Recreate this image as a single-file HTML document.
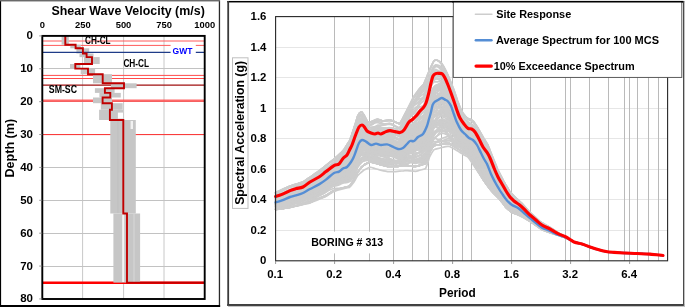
<!DOCTYPE html>
<html><head><meta charset="utf-8"><title>Shear Wave Velocity and Site Response Spectra</title>
<style>html,body{margin:0;padding:0;background:#fff;overflow:hidden}svg{display:block}text{font-kerning:normal}</style>
</head><body>
<svg width="685" height="307" viewBox="0 0 685 307">
<rect width="685" height="307" fill="#fff"/>
<rect x="0" y="0" width="220.1" height="1.45" fill="#6a6a6a"/>
<rect x="0" y="1.2" width="1.1" height="306" fill="#000"/>
<rect x="218.8" y="1.2" width="1.3" height="306" fill="#2a2a2a"/>
<rect x="0" y="305.0" width="220.1" height="2" fill="#000"/>
<line x1="82.6" y1="35.9" x2="82.6" y2="298.95" stroke="#c8c8c8" stroke-width="1"/>
<line x1="123.6" y1="35.9" x2="123.6" y2="298.95" stroke="#c8c8c8" stroke-width="1"/>
<line x1="164.0" y1="35.9" x2="164.0" y2="298.95" stroke="#c8c8c8" stroke-width="1"/>
<line x1="42.3" y1="68.5" x2="204.7" y2="68.5" stroke="#c2c2c2" stroke-width="1"/>
<line x1="42.3" y1="101.5" x2="204.7" y2="101.5" stroke="#c2c2c2" stroke-width="1"/>
<line x1="42.3" y1="134.5" x2="204.7" y2="134.5" stroke="#c2c2c2" stroke-width="1"/>
<line x1="42.3" y1="167.5" x2="204.7" y2="167.5" stroke="#c2c2c2" stroke-width="1"/>
<line x1="42.3" y1="200.5" x2="204.7" y2="200.5" stroke="#c2c2c2" stroke-width="1"/>
<line x1="42.3" y1="233.5" x2="204.7" y2="233.5" stroke="#c2c2c2" stroke-width="1"/>
<line x1="42.3" y1="266.5" x2="204.7" y2="266.5" stroke="#c2c2c2" stroke-width="1"/>
<line x1="42.3" y1="282.7" x2="204.7" y2="282.7" stroke="#ff0000" stroke-width="2.6"/>
<line x1="42.3" y1="41.0" x2="204.7" y2="41.0" stroke="#ff5a5a" stroke-width="1.0"/>
<line x1="42.3" y1="45.4" x2="204.7" y2="45.4" stroke="#ff5a5a" stroke-width="1.0"/>
<line x1="42.3" y1="75.4" x2="204.7" y2="75.4" stroke="#ff4a4a" stroke-width="1.0"/>
<line x1="42.3" y1="78.5" x2="204.7" y2="78.5" stroke="#ff4a4a" stroke-width="1.0"/>
<line x1="42.3" y1="134.6" x2="204.7" y2="134.6" stroke="#ff3030" stroke-width="1.0"/>
<line x1="42.3" y1="100.7" x2="204.7" y2="100.7" stroke="#ff5050" stroke-width="2.6" opacity="0.85"/>
<line x1="42.3" y1="85.2" x2="204.7" y2="85.2" stroke="#a01010" stroke-width="1.25"/>
<rect x="61.6" y="36.0" width="7.2" height="8.7" fill="#c6c6c6"/>
<rect x="70.3" y="44.7" width="10.5" height="3.6" fill="#c6c6c6"/>
<rect x="76.4" y="48.3" width="12.8" height="5.2" fill="#c6c6c6"/>
<rect x="79.5" y="53.5" width="14.0" height="3.6" fill="#c6c6c6"/>
<rect x="84.0" y="57.1" width="15.7" height="6.9" fill="#c6c6c6"/>
<rect x="70.0" y="64.0" width="10.4" height="4.6" fill="#c6c6c6"/>
<rect x="80.7" y="68.6" width="14.4" height="5.6" fill="#c6c6c6"/>
<rect x="93.0" y="74.2" width="19.0" height="9.1" fill="#c6c6c6"/>
<rect x="110.9" y="83.3" width="25.7" height="4.9" fill="#c6c6c6"/>
<rect x="94.9" y="88.2" width="19.7" height="4.7" fill="#c6c6c6"/>
<rect x="99.4" y="92.9" width="21.4" height="4.6" fill="#c6c6c6"/>
<rect x="93.0" y="97.5" width="19.0" height="5.7" fill="#c6c6c6"/>
<rect x="100.8" y="103.2" width="21.9" height="6.5" fill="#c6c6c6"/>
<rect x="99.1" y="109.7" width="21.3" height="10.3" fill="#c6c6c6"/>
<rect x="110.3" y="120.0" width="25.5" height="93.5" fill="#c6c6c6"/>
<rect x="113.4" y="213.5" width="26.7" height="69.1" fill="#c6c6c6"/>
<rect x="118" y="109.7" width="5" height="10.3" fill="#c6c6c6"/>
<rect x="117.9" y="112.6" width="5.1" height="6" fill="#fff"/>
<rect x="130.6" y="121" width="2.4" height="8" fill="#f2f2f2"/>
<rect x="122.2" y="214" width="2.0" height="68" fill="#f4f4f4"/>
<rect x="133.6" y="214" width="0.8" height="68" fill="#dcdcdc"/>
<rect x="117.5" y="120" width="0.8" height="93" fill="#bdbdbd"/>
<line x1="42.3" y1="52.4" x2="204.7" y2="52.4" stroke="#1f3c88" stroke-width="1.4"/>
<rect x="170.6" y="44" width="25.2" height="12.5" fill="#fff"/>
<text x="172.5" y="54" font-family="Liberation Sans, Arial, sans-serif" font-weight="bold" font-size="8.6" fill="#0000ff" textLength="19.9" lengthAdjust="spacingAndGlyphs">GWT</text>
<path d="M65.3,36.0 L65.3,44.7 L75.6,44.7 L75.6,48.3 L82.9,48.3 L82.9,53.5 L86.6,53.5 L86.6,57.1 L92.0,57.1 L92.0,64.0 L75.3,64.0 L75.3,68.6 L88.0,68.6 L88.0,74.2 L102.7,74.2 L102.7,83.3 L124.0,83.3 L124.0,88.2 L104.9,88.2 L104.9,92.9 L110.3,92.9 L110.3,97.5 L102.6,97.5 L102.6,103.2 L111.9,103.2 L111.9,109.7 L109.9,109.7 L109.9,120.0 L123.3,120.0 L123.3,213.5 L127.0,213.5 L127.0,282.6 L204.2,282.6" fill="none" stroke="#c00000" stroke-width="1.9" stroke-linejoin="miter"/>
<rect x="42.3" y="35.9" width="162.4" height="263.1" fill="none" stroke="#000" stroke-width="1.9"/>
<line x1="39.2" y1="35.90" x2="42.3" y2="35.90" stroke="#808080" stroke-width="0.8"/>
<line x1="39.2" y1="68.78" x2="42.3" y2="68.78" stroke="#808080" stroke-width="0.8"/>
<line x1="39.2" y1="101.66" x2="42.3" y2="101.66" stroke="#808080" stroke-width="0.8"/>
<line x1="39.2" y1="134.54" x2="42.3" y2="134.54" stroke="#808080" stroke-width="0.8"/>
<line x1="39.2" y1="167.43" x2="42.3" y2="167.43" stroke="#808080" stroke-width="0.8"/>
<line x1="39.2" y1="200.31" x2="42.3" y2="200.31" stroke="#808080" stroke-width="0.8"/>
<line x1="39.2" y1="233.19" x2="42.3" y2="233.19" stroke="#808080" stroke-width="0.8"/>
<line x1="39.2" y1="266.07" x2="42.3" y2="266.07" stroke="#808080" stroke-width="0.8"/>
<line x1="39.2" y1="298.95" x2="42.3" y2="298.95" stroke="#808080" stroke-width="0.8"/>
<text x="51.4" y="15.4" font-family="Liberation Sans, Arial, sans-serif" font-weight="bold" font-size="12.9" textLength="153.4" lengthAdjust="spacingAndGlyphs">Shear Wave Velocity (m/s)</text>
<text x="42.3" y="27.9" font-family="Liberation Sans, Arial, sans-serif" font-weight="bold" font-size="9.4" text-anchor="middle">0</text>
<text x="82.9" y="27.9" font-family="Liberation Sans, Arial, sans-serif" font-weight="bold" font-size="9.4" text-anchor="middle">250</text>
<text x="123.5" y="27.9" font-family="Liberation Sans, Arial, sans-serif" font-weight="bold" font-size="9.4" text-anchor="middle">500</text>
<text x="164.1" y="27.9" font-family="Liberation Sans, Arial, sans-serif" font-weight="bold" font-size="9.4" text-anchor="middle">750</text>
<text x="204.7" y="27.9" font-family="Liberation Sans, Arial, sans-serif" font-weight="bold" font-size="9.4" text-anchor="middle">1000</text>
<text x="33" y="39.3" font-family="Liberation Sans, Arial, sans-serif" font-weight="bold" font-size="11.5" text-anchor="end">0</text>
<text x="33" y="72.2" font-family="Liberation Sans, Arial, sans-serif" font-weight="bold" font-size="11.5" text-anchor="end">10</text>
<text x="33" y="105.1" font-family="Liberation Sans, Arial, sans-serif" font-weight="bold" font-size="11.5" text-anchor="end">20</text>
<text x="33" y="137.9" font-family="Liberation Sans, Arial, sans-serif" font-weight="bold" font-size="11.5" text-anchor="end">30</text>
<text x="33" y="170.8" font-family="Liberation Sans, Arial, sans-serif" font-weight="bold" font-size="11.5" text-anchor="end">40</text>
<text x="33" y="203.7" font-family="Liberation Sans, Arial, sans-serif" font-weight="bold" font-size="11.5" text-anchor="end">50</text>
<text x="33" y="236.6" font-family="Liberation Sans, Arial, sans-serif" font-weight="bold" font-size="11.5" text-anchor="end">60</text>
<text x="33" y="269.5" font-family="Liberation Sans, Arial, sans-serif" font-weight="bold" font-size="11.5" text-anchor="end">70</text>
<text x="33" y="302.3" font-family="Liberation Sans, Arial, sans-serif" font-weight="bold" font-size="11.5" text-anchor="end">80</text>
<text transform="translate(13.6,177.5) rotate(-90)" font-family="Liberation Sans, Arial, sans-serif" font-weight="bold" font-size="12.5" textLength="58.6" lengthAdjust="spacingAndGlyphs">Depth (m)</text>
<text x="85" y="44.2" font-family="Liberation Sans, Arial, sans-serif" font-weight="bold" font-size="10.3" textLength="25.6" lengthAdjust="spacingAndGlyphs">CH-CL</text>
<text x="123.4" y="66.8" font-family="Liberation Sans, Arial, sans-serif" font-weight="bold" font-size="10.3" textLength="25.7" lengthAdjust="spacingAndGlyphs">CH-CL</text>
<text x="48.8" y="92.8" font-family="Liberation Sans, Arial, sans-serif" font-weight="bold" font-size="10.3" textLength="28.2" lengthAdjust="spacingAndGlyphs">SM-SC</text>
<rect x="227.3" y="1.05" width="457" height="304.6" fill="#fff"/>
<rect x="227.3" y="0.95" width="457" height="1.5" fill="#000"/>
<rect x="227.3" y="304.25" width="457" height="1.6" fill="#000"/>
<rect x="227.3" y="1.05" width="1.8" height="304.6" fill="#3a3a3a"/>
<rect x="683.0" y="1.05" width="1.3" height="304.6" fill="#4a4a4a"/>
<rect x="228" y="305.8" width="457" height="1.2" fill="#c4c4c4"/>
<rect x="684.4" y="1" width="0.6" height="306" fill="#bdbdbd"/>
<line x1="275.6" y1="230.5" x2="667.6" y2="230.5" stroke="#e6e6e6" stroke-width="1"/>
<line x1="275.6" y1="199.5" x2="667.6" y2="199.5" stroke="#e6e6e6" stroke-width="1"/>
<line x1="275.6" y1="169.5" x2="667.6" y2="169.5" stroke="#e6e6e6" stroke-width="1"/>
<line x1="275.6" y1="138.5" x2="667.6" y2="138.5" stroke="#e6e6e6" stroke-width="1"/>
<line x1="275.6" y1="108.5" x2="667.6" y2="108.5" stroke="#e6e6e6" stroke-width="1"/>
<line x1="275.6" y1="77.5" x2="667.6" y2="77.5" stroke="#e6e6e6" stroke-width="1"/>
<line x1="275.6" y1="47.5" x2="667.6" y2="47.5" stroke="#e6e6e6" stroke-width="1"/>
<line x1="334.5" y1="16.6" x2="334.5" y2="260.8" stroke="#bababa" stroke-width="1"/>
<line x1="369.5" y1="16.6" x2="369.5" y2="260.8" stroke="#bababa" stroke-width="1"/>
<line x1="393.5" y1="16.6" x2="393.5" y2="260.8" stroke="#bababa" stroke-width="1"/>
<line x1="412.5" y1="16.6" x2="412.5" y2="260.8" stroke="#bababa" stroke-width="1"/>
<line x1="428.5" y1="16.6" x2="428.5" y2="260.8" stroke="#bababa" stroke-width="1"/>
<line x1="441.5" y1="16.6" x2="441.5" y2="260.8" stroke="#bababa" stroke-width="1"/>
<line x1="452.5" y1="16.6" x2="452.5" y2="260.8" stroke="#bababa" stroke-width="1"/>
<line x1="462.5" y1="16.6" x2="462.5" y2="260.8" stroke="#bababa" stroke-width="1"/>
<line x1="471.5" y1="16.6" x2="471.5" y2="260.8" stroke="#bababa" stroke-width="1"/>
<line x1="530.5" y1="16.6" x2="530.5" y2="260.8" stroke="#bababa" stroke-width="1"/>
<line x1="565.5" y1="16.6" x2="565.5" y2="260.8" stroke="#bababa" stroke-width="1"/>
<line x1="589.5" y1="16.6" x2="589.5" y2="260.8" stroke="#bababa" stroke-width="1"/>
<line x1="608.5" y1="16.6" x2="608.5" y2="260.8" stroke="#bababa" stroke-width="1"/>
<line x1="624.5" y1="16.6" x2="624.5" y2="260.8" stroke="#bababa" stroke-width="1"/>
<line x1="637.5" y1="16.6" x2="637.5" y2="260.8" stroke="#bababa" stroke-width="1"/>
<line x1="648.5" y1="16.6" x2="648.5" y2="260.8" stroke="#bababa" stroke-width="1"/>
<line x1="658.5" y1="16.6" x2="658.5" y2="260.8" stroke="#bababa" stroke-width="1"/>
<line x1="511.5" y1="16.6" x2="511.5" y2="260.8" stroke="#bababa" stroke-width="1"/>
<line x1="570.5" y1="16.6" x2="570.5" y2="260.8" stroke="#bababa" stroke-width="1"/>
<line x1="629.5" y1="16.6" x2="629.5" y2="260.8" stroke="#bababa" stroke-width="1"/>
<g fill="none" stroke="#cdcdcd" stroke-width="1.7" stroke-linejoin="round" stroke-linecap="round">
<path d="M275.6,209.7 277.6,209.4 279.6,209.1 281.6,208.8 283.6,208.5 285.6,208.2 287.6,208.0 289.6,207.7 291.6,207.2 293.6,206.8 295.6,206.3 297.6,205.8 299.6,205.4 301.6,204.9 303.6,204.5 305.6,204.0 307.6,203.6 309.6,203.1 311.6,202.3 313.6,201.5 315.6,200.7 317.6,199.9 319.6,199.0 321.6,198.2 323.6,197.4 325.6,196.6 327.6,195.4 329.6,194.1 331.6,192.9 333.6,191.6 335.6,190.9 337.6,190.3 339.6,189.7 341.6,189.1 343.6,188.6 345.6,188.2 347.6,187.7 349.6,187.3 351.6,185.1 353.6,182.5 355.6,179.2 357.6,175.7 359.6,173.7 361.6,172.0 363.6,170.3 365.6,169.2 367.6,168.2 369.6,167.2 371.6,167.5 373.6,168.1 375.6,168.7 377.6,169.3 379.6,169.9 381.6,170.4 383.6,170.8 385.6,171.2 387.6,171.6 389.6,171.7 391.6,171.6 393.6,171.6 395.6,171.6 397.6,171.4 399.6,171.2 401.6,171.0 403.6,170.8 405.6,170.5 407.6,170.6 409.6,170.8 411.6,171.0 413.6,171.2 415.6,171.4 417.6,170.9 419.6,170.3 421.6,169.8 423.6,169.2 425.6,168.6 427.6,163.3 429.6,156.8 431.6,153.1 433.6,150.1 435.6,149.1 437.6,148.6 439.6,148.1 441.6,147.5 443.6,147.1 445.6,146.7 447.6,146.3 449.6,146.4 451.6,147.4 453.6,148.5 455.6,149.7 457.6,150.9 459.6,152.2 461.6,153.4 463.6,154.7 465.6,155.7 467.6,156.8 469.6,159.3 471.6,162.3 473.6,165.2 475.6,168.2 477.6,171.3 479.6,174.4 481.6,177.4 483.6,180.5 485.6,183.1 487.6,185.6 489.6,188.2 491.6,190.8 493.6,192.9 495.6,195.0 497.6,197.0 499.6,199.1 501.6,201.6 503.6,204.3 505.6,207.0 507.6,208.9 509.6,210.6 511.6,212.4 513.6,213.3 515.6,214.0 517.6,214.7 519.6,215.7 521.6,216.7 523.6,217.7 525.6,218.9 527.6,220.1 529.6,221.3 531.6,222.7 533.6,224.0 535.6,225.4 537.6,226.8 539.6,228.2 541.6,229.6 543.6,230.5 545.6,231.2 547.6,232.0 549.6,232.7 551.6,233.4 553.6,234.0 555.6,234.6 557.6,235.3 559.6,235.9 561.6,236.6 563.6,237.3 565.6,238.1 567.6,238.9 569.6,239.6 571.6,240.7 573.6,241.8 575.6,242.4 577.6,242.9 579.6,243.4 581.6,243.9 583.6,244.6 585.6,245.4 587.6,246.1 589.6,246.9 591.6,247.5 593.6,248.2 595.6,248.8 597.6,249.5 599.6,250.0 601.6,250.5 603.6,251.0 605.6,251.5 607.6,251.8 609.6,252.0 611.6,252.2 613.6,252.4 615.6,252.5 617.6,252.6 619.6,252.7 621.6,252.9 623.6,253.0 625.6,253.1 627.6,253.1 629.6,253.2 631.6,253.3 633.6,253.4 635.6,253.4 637.6,253.5 639.6,253.6 641.6,253.7 643.6,253.8 645.6,253.9 647.6,254.0 649.6,254.1 651.6,254.3 653.6,254.5 655.6,254.7 657.6,254.9 659.6,255.1 661.6,255.3"/>
<path d="M275.6,192.8 277.6,191.9 279.6,190.9 281.6,190.0 283.6,189.0 285.6,188.1 287.6,187.2 289.6,186.3 291.6,185.7 293.6,185.1 295.6,184.5 297.6,183.9 299.6,183.3 301.6,182.7 303.6,181.9 305.6,180.5 307.6,179.2 309.6,177.8 311.6,176.5 313.6,175.1 315.6,173.7 317.6,172.4 319.6,170.9 321.6,169.3 323.6,167.7 325.6,166.1 327.6,164.5 329.6,162.8 331.6,161.2 333.6,159.5 335.6,157.7 337.6,155.9 339.6,154.1 341.6,152.3 343.6,150.1 345.6,146.9 347.6,143.8 349.6,140.6 351.6,135.2 353.6,129.2 355.6,123.0 357.6,116.3 359.6,112.9 361.6,111.8 363.6,114.5 365.6,118.2 367.6,122.2 369.6,122.4 371.6,121.6 373.6,120.7 375.6,119.7 377.6,119.2 379.6,119.9 381.6,120.5 383.6,120.9 385.6,120.6 387.6,120.3 389.6,120.1 391.6,120.6 393.6,121.4 395.6,122.2 397.6,123.0 399.6,123.8 401.6,121.0 403.6,117.2 405.6,113.5 407.6,109.8 409.6,106.0 411.6,102.3 413.6,98.6 415.6,95.7 417.6,93.0 419.6,90.3 421.6,88.1 423.6,85.9 425.6,81.0 427.6,75.7 429.6,70.7 431.6,65.8 433.6,61.6 435.6,59.9 437.6,60.4 439.6,61.5 441.6,63.3 443.6,66.4 445.6,70.2 447.6,74.4 449.6,79.1 451.6,84.0 453.6,89.0 455.6,94.8 457.6,100.8 459.6,106.0 461.6,111.0 463.6,114.0 465.6,116.6 467.6,118.6 469.6,119.6 471.6,120.6 473.6,122.2 475.6,125.3 477.6,128.3 479.6,131.9 481.6,135.5 483.6,139.1 485.6,142.3 487.6,145.5 489.6,150.3 491.6,155.5 493.6,160.6 495.6,165.3 497.6,170.0 499.6,174.1 501.6,178.0 503.6,181.9 505.6,185.3 507.6,188.6 509.6,191.8 511.6,194.0 513.6,196.0 515.6,197.9 517.6,199.7 519.6,201.6 521.6,203.4 523.6,205.5 525.6,207.8 527.6,210.0 529.6,212.2 531.6,214.1 533.6,215.9 535.6,217.7 537.6,219.5 539.6,221.3 541.6,222.6 543.6,223.8 545.6,225.0 547.6,226.1 549.6,227.3 551.6,228.6 553.6,229.8 555.6,231.1 557.6,232.3 559.6,233.6 561.6,234.7 563.6,235.8 565.6,236.9 567.6,238.1 569.6,239.2 571.6,240.4 573.6,241.7 575.6,242.4 577.6,242.9 579.6,243.4 581.6,243.9 583.6,244.6 585.6,245.4 587.6,246.1 589.6,246.9 591.6,247.5 593.6,248.2 595.6,248.8 597.6,249.5 599.6,250.0 601.6,250.5 603.6,251.0 605.6,251.5 607.6,251.8 609.6,252.0 611.6,252.2 613.6,252.4 615.6,252.5 617.6,252.6 619.6,252.7 621.6,252.9 623.6,253.0 625.6,253.1 627.6,253.1 629.6,253.2 631.6,253.3 633.6,253.4 635.6,253.4 637.6,253.5 639.6,253.6 641.6,253.7 643.6,253.8 645.6,253.9 647.6,254.0 649.6,254.1 651.6,254.3 653.6,254.5 655.6,254.7 657.6,254.9 659.6,255.1 661.6,255.3"/>
<path d="M275.6,193.4 277.6,192.5 279.6,191.7 281.6,190.8 283.6,189.9 285.6,189.0 287.6,188.1 289.6,187.2 291.6,186.5 293.6,185.9 295.6,185.3 297.6,184.6 299.6,184.0 301.6,183.3 303.6,182.4 305.6,181.1 307.6,179.7 309.6,178.3 311.6,176.9 313.6,175.5 315.6,174.1 317.6,172.7 319.6,171.2 321.6,169.6 323.6,168.0 325.6,166.4 327.6,164.8 329.6,163.1 331.6,161.5 333.6,159.9 335.6,158.2 337.6,156.5 339.6,154.8 341.6,153.1 343.6,151.0 345.6,148.0 347.6,145.0 349.6,142.0 351.6,136.8 353.6,131.1 355.6,125.0 357.6,118.6 359.6,115.2 361.6,114.2 363.6,116.8 365.6,120.4 367.6,124.3 369.6,124.7 371.6,124.2 373.6,123.5 375.6,122.7 377.6,122.4 379.6,123.2 381.6,123.9 383.6,124.3 385.6,124.1 387.6,123.9 389.6,123.9 391.6,124.5 393.6,125.4 395.6,126.2 397.6,127.0 399.6,127.6 401.6,125.0 403.6,121.4 405.6,117.7 407.6,114.0 409.6,110.2 411.6,106.7 413.6,103.2 415.6,100.5 417.6,97.8 419.6,95.3 421.6,93.3 423.6,91.2 425.6,86.5 427.6,81.3 429.6,76.2 431.6,71.1 433.6,66.7 435.6,64.9 437.6,65.1 439.6,65.8 441.6,67.1 443.6,69.7 445.6,73.0 447.6,76.8 449.6,81.1 451.6,85.7 453.6,90.6 455.6,96.2 457.6,102.0 459.6,106.9 461.6,111.7 463.6,114.5 465.6,116.8 467.6,118.7 469.6,119.5 471.6,120.3 473.6,121.8 475.6,124.8 477.6,127.8 479.6,131.4 481.6,135.1 483.6,138.7 485.6,142.0 487.6,145.4 489.6,150.4 491.6,155.7 493.6,160.9 495.6,165.9 497.6,170.7 499.6,175.0 501.6,179.0 503.6,183.0 505.6,186.5 507.6,189.9 509.6,193.1 511.6,195.3 513.6,197.3 515.6,199.2 517.6,200.9 519.6,202.7 521.6,204.6 523.6,206.6 525.6,208.8 527.6,210.9 529.6,213.1 531.6,214.9 533.6,216.7 535.6,218.5 537.6,220.2 539.6,222.0 541.6,223.3 543.6,224.4 545.6,225.6 547.6,226.7 549.6,227.8 551.6,229.0 553.6,230.2 555.6,231.4 557.6,232.7 559.6,233.8 561.6,234.9 563.6,236.0 565.6,237.0 567.6,238.1 569.6,239.2 571.6,240.5 573.6,241.7 575.6,242.4 577.6,242.9 579.6,243.4 581.6,243.9 583.6,244.6 585.6,245.4 587.6,246.1 589.6,246.9 591.6,247.5 593.6,248.2 595.6,248.8 597.6,249.5 599.6,250.0 601.6,250.5 603.6,251.0 605.6,251.5 607.6,251.8 609.6,252.0 611.6,252.2 613.6,252.4 615.6,252.5 617.6,252.6 619.6,252.7 621.6,252.9 623.6,253.0 625.6,253.1 627.6,253.1 629.6,253.2 631.6,253.3 633.6,253.4 635.6,253.4 637.6,253.5 639.6,253.6 641.6,253.7 643.6,253.8 645.6,253.9 647.6,254.0 649.6,254.1 651.6,254.3 653.6,254.5 655.6,254.7 657.6,254.9 659.6,255.1 661.6,255.3"/>
<path d="M275.6,203.1 277.6,202.7 279.6,202.2 281.6,201.6 283.6,200.8 285.6,200.0 287.6,199.2 289.6,198.3 291.6,197.6 293.6,196.9 295.6,196.2 297.6,195.4 299.6,194.7 301.6,194.2 303.6,193.7 305.6,192.9 307.6,192.1 309.6,191.2 311.6,190.4 313.6,189.8 315.6,189.5 317.6,189.3 319.6,189.0 321.6,188.3 323.6,187.5 325.6,186.5 327.6,185.3 329.6,183.9 331.6,182.4 333.6,181.0 335.6,180.2 337.6,179.7 339.6,178.9 341.6,177.6 343.6,176.4 345.6,175.6 347.6,174.5 349.6,172.8 351.6,170.0 353.6,166.6 355.6,162.1 357.6,157.6 359.6,154.4 361.6,152.8 363.6,152.5 365.6,152.7 367.6,153.0 369.6,153.2 371.6,153.8 373.6,154.1 375.6,154.5 377.6,155.3 379.6,156.0 381.6,156.5 383.6,157.0 385.6,157.8 387.6,158.9 389.6,159.9 391.6,160.5 393.6,160.8 395.6,160.7 397.6,160.3 399.6,159.4 401.6,158.4 403.6,157.2 405.6,155.6 407.6,153.9 409.6,152.2 411.6,151.5 413.6,151.4 415.6,150.6 417.6,149.2 419.6,148.0 421.6,146.9 423.6,145.4 425.6,142.9 427.6,138.3 429.6,132.2 431.6,127.2 433.6,123.5 435.6,122.7 437.6,122.6 439.6,122.2 441.6,121.3 443.6,121.0 445.6,120.2 447.6,119.6 449.6,120.2 451.6,122.2 453.6,125.7 455.6,129.2 457.6,132.5 459.6,134.8 461.6,136.7 463.6,137.6 465.6,138.6 467.6,139.7 469.6,141.1 471.6,142.0 473.6,143.4 475.6,146.2 477.6,149.9 479.6,154.8 481.6,159.8 483.6,164.7 485.6,168.8 487.6,172.6 489.6,176.8 491.6,180.7 493.6,184.0 495.6,187.3 497.6,190.5 499.6,193.7 501.6,197.0 503.6,200.3 505.6,203.5 507.6,205.9 509.6,207.9 511.6,209.6 513.6,210.4 515.6,211.0 517.6,211.7 519.6,212.7 521.6,213.7 523.6,214.9 525.6,216.1 527.6,217.6 529.6,219.0 531.6,220.6 533.6,222.1 535.6,223.6 537.6,225.1 539.6,226.6 541.6,228.0 543.6,228.9 545.6,229.6 547.6,230.4 549.6,231.1 551.6,231.9 553.6,232.9 555.6,233.8 557.6,234.8 559.6,235.5 561.6,236.2 563.6,236.8 565.6,237.5 567.6,238.5 569.6,239.6 571.6,240.7 573.6,241.8 575.6,242.4 577.6,242.9 579.6,243.4 581.6,243.9 583.6,244.6 585.6,245.4 587.6,246.1 589.6,246.9 591.6,247.5 593.6,248.2 595.6,248.8 597.6,249.5 599.6,250.0 601.6,250.5 603.6,251.0 605.6,251.5 607.6,251.8 609.6,252.0 611.6,252.2 613.6,252.4 615.6,252.5 617.6,252.6 619.6,252.7 621.6,252.9 623.6,253.0 625.6,253.1 627.6,253.1 629.6,253.2 631.6,253.3 633.6,253.4 635.6,253.4 637.6,253.5 639.6,253.6 641.6,253.7 643.6,253.8 645.6,253.9 647.6,254.0 649.6,254.1 651.6,254.3 653.6,254.5 655.6,254.7 657.6,254.9 659.6,255.1 661.6,255.3"/>
<path d="M275.6,209.5 277.6,209.2 279.6,208.9 281.6,208.6 283.6,208.3 285.6,208.0 287.6,207.7 289.6,207.5 291.6,207.0 293.6,206.5 295.6,206.0 297.6,205.4 299.6,204.9 301.6,204.4 303.6,203.9 305.6,203.4 307.6,202.9 309.6,202.4 311.6,201.6 313.6,200.8 315.6,199.9 317.6,199.1 319.6,198.2 321.6,197.4 323.6,196.6 325.6,195.7 327.6,194.5 329.6,193.3 331.6,192.0 333.6,190.8 335.6,190.0 337.6,189.4 339.6,188.8 341.6,188.2 343.6,187.7 345.6,187.2 347.6,186.8 349.6,186.3 351.6,183.6 353.6,180.3 355.6,176.3 357.6,172.2 359.6,169.5 361.6,167.1 363.6,165.3 365.6,164.1 367.6,163.0 369.6,162.0 371.6,162.2 373.6,162.8 375.6,163.3 377.6,163.8 379.6,164.4 381.6,164.9 383.6,165.4 385.6,165.9 387.6,166.4 389.6,166.5 391.6,166.5 393.6,166.5 395.6,166.5 397.6,166.3 399.6,166.1 401.6,165.9 403.6,165.7 405.6,165.5 407.6,165.7 409.6,165.9 411.6,166.1 413.6,166.3 415.6,166.5 417.6,166.0 419.6,165.4 421.6,164.8 423.6,164.2 425.6,163.7 427.6,158.6 429.6,152.3 431.6,148.8 433.6,146.0 435.6,145.2 437.6,144.9 439.6,144.6 441.6,144.2 443.6,143.9 445.6,143.7 447.6,143.5 449.6,143.7 451.6,144.9 453.6,146.1 455.6,147.3 457.6,148.6 459.6,149.9 461.6,151.2 463.6,152.5 465.6,153.7 467.6,154.7 469.6,157.4 471.6,160.6 473.6,163.9 475.6,167.1 477.6,170.4 479.6,173.6 481.6,176.9 483.6,180.1 485.6,183.0 487.6,185.7 489.6,188.5 491.6,191.0 493.6,193.1 495.6,195.1 497.6,197.1 499.6,199.1 501.6,201.6 503.6,204.3 505.6,207.0 507.6,208.8 509.6,210.5 511.6,212.2 513.6,213.0 515.6,213.7 517.6,214.4 519.6,215.3 521.6,216.3 523.6,217.3 525.6,218.5 527.6,219.7 529.6,220.9 531.6,222.2 533.6,223.6 535.6,225.0 537.6,226.4 539.6,227.8 541.6,229.2 543.6,230.1 545.6,230.9 547.6,231.6 549.6,232.4 551.6,233.0 553.6,233.6 555.6,234.2 557.6,234.8 559.6,235.5 561.6,236.2 563.6,236.9 565.6,237.6 567.6,238.5 569.6,239.6 571.6,240.7 573.6,241.8 575.6,242.4 577.6,242.9 579.6,243.4 581.6,243.9 583.6,244.6 585.6,245.4 587.6,246.1 589.6,246.9 591.6,247.5 593.6,248.2 595.6,248.8 597.6,249.5 599.6,250.0 601.6,250.5 603.6,251.0 605.6,251.5 607.6,251.8 609.6,252.0 611.6,252.2 613.6,252.4 615.6,252.5 617.6,252.6 619.6,252.7 621.6,252.9 623.6,253.0 625.6,253.1 627.6,253.1 629.6,253.2 631.6,253.3 633.6,253.4 635.6,253.4 637.6,253.5 639.6,253.6 641.6,253.7 643.6,253.8 645.6,253.9 647.6,254.0 649.6,254.1 651.6,254.3 653.6,254.5 655.6,254.7 657.6,254.9 659.6,255.1 661.6,255.3"/>
<path d="M275.6,202.1 277.6,201.5 279.6,200.9 281.6,200.3 283.6,199.6 285.6,198.8 287.6,197.9 289.6,197.1 291.6,196.3 293.6,195.4 295.6,194.5 297.6,193.6 299.6,192.8 301.6,192.1 303.6,191.3 305.6,190.0 307.6,188.5 309.6,186.9 311.6,185.3 313.6,183.9 315.6,182.5 317.6,181.3 319.6,179.9 321.6,178.3 323.6,176.7 325.6,175.0 327.6,173.2 329.6,171.3 331.6,169.3 333.6,167.2 335.6,165.5 337.6,163.8 339.6,162.1 341.6,160.0 343.6,157.7 345.6,154.7 347.6,151.1 349.6,147.3 351.6,142.0 353.6,136.2 355.6,130.1 357.6,123.7 359.6,119.9 361.6,118.5 363.6,120.5 365.6,123.4 367.6,126.7 369.6,127.3 371.6,127.3 373.6,127.3 375.6,127.4 377.6,128.3 379.6,129.9 381.6,131.3 383.6,132.2 385.6,132.9 387.6,133.6 389.6,134.5 391.6,135.7 393.6,136.9 395.6,138.1 397.6,139.2 399.6,139.6 401.6,138.6 403.6,137.2 405.6,135.1 407.6,132.4 409.6,129.0 411.6,126.3 413.6,124.0 415.6,121.4 417.6,118.8 419.6,116.3 421.6,114.0 423.6,111.6 425.6,107.8 427.6,103.9 429.6,99.2 431.6,93.8 433.6,89.0 435.6,86.9 437.6,86.0 439.6,85.5 441.6,85.5 443.6,87.7 445.6,90.1 447.6,92.8 449.6,96.3 451.6,100.7 453.6,106.5 455.6,112.6 457.6,118.1 459.6,122.3 461.6,125.6 463.6,127.5 465.6,129.3 467.6,131.2 469.6,132.6 471.6,133.3 473.6,134.6 475.6,137.1 477.6,140.0 479.6,143.9 481.6,147.8 483.6,151.6 485.6,155.0 487.6,158.4 489.6,162.8 491.6,167.1 493.6,171.2 495.6,175.2 497.6,179.1 499.6,182.7 501.6,185.9 503.6,189.2 505.6,192.2 507.6,195.0 509.6,197.4 511.6,199.3 513.6,200.9 515.6,202.7 517.6,204.4 519.6,206.3 521.6,208.2 523.6,210.1 525.6,212.1 527.6,214.1 529.6,216.2 531.6,218.2 533.6,220.2 535.6,222.1 537.6,223.9 539.6,225.4 541.6,226.9 543.6,227.8 545.6,228.7 547.6,229.6 549.6,230.5 551.6,231.5 553.6,232.6 555.6,233.7 557.6,234.8 559.6,235.5 561.6,236.2 563.6,236.8 565.6,237.5 567.6,238.5 569.6,239.6 571.6,240.7 573.6,241.8 575.6,242.4 577.6,242.9 579.6,243.4 581.6,243.9 583.6,244.6 585.6,245.4 587.6,246.1 589.6,246.9 591.6,247.5 593.6,248.2 595.6,248.8 597.6,249.5 599.6,250.0 601.6,250.5 603.6,251.0 605.6,251.5 607.6,251.8 609.6,252.0 611.6,252.2 613.6,252.4 615.6,252.5 617.6,252.6 619.6,252.7 621.6,252.9 623.6,253.0 625.6,253.1 627.6,253.1 629.6,253.2 631.6,253.3 633.6,253.4 635.6,253.4 637.6,253.5 639.6,253.6 641.6,253.7 643.6,253.8 645.6,253.9 647.6,254.0 649.6,254.1 651.6,254.3 653.6,254.5 655.6,254.7 657.6,254.9 659.6,255.1 661.6,255.3"/>
<path d="M275.6,204.2 277.6,203.7 279.6,203.2 281.6,202.8 283.6,202.2 285.6,201.6 287.6,200.8 289.6,200.1 291.6,199.5 293.6,199.0 295.6,198.6 297.6,198.2 299.6,197.9 301.6,197.4 303.6,196.6 305.6,195.7 307.6,194.7 309.6,193.6 311.6,192.3 313.6,191.1 315.6,189.8 317.6,188.5 319.6,187.0 321.6,185.2 323.6,183.5 325.6,182.1 327.6,180.9 329.6,179.8 331.6,178.6 333.6,177.1 335.6,176.0 337.6,174.9 339.6,173.4 341.6,171.1 343.6,169.0 345.6,167.4 347.6,165.4 349.6,162.3 351.6,159.0 353.6,155.0 355.6,149.9 357.6,144.8 359.6,140.8 361.6,139.0 363.6,139.6 365.6,140.8 367.6,142.4 369.6,144.0 371.6,145.3 373.6,145.6 375.6,146.2 377.6,147.8 379.6,149.4 381.6,150.6 383.6,151.3 385.6,151.9 387.6,152.8 389.6,153.9 391.6,154.9 393.6,155.8 395.6,156.6 397.6,157.4 399.6,157.3 401.6,156.9 403.6,155.8 405.6,154.0 407.6,152.5 409.6,151.5 411.6,152.0 413.6,152.9 415.6,153.1 417.6,152.8 419.6,152.2 421.6,151.4 423.6,150.3 425.6,148.8 427.6,144.5 429.6,138.4 431.6,133.0 433.6,128.2 435.6,125.8 437.6,124.3 439.6,123.2 441.6,122.8 443.6,123.9 445.6,125.2 447.6,126.3 449.6,128.0 451.6,130.5 453.6,133.7 455.6,136.6 457.6,139.2 459.6,141.5 461.6,143.8 463.6,145.8 465.6,147.8 467.6,149.7 469.6,152.6 471.6,155.7 473.6,158.9 475.6,162.4 477.6,165.9 479.6,169.6 481.6,173.2 483.6,176.9 485.6,180.0 487.6,182.9 489.6,185.6 491.6,188.0 493.6,190.0 495.6,192.1 497.6,194.2 499.6,196.3 501.6,198.7 503.6,201.3 505.6,204.0 507.6,206.1 509.6,208.0 511.6,209.8 513.6,210.8 515.6,211.6 517.6,212.2 519.6,213.2 521.6,214.3 523.6,215.4 525.6,216.7 527.6,218.0 529.6,219.3 531.6,220.8 533.6,222.3 535.6,223.8 537.6,225.2 539.6,226.6 541.6,228.1 543.6,229.0 545.6,229.8 547.6,230.6 549.6,231.3 551.6,232.2 553.6,233.0 555.6,233.9 557.6,234.8 559.6,235.5 561.6,236.2 563.6,236.8 565.6,237.5 567.6,238.5 569.6,239.6 571.6,240.7 573.6,241.8 575.6,242.4 577.6,242.9 579.6,243.4 581.6,243.9 583.6,244.6 585.6,245.4 587.6,246.1 589.6,246.9 591.6,247.5 593.6,248.2 595.6,248.8 597.6,249.5 599.6,250.0 601.6,250.5 603.6,251.0 605.6,251.5 607.6,251.8 609.6,252.0 611.6,252.2 613.6,252.4 615.6,252.5 617.6,252.6 619.6,252.7 621.6,252.9 623.6,253.0 625.6,253.1 627.6,253.1 629.6,253.2 631.6,253.3 633.6,253.4 635.6,253.4 637.6,253.5 639.6,253.6 641.6,253.7 643.6,253.8 645.6,253.9 647.6,254.0 649.6,254.1 651.6,254.3 653.6,254.5 655.6,254.7 657.6,254.9 659.6,255.1 661.6,255.3"/>
<path d="M275.6,201.8 277.6,201.2 279.6,200.7 281.6,200.3 283.6,199.7 285.6,199.1 287.6,198.5 289.6,197.8 291.6,197.3 293.6,196.9 295.6,196.7 297.6,196.5 299.6,196.5 301.6,196.5 303.6,196.2 305.6,195.4 307.6,194.6 309.6,193.8 311.6,192.7 313.6,191.5 315.6,190.1 317.6,188.7 319.6,187.2 321.6,185.6 323.6,184.1 325.6,182.7 327.6,181.1 329.6,179.1 331.6,176.9 333.6,174.4 335.6,172.7 337.6,171.6 339.6,170.5 341.6,169.1 343.6,168.1 345.6,167.9 347.6,167.0 349.6,164.6 351.6,161.9 353.6,158.6 355.6,154.2 357.6,149.9 359.6,146.5 361.6,144.7 363.6,144.5 365.6,144.6 367.6,145.1 369.6,145.8 371.6,146.3 373.6,145.6 375.6,144.9 377.6,144.9 379.6,145.2 381.6,145.2 383.6,144.8 385.6,144.5 387.6,144.6 389.6,145.5 391.6,146.3 393.6,146.9 395.6,147.3 397.6,148.0 399.6,147.9 401.6,147.4 403.6,146.0 405.6,143.0 407.6,139.7 409.6,136.5 411.6,135.0 413.6,134.1 415.6,132.4 417.6,130.2 419.6,128.3 421.6,126.3 423.6,123.7 425.6,119.6 427.6,115.2 429.6,109.4 431.6,102.6 433.6,96.7 435.6,93.5 437.6,91.6 439.6,90.3 441.6,89.7 443.6,91.3 445.6,93.2 447.6,95.0 449.6,97.7 451.6,101.0 453.6,105.5 455.6,110.2 457.6,114.7 459.6,118.6 461.6,122.3 463.6,124.7 465.6,127.0 467.6,129.1 469.6,130.5 471.6,131.2 473.6,132.4 475.6,135.0 477.6,138.2 479.6,142.4 481.6,146.7 483.6,150.7 485.6,154.1 487.6,157.5 489.6,162.4 491.6,167.4 493.6,172.1 495.6,176.5 497.6,180.4 499.6,183.8 501.6,186.9 503.6,190.2 505.6,193.5 507.6,196.9 509.6,200.0 511.6,202.8 513.6,204.7 515.6,206.2 517.6,207.3 519.6,208.8 521.6,210.4 523.6,212.0 525.6,213.8 527.6,215.7 529.6,217.5 531.6,219.3 533.6,221.1 535.6,222.8 537.6,224.4 539.6,225.9 541.6,227.5 543.6,228.5 545.6,229.3 547.6,230.2 549.6,231.1 551.6,232.1 553.6,233.0 555.6,233.9 557.6,234.8 559.6,235.5 561.6,236.2 563.6,236.8 565.6,237.5 567.6,238.5 569.6,239.6 571.6,240.7 573.6,241.8 575.6,242.4 577.6,242.9 579.6,243.4 581.6,243.9 583.6,244.6 585.6,245.4 587.6,246.1 589.6,246.9 591.6,247.5 593.6,248.2 595.6,248.8 597.6,249.5 599.6,250.0 601.6,250.5 603.6,251.0 605.6,251.5 607.6,251.8 609.6,252.0 611.6,252.2 613.6,252.4 615.6,252.5 617.6,252.6 619.6,252.7 621.6,252.9 623.6,253.0 625.6,253.1 627.6,253.1 629.6,253.2 631.6,253.3 633.6,253.4 635.6,253.4 637.6,253.5 639.6,253.6 641.6,253.7 643.6,253.8 645.6,253.9 647.6,254.0 649.6,254.1 651.6,254.3 653.6,254.5 655.6,254.7 657.6,254.9 659.6,255.1 661.6,255.3"/>
<path d="M275.6,204.6 277.6,204.1 279.6,203.6 281.6,203.0 283.6,202.2 285.6,201.4 287.6,200.7 289.6,200.1 291.6,199.6 293.6,199.1 295.6,198.3 297.6,197.2 299.6,196.0 301.6,194.9 303.6,194.0 305.6,193.1 307.6,192.6 309.6,192.3 311.6,192.0 313.6,191.5 315.6,190.7 317.6,189.7 319.6,188.5 321.6,187.1 323.6,185.6 325.6,184.2 327.6,182.5 329.6,180.8 331.6,179.3 333.6,178.1 335.6,178.0 337.6,178.1 339.6,178.0 341.6,177.4 343.6,177.1 345.6,177.1 347.6,176.7 349.6,175.5 351.6,173.0 353.6,169.7 355.6,165.3 357.6,160.6 359.6,156.9 361.6,154.3 363.6,153.2 365.6,152.9 367.6,152.9 369.6,152.8 371.6,153.0 373.6,152.5 375.6,152.1 377.6,152.3 379.6,152.6 381.6,152.7 383.6,152.3 385.6,151.8 387.6,151.3 389.6,151.1 391.6,151.1 393.6,151.2 395.6,151.7 397.6,152.5 399.6,152.6 401.6,152.3 403.6,151.5 405.6,149.8 407.6,148.2 409.6,146.6 411.6,146.5 413.6,146.9 415.6,146.2 417.6,145.1 419.6,144.2 421.6,143.1 423.6,141.4 425.6,138.6 427.6,134.2 429.6,128.1 431.6,122.2 433.6,117.6 435.6,115.9 437.6,115.2 439.6,114.3 441.6,113.1 443.6,113.0 445.6,113.2 447.6,113.8 449.6,115.7 451.6,119.0 453.6,123.4 455.6,127.6 457.6,131.4 459.6,134.2 461.6,136.6 463.6,137.9 465.6,139.0 467.6,140.2 469.6,141.6 471.6,142.6 473.6,144.1 475.6,146.9 477.6,150.1 479.6,154.0 481.6,157.8 483.6,161.6 485.6,165.1 487.6,169.2 489.6,174.5 491.6,179.4 493.6,183.5 495.6,187.2 497.6,190.5 499.6,193.5 501.6,196.5 503.6,199.5 505.6,202.2 507.6,204.2 509.6,205.5 511.6,206.8 513.6,207.5 515.6,208.2 517.6,209.1 519.6,210.5 521.6,211.9 523.6,213.2 525.6,214.6 527.6,216.1 529.6,217.6 531.6,219.1 533.6,220.5 535.6,221.9 537.6,223.2 539.6,224.6 541.6,226.0 543.6,227.0 545.6,228.0 547.6,228.9 549.6,229.9 551.6,230.9 553.6,232.0 555.6,233.1 557.6,234.2 559.6,235.1 561.6,235.9 563.6,236.6 565.6,237.4 567.6,238.4 569.6,239.5 571.6,240.7 573.6,241.8 575.6,242.4 577.6,242.9 579.6,243.4 581.6,243.9 583.6,244.6 585.6,245.4 587.6,246.1 589.6,246.9 591.6,247.5 593.6,248.2 595.6,248.8 597.6,249.5 599.6,250.0 601.6,250.5 603.6,251.0 605.6,251.5 607.6,251.8 609.6,252.0 611.6,252.2 613.6,252.4 615.6,252.5 617.6,252.6 619.6,252.7 621.6,252.9 623.6,253.0 625.6,253.1 627.6,253.1 629.6,253.2 631.6,253.3 633.6,253.4 635.6,253.4 637.6,253.5 639.6,253.6 641.6,253.7 643.6,253.8 645.6,253.9 647.6,254.0 649.6,254.1 651.6,254.3 653.6,254.5 655.6,254.7 657.6,254.9 659.6,255.1 661.6,255.3"/>
<path d="M275.6,203.7 277.6,203.5 279.6,203.3 281.6,203.2 283.6,203.0 285.6,202.7 287.6,202.4 289.6,202.1 291.6,201.9 293.6,201.6 295.6,201.0 297.6,200.2 299.6,199.4 301.6,198.8 303.6,198.3 305.6,197.7 307.6,197.0 309.6,196.0 311.6,194.6 313.6,193.2 315.6,191.7 317.6,190.4 319.6,189.0 321.6,187.5 323.6,185.9 325.6,184.3 327.6,182.4 329.6,180.6 331.6,179.1 333.6,177.9 335.6,177.9 337.6,178.5 339.6,179.1 341.6,179.2 343.6,179.3 345.6,179.5 347.6,179.4 349.6,178.8 351.6,176.5 353.6,173.4 355.6,169.1 357.6,164.6 359.6,161.5 361.6,159.7 363.6,159.4 365.6,159.5 367.6,159.5 369.6,159.0 371.6,159.4 373.6,159.8 375.6,160.5 377.6,161.4 379.6,162.5 381.6,163.4 383.6,164.1 385.6,164.5 387.6,164.4 389.6,163.7 391.6,162.7 393.6,161.7 395.6,160.9 397.6,160.3 399.6,159.6 401.6,159.2 403.6,158.9 405.6,158.3 407.6,158.0 409.6,158.0 411.6,158.9 413.6,160.2 415.6,161.6 417.6,162.5 419.6,162.9 421.6,162.9 423.6,162.2 425.6,160.9 427.6,155.3 429.6,149.0 431.6,145.8 433.6,144.0 435.6,144.5 437.6,144.9 439.6,144.6 441.6,144.2 443.6,143.9 445.6,143.7 447.6,143.5 449.6,143.7 451.6,144.9 453.6,146.1 455.6,147.3 457.6,148.6 459.6,149.9 461.6,151.2 463.6,151.9 465.6,152.2 467.6,152.7 469.6,155.0 471.6,157.9 473.6,161.0 475.6,164.0 477.6,166.5 479.6,168.6 481.6,170.4 483.6,172.1 485.6,173.7 487.6,176.0 489.6,179.7 491.6,183.7 493.6,187.3 495.6,190.5 497.6,193.2 499.6,195.6 501.6,198.1 503.6,200.5 505.6,202.9 507.6,204.9 509.6,206.6 511.6,208.2 513.6,209.2 515.6,209.9 517.6,210.7 519.6,211.8 521.6,213.0 523.6,214.3 525.6,215.7 527.6,217.2 529.6,218.6 531.6,220.1 533.6,221.6 535.6,223.1 537.6,224.6 539.6,226.1 541.6,227.6 543.6,228.6 545.6,229.4 547.6,230.2 549.6,231.0 551.6,231.9 553.6,232.9 555.6,233.8 557.6,234.8 559.6,235.5 561.6,236.2 563.6,236.8 565.6,237.5 567.6,238.5 569.6,239.6 571.6,240.7 573.6,241.8 575.6,242.4 577.6,242.9 579.6,243.4 581.6,243.9 583.6,244.6 585.6,245.4 587.6,246.1 589.6,246.9 591.6,247.5 593.6,248.2 595.6,248.8 597.6,249.5 599.6,250.0 601.6,250.5 603.6,251.0 605.6,251.5 607.6,251.8 609.6,252.0 611.6,252.2 613.6,252.4 615.6,252.5 617.6,252.6 619.6,252.7 621.6,252.9 623.6,253.0 625.6,253.1 627.6,253.1 629.6,253.2 631.6,253.3 633.6,253.4 635.6,253.4 637.6,253.5 639.6,253.6 641.6,253.7 643.6,253.8 645.6,253.9 647.6,254.0 649.6,254.1 651.6,254.3 653.6,254.5 655.6,254.7 657.6,254.9 659.6,255.1 661.6,255.3"/>
<path d="M275.6,201.0 277.6,200.0 279.6,199.0 281.6,197.9 283.6,196.7 285.6,195.6 287.6,194.5 289.6,193.6 291.6,192.9 293.6,192.4 295.6,192.0 297.6,191.6 299.6,191.3 301.6,190.8 303.6,190.0 305.6,188.6 307.6,187.2 309.6,186.0 311.6,185.2 313.6,184.5 315.6,183.9 317.6,183.2 319.6,182.3 321.6,180.9 323.6,179.5 325.6,178.1 327.6,176.6 329.6,175.2 331.6,173.7 333.6,172.3 335.6,171.6 337.6,171.0 339.6,170.0 341.6,168.3 343.6,166.9 345.6,166.3 347.6,165.5 349.6,163.9 351.6,162.2 353.6,159.3 355.6,154.5 357.6,149.3 359.6,145.1 361.6,143.2 363.6,143.5 365.6,144.5 367.6,145.9 369.6,147.3 371.6,148.5 373.6,148.8 375.6,149.2 377.6,150.1 379.6,151.1 381.6,151.6 383.6,151.6 385.6,151.7 387.6,152.4 389.6,153.7 391.6,155.0 393.6,156.0 395.6,156.5 397.6,156.8 399.6,156.5 401.6,156.1 403.6,155.5 405.6,154.2 407.6,153.0 409.6,151.6 411.6,151.0 413.6,150.8 415.6,150.0 417.6,149.1 419.6,148.5 421.6,147.7 423.6,146.0 425.6,142.8 427.6,137.1 429.6,129.8 431.6,123.8 433.6,120.5 435.6,121.3 437.6,123.7 439.6,126.0 441.6,127.3 443.6,128.6 445.6,129.4 447.6,130.0 449.6,130.9 451.6,132.3 453.6,134.0 455.6,135.7 457.6,137.6 459.6,139.3 461.6,141.0 463.6,142.2 465.6,143.7 467.6,145.4 469.6,147.9 471.6,150.2 473.6,152.8 475.6,155.9 477.6,159.2 479.6,163.1 481.6,166.9 483.6,170.7 485.6,173.7 487.6,176.6 489.6,179.9 491.6,183.0 493.6,185.7 495.6,188.6 497.6,191.6 499.6,194.5 501.6,197.6 503.6,200.5 505.6,203.3 507.6,205.3 509.6,206.9 511.6,208.6 513.6,209.6 515.6,210.5 517.6,211.3 519.6,212.4 521.6,213.7 523.6,215.0 525.6,216.4 527.6,217.8 529.6,219.1 531.6,220.6 533.6,222.2 535.6,223.8 537.6,225.3 539.6,226.8 541.6,228.3 543.6,229.3 545.6,230.1 547.6,230.9 549.6,231.8 551.6,232.6 553.6,233.3 555.6,234.1 557.6,234.8 559.6,235.5 561.6,236.2 563.6,236.9 565.6,237.6 567.6,238.5 569.6,239.6 571.6,240.7 573.6,241.8 575.6,242.4 577.6,242.9 579.6,243.4 581.6,243.9 583.6,244.6 585.6,245.4 587.6,246.1 589.6,246.9 591.6,247.5 593.6,248.2 595.6,248.8 597.6,249.5 599.6,250.0 601.6,250.5 603.6,251.0 605.6,251.5 607.6,251.8 609.6,252.0 611.6,252.2 613.6,252.4 615.6,252.5 617.6,252.6 619.6,252.7 621.6,252.9 623.6,253.0 625.6,253.1 627.6,253.1 629.6,253.2 631.6,253.3 633.6,253.4 635.6,253.4 637.6,253.5 639.6,253.6 641.6,253.7 643.6,253.8 645.6,253.9 647.6,254.0 649.6,254.1 651.6,254.3 653.6,254.5 655.6,254.7 657.6,254.9 659.6,255.1 661.6,255.3"/>
<path d="M275.6,203.6 277.6,203.1 279.6,202.6 281.6,202.1 283.6,201.4 285.6,200.7 287.6,199.9 289.6,199.2 291.6,198.6 293.6,198.1 295.6,197.6 297.6,197.2 299.6,196.9 301.6,196.7 303.6,196.4 305.6,195.8 307.6,195.0 309.6,194.2 311.6,193.4 313.6,192.6 315.6,192.0 317.6,191.3 319.6,190.4 321.6,189.1 323.6,187.6 325.6,186.1 327.6,184.2 329.6,182.3 331.6,180.3 333.6,178.1 335.6,176.7 337.6,175.5 339.6,174.4 341.6,173.2 343.6,172.7 345.6,173.0 347.6,173.0 349.6,172.2 351.6,170.2 353.6,167.1 355.6,162.5 357.6,157.6 359.6,153.8 361.6,151.6 363.6,150.8 365.6,150.7 367.6,151.0 369.6,151.7 371.6,152.6 373.6,153.1 375.6,153.6 377.6,154.5 379.6,155.3 381.6,155.5 383.6,155.0 385.6,154.1 387.6,153.4 389.6,153.3 391.6,153.6 393.6,154.3 395.6,155.3 397.6,156.3 399.6,156.7 401.6,156.8 403.6,156.5 405.6,155.5 407.6,154.6 409.6,153.7 411.6,153.7 413.6,154.1 415.6,154.0 417.6,153.4 419.6,152.5 421.6,150.9 423.6,148.3 425.6,144.2 427.6,138.0 429.6,131.2 431.6,126.3 433.6,123.8 435.6,124.0 437.6,124.4 439.6,123.9 441.6,123.0 443.6,123.1 445.6,123.3 447.6,123.8 449.6,125.1 451.6,127.5 453.6,130.6 455.6,133.5 457.6,136.2 459.6,138.2 461.6,139.8 463.6,140.7 465.6,141.4 467.6,142.3 469.6,143.6 471.6,144.5 473.6,145.8 475.6,147.9 477.6,150.4 479.6,154.1 481.6,157.9 483.6,161.6 485.6,164.6 487.6,167.7 489.6,172.2 491.6,176.7 493.6,180.7 495.6,184.5 497.6,187.8 499.6,191.0 501.6,193.8 503.6,196.6 505.6,199.3 507.6,201.7 509.6,203.6 511.6,205.6 513.6,207.0 515.6,208.1 517.6,209.1 519.6,210.6 521.6,212.1 523.6,213.7 525.6,215.2 527.6,216.8 529.6,218.4 531.6,220.1 533.6,221.8 535.6,223.4 537.6,225.0 539.6,226.5 541.6,227.9 543.6,228.8 545.6,229.5 547.6,230.3 549.6,231.2 551.6,232.2 553.6,233.1 555.6,234.0 557.6,234.8 559.6,235.5 561.6,236.2 563.6,236.8 565.6,237.5 567.6,238.5 569.6,239.6 571.6,240.7 573.6,241.8 575.6,242.4 577.6,242.9 579.6,243.4 581.6,243.9 583.6,244.6 585.6,245.4 587.6,246.1 589.6,246.9 591.6,247.5 593.6,248.2 595.6,248.8 597.6,249.5 599.6,250.0 601.6,250.5 603.6,251.0 605.6,251.5 607.6,251.8 609.6,252.0 611.6,252.2 613.6,252.4 615.6,252.5 617.6,252.6 619.6,252.7 621.6,252.9 623.6,253.0 625.6,253.1 627.6,253.1 629.6,253.2 631.6,253.3 633.6,253.4 635.6,253.4 637.6,253.5 639.6,253.6 641.6,253.7 643.6,253.8 645.6,253.9 647.6,254.0 649.6,254.1 651.6,254.3 653.6,254.5 655.6,254.7 657.6,254.9 659.6,255.1 661.6,255.3"/>
<path d="M275.6,202.6 277.6,201.9 279.6,201.4 281.6,201.0 283.6,200.6 285.6,200.1 287.6,199.5 289.6,198.8 291.6,198.3 293.6,197.8 295.6,197.4 297.6,196.9 299.6,196.3 301.6,195.6 303.6,194.8 305.6,193.9 307.6,193.0 309.6,192.3 311.6,191.8 313.6,191.3 315.6,190.5 317.6,189.4 319.6,187.9 321.6,186.2 323.6,184.3 325.6,182.5 327.6,180.4 329.6,178.4 331.6,176.4 333.6,174.6 335.6,173.8 337.6,173.1 339.6,172.3 341.6,170.6 343.6,169.0 345.6,167.7 347.6,165.9 349.6,162.8 351.6,159.0 353.6,154.2 355.6,148.0 357.6,141.8 359.6,137.4 361.6,135.6 363.6,136.4 365.6,137.9 367.6,139.7 369.6,141.0 371.6,141.8 373.6,141.3 375.6,140.7 377.6,140.9 379.6,141.3 381.6,141.6 383.6,141.5 385.6,141.6 387.6,142.1 389.6,143.2 391.6,144.1 393.6,144.8 395.6,145.3 397.6,146.0 399.6,145.9 401.6,145.5 403.6,145.1 405.6,144.0 407.6,143.0 409.6,141.9 411.6,141.9 413.6,141.9 415.6,140.3 417.6,138.4 419.6,137.3 421.6,136.5 423.6,134.6 425.6,130.4 427.6,124.5 429.6,116.0 431.6,106.9 433.6,99.8 435.6,96.5 437.6,94.9 439.6,93.6 441.6,92.6 443.6,93.8 445.6,95.4 447.6,97.6 449.6,100.9 451.6,105.3 453.6,111.1 455.6,116.9 457.6,122.4 459.6,126.9 461.6,130.8 463.6,133.4 465.6,136.0 467.6,138.5 469.6,140.8 471.6,142.5 473.6,144.8 475.6,148.0 477.6,151.8 479.6,156.5 481.6,160.8 483.6,164.6 485.6,167.4 487.6,170.2 489.6,174.1 491.6,178.1 493.6,181.8 495.6,185.5 497.6,188.9 499.6,192.0 501.6,194.8 503.6,197.4 505.6,199.9 507.6,202.1 509.6,203.7 511.6,205.5 513.6,206.7 515.6,207.8 517.6,208.9 519.6,210.5 521.6,212.2 523.6,213.9 525.6,215.6 527.6,217.4 529.6,219.0 531.6,220.6 533.6,222.1 535.6,223.6 537.6,225.0 539.6,226.5 541.6,228.1 543.6,229.1 545.6,229.9 547.6,230.8 549.6,231.6 551.6,232.4 553.6,233.2 555.6,234.0 557.6,234.8 559.6,235.5 561.6,236.2 563.6,236.8 565.6,237.6 567.6,238.5 569.6,239.6 571.6,240.7 573.6,241.8 575.6,242.4 577.6,242.9 579.6,243.4 581.6,243.9 583.6,244.6 585.6,245.4 587.6,246.1 589.6,246.9 591.6,247.5 593.6,248.2 595.6,248.8 597.6,249.5 599.6,250.0 601.6,250.5 603.6,251.0 605.6,251.5 607.6,251.8 609.6,252.0 611.6,252.2 613.6,252.4 615.6,252.5 617.6,252.6 619.6,252.7 621.6,252.9 623.6,253.0 625.6,253.1 627.6,253.1 629.6,253.2 631.6,253.3 633.6,253.4 635.6,253.4 637.6,253.5 639.6,253.6 641.6,253.7 643.6,253.8 645.6,253.9 647.6,254.0 649.6,254.1 651.6,254.3 653.6,254.5 655.6,254.7 657.6,254.9 659.6,255.1 661.6,255.3"/>
<path d="M275.6,196.7 277.6,196.1 279.6,195.5 281.6,194.8 283.6,194.0 285.6,193.3 287.6,192.5 289.6,191.8 291.6,191.4 293.6,191.0 295.6,190.6 297.6,190.1 299.6,189.6 301.6,188.9 303.6,188.1 305.6,186.8 307.6,185.6 309.6,184.5 311.6,183.5 313.6,182.5 315.6,181.5 317.6,180.4 319.6,179.1 321.6,177.6 323.6,176.0 325.6,174.3 327.6,172.4 329.6,170.6 331.6,168.8 333.6,167.0 335.6,165.9 337.6,165.0 339.6,164.1 341.6,162.9 343.6,161.7 345.6,160.7 347.6,159.5 349.6,157.6 351.6,154.9 353.6,151.4 355.6,146.5 357.6,141.3 359.6,137.6 361.6,136.4 363.6,137.7 365.6,139.3 367.6,141.1 369.6,142.5 371.6,143.3 373.6,143.0 375.6,143.1 377.6,144.5 379.6,146.1 381.6,147.3 383.6,147.8 385.6,148.5 387.6,149.5 389.6,150.9 391.6,152.0 393.6,152.8 395.6,153.5 397.6,154.0 399.6,153.9 401.6,153.6 403.6,153.3 405.6,152.7 407.6,152.4 409.6,152.1 411.6,152.2 413.6,152.1 415.6,150.7 417.6,148.4 419.6,146.4 421.6,145.1 423.6,144.0 425.6,142.6 427.6,139.0 429.6,133.5 431.6,128.6 433.6,124.8 435.6,123.6 437.6,122.9 439.6,121.9 441.6,120.7 443.6,120.8 445.6,121.5 447.6,122.8 449.6,125.3 451.6,128.7 453.6,132.3 455.6,135.0 457.6,137.1 459.6,138.8 461.6,140.9 463.6,142.9 465.6,145.3 467.6,147.8 469.6,151.2 471.6,154.5 473.6,157.8 475.6,161.0 477.6,164.0 479.6,167.2 481.6,170.4 483.6,173.8 485.6,177.1 487.6,180.4 489.6,183.7 491.6,186.7 493.6,189.1 495.6,191.5 497.6,194.0 499.6,196.5 501.6,199.2 503.6,201.8 505.6,204.3 507.6,206.1 509.6,207.6 511.6,209.0 513.6,209.6 515.6,210.0 517.6,210.6 519.6,211.6 521.6,213.0 523.6,214.3 525.6,215.6 527.6,216.9 529.6,218.3 531.6,219.7 533.6,221.2 535.6,222.8 537.6,224.3 539.6,225.8 541.6,227.3 543.6,228.3 545.6,229.1 547.6,230.0 549.6,230.9 551.6,231.9 553.6,232.9 555.6,233.8 557.6,234.8 559.6,235.5 561.6,236.2 563.6,236.8 565.6,237.5 567.6,238.5 569.6,239.6 571.6,240.7 573.6,241.8 575.6,242.4 577.6,242.9 579.6,243.4 581.6,243.9 583.6,244.6 585.6,245.4 587.6,246.1 589.6,246.9 591.6,247.5 593.6,248.2 595.6,248.8 597.6,249.5 599.6,250.0 601.6,250.5 603.6,251.0 605.6,251.5 607.6,251.8 609.6,252.0 611.6,252.2 613.6,252.4 615.6,252.5 617.6,252.6 619.6,252.7 621.6,252.9 623.6,253.0 625.6,253.1 627.6,253.1 629.6,253.2 631.6,253.3 633.6,253.4 635.6,253.4 637.6,253.5 639.6,253.6 641.6,253.7 643.6,253.8 645.6,253.9 647.6,254.0 649.6,254.1 651.6,254.3 653.6,254.5 655.6,254.7 657.6,254.9 659.6,255.1 661.6,255.3"/>
<path d="M275.6,199.0 277.6,198.0 279.6,197.1 281.6,196.3 283.6,195.4 285.6,194.4 287.6,193.5 289.6,192.6 291.6,192.0 293.6,191.2 295.6,190.3 297.6,189.2 299.6,188.1 301.6,187.1 303.6,186.1 305.6,184.6 307.6,183.1 309.6,181.6 311.6,180.0 313.6,178.4 315.6,176.8 317.6,175.4 319.6,174.0 321.6,172.5 323.6,171.1 325.6,169.7 327.6,168.3 329.6,166.7 331.6,164.9 333.6,163.0 335.6,161.1 337.6,159.4 339.6,157.6 341.6,155.8 343.6,153.8 345.6,151.2 347.6,148.4 349.6,145.2 351.6,140.3 353.6,135.2 355.6,129.8 357.6,124.0 359.6,120.5 361.6,119.2 363.6,121.3 365.6,124.7 367.6,128.5 369.6,129.6 371.6,129.7 373.6,129.1 375.6,128.4 377.6,128.5 379.6,129.4 381.6,129.9 383.6,129.7 385.6,129.0 387.6,128.3 389.6,127.9 391.6,128.1 393.6,128.7 395.6,129.3 397.6,129.9 399.6,130.2 401.6,127.4 403.6,123.3 405.6,118.7 407.6,114.1 409.6,109.7 411.6,106.1 413.6,102.9 415.6,101.1 417.6,99.7 419.6,98.7 421.6,98.2 423.6,97.4 425.6,94.0 427.6,89.8 429.6,85.1 431.6,80.0 433.6,76.0 435.6,75.1 437.6,75.8 439.6,76.5 441.6,77.1 443.6,79.1 445.6,81.9 447.6,85.5 449.6,90.2 451.6,95.7 453.6,102.3 455.6,109.0 457.6,115.3 459.6,120.4 461.6,124.8 463.6,127.5 465.6,129.9 467.6,132.1 469.6,133.7 471.6,134.9 473.6,136.7 475.6,139.7 477.6,143.0 479.6,147.0 481.6,151.0 483.6,154.8 485.6,158.2 487.6,161.9 489.6,167.1 491.6,172.4 493.6,177.0 495.6,181.4 497.6,185.1 499.6,188.5 501.6,191.3 503.6,194.2 505.6,197.0 507.6,199.6 509.6,201.5 511.6,203.2 513.6,204.3 515.6,205.3 517.6,206.3 519.6,207.8 521.6,209.2 523.6,210.8 525.6,212.4 527.6,214.1 529.6,215.8 531.6,217.5 533.6,219.2 535.6,220.8 537.6,222.4 539.6,224.0 541.6,225.4 543.6,226.4 545.6,227.4 547.6,228.3 549.6,229.3 551.6,230.4 553.6,231.4 555.6,232.5 557.6,233.6 559.6,234.6 561.6,235.5 563.6,236.4 565.6,237.2 567.6,238.3 569.6,239.4 571.6,240.6 573.6,241.8 575.6,242.4 577.6,242.9 579.6,243.4 581.6,243.9 583.6,244.6 585.6,245.4 587.6,246.1 589.6,246.9 591.6,247.5 593.6,248.2 595.6,248.8 597.6,249.5 599.6,250.0 601.6,250.5 603.6,251.0 605.6,251.5 607.6,251.8 609.6,252.0 611.6,252.2 613.6,252.4 615.6,252.5 617.6,252.6 619.6,252.7 621.6,252.9 623.6,253.0 625.6,253.1 627.6,253.1 629.6,253.2 631.6,253.3 633.6,253.4 635.6,253.4 637.6,253.5 639.6,253.6 641.6,253.7 643.6,253.8 645.6,253.9 647.6,254.0 649.6,254.1 651.6,254.3 653.6,254.5 655.6,254.7 657.6,254.9 659.6,255.1 661.6,255.3"/>
<path d="M275.6,209.5 277.6,209.2 279.6,208.9 281.6,208.6 283.6,208.3 285.6,208.0 287.6,207.7 289.6,207.5 291.6,207.0 293.6,206.5 295.6,206.0 297.6,205.4 299.6,204.9 301.6,204.4 303.6,203.9 305.6,203.4 307.6,202.9 309.6,202.4 311.6,201.6 313.6,200.8 315.6,199.9 317.6,199.1 319.6,198.2 321.6,197.4 323.6,196.6 325.6,195.7 327.6,194.5 329.6,193.3 331.6,192.0 333.6,190.8 335.6,190.0 337.6,189.4 339.6,188.8 341.6,188.2 343.6,187.7 345.6,187.2 347.6,186.8 349.6,186.3 351.6,183.6 353.6,180.3 355.6,176.3 357.6,172.2 359.6,169.5 361.6,167.1 363.6,165.3 365.6,164.1 367.6,163.0 369.6,162.0 371.6,162.2 373.6,162.8 375.6,163.3 377.6,163.8 379.6,164.4 381.6,164.9 383.6,165.4 385.6,165.9 387.6,166.4 389.6,166.5 391.6,166.5 393.6,166.5 395.6,166.5 397.6,166.3 399.6,166.1 401.6,165.9 403.6,165.4 405.6,164.2 407.6,163.2 409.6,162.4 411.6,161.9 413.6,161.6 415.6,161.3 417.6,160.5 419.6,159.7 421.6,158.9 423.6,157.9 425.6,156.8 427.6,152.2 429.6,146.5 431.6,142.7 433.6,139.1 435.6,137.1 437.6,135.6 439.6,134.2 441.6,133.1 443.6,133.3 445.6,134.1 447.6,135.2 449.6,136.7 451.6,138.8 453.6,140.8 455.6,142.6 457.6,144.1 459.6,145.5 461.6,146.7 463.6,147.7 465.6,148.8 467.6,150.1 469.6,152.7 471.6,155.9 473.6,159.5 475.6,163.5 477.6,167.3 479.6,170.8 481.6,173.8 483.6,176.8 485.6,179.5 487.6,182.4 489.6,185.4 491.6,188.1 493.6,190.3 495.6,192.4 497.6,194.6 499.6,196.9 501.6,199.6 503.6,202.4 505.6,205.3 507.6,207.5 509.6,209.3 511.6,211.2 513.6,212.2 515.6,213.0 517.6,213.8 519.6,214.8 521.6,215.9 523.6,217.0 525.6,218.1 527.6,219.3 529.6,220.5 531.6,221.9 533.6,223.3 535.6,224.8 537.6,226.3 539.6,227.8 541.6,229.2 543.6,230.1 545.6,230.9 547.6,231.6 549.6,232.4 551.6,233.0 553.6,233.6 555.6,234.2 557.6,234.8 559.6,235.5 561.6,236.2 563.6,236.9 565.6,237.6 567.6,238.5 569.6,239.6 571.6,240.7 573.6,241.8 575.6,242.4 577.6,242.9 579.6,243.4 581.6,243.9 583.6,244.6 585.6,245.4 587.6,246.1 589.6,246.9 591.6,247.5 593.6,248.2 595.6,248.8 597.6,249.5 599.6,250.0 601.6,250.5 603.6,251.0 605.6,251.5 607.6,251.8 609.6,252.0 611.6,252.2 613.6,252.4 615.6,252.5 617.6,252.6 619.6,252.7 621.6,252.9 623.6,253.0 625.6,253.1 627.6,253.1 629.6,253.2 631.6,253.3 633.6,253.4 635.6,253.4 637.6,253.5 639.6,253.6 641.6,253.7 643.6,253.8 645.6,253.9 647.6,254.0 649.6,254.1 651.6,254.3 653.6,254.5 655.6,254.7 657.6,254.9 659.6,255.1 661.6,255.3"/>
<path d="M275.6,197.4 277.6,196.9 279.6,196.5 281.6,196.0 283.6,195.5 285.6,194.8 287.6,194.2 289.6,193.4 291.6,192.8 293.6,192.2 295.6,191.8 297.6,191.4 299.6,191.1 301.6,190.9 303.6,190.5 305.6,189.7 307.6,189.0 309.6,188.1 311.6,187.4 313.6,186.6 315.6,185.8 317.6,185.0 319.6,184.1 321.6,183.0 323.6,181.7 325.6,180.3 327.6,178.9 329.6,177.6 331.6,176.5 333.6,175.3 335.6,174.5 337.6,173.6 339.6,172.2 341.6,170.1 343.6,168.3 345.6,167.1 347.6,165.2 349.6,162.0 351.6,158.2 353.6,153.6 355.6,147.7 357.6,141.8 359.6,137.4 361.6,135.4 363.6,135.9 365.6,137.1 367.6,138.9 369.6,140.0 371.6,140.3 373.6,139.3 375.6,138.1 377.6,137.9 379.6,138.3 381.6,138.8 383.6,139.0 385.6,139.3 387.6,140.1 389.6,141.3 391.6,142.4 393.6,142.9 395.6,142.9 397.6,142.7 399.6,141.6 401.6,139.3 403.6,136.5 405.6,133.0 407.6,129.8 409.6,126.7 411.6,124.7 413.6,122.9 415.6,120.5 417.6,118.3 419.6,116.8 421.6,116.2 423.6,115.3 425.6,112.0 427.6,107.3 429.6,100.9 431.6,93.9 433.6,88.2 435.6,85.8 437.6,85.3 439.6,85.1 441.6,85.4 443.6,87.5 445.6,89.9 447.6,92.6 449.6,96.5 451.6,101.4 453.6,107.9 455.6,114.4 457.6,120.2 459.6,124.6 461.6,128.2 463.6,130.2 465.6,132.2 467.6,134.1 469.6,135.8 471.6,136.9 473.6,138.6 475.6,141.3 477.6,144.3 479.6,148.0 481.6,151.5 483.6,154.7 485.6,157.4 487.6,160.3 489.6,164.5 491.6,168.9 493.6,173.0 495.6,177.1 497.6,181.0 499.6,184.4 501.6,187.5 503.6,190.6 505.6,193.4 507.6,196.2 509.6,198.8 511.6,201.3 513.6,203.4 515.6,205.2 517.6,206.7 519.6,208.5 521.6,210.1 523.6,211.8 525.6,213.4 527.6,215.2 529.6,216.9 531.6,218.6 533.6,220.3 535.6,222.1 537.6,223.7 539.6,225.3 541.6,226.8 543.6,227.7 545.6,228.4 547.6,229.2 549.6,230.1 551.6,231.1 553.6,232.2 555.6,233.3 557.6,234.3 559.6,235.1 561.6,235.9 563.6,236.6 565.6,237.4 567.6,238.4 569.6,239.5 571.6,240.6 573.6,241.8 575.6,242.4 577.6,242.9 579.6,243.4 581.6,243.9 583.6,244.6 585.6,245.4 587.6,246.1 589.6,246.9 591.6,247.5 593.6,248.2 595.6,248.8 597.6,249.5 599.6,250.0 601.6,250.5 603.6,251.0 605.6,251.5 607.6,251.8 609.6,252.0 611.6,252.2 613.6,252.4 615.6,252.5 617.6,252.6 619.6,252.7 621.6,252.9 623.6,253.0 625.6,253.1 627.6,253.1 629.6,253.2 631.6,253.3 633.6,253.4 635.6,253.4 637.6,253.5 639.6,253.6 641.6,253.7 643.6,253.8 645.6,253.9 647.6,254.0 649.6,254.1 651.6,254.3 653.6,254.5 655.6,254.7 657.6,254.9 659.6,255.1 661.6,255.3"/>
<path d="M275.6,207.5 277.6,206.7 279.6,205.9 281.6,205.4 283.6,205.0 285.6,204.8 287.6,204.5 289.6,204.2 291.6,203.6 293.6,202.9 295.6,202.1 297.6,201.2 299.6,200.4 301.6,199.5 303.6,198.7 305.6,197.9 307.6,197.4 309.6,197.0 311.6,196.5 313.6,195.7 315.6,194.7 317.6,193.6 319.6,192.4 321.6,191.2 323.6,189.8 325.6,188.2 327.6,186.2 329.6,184.1 331.6,182.1 333.6,180.2 335.6,179.0 337.6,177.9 339.6,176.5 341.6,174.6 343.6,173.0 345.6,171.9 347.6,170.4 349.6,167.9 351.6,165.0 353.6,161.5 355.6,156.7 357.6,151.8 359.6,147.8 361.6,145.8 363.6,145.9 365.6,146.8 367.6,147.9 369.6,148.9 371.6,149.8 373.6,150.0 375.6,150.3 377.6,151.1 379.6,151.9 381.6,152.3 383.6,152.4 385.6,152.6 387.6,153.0 389.6,153.5 391.6,153.6 393.6,153.6 395.6,153.6 397.6,153.7 399.6,153.4 401.6,153.0 403.6,152.2 405.6,150.4 407.6,148.3 409.6,146.2 411.6,145.7 413.6,145.9 415.6,145.1 417.6,143.9 419.6,142.7 421.6,141.3 423.6,138.9 425.6,134.9 427.6,129.7 429.6,123.4 431.6,117.9 433.6,114.5 435.6,114.3 437.6,114.7 439.6,114.9 441.6,115.1 443.6,116.8 445.6,118.3 447.6,119.3 449.6,120.7 451.6,122.9 453.6,126.6 455.6,130.7 457.6,135.0 459.6,138.6 461.6,141.7 463.6,144.2 465.6,146.5 467.6,148.8 469.6,152.2 471.6,155.7 473.6,158.9 475.6,161.8 477.6,164.4 479.6,167.3 481.6,170.5 483.6,174.0 485.6,177.5 487.6,181.1 489.6,184.8 491.6,188.2 493.6,191.0 495.6,193.6 497.6,196.1 499.6,198.4 501.6,201.1 503.6,203.9 505.6,206.7 507.6,208.8 509.6,210.5 511.6,212.2 513.6,213.0 515.6,213.7 517.6,214.4 519.6,215.3 521.6,216.3 523.6,217.3 525.6,218.5 527.6,219.7 529.6,220.9 531.6,222.2 533.6,223.6 535.6,225.0 537.6,226.4 539.6,227.8 541.6,229.2 543.6,230.1 545.6,230.9 547.6,231.6 549.6,232.4 551.6,233.0 553.6,233.6 555.6,234.2 557.6,234.8 559.6,235.5 561.6,236.2 563.6,236.9 565.6,237.6 567.6,238.5 569.6,239.6 571.6,240.7 573.6,241.8 575.6,242.4 577.6,242.9 579.6,243.4 581.6,243.9 583.6,244.6 585.6,245.4 587.6,246.1 589.6,246.9 591.6,247.5 593.6,248.2 595.6,248.8 597.6,249.5 599.6,250.0 601.6,250.5 603.6,251.0 605.6,251.5 607.6,251.8 609.6,252.0 611.6,252.2 613.6,252.4 615.6,252.5 617.6,252.6 619.6,252.7 621.6,252.9 623.6,253.0 625.6,253.1 627.6,253.1 629.6,253.2 631.6,253.3 633.6,253.4 635.6,253.4 637.6,253.5 639.6,253.6 641.6,253.7 643.6,253.8 645.6,253.9 647.6,254.0 649.6,254.1 651.6,254.3 653.6,254.5 655.6,254.7 657.6,254.9 659.6,255.1 661.6,255.3"/>
<path d="M275.6,203.6 277.6,202.8 279.6,202.1 281.6,201.6 283.6,201.0 285.6,200.3 287.6,199.7 289.6,199.0 291.6,198.4 293.6,197.6 295.6,196.9 297.6,196.2 299.6,195.5 301.6,194.9 303.6,194.2 305.6,193.3 307.6,192.4 309.6,191.5 311.6,190.6 313.6,189.7 315.6,188.9 317.6,188.1 319.6,187.0 321.6,185.5 323.6,184.0 325.6,182.4 327.6,180.8 329.6,179.4 331.6,178.2 333.6,176.9 335.6,176.2 337.6,175.6 339.6,174.6 341.6,173.1 343.6,171.9 345.6,171.5 347.6,171.0 349.6,169.6 351.6,167.5 353.6,164.3 355.6,159.8 357.6,155.5 359.6,152.9 361.6,152.5 363.6,153.7 365.6,155.1 367.6,156.0 369.6,156.4 371.6,157.0 373.6,157.3 375.6,157.5 377.6,157.8 379.6,158.2 381.6,158.6 383.6,158.9 385.6,159.3 387.6,160.2 389.6,161.1 391.6,161.9 393.6,162.5 395.6,162.8 397.6,162.7 399.6,162.0 401.6,161.3 403.6,160.7 405.6,160.0 407.6,159.9 409.6,160.3 411.6,161.2 413.6,162.1 415.6,162.2 417.6,160.9 419.6,158.9 421.6,156.8 423.6,154.8 425.6,152.9 427.6,148.0 429.6,141.9 431.6,137.3 433.6,133.2 435.6,131.2 437.6,130.0 439.6,129.3 441.6,129.2 443.6,130.5 445.6,132.5 447.6,135.0 449.6,138.0 451.6,141.3 453.6,143.7 455.6,145.1 457.6,146.1 459.6,147.2 461.6,148.5 463.6,150.0 465.6,151.3 467.6,152.4 469.6,154.7 471.6,157.0 473.6,159.3 475.6,161.5 477.6,163.7 479.6,166.4 481.6,169.7 483.6,173.3 485.6,176.6 487.6,179.9 489.6,183.4 491.6,186.5 493.6,189.1 495.6,191.7 497.6,194.3 499.6,196.7 501.6,199.3 503.6,201.9 505.6,204.4 507.6,206.3 509.6,208.0 511.6,209.8 513.6,210.9 515.6,211.7 517.6,212.5 519.6,213.4 521.6,214.4 523.6,215.5 525.6,216.6 527.6,217.9 529.6,219.2 531.6,220.6 533.6,222.1 535.6,223.5 537.6,224.9 539.6,226.3 541.6,227.7 543.6,228.6 545.6,229.4 547.6,230.2 549.6,231.0 551.6,231.9 553.6,232.8 555.6,233.8 557.6,234.7 559.6,235.4 561.6,236.0 563.6,236.7 565.6,237.4 567.6,238.4 569.6,239.5 571.6,240.7 573.6,241.8 575.6,242.4 577.6,242.9 579.6,243.4 581.6,243.9 583.6,244.6 585.6,245.4 587.6,246.1 589.6,246.9 591.6,247.5 593.6,248.2 595.6,248.8 597.6,249.5 599.6,250.0 601.6,250.5 603.6,251.0 605.6,251.5 607.6,251.8 609.6,252.0 611.6,252.2 613.6,252.4 615.6,252.5 617.6,252.6 619.6,252.7 621.6,252.9 623.6,253.0 625.6,253.1 627.6,253.1 629.6,253.2 631.6,253.3 633.6,253.4 635.6,253.4 637.6,253.5 639.6,253.6 641.6,253.7 643.6,253.8 645.6,253.9 647.6,254.0 649.6,254.1 651.6,254.3 653.6,254.5 655.6,254.7 657.6,254.9 659.6,255.1 661.6,255.3"/>
<path d="M275.6,201.5 277.6,201.0 279.6,200.5 281.6,200.0 283.6,199.2 285.6,198.3 287.6,197.3 289.6,196.2 291.6,195.5 293.6,194.9 295.6,194.5 297.6,194.0 299.6,193.4 301.6,192.8 303.6,191.8 305.6,190.4 307.6,188.9 309.6,187.5 311.6,186.3 313.6,185.3 315.6,184.5 317.6,183.7 319.6,182.7 321.6,181.3 323.6,179.8 325.6,178.3 327.6,176.9 329.6,175.4 331.6,173.8 333.6,172.1 335.6,171.2 337.6,170.6 339.6,169.7 341.6,168.4 343.6,167.4 345.6,167.0 347.6,165.9 349.6,163.5 351.6,160.8 353.6,157.4 355.6,152.6 357.6,147.6 359.6,143.5 361.6,141.7 363.6,142.2 365.6,143.3 367.6,144.7 369.6,146.0 371.6,146.6 373.6,146.0 375.6,145.3 377.6,145.3 379.6,145.5 381.6,145.3 383.6,144.6 385.6,144.0 387.6,143.8 389.6,144.1 391.6,144.4 393.6,144.7 395.6,145.4 397.6,146.4 399.6,146.6 401.6,146.2 403.6,145.1 405.6,143.2 407.6,141.8 409.6,141.0 411.6,142.0 413.6,143.3 415.6,143.0 417.6,142.0 419.6,141.0 421.6,139.8 423.6,138.0 425.6,134.8 427.6,129.9 429.6,122.4 431.6,114.0 433.6,106.9 435.6,103.5 437.6,102.0 439.6,100.9 441.6,99.5 443.6,99.5 445.6,99.7 447.6,100.6 449.6,103.2 451.6,107.3 453.6,113.4 455.6,119.3 457.6,124.3 459.6,128.0 461.6,131.1 463.6,133.0 465.6,134.9 467.6,136.8 469.6,138.4 471.6,139.2 473.6,140.5 475.6,142.7 477.6,145.3 479.6,149.1 481.6,152.8 483.6,156.5 485.6,159.7 487.6,163.0 489.6,167.6 491.6,171.9 493.6,175.9 495.6,180.0 497.6,183.9 499.6,187.3 501.6,190.1 503.6,192.8 505.6,195.4 507.6,197.8 509.6,199.7 511.6,201.3 513.6,202.4 515.6,203.5 517.6,204.6 519.6,206.1 521.6,207.7 523.6,209.6 525.6,211.5 527.6,213.4 529.6,215.3 531.6,217.0 533.6,218.7 535.6,220.5 537.6,222.2 539.6,223.9 541.6,225.4 543.6,226.5 545.6,227.5 547.6,228.6 549.6,229.7 551.6,230.9 553.6,232.0 555.6,233.2 557.6,234.2 559.6,235.1 561.6,235.8 563.6,236.6 565.6,237.3 567.6,238.4 569.6,239.5 571.6,240.6 573.6,241.8 575.6,242.4 577.6,242.9 579.6,243.4 581.6,243.9 583.6,244.6 585.6,245.4 587.6,246.1 589.6,246.9 591.6,247.5 593.6,248.2 595.6,248.8 597.6,249.5 599.6,250.0 601.6,250.5 603.6,251.0 605.6,251.5 607.6,251.8 609.6,252.0 611.6,252.2 613.6,252.4 615.6,252.5 617.6,252.6 619.6,252.7 621.6,252.9 623.6,253.0 625.6,253.1 627.6,253.1 629.6,253.2 631.6,253.3 633.6,253.4 635.6,253.4 637.6,253.5 639.6,253.6 641.6,253.7 643.6,253.8 645.6,253.9 647.6,254.0 649.6,254.1 651.6,254.3 653.6,254.5 655.6,254.7 657.6,254.9 659.6,255.1 661.6,255.3"/>
<path d="M275.6,198.0 277.6,197.4 279.6,196.9 281.6,196.4 283.6,195.9 285.6,195.5 287.6,195.2 289.6,194.8 291.6,194.5 293.6,194.1 295.6,193.5 297.6,192.7 299.6,191.8 301.6,190.9 303.6,189.8 305.6,188.4 307.6,187.1 309.6,186.0 311.6,185.0 313.6,184.0 315.6,183.0 317.6,181.9 319.6,180.9 321.6,179.6 323.6,178.3 325.6,176.8 327.6,174.9 329.6,172.9 331.6,170.9 333.6,169.1 335.6,168.0 337.6,167.5 339.6,167.0 341.6,166.3 343.6,165.7 345.6,165.2 347.6,163.8 349.6,160.8 351.6,156.9 353.6,152.2 355.6,146.9 357.6,141.9 359.6,138.5 361.6,137.3 363.6,138.2 365.6,139.4 367.6,141.1 369.6,142.5 371.6,143.3 373.6,142.8 375.6,142.1 377.6,142.1 379.6,142.6 381.6,142.9 383.6,143.0 385.6,143.1 387.6,143.8 389.6,145.4 391.6,147.0 393.6,148.2 395.6,148.9 397.6,149.2 399.6,148.5 401.6,147.7 403.6,146.5 405.6,144.3 407.6,142.3 409.6,140.4 411.6,140.1 413.6,139.7 415.6,137.0 417.6,133.0 419.6,129.2 421.6,125.8 423.6,122.5 425.6,118.0 427.6,113.5 429.6,108.2 431.6,102.8 433.6,98.9 435.6,97.9 437.6,97.8 439.6,97.3 441.6,96.8 443.6,98.4 445.6,100.0 447.6,102.1 449.6,105.4 451.6,109.6 453.6,115.4 455.6,120.4 457.6,124.5 459.6,127.3 461.6,129.7 463.6,131.2 465.6,133.0 467.6,134.9 469.6,136.4 471.6,137.2 473.6,138.3 475.6,140.5 477.6,143.0 479.6,146.6 481.6,150.3 483.6,154.1 485.6,157.5 487.6,161.4 489.6,166.6 491.6,171.8 493.6,176.5 495.6,181.2 497.6,185.6 499.6,189.8 501.6,193.3 503.6,196.6 505.6,199.6 507.6,202.0 509.6,203.7 511.6,205.4 513.6,206.3 515.6,207.2 517.6,208.1 519.6,209.6 521.6,211.3 523.6,213.0 525.6,214.7 527.6,216.4 529.6,218.1 531.6,219.8 533.6,221.5 535.6,223.2 537.6,224.8 539.6,226.3 541.6,227.8 543.6,228.8 545.6,229.6 547.6,230.4 549.6,231.2 551.6,232.1 553.6,233.0 555.6,233.9 557.6,234.8 559.6,235.5 561.6,236.2 563.6,236.8 565.6,237.5 567.6,238.5 569.6,239.6 571.6,240.7 573.6,241.8 575.6,242.4 577.6,242.9 579.6,243.4 581.6,243.9 583.6,244.6 585.6,245.4 587.6,246.1 589.6,246.9 591.6,247.5 593.6,248.2 595.6,248.8 597.6,249.5 599.6,250.0 601.6,250.5 603.6,251.0 605.6,251.5 607.6,251.8 609.6,252.0 611.6,252.2 613.6,252.4 615.6,252.5 617.6,252.6 619.6,252.7 621.6,252.9 623.6,253.0 625.6,253.1 627.6,253.1 629.6,253.2 631.6,253.3 633.6,253.4 635.6,253.4 637.6,253.5 639.6,253.6 641.6,253.7 643.6,253.8 645.6,253.9 647.6,254.0 649.6,254.1 651.6,254.3 653.6,254.5 655.6,254.7 657.6,254.9 659.6,255.1 661.6,255.3"/>
<path d="M275.6,206.9 277.6,206.4 279.6,205.7 281.6,205.1 283.6,204.4 285.6,203.6 287.6,202.8 289.6,201.9 291.6,201.0 293.6,200.3 295.6,199.7 297.6,199.2 299.6,198.7 301.6,198.3 303.6,197.8 305.6,197.1 307.6,196.4 309.6,195.8 311.6,195.1 313.6,194.4 315.6,193.6 317.6,192.8 319.6,191.8 321.6,190.6 323.6,189.5 325.6,188.2 327.6,186.5 329.6,184.7 331.6,182.9 333.6,181.2 335.6,180.3 337.6,179.7 339.6,179.0 341.6,177.8 343.6,177.0 345.6,176.5 347.6,175.4 349.6,173.3 351.6,169.8 353.6,165.4 355.6,159.9 357.6,154.3 359.6,149.9 361.6,147.4 363.6,146.9 365.6,147.2 367.6,147.9 369.6,148.8 371.6,149.7 373.6,149.7 375.6,149.7 377.6,150.1 379.6,150.3 381.6,150.0 383.6,149.3 385.6,148.6 387.6,148.4 389.6,149.0 391.6,149.9 393.6,151.2 395.6,152.7 397.6,154.2 399.6,155.0 401.6,155.5 403.6,155.3 405.6,154.2 407.6,153.1 409.6,151.8 411.6,151.3 413.6,151.1 415.6,150.3 417.6,149.4 419.6,149.0 421.6,148.6 423.6,147.6 425.6,145.6 427.6,140.8 429.6,134.1 431.6,128.0 433.6,122.7 435.6,119.9 437.6,118.0 439.6,116.3 441.6,115.1 443.6,115.6 445.6,116.4 447.6,117.0 449.6,118.4 451.6,120.8 453.6,124.6 455.6,128.5 457.6,132.3 459.6,135.6 461.6,138.4 463.6,140.3 465.6,141.8 467.6,143.2 469.6,145.0 471.6,146.5 473.6,148.4 475.6,151.1 477.6,154.2 479.6,158.1 481.6,161.9 483.6,165.5 485.6,168.4 487.6,171.6 489.6,175.9 491.6,180.2 493.6,183.9 495.6,187.4 497.6,190.7 499.6,193.9 501.6,197.0 503.6,200.0 505.6,202.9 507.6,205.1 509.6,206.8 511.6,208.5 513.6,209.3 515.6,210.0 517.6,210.7 519.6,211.9 521.6,213.3 523.6,214.6 525.6,216.1 527.6,217.5 529.6,219.0 531.6,220.5 533.6,222.1 535.6,223.7 537.6,225.2 539.6,226.7 541.6,228.2 543.6,229.1 545.6,229.9 547.6,230.7 549.6,231.5 551.6,232.3 553.6,233.2 555.6,234.0 557.6,234.8 559.6,235.5 561.6,236.2 563.6,236.8 565.6,237.6 567.6,238.5 569.6,239.6 571.6,240.7 573.6,241.8 575.6,242.4 577.6,242.9 579.6,243.4 581.6,243.9 583.6,244.6 585.6,245.4 587.6,246.1 589.6,246.9 591.6,247.5 593.6,248.2 595.6,248.8 597.6,249.5 599.6,250.0 601.6,250.5 603.6,251.0 605.6,251.5 607.6,251.8 609.6,252.0 611.6,252.2 613.6,252.4 615.6,252.5 617.6,252.6 619.6,252.7 621.6,252.9 623.6,253.0 625.6,253.1 627.6,253.1 629.6,253.2 631.6,253.3 633.6,253.4 635.6,253.4 637.6,253.5 639.6,253.6 641.6,253.7 643.6,253.8 645.6,253.9 647.6,254.0 649.6,254.1 651.6,254.3 653.6,254.5 655.6,254.7 657.6,254.9 659.6,255.1 661.6,255.3"/>
<path d="M275.6,202.8 277.6,202.0 279.6,201.1 281.6,200.1 283.6,198.9 285.6,197.5 287.6,195.8 289.6,194.0 291.6,192.5 293.6,191.4 295.6,190.5 297.6,189.9 299.6,189.3 301.6,188.7 303.6,187.8 305.6,186.5 307.6,185.1 309.6,183.7 311.6,182.4 313.6,181.3 315.6,180.2 317.6,179.1 319.6,177.9 321.6,176.4 323.6,174.7 325.6,173.0 327.6,171.3 329.6,169.6 331.6,168.0 333.6,166.5 335.6,165.4 337.6,164.5 339.6,163.5 341.6,162.1 343.6,160.7 345.6,159.2 347.6,157.5 349.6,155.2 351.6,152.1 353.6,148.4 355.6,143.1 357.6,136.8 359.6,131.4 361.6,128.3 363.6,128.6 365.6,130.3 367.6,132.9 369.6,134.0 371.6,134.4 373.6,134.1 375.6,133.9 377.6,134.6 379.6,135.8 381.6,136.9 383.6,137.6 385.6,137.9 387.6,138.4 389.6,139.3 391.6,140.2 393.6,141.1 395.6,142.1 397.6,143.4 399.6,144.0 401.6,143.8 403.6,143.2 405.6,141.9 407.6,140.8 409.6,139.6 411.6,140.0 413.6,140.8 415.6,139.8 417.6,138.5 419.6,137.8 421.6,137.4 423.6,135.9 425.6,132.4 427.6,127.6 429.6,121.0 431.6,114.9 433.6,111.3 435.6,111.5 437.6,112.7 439.6,113.4 441.6,113.2 443.6,114.0 445.6,114.5 447.6,114.9 449.6,116.0 451.6,118.1 453.6,121.7 455.6,125.4 457.6,129.0 459.6,132.0 461.6,134.6 463.6,136.3 465.6,138.1 467.6,140.0 469.6,142.2 471.6,143.9 473.6,145.9 475.6,148.2 477.6,150.6 479.6,153.9 481.6,157.8 483.6,162.0 485.6,165.8 487.6,169.8 489.6,174.3 491.6,178.3 493.6,181.6 495.6,184.9 497.6,188.2 499.6,191.4 501.6,194.3 503.6,197.1 505.6,199.7 507.6,202.0 509.6,203.6 511.6,205.4 513.6,206.4 515.6,207.2 517.6,208.1 519.6,209.5 521.6,211.1 523.6,212.8 525.6,214.5 527.6,216.1 529.6,217.6 531.6,219.1 533.6,220.6 535.6,222.1 537.6,223.5 539.6,225.0 541.6,226.4 543.6,227.4 545.6,228.3 547.6,229.2 549.6,230.2 551.6,231.2 553.6,232.2 555.6,233.2 557.6,234.2 559.6,235.1 561.6,235.9 563.6,236.6 565.6,237.4 567.6,238.4 569.6,239.5 571.6,240.6 573.6,241.8 575.6,242.4 577.6,242.9 579.6,243.4 581.6,243.9 583.6,244.6 585.6,245.4 587.6,246.1 589.6,246.9 591.6,247.5 593.6,248.2 595.6,248.8 597.6,249.5 599.6,250.0 601.6,250.5 603.6,251.0 605.6,251.5 607.6,251.8 609.6,252.0 611.6,252.2 613.6,252.4 615.6,252.5 617.6,252.6 619.6,252.7 621.6,252.9 623.6,253.0 625.6,253.1 627.6,253.1 629.6,253.2 631.6,253.3 633.6,253.4 635.6,253.4 637.6,253.5 639.6,253.6 641.6,253.7 643.6,253.8 645.6,253.9 647.6,254.0 649.6,254.1 651.6,254.3 653.6,254.5 655.6,254.7 657.6,254.9 659.6,255.1 661.6,255.3"/>
<path d="M275.6,195.9 277.6,195.3 279.6,194.5 281.6,193.6 283.6,192.5 285.6,191.4 287.6,190.5 289.6,189.9 291.6,189.6 293.6,189.4 295.6,189.1 297.6,188.6 299.6,187.9 301.6,187.2 303.6,186.3 305.6,185.0 307.6,183.7 309.6,182.6 311.6,181.7 313.6,180.7 315.6,179.8 317.6,178.7 319.6,177.6 321.6,176.3 323.6,174.9 325.6,173.4 327.6,171.9 329.6,170.3 331.6,168.9 333.6,167.5 335.6,166.6 337.6,166.0 339.6,165.4 341.6,164.3 343.6,163.4 345.6,162.6 347.6,161.1 349.6,158.3 351.6,154.6 353.6,150.2 355.6,145.0 357.6,139.9 359.6,136.3 361.6,134.7 363.6,135.6 365.6,137.3 367.6,139.4 369.6,141.1 371.6,142.5 373.6,142.7 375.6,142.9 377.6,143.6 379.6,144.2 381.6,144.2 383.6,143.6 385.6,143.1 387.6,143.3 389.6,144.5 391.6,146.0 393.6,147.3 395.6,148.2 397.6,148.7 399.6,148.1 401.6,147.0 403.6,145.4 405.6,142.8 407.6,140.5 409.6,138.3 411.6,137.7 413.6,137.7 415.6,136.3 417.6,134.6 419.6,133.3 421.6,132.0 423.6,129.9 425.6,125.9 427.6,121.6 429.6,115.7 431.6,109.4 433.6,104.5 435.6,102.5 437.6,101.0 439.6,99.1 441.6,97.6 443.6,98.4 445.6,99.5 447.6,101.0 449.6,103.8 451.6,108.1 453.6,114.3 455.6,120.0 457.6,124.8 459.6,128.2 461.6,130.9 463.6,132.5 465.6,134.1 467.6,135.7 469.6,137.0 471.6,137.8 473.6,139.3 475.6,142.1 477.6,145.5 479.6,150.0 481.6,154.4 483.6,158.9 485.6,162.7 487.6,166.8 489.6,171.9 491.6,176.5 493.6,180.5 495.6,184.5 497.6,188.2 499.6,191.8 501.6,195.2 503.6,198.5 505.6,201.6 507.6,204.1 509.6,206.1 511.6,208.0 513.6,209.1 515.6,209.8 517.6,210.5 519.6,211.6 521.6,212.8 523.6,214.1 525.6,215.6 527.6,217.1 529.6,218.7 531.6,220.3 533.6,221.8 535.6,223.4 537.6,224.9 539.6,226.4 541.6,227.9 543.6,228.8 545.6,229.7 547.6,230.5 549.6,231.3 551.6,232.1 553.6,233.0 555.6,233.9 557.6,234.8 559.6,235.5 561.6,236.2 563.6,236.8 565.6,237.5 567.6,238.5 569.6,239.6 571.6,240.7 573.6,241.8 575.6,242.4 577.6,242.9 579.6,243.4 581.6,243.9 583.6,244.6 585.6,245.4 587.6,246.1 589.6,246.9 591.6,247.5 593.6,248.2 595.6,248.8 597.6,249.5 599.6,250.0 601.6,250.5 603.6,251.0 605.6,251.5 607.6,251.8 609.6,252.0 611.6,252.2 613.6,252.4 615.6,252.5 617.6,252.6 619.6,252.7 621.6,252.9 623.6,253.0 625.6,253.1 627.6,253.1 629.6,253.2 631.6,253.3 633.6,253.4 635.6,253.4 637.6,253.5 639.6,253.6 641.6,253.7 643.6,253.8 645.6,253.9 647.6,254.0 649.6,254.1 651.6,254.3 653.6,254.5 655.6,254.7 657.6,254.9 659.6,255.1 661.6,255.3"/>
<path d="M275.6,206.7 277.6,206.6 279.6,206.3 281.6,205.8 283.6,205.1 285.6,204.3 287.6,203.5 289.6,202.6 291.6,201.9 293.6,201.2 295.6,200.5 297.6,199.6 299.6,198.6 301.6,197.8 303.6,197.1 305.6,196.4 307.6,195.7 309.6,194.8 311.6,193.8 313.6,192.7 315.6,191.9 317.6,191.2 319.6,190.4 321.6,189.2 323.6,187.6 325.6,185.9 327.6,184.0 329.6,182.2 331.6,180.6 333.6,178.9 335.6,177.9 337.6,177.0 339.6,175.7 341.6,174.1 343.6,173.0 345.6,172.7 347.6,172.0 349.6,170.2 351.6,167.3 353.6,163.7 355.6,159.0 357.6,154.7 359.6,151.7 361.6,150.1 363.6,149.6 365.6,149.4 367.6,149.8 369.6,150.5 371.6,151.6 373.6,152.0 375.6,152.2 377.6,152.8 379.6,153.4 381.6,154.0 383.6,154.5 385.6,154.9 387.6,155.3 389.6,155.7 391.6,156.0 393.6,156.3 395.6,156.5 397.6,156.8 399.6,156.7 401.6,156.4 403.6,155.7 405.6,154.0 407.6,152.3 409.6,150.7 411.6,150.0 413.6,149.4 415.6,147.7 417.6,145.5 419.6,143.9 421.6,142.5 423.6,140.3 425.6,136.3 427.6,130.4 429.6,122.8 431.6,115.4 433.6,110.0 435.6,108.0 437.6,106.8 439.6,104.8 441.6,102.2 443.6,101.2 445.6,100.4 447.6,100.8 449.6,103.1 451.6,106.8 453.6,112.4 455.6,118.0 457.6,123.1 459.6,127.2 461.6,130.5 463.6,132.5 465.6,134.3 467.6,135.9 469.6,137.1 471.6,137.6 473.6,138.8 475.6,141.1 477.6,143.9 479.6,147.6 481.6,151.3 483.6,154.9 485.6,157.9 487.6,161.2 489.6,165.9 491.6,170.8 493.6,175.4 495.6,179.8 497.6,183.9 499.6,187.7 501.6,191.3 503.6,194.9 505.6,198.4 507.6,201.3 509.6,203.4 511.6,205.3 513.6,206.5 515.6,207.5 517.6,208.5 519.6,209.9 521.6,211.5 523.6,213.1 525.6,214.7 527.6,216.4 529.6,218.1 531.6,219.8 533.6,221.5 535.6,223.2 537.6,224.8 539.6,226.3 541.6,227.8 543.6,228.8 545.6,229.7 547.6,230.6 549.6,231.5 551.6,232.4 553.6,233.2 555.6,234.0 557.6,234.8 559.6,235.5 561.6,236.2 563.6,236.8 565.6,237.6 567.6,238.5 569.6,239.6 571.6,240.7 573.6,241.8 575.6,242.4 577.6,242.9 579.6,243.4 581.6,243.9 583.6,244.6 585.6,245.4 587.6,246.1 589.6,246.9 591.6,247.5 593.6,248.2 595.6,248.8 597.6,249.5 599.6,250.0 601.6,250.5 603.6,251.0 605.6,251.5 607.6,251.8 609.6,252.0 611.6,252.2 613.6,252.4 615.6,252.5 617.6,252.6 619.6,252.7 621.6,252.9 623.6,253.0 625.6,253.1 627.6,253.1 629.6,253.2 631.6,253.3 633.6,253.4 635.6,253.4 637.6,253.5 639.6,253.6 641.6,253.7 643.6,253.8 645.6,253.9 647.6,254.0 649.6,254.1 651.6,254.3 653.6,254.5 655.6,254.7 657.6,254.9 659.6,255.1 661.6,255.3"/>
<path d="M275.6,199.5 277.6,198.7 279.6,198.1 281.6,197.7 283.6,197.1 285.6,196.5 287.6,195.7 289.6,194.8 291.6,194.2 293.6,193.8 295.6,193.3 297.6,192.7 299.6,191.9 301.6,191.1 303.6,190.1 305.6,188.9 307.6,187.9 309.6,187.0 311.6,186.2 313.6,185.4 315.6,184.6 317.6,183.7 319.6,182.8 321.6,181.6 323.6,180.3 325.6,179.1 327.6,177.7 329.6,176.2 331.6,174.7 333.6,173.3 335.6,173.0 337.6,172.9 339.6,172.4 341.6,171.1 343.6,170.0 345.6,169.3 347.6,168.0 349.6,165.5 351.6,162.4 353.6,158.2 355.6,152.4 357.6,146.6 359.6,142.3 361.6,141.0 363.6,142.3 365.6,143.8 367.6,145.3 369.6,146.5 371.6,147.3 373.6,147.0 375.6,146.9 377.6,147.5 379.6,147.9 381.6,147.7 383.6,146.6 385.6,145.4 387.6,144.8 389.6,145.4 391.6,146.3 393.6,147.4 395.6,148.5 397.6,149.4 399.6,149.2 401.6,148.7 403.6,147.7 405.6,145.7 407.6,144.0 409.6,142.5 411.6,142.6 413.6,142.8 415.6,141.1 417.6,138.5 419.6,136.3 421.6,134.2 423.6,131.6 425.6,127.6 427.6,123.1 429.6,116.5 431.6,108.8 433.6,102.1 435.6,98.5 437.6,96.3 439.6,94.5 441.6,93.0 443.6,93.3 445.6,94.0 447.6,95.4 449.6,98.5 451.6,103.0 453.6,109.0 455.6,115.0 457.6,120.4 459.6,124.4 461.6,127.7 463.6,129.5 465.6,131.3 467.6,133.2 469.6,135.0 471.6,136.3 473.6,138.0 475.6,140.7 477.6,143.6 479.6,147.5 481.6,151.6 483.6,155.9 485.6,159.9 487.6,164.4 489.6,170.1 491.6,175.6 493.6,180.1 495.6,184.1 497.6,187.7 499.6,191.0 501.6,193.9 503.6,196.8 505.6,199.5 507.6,201.7 509.6,203.2 511.6,204.7 513.6,205.5 515.6,206.3 517.6,207.1 519.6,208.5 521.6,209.9 523.6,211.4 525.6,213.0 527.6,214.6 529.6,216.4 531.6,218.0 533.6,219.6 535.6,221.1 537.6,222.6 539.6,224.1 541.6,225.5 543.6,226.6 545.6,227.7 547.6,228.8 549.6,229.8 551.6,231.0 553.6,232.1 555.6,233.2 557.6,234.3 559.6,235.1 561.6,235.8 563.6,236.5 565.6,237.3 567.6,238.3 569.6,239.4 571.6,240.6 573.6,241.8 575.6,242.4 577.6,242.9 579.6,243.4 581.6,243.9 583.6,244.6 585.6,245.4 587.6,246.1 589.6,246.9 591.6,247.5 593.6,248.2 595.6,248.8 597.6,249.5 599.6,250.0 601.6,250.5 603.6,251.0 605.6,251.5 607.6,251.8 609.6,252.0 611.6,252.2 613.6,252.4 615.6,252.5 617.6,252.6 619.6,252.7 621.6,252.9 623.6,253.0 625.6,253.1 627.6,253.1 629.6,253.2 631.6,253.3 633.6,253.4 635.6,253.4 637.6,253.5 639.6,253.6 641.6,253.7 643.6,253.8 645.6,253.9 647.6,254.0 649.6,254.1 651.6,254.3 653.6,254.5 655.6,254.7 657.6,254.9 659.6,255.1 661.6,255.3"/>
<path d="M275.6,209.5 277.6,209.2 279.6,208.9 281.6,208.6 283.6,208.3 285.6,208.0 287.6,207.7 289.6,207.3 291.6,206.8 293.6,206.4 295.6,206.0 297.6,205.4 299.6,204.9 301.6,204.4 303.6,203.9 305.6,203.4 307.6,202.9 309.6,202.4 311.6,201.6 313.6,200.8 315.6,199.9 317.6,199.1 319.6,198.2 321.6,197.4 323.6,196.6 325.6,195.7 327.6,194.5 329.6,193.3 331.6,192.0 333.6,190.8 335.6,190.0 337.6,189.4 339.6,188.8 341.6,188.2 343.6,187.7 345.6,187.2 347.6,186.8 349.6,186.3 351.6,183.6 353.6,180.3 355.6,176.3 357.6,172.2 359.6,169.5 361.6,167.1 363.6,165.3 365.6,164.1 367.6,163.0 369.6,162.0 371.6,162.2 373.6,162.8 375.6,163.3 377.6,163.8 379.6,164.4 381.6,164.9 383.6,165.4 385.6,165.9 387.6,166.4 389.6,166.5 391.6,166.5 393.6,166.5 395.6,166.5 397.6,166.3 399.6,166.1 401.6,165.9 403.6,165.7 405.6,165.5 407.6,165.7 409.6,165.9 411.6,166.1 413.6,166.3 415.6,166.5 417.6,166.0 419.6,165.4 421.6,164.8 423.6,164.2 425.6,163.7 427.6,158.6 429.6,152.3 431.6,148.8 433.6,146.0 435.6,145.2 437.6,144.9 439.6,144.6 441.6,144.2 443.6,143.9 445.6,143.7 447.6,143.5 449.6,143.7 451.6,144.9 453.6,146.1 455.6,147.3 457.6,148.6 459.6,149.9 461.6,151.2 463.6,152.5 465.6,153.7 467.6,154.7 469.6,157.4 471.6,160.6 473.6,163.9 475.6,167.1 477.6,170.4 479.6,173.6 481.6,176.9 483.6,180.1 485.6,183.0 487.6,185.7 489.6,188.5 491.6,191.0 493.6,193.1 495.6,195.1 497.6,197.1 499.6,199.1 501.6,201.6 503.6,204.3 505.6,207.0 507.6,208.8 509.6,210.5 511.6,212.2 513.6,213.0 515.6,213.7 517.6,214.3 519.6,214.9 521.6,215.6 523.6,216.6 525.6,217.8 527.6,219.1 529.6,220.5 531.6,221.9 533.6,223.3 535.6,224.7 537.6,226.1 539.6,227.5 541.6,228.9 543.6,229.8 545.6,230.6 547.6,231.4 549.6,232.2 551.6,232.8 553.6,233.5 555.6,234.1 557.6,234.8 559.6,235.5 561.6,236.2 563.6,236.9 565.6,237.6 567.6,238.5 569.6,239.6 571.6,240.7 573.6,241.8 575.6,242.4 577.6,242.9 579.6,243.4 581.6,243.9 583.6,244.6 585.6,245.4 587.6,246.1 589.6,246.9 591.6,247.5 593.6,248.2 595.6,248.8 597.6,249.5 599.6,250.0 601.6,250.5 603.6,251.0 605.6,251.5 607.6,251.8 609.6,252.0 611.6,252.2 613.6,252.4 615.6,252.5 617.6,252.6 619.6,252.7 621.6,252.9 623.6,253.0 625.6,253.1 627.6,253.1 629.6,253.2 631.6,253.3 633.6,253.4 635.6,253.4 637.6,253.5 639.6,253.6 641.6,253.7 643.6,253.8 645.6,253.9 647.6,254.0 649.6,254.1 651.6,254.3 653.6,254.5 655.6,254.7 657.6,254.9 659.6,255.1 661.6,255.3"/>
<path d="M275.6,205.1 277.6,204.8 279.6,204.4 281.6,204.0 283.6,203.5 285.6,202.9 287.6,202.5 289.6,202.1 291.6,201.9 293.6,201.7 295.6,201.5 297.6,201.2 299.6,200.9 301.6,200.6 303.6,200.2 305.6,199.7 307.6,199.1 309.6,198.4 311.6,197.6 313.6,196.7 315.6,195.8 317.6,194.7 319.6,193.1 321.6,191.1 323.6,188.8 325.6,186.6 327.6,184.3 329.6,182.2 331.6,180.5 333.6,179.0 335.6,178.4 337.6,177.8 339.6,177.0 341.6,175.7 343.6,174.8 345.6,174.4 347.6,173.6 349.6,171.9 351.6,168.9 353.6,165.4 355.6,161.1 357.6,157.4 359.6,155.3 361.6,154.2 363.6,153.7 365.6,153.2 367.6,153.1 369.6,153.2 371.6,153.8 373.6,153.8 375.6,153.4 377.6,153.4 379.6,153.4 381.6,153.5 383.6,153.2 385.6,153.0 387.6,152.8 389.6,152.7 391.6,152.7 393.6,152.9 395.6,153.2 397.6,153.6 399.6,153.3 401.6,152.7 403.6,151.7 405.6,149.9 407.6,147.9 409.6,145.7 411.6,144.4 413.6,143.6 415.6,141.4 417.6,139.2 419.6,138.0 421.6,137.5 423.6,136.6 425.6,134.0 427.6,130.1 429.6,124.2 431.6,118.9 433.6,115.2 435.6,114.1 437.6,113.0 439.6,111.1 441.6,108.9 443.6,109.0 445.6,109.9 447.6,111.5 449.6,114.5 451.6,118.9 453.6,124.7 455.6,130.0 457.6,134.4 459.6,137.5 461.6,139.7 463.6,141.0 465.6,142.1 467.6,143.3 469.6,145.1 471.6,147.1 473.6,149.7 475.6,153.4 477.6,157.3 479.6,161.6 481.6,165.2 483.6,168.2 485.6,170.5 487.6,173.2 489.6,177.3 491.6,181.4 493.6,184.9 495.6,188.1 497.6,190.7 499.6,193.2 501.6,195.5 503.6,197.9 505.6,200.2 507.6,202.4 509.6,204.2 511.6,206.1 513.6,207.3 515.6,208.4 517.6,209.4 519.6,211.0 521.6,212.6 523.6,214.3 525.6,215.9 527.6,217.4 529.6,218.9 531.6,220.4 533.6,222.0 535.6,223.5 537.6,225.0 539.6,226.4 541.6,227.8 543.6,228.8 545.6,229.6 547.6,230.5 549.6,231.4 551.6,232.3 553.6,233.1 555.6,234.0 557.6,234.8 559.6,235.5 561.6,236.2 563.6,236.8 565.6,237.5 567.6,238.5 569.6,239.6 571.6,240.7 573.6,241.8 575.6,242.4 577.6,242.9 579.6,243.4 581.6,243.9 583.6,244.6 585.6,245.4 587.6,246.1 589.6,246.9 591.6,247.5 593.6,248.2 595.6,248.8 597.6,249.5 599.6,250.0 601.6,250.5 603.6,251.0 605.6,251.5 607.6,251.8 609.6,252.0 611.6,252.2 613.6,252.4 615.6,252.5 617.6,252.6 619.6,252.7 621.6,252.9 623.6,253.0 625.6,253.1 627.6,253.1 629.6,253.2 631.6,253.3 633.6,253.4 635.6,253.4 637.6,253.5 639.6,253.6 641.6,253.7 643.6,253.8 645.6,253.9 647.6,254.0 649.6,254.1 651.6,254.3 653.6,254.5 655.6,254.7 657.6,254.9 659.6,255.1 661.6,255.3"/>
<path d="M275.6,207.9 277.6,207.2 279.6,206.5 281.6,205.8 283.6,205.2 285.6,204.7 287.6,204.2 289.6,203.8 291.6,203.3 293.6,202.8 295.6,202.3 297.6,201.7 299.6,201.1 301.6,200.4 303.6,199.8 305.6,199.2 307.6,198.8 309.6,198.5 311.6,198.0 313.6,197.2 315.6,196.3 317.6,195.3 319.6,194.2 321.6,192.8 323.6,191.3 325.6,189.7 327.6,187.7 329.6,185.6 331.6,183.6 333.6,181.8 335.6,180.8 337.6,180.3 339.6,180.0 341.6,179.7 343.6,179.8 345.6,180.3 347.6,180.6 349.6,180.6 351.6,179.2 353.6,177.4 355.6,175.0 357.6,172.2 359.6,169.5 361.6,167.1 363.6,165.3 365.6,164.1 367.6,163.0 369.6,162.0 371.6,162.2 373.6,162.8 375.6,163.3 377.6,163.8 379.6,164.4 381.6,164.9 383.6,165.4 385.6,165.9 387.6,166.4 389.6,166.5 391.6,166.5 393.6,166.5 395.6,166.5 397.6,166.3 399.6,166.1 401.6,165.9 403.6,165.7 405.6,165.5 407.6,165.7 409.6,165.9 411.6,166.1 413.6,166.3 415.6,166.5 417.6,166.0 419.6,165.4 421.6,164.8 423.6,164.2 425.6,163.7 427.6,158.6 429.6,151.8 431.6,147.7 433.6,144.3 435.6,143.0 437.6,142.3 439.6,141.6 441.6,141.2 443.6,141.2 445.6,141.1 447.6,140.8 449.6,140.6 451.6,141.4 453.6,142.5 455.6,143.8 457.6,145.4 459.6,146.9 461.6,148.2 463.6,149.3 465.6,150.2 467.6,151.1 469.6,153.4 471.6,155.9 473.6,158.5 475.6,161.2 477.6,163.7 479.6,166.4 481.6,169.0 483.6,171.8 485.6,174.4 487.6,177.3 489.6,180.7 491.6,184.1 493.6,187.2 495.6,190.1 497.6,192.8 499.6,195.2 501.6,197.6 503.6,200.2 505.6,202.8 507.6,205.0 509.6,206.7 511.6,208.3 513.6,209.3 515.6,210.1 517.6,211.1 519.6,212.5 521.6,213.9 523.6,215.3 525.6,216.6 527.6,218.0 529.6,219.4 531.6,220.8 533.6,222.3 535.6,223.8 537.6,225.3 539.6,226.8 541.6,228.3 543.6,229.2 545.6,230.0 547.6,230.7 549.6,231.5 551.6,232.2 553.6,233.0 555.6,233.9 557.6,234.8 559.6,235.5 561.6,236.2 563.6,236.8 565.6,237.5 567.6,238.5 569.6,239.6 571.6,240.7 573.6,241.8 575.6,242.4 577.6,242.9 579.6,243.4 581.6,243.9 583.6,244.6 585.6,245.4 587.6,246.1 589.6,246.9 591.6,247.5 593.6,248.2 595.6,248.8 597.6,249.5 599.6,250.0 601.6,250.5 603.6,251.0 605.6,251.5 607.6,251.8 609.6,252.0 611.6,252.2 613.6,252.4 615.6,252.5 617.6,252.6 619.6,252.7 621.6,252.9 623.6,253.0 625.6,253.1 627.6,253.1 629.6,253.2 631.6,253.3 633.6,253.4 635.6,253.4 637.6,253.5 639.6,253.6 641.6,253.7 643.6,253.8 645.6,253.9 647.6,254.0 649.6,254.1 651.6,254.3 653.6,254.5 655.6,254.7 657.6,254.9 659.6,255.1 661.6,255.3"/>
<path d="M275.6,196.5 277.6,195.5 279.6,194.5 281.6,193.6 283.6,192.7 285.6,191.7 287.6,190.8 289.6,189.9 291.6,189.1 293.6,188.3 295.6,187.4 297.6,186.5 299.6,185.6 301.6,184.9 303.6,184.1 305.6,182.9 307.6,181.7 309.6,180.5 311.6,179.4 313.6,178.3 315.6,177.2 317.6,176.0 319.6,174.5 321.6,172.9 323.6,171.3 325.6,169.8 327.6,168.3 329.6,166.9 331.6,165.4 333.6,164.1 335.6,163.2 337.6,162.5 339.6,161.7 341.6,160.4 343.6,159.1 345.6,157.5 347.6,155.5 349.6,152.7 351.6,148.5 353.6,143.6 355.6,138.0 357.6,132.2 359.6,128.3 361.6,126.8 363.6,128.1 365.6,130.3 367.6,132.7 369.6,133.2 371.6,132.8 373.6,131.5 375.6,130.3 377.6,130.2 379.6,131.2 381.6,132.1 383.6,132.4 385.6,131.9 387.6,131.3 389.6,131.0 391.6,131.7 393.6,132.9 395.6,134.4 397.6,135.9 399.6,136.7 401.6,135.4 403.6,133.4 405.6,130.7 407.6,127.8 409.6,124.5 411.6,121.4 413.6,118.1 415.6,114.8 417.6,112.2 419.6,110.5 421.6,109.5 423.6,107.8 425.6,103.0 427.6,97.2 429.6,90.8 431.6,84.7 433.6,80.1 435.6,78.7 437.6,79.2 439.6,79.9 441.6,81.0 443.6,83.5 445.6,86.0 447.6,88.4 449.6,91.7 451.6,95.8 453.6,101.1 455.6,106.7 457.6,111.8 459.6,115.9 461.6,119.5 463.6,121.6 465.6,123.7 467.6,125.6 469.6,127.0 471.6,128.2 473.6,130.1 475.6,133.3 477.6,136.6 479.6,140.6 481.6,144.6 483.6,148.7 485.6,152.4 487.6,156.4 489.6,161.6 491.6,166.7 493.6,171.3 495.6,175.9 497.6,180.5 499.6,184.7 501.6,188.5 503.6,192.0 505.6,195.2 507.6,197.9 509.6,200.1 511.6,201.9 513.6,203.2 515.6,204.4 517.6,205.5 519.6,207.1 521.6,208.7 523.6,210.6 525.6,212.5 527.6,214.5 529.6,216.5 531.6,218.3 533.6,220.2 535.6,222.0 537.6,223.8 539.6,225.5 541.6,227.3 543.6,228.4 545.6,229.3 547.6,230.2 549.6,231.1 551.6,232.0 553.6,232.9 555.6,233.8 557.6,234.8 559.6,235.5 561.6,236.1 563.6,236.8 565.6,237.4 567.6,238.5 569.6,239.5 571.6,240.7 573.6,241.8 575.6,242.4 577.6,242.9 579.6,243.4 581.6,243.9 583.6,244.6 585.6,245.4 587.6,246.1 589.6,246.9 591.6,247.5 593.6,248.2 595.6,248.8 597.6,249.5 599.6,250.0 601.6,250.5 603.6,251.0 605.6,251.5 607.6,251.8 609.6,252.0 611.6,252.2 613.6,252.4 615.6,252.5 617.6,252.6 619.6,252.7 621.6,252.9 623.6,253.0 625.6,253.1 627.6,253.1 629.6,253.2 631.6,253.3 633.6,253.4 635.6,253.4 637.6,253.5 639.6,253.6 641.6,253.7 643.6,253.8 645.6,253.9 647.6,254.0 649.6,254.1 651.6,254.3 653.6,254.5 655.6,254.7 657.6,254.9 659.6,255.1 661.6,255.3"/>
<path d="M275.6,204.8 277.6,204.3 279.6,203.8 281.6,203.1 283.6,202.3 285.6,201.6 287.6,201.0 289.6,200.3 291.6,199.7 293.6,199.2 295.6,198.7 297.6,198.1 299.6,197.4 301.6,196.7 303.6,195.9 305.6,195.0 307.6,194.1 309.6,193.3 311.6,192.5 313.6,191.7 315.6,191.1 317.6,190.5 319.6,189.8 321.6,188.7 323.6,187.3 325.6,185.8 327.6,184.2 329.6,183.0 331.6,182.0 333.6,181.1 335.6,180.9 337.6,181.0 339.6,180.9 341.6,180.5 343.6,180.3 345.6,180.3 347.6,180.0 349.6,178.9 351.6,175.7 353.6,171.5 355.6,166.2 357.6,160.8 359.6,157.0 361.6,154.6 363.6,153.6 365.6,153.2 367.6,153.1 369.6,153.0 371.6,153.0 373.6,152.3 375.6,151.5 377.6,151.4 379.6,152.0 381.6,152.8 383.6,153.4 385.6,153.9 387.6,154.5 389.6,155.1 391.6,155.8 393.6,156.5 395.6,157.1 397.6,157.5 399.6,157.4 401.6,157.2 403.6,156.9 405.6,156.3 407.6,156.0 409.6,155.7 411.6,156.0 413.6,156.5 415.6,156.5 417.6,155.8 419.6,155.0 421.6,153.8 423.6,151.9 425.6,148.6 427.6,142.0 429.6,133.9 431.6,127.3 433.6,123.0 435.6,122.9 437.6,124.1 439.6,124.6 441.6,123.6 443.6,122.3 445.6,120.7 447.6,119.5 449.6,119.8 451.6,121.6 453.6,124.8 455.6,127.8 457.6,130.6 459.6,132.8 461.6,134.9 463.6,136.5 465.6,138.5 467.6,140.6 469.6,143.0 471.6,145.0 473.6,147.5 475.6,150.6 477.6,153.8 479.6,157.5 481.6,161.1 483.6,164.6 485.6,167.8 487.6,171.5 489.6,176.1 491.6,180.6 493.6,184.4 495.6,188.0 497.6,191.2 499.6,194.1 501.6,197.0 503.6,199.9 505.6,202.8 507.6,205.2 509.6,207.0 511.6,208.8 513.6,209.7 515.6,210.2 517.6,210.7 519.6,211.7 521.6,213.0 523.6,214.3 525.6,215.9 527.6,217.4 529.6,219.0 531.6,220.6 533.6,222.2 535.6,223.7 537.6,225.2 539.6,226.7 541.6,228.1 543.6,229.0 545.6,229.8 547.6,230.6 549.6,231.5 551.6,232.3 553.6,233.1 555.6,234.0 557.6,234.8 559.6,235.5 561.6,236.2 563.6,236.8 565.6,237.5 567.6,238.5 569.6,239.6 571.6,240.7 573.6,241.8 575.6,242.4 577.6,242.9 579.6,243.4 581.6,243.9 583.6,244.6 585.6,245.4 587.6,246.1 589.6,246.9 591.6,247.5 593.6,248.2 595.6,248.8 597.6,249.5 599.6,250.0 601.6,250.5 603.6,251.0 605.6,251.5 607.6,251.8 609.6,252.0 611.6,252.2 613.6,252.4 615.6,252.5 617.6,252.6 619.6,252.7 621.6,252.9 623.6,253.0 625.6,253.1 627.6,253.1 629.6,253.2 631.6,253.3 633.6,253.4 635.6,253.4 637.6,253.5 639.6,253.6 641.6,253.7 643.6,253.8 645.6,253.9 647.6,254.0 649.6,254.1 651.6,254.3 653.6,254.5 655.6,254.7 657.6,254.9 659.6,255.1 661.6,255.3"/>
<path d="M275.6,202.2 277.6,201.4 279.6,200.6 281.6,199.7 283.6,198.6 285.6,197.4 287.6,196.2 289.6,195.1 291.6,194.4 293.6,193.8 295.6,193.3 297.6,192.6 299.6,191.9 301.6,191.1 303.6,190.2 305.6,188.9 307.6,187.7 309.6,186.4 311.6,185.0 313.6,183.4 315.6,181.6 317.6,179.8 319.6,178.1 321.6,176.4 323.6,174.9 325.6,173.5 327.6,172.1 329.6,170.8 331.6,169.5 333.6,168.0 335.6,167.0 337.6,166.0 339.6,164.8 341.6,163.1 343.6,161.2 345.6,159.3 347.6,157.0 349.6,154.1 351.6,150.0 353.6,145.2 355.6,139.5 357.6,133.4 359.6,129.0 361.6,126.6 363.6,127.1 365.6,128.5 367.6,130.7 369.6,131.1 371.6,130.6 373.6,129.3 375.6,127.9 377.6,127.2 379.6,127.9 381.6,129.0 383.6,130.0 385.6,130.3 387.6,130.4 389.6,130.3 391.6,130.4 393.6,130.7 395.6,131.2 397.6,132.0 399.6,132.6 401.6,130.7 403.6,128.0 405.6,124.5 407.6,120.5 409.6,116.1 411.6,112.3 413.6,109.2 415.6,107.4 417.6,106.7 419.6,106.7 421.6,107.4 423.6,107.8 425.6,105.8 427.6,102.8 429.6,98.3 431.6,92.7 433.6,87.8 435.6,85.5 437.6,84.6 439.6,84.0 441.6,84.1 443.6,86.3 445.6,89.0 447.6,92.0 449.6,96.0 451.6,100.9 453.6,107.3 455.6,113.5 457.6,119.1 459.6,123.2 461.6,126.5 463.6,128.4 465.6,130.3 467.6,132.1 469.6,133.6 471.6,134.5 473.6,135.9 475.6,138.5 477.6,141.5 479.6,145.5 481.6,149.6 483.6,153.9 485.6,157.8 487.6,161.9 489.6,167.3 491.6,172.3 493.6,176.6 495.6,180.7 497.6,184.5 499.6,188.2 501.6,191.7 503.6,195.1 505.6,198.2 507.6,200.7 509.6,202.4 511.6,203.8 513.6,204.7 515.6,205.7 517.6,206.9 519.6,208.7 521.6,210.7 523.6,212.7 525.6,214.5 527.6,216.2 529.6,217.8 531.6,219.4 533.6,221.0 535.6,222.6 537.6,224.0 539.6,225.5 541.6,227.0 543.6,227.9 545.6,228.7 547.6,229.5 549.6,230.3 551.6,231.3 553.6,232.2 555.6,233.2 557.6,234.1 559.6,234.9 561.6,235.7 563.6,236.5 565.6,237.3 567.6,238.3 569.6,239.4 571.6,240.6 573.6,241.8 575.6,242.4 577.6,242.9 579.6,243.4 581.6,243.9 583.6,244.6 585.6,245.4 587.6,246.1 589.6,246.9 591.6,247.5 593.6,248.2 595.6,248.8 597.6,249.5 599.6,250.0 601.6,250.5 603.6,251.0 605.6,251.5 607.6,251.8 609.6,252.0 611.6,252.2 613.6,252.4 615.6,252.5 617.6,252.6 619.6,252.7 621.6,252.9 623.6,253.0 625.6,253.1 627.6,253.1 629.6,253.2 631.6,253.3 633.6,253.4 635.6,253.4 637.6,253.5 639.6,253.6 641.6,253.7 643.6,253.8 645.6,253.9 647.6,254.0 649.6,254.1 651.6,254.3 653.6,254.5 655.6,254.7 657.6,254.9 659.6,255.1 661.6,255.3"/>
<path d="M275.6,201.7 277.6,201.1 279.6,200.4 281.6,199.7 283.6,198.8 285.6,198.1 287.6,197.3 289.6,196.4 291.6,195.7 293.6,194.9 295.6,194.1 297.6,193.4 299.6,192.9 301.6,192.4 303.6,191.9 305.6,190.9 307.6,189.8 309.6,188.6 311.6,187.6 313.6,186.7 315.6,185.9 317.6,185.2 319.6,184.4 321.6,183.2 323.6,181.7 325.6,180.0 327.6,178.1 329.6,176.2 331.6,174.4 333.6,172.7 335.6,171.8 337.6,171.3 339.6,170.4 341.6,168.8 343.6,167.4 345.6,166.5 347.6,165.4 349.6,163.5 351.6,161.9 353.6,159.4 355.6,155.0 357.6,150.1 359.6,146.0 361.6,144.0 363.6,144.0 365.6,144.4 367.6,145.1 369.6,145.9 371.6,146.3 373.6,145.8 375.6,145.6 377.6,146.4 379.6,147.3 381.6,147.8 383.6,147.4 385.6,146.6 387.6,145.8 389.6,145.7 391.6,145.8 393.6,146.3 395.6,147.0 397.6,148.1 399.6,148.5 401.6,148.8 403.6,148.8 405.6,147.7 407.6,146.4 409.6,144.8 411.6,144.1 413.6,143.5 415.6,141.2 417.6,138.7 419.6,137.1 421.6,135.9 423.6,134.1 425.6,130.3 427.6,125.4 429.6,118.5 431.6,111.3 433.6,106.1 435.6,104.5 437.6,104.4 439.6,104.8 441.6,105.6 443.6,108.4 445.6,111.3 447.6,114.2 449.6,117.9 451.6,122.2 453.6,127.2 455.6,131.6 457.6,135.6 459.6,138.9 461.6,142.0 463.6,144.3 465.6,146.3 467.6,147.9 469.6,150.1 471.6,152.6 473.6,155.6 475.6,159.1 477.6,162.7 479.6,166.2 481.6,169.7 483.6,173.2 485.6,176.2 487.6,179.2 489.6,182.5 491.6,185.6 493.6,188.3 495.6,190.9 497.6,193.3 499.6,195.6 501.6,198.1 503.6,200.7 505.6,203.3 507.6,205.5 509.6,207.3 511.6,209.2 513.6,210.2 515.6,211.0 517.6,211.8 519.6,213.0 521.6,214.2 523.6,215.5 525.6,216.8 527.6,218.3 529.6,219.7 531.6,221.3 533.6,222.9 535.6,224.5 537.6,226.0 539.6,227.5 541.6,228.9 543.6,229.8 545.6,230.5 547.6,231.2 549.6,231.9 551.6,232.5 553.6,233.3 555.6,234.0 557.6,234.8 559.6,235.5 561.6,236.2 563.6,236.8 565.6,237.5 567.6,238.5 569.6,239.6 571.6,240.7 573.6,241.8 575.6,242.4 577.6,242.9 579.6,243.4 581.6,243.9 583.6,244.6 585.6,245.4 587.6,246.1 589.6,246.9 591.6,247.5 593.6,248.2 595.6,248.8 597.6,249.5 599.6,250.0 601.6,250.5 603.6,251.0 605.6,251.5 607.6,251.8 609.6,252.0 611.6,252.2 613.6,252.4 615.6,252.5 617.6,252.6 619.6,252.7 621.6,252.9 623.6,253.0 625.6,253.1 627.6,253.1 629.6,253.2 631.6,253.3 633.6,253.4 635.6,253.4 637.6,253.5 639.6,253.6 641.6,253.7 643.6,253.8 645.6,253.9 647.6,254.0 649.6,254.1 651.6,254.3 653.6,254.5 655.6,254.7 657.6,254.9 659.6,255.1 661.6,255.3"/>
<path d="M275.6,201.6 277.6,200.8 279.6,200.0 281.6,199.4 283.6,198.7 285.6,198.0 287.6,197.5 289.6,197.1 291.6,197.0 293.6,196.7 295.6,196.3 297.6,195.7 299.6,195.0 301.6,194.2 303.6,193.5 305.6,192.5 307.6,191.4 309.6,190.1 311.6,188.6 313.6,187.1 315.6,185.8 317.6,184.7 319.6,183.4 321.6,181.9 323.6,180.4 325.6,179.0 327.6,177.7 329.6,176.3 331.6,174.9 333.6,173.5 335.6,173.1 337.6,172.9 339.6,172.4 341.6,170.9 343.6,169.3 345.6,168.0 347.6,166.1 349.6,163.0 351.6,159.8 353.6,156.2 355.6,151.5 357.6,147.0 359.6,143.5 361.6,141.9 363.6,142.0 365.6,142.4 367.6,143.2 369.6,144.5 371.6,145.6 373.6,145.5 375.6,145.6 377.6,146.4 379.6,147.1 381.6,147.4 383.6,147.1 385.6,147.0 387.6,147.7 389.6,149.3 391.6,151.2 393.6,152.8 395.6,154.0 397.6,154.7 399.6,154.4 401.6,153.9 403.6,153.4 405.6,152.3 407.6,151.5 409.6,150.7 411.6,150.7 413.6,150.9 415.6,150.0 417.6,148.4 419.6,146.8 421.6,144.9 423.6,142.1 425.6,137.8 427.6,132.2 429.6,125.8 431.6,120.5 433.6,116.9 435.6,115.8 437.6,114.8 439.6,113.2 441.6,111.4 443.6,111.3 445.6,111.6 447.6,112.2 449.6,114.6 451.6,118.5 453.6,123.8 455.6,128.2 457.6,131.7 459.6,133.9 461.6,135.8 463.6,136.9 465.6,138.1 467.6,139.2 469.6,140.2 471.6,140.3 473.6,140.8 475.6,142.8 477.6,145.6 479.6,149.6 481.6,153.4 483.6,157.0 485.6,159.9 487.6,163.3 489.6,168.3 491.6,173.4 493.6,178.1 495.6,182.5 497.6,186.5 499.6,190.0 501.6,193.1 503.6,195.9 505.6,198.3 507.6,200.4 509.6,201.9 511.6,203.5 513.6,204.5 515.6,205.4 517.6,206.3 519.6,207.8 521.6,209.5 523.6,211.4 525.6,213.3 527.6,215.2 529.6,217.0 531.6,218.6 533.6,220.2 535.6,221.9 537.6,223.6 539.6,225.3 541.6,227.0 543.6,228.2 545.6,229.2 547.6,230.0 549.6,230.9 551.6,231.9 553.6,232.8 555.6,233.8 557.6,234.8 559.6,235.5 561.6,236.2 563.6,236.8 565.6,237.5 567.6,238.5 569.6,239.6 571.6,240.7 573.6,241.8 575.6,242.4 577.6,242.9 579.6,243.4 581.6,243.9 583.6,244.6 585.6,245.4 587.6,246.1 589.6,246.9 591.6,247.5 593.6,248.2 595.6,248.8 597.6,249.5 599.6,250.0 601.6,250.5 603.6,251.0 605.6,251.5 607.6,251.8 609.6,252.0 611.6,252.2 613.6,252.4 615.6,252.5 617.6,252.6 619.6,252.7 621.6,252.9 623.6,253.0 625.6,253.1 627.6,253.1 629.6,253.2 631.6,253.3 633.6,253.4 635.6,253.4 637.6,253.5 639.6,253.6 641.6,253.7 643.6,253.8 645.6,253.9 647.6,254.0 649.6,254.1 651.6,254.3 653.6,254.5 655.6,254.7 657.6,254.9 659.6,255.1 661.6,255.3"/>
<path d="M275.6,192.5 277.6,191.6 279.6,190.7 281.6,189.8 283.6,188.9 285.6,188.0 287.6,187.1 289.6,186.2 291.6,185.5 293.6,184.9 295.6,184.3 297.6,183.7 299.6,183.0 301.6,182.4 303.6,181.6 305.6,180.2 307.6,178.8 309.6,177.5 311.6,176.1 313.6,174.7 315.6,173.3 317.6,172.0 319.6,170.5 321.6,168.9 323.6,167.3 325.6,165.7 327.6,164.1 329.6,162.5 331.6,160.9 333.6,159.3 335.6,157.6 337.6,155.8 339.6,154.0 341.6,152.2 343.6,150.1 345.6,146.9 347.6,143.8 349.6,140.6 351.6,135.2 353.6,129.2 355.6,123.0 357.6,116.3 359.6,112.9 361.6,111.8 363.6,114.5 365.6,118.2 367.6,122.2 369.6,122.4 371.6,121.6 373.6,120.7 375.6,119.7 377.6,119.2 379.6,119.9 381.6,120.5 383.6,120.9 385.6,120.6 387.6,120.3 389.6,120.1 391.6,120.6 393.6,121.4 395.6,122.2 397.6,123.0 399.6,123.8 401.6,120.8 403.6,116.8 405.6,112.8 407.6,108.8 409.6,104.8 411.6,100.8 413.6,96.8 415.6,93.9 417.6,91.2 419.6,88.5 421.6,86.4 423.6,84.4 425.6,79.7 427.6,74.6 429.6,69.9 431.6,65.3 433.6,61.3 435.6,59.8 437.6,60.4 439.6,61.5 441.6,63.3 443.6,66.4 445.6,70.2 447.6,74.4 449.6,79.1 451.6,84.0 453.6,89.0 455.6,94.8 457.6,100.8 459.6,106.0 461.6,111.0 463.6,113.9 465.6,116.3 467.6,118.3 469.6,119.1 471.6,119.9 473.6,121.4 475.6,124.4 477.6,127.4 479.6,130.9 481.6,134.5 483.6,138.0 485.6,141.2 487.6,144.4 489.6,149.2 491.6,154.4 493.6,159.4 495.6,164.2 497.6,169.0 499.6,173.2 501.6,177.2 503.6,181.2 505.6,184.7 507.6,188.0 509.6,191.3 511.6,193.6 513.6,195.6 515.6,197.6 517.6,199.5 519.6,201.3 521.6,203.1 523.6,205.3 525.6,207.6 527.6,209.8 529.6,212.1 531.6,213.9 533.6,215.7 535.6,217.5 537.6,219.3 539.6,221.1 541.6,222.5 543.6,223.7 545.6,224.9 547.6,226.1 549.6,227.3 551.6,228.5 553.6,229.8 555.6,231.0 557.6,232.3 559.6,233.5 561.6,234.7 563.6,235.8 565.6,236.9 567.6,238.1 569.6,239.2 571.6,240.4 573.6,241.7 575.6,242.4 577.6,242.9 579.6,243.4 581.6,243.9 583.6,244.6 585.6,245.4 587.6,246.1 589.6,246.9 591.6,247.5 593.6,248.2 595.6,248.8 597.6,249.5 599.6,250.0 601.6,250.5 603.6,251.0 605.6,251.5 607.6,251.8 609.6,252.0 611.6,252.2 613.6,252.4 615.6,252.5 617.6,252.6 619.6,252.7 621.6,252.9 623.6,253.0 625.6,253.1 627.6,253.1 629.6,253.2 631.6,253.3 633.6,253.4 635.6,253.4 637.6,253.5 639.6,253.6 641.6,253.7 643.6,253.8 645.6,253.9 647.6,254.0 649.6,254.1 651.6,254.3 653.6,254.5 655.6,254.7 657.6,254.9 659.6,255.1 661.6,255.3"/>
<path d="M275.6,204.4 277.6,203.7 279.6,203.0 281.6,202.5 283.6,202.1 285.6,201.6 287.6,201.2 289.6,200.8 291.6,200.7 293.6,200.6 295.6,200.4 297.6,200.0 299.6,199.5 301.6,198.9 303.6,198.1 305.6,197.2 307.6,196.3 309.6,195.3 311.6,194.3 313.6,193.3 315.6,192.4 317.6,191.5 319.6,190.5 321.6,189.2 323.6,187.9 325.6,186.8 327.6,185.8 329.6,184.9 331.6,184.0 333.6,182.7 335.6,181.7 337.6,180.7 339.6,179.6 341.6,178.2 343.6,177.1 345.6,176.7 347.6,176.3 349.6,175.5 351.6,173.2 353.6,170.0 355.6,165.2 357.6,160.3 359.6,156.6 361.6,154.6 363.6,154.0 365.6,153.9 367.6,153.9 369.6,153.8 371.6,153.9 373.6,153.4 375.6,152.6 377.6,152.2 379.6,151.8 381.6,151.4 383.6,151.0 385.6,150.9 387.6,151.2 389.6,151.9 391.6,152.4 393.6,153.1 395.6,153.9 397.6,154.6 399.6,154.4 401.6,153.8 403.6,152.7 405.6,150.9 407.6,149.6 409.6,148.5 411.6,148.6 413.6,148.8 415.6,147.5 417.6,145.8 419.6,144.5 421.6,143.5 423.6,141.9 425.6,138.8 427.6,133.7 429.6,126.6 431.6,120.1 433.6,115.4 435.6,114.3 437.6,114.2 439.6,113.7 441.6,112.7 443.6,112.9 445.6,113.2 447.6,113.7 449.6,115.6 451.6,118.8 453.6,123.9 455.6,129.0 457.6,133.8 459.6,137.7 461.6,140.8 463.6,142.9 465.6,144.5 467.6,146.0 469.6,148.3 471.6,150.6 473.6,153.2 475.6,156.2 477.6,159.4 479.6,163.4 481.6,167.9 483.6,172.5 485.6,176.3 487.6,179.8 489.6,183.3 491.6,186.6 493.6,189.5 495.6,192.3 497.6,194.8 499.6,197.1 501.6,199.6 503.6,202.2 505.6,204.6 507.6,206.5 509.6,208.1 511.6,209.7 513.6,210.4 515.6,210.9 517.6,211.5 519.6,212.6 521.6,213.9 523.6,215.3 525.6,216.8 527.6,218.2 529.6,219.6 531.6,221.0 533.6,222.5 535.6,223.9 537.6,225.3 539.6,226.7 541.6,228.1 543.6,229.0 545.6,229.7 547.6,230.5 549.6,231.3 551.6,232.1 553.6,233.0 555.6,233.9 557.6,234.8 559.6,235.5 561.6,236.2 563.6,236.8 565.6,237.5 567.6,238.5 569.6,239.6 571.6,240.7 573.6,241.8 575.6,242.4 577.6,242.9 579.6,243.4 581.6,243.9 583.6,244.6 585.6,245.4 587.6,246.1 589.6,246.9 591.6,247.5 593.6,248.2 595.6,248.8 597.6,249.5 599.6,250.0 601.6,250.5 603.6,251.0 605.6,251.5 607.6,251.8 609.6,252.0 611.6,252.2 613.6,252.4 615.6,252.5 617.6,252.6 619.6,252.7 621.6,252.9 623.6,253.0 625.6,253.1 627.6,253.1 629.6,253.2 631.6,253.3 633.6,253.4 635.6,253.4 637.6,253.5 639.6,253.6 641.6,253.7 643.6,253.8 645.6,253.9 647.6,254.0 649.6,254.1 651.6,254.3 653.6,254.5 655.6,254.7 657.6,254.9 659.6,255.1 661.6,255.3"/>
<path d="M275.6,206.1 277.6,205.5 279.6,205.0 281.6,204.4 283.6,203.9 285.6,203.5 287.6,202.9 289.6,202.2 291.6,201.3 293.6,200.4 295.6,199.6 297.6,198.9 299.6,198.3 301.6,198.0 303.6,197.6 305.6,197.1 307.6,196.5 309.6,195.9 311.6,195.0 313.6,194.0 315.6,192.7 317.6,191.2 319.6,189.7 321.6,188.0 323.6,186.3 325.6,184.6 327.6,182.7 329.6,180.7 331.6,178.6 333.6,176.5 335.6,175.0 337.6,173.7 339.6,172.1 341.6,169.6 343.6,167.6 345.6,166.3 347.6,164.7 349.6,162.3 351.6,159.2 353.6,154.9 355.6,148.9 357.6,142.8 359.6,138.1 361.6,136.0 363.6,136.6 365.6,138.0 367.6,139.8 369.6,141.2 371.6,142.1 373.6,141.7 375.6,141.1 377.6,140.8 379.6,140.5 381.6,140.2 383.6,139.8 385.6,139.6 387.6,140.0 389.6,141.0 391.6,142.2 393.6,143.3 395.6,144.2 397.6,144.8 399.6,144.6 401.6,143.4 403.6,141.6 405.6,138.9 407.6,136.3 409.6,133.7 411.6,132.6 413.6,132.3 415.6,131.4 417.6,130.1 419.6,129.0 421.6,127.7 423.6,125.5 425.6,121.0 427.6,115.5 429.6,108.0 431.6,99.9 433.6,93.3 435.6,90.2 437.6,88.8 439.6,87.9 441.6,87.7 443.6,89.9 445.6,92.6 447.6,95.7 449.6,99.8 451.6,104.5 453.6,110.6 455.6,116.5 457.6,121.8 459.6,126.1 461.6,129.8 463.6,132.2 465.6,134.6 467.6,136.8 469.6,138.3 471.6,138.8 473.6,139.7 475.6,141.7 477.6,144.3 479.6,147.9 481.6,151.8 483.6,155.7 485.6,159.3 487.6,163.4 489.6,168.9 491.6,174.1 493.6,178.6 495.6,182.8 497.6,186.6 499.6,190.0 501.6,193.1 503.6,196.0 505.6,199.0 507.6,201.7 509.6,203.9 511.6,205.8 513.6,206.8 515.6,207.5 517.6,208.2 519.6,209.5 521.6,211.1 523.6,212.8 525.6,214.4 527.6,216.1 529.6,217.7 531.6,219.3 533.6,220.8 535.6,222.4 537.6,223.9 539.6,225.4 541.6,227.0 543.6,228.1 545.6,229.1 547.6,230.1 549.6,231.1 551.6,232.0 553.6,233.0 555.6,233.9 557.6,234.8 559.6,235.5 561.6,236.2 563.6,236.8 565.6,237.5 567.6,238.5 569.6,239.6 571.6,240.7 573.6,241.8 575.6,242.4 577.6,242.9 579.6,243.4 581.6,243.9 583.6,244.6 585.6,245.4 587.6,246.1 589.6,246.9 591.6,247.5 593.6,248.2 595.6,248.8 597.6,249.5 599.6,250.0 601.6,250.5 603.6,251.0 605.6,251.5 607.6,251.8 609.6,252.0 611.6,252.2 613.6,252.4 615.6,252.5 617.6,252.6 619.6,252.7 621.6,252.9 623.6,253.0 625.6,253.1 627.6,253.1 629.6,253.2 631.6,253.3 633.6,253.4 635.6,253.4 637.6,253.5 639.6,253.6 641.6,253.7 643.6,253.8 645.6,253.9 647.6,254.0 649.6,254.1 651.6,254.3 653.6,254.5 655.6,254.7 657.6,254.9 659.6,255.1 661.6,255.3"/>
<path d="M275.6,204.8 277.6,204.2 279.6,203.4 281.6,202.7 283.6,201.7 285.6,200.7 287.6,199.6 289.6,198.6 291.6,198.0 293.6,197.5 295.6,197.1 297.6,196.6 299.6,196.1 301.6,195.8 303.6,195.5 305.6,195.0 307.6,194.5 309.6,193.9 311.6,193.0 313.6,191.8 315.6,190.5 317.6,189.2 319.6,188.0 321.6,186.6 323.6,184.9 325.6,182.7 327.6,180.0 329.6,177.1 331.6,174.8 333.6,172.9 335.6,172.1 337.6,171.6 339.6,170.9 341.6,169.6 343.6,168.6 345.6,168.4 347.6,167.9 349.6,166.2 351.6,163.6 353.6,159.7 355.6,153.8 357.6,147.8 359.6,143.1 361.6,141.4 363.6,142.2 365.6,143.6 367.6,145.0 369.6,146.0 371.6,146.4 373.6,145.4 375.6,144.2 377.6,143.8 379.6,143.6 381.6,143.3 383.6,142.4 385.6,141.7 387.6,141.3 389.6,141.8 391.6,142.4 393.6,143.2 395.6,144.0 397.6,144.8 399.6,144.7 401.6,143.8 403.6,142.3 405.6,140.1 407.6,138.3 409.6,137.0 411.6,137.1 413.6,137.0 415.6,134.4 417.6,130.7 419.6,127.4 421.6,124.8 423.6,122.4 425.6,118.2 427.6,112.9 429.6,105.7 431.6,97.9 433.6,91.9 435.6,89.3 437.6,88.3 439.6,87.6 441.6,87.4 443.6,89.2 445.6,91.6 447.6,94.4 449.6,98.3 451.6,103.1 453.6,109.4 455.6,115.6 457.6,121.2 459.6,125.7 461.6,129.6 463.6,132.1 465.6,134.4 467.6,136.6 469.6,138.6 471.6,139.7 473.6,141.2 475.6,143.6 477.6,146.2 479.6,150.1 481.6,154.0 483.6,157.9 485.6,161.2 487.6,164.8 489.6,169.5 491.6,174.1 493.6,178.3 495.6,182.5 497.6,186.3 499.6,190.0 501.6,193.1 503.6,196.0 505.6,198.9 507.6,201.4 509.6,203.3 511.6,205.2 513.6,206.2 515.6,207.1 517.6,207.9 519.6,209.4 521.6,211.0 523.6,212.6 525.6,214.3 527.6,215.8 529.6,217.3 531.6,218.8 533.6,220.4 535.6,222.0 537.6,223.7 539.6,225.3 541.6,226.8 543.6,227.8 545.6,228.5 547.6,229.3 549.6,230.2 551.6,231.2 553.6,232.2 555.6,233.3 557.6,234.3 559.6,235.1 561.6,235.8 563.6,236.6 565.6,237.4 567.6,238.4 569.6,239.5 571.6,240.6 573.6,241.8 575.6,242.4 577.6,242.9 579.6,243.4 581.6,243.9 583.6,244.6 585.6,245.4 587.6,246.1 589.6,246.9 591.6,247.5 593.6,248.2 595.6,248.8 597.6,249.5 599.6,250.0 601.6,250.5 603.6,251.0 605.6,251.5 607.6,251.8 609.6,252.0 611.6,252.2 613.6,252.4 615.6,252.5 617.6,252.6 619.6,252.7 621.6,252.9 623.6,253.0 625.6,253.1 627.6,253.1 629.6,253.2 631.6,253.3 633.6,253.4 635.6,253.4 637.6,253.5 639.6,253.6 641.6,253.7 643.6,253.8 645.6,253.9 647.6,254.0 649.6,254.1 651.6,254.3 653.6,254.5 655.6,254.7 657.6,254.9 659.6,255.1 661.6,255.3"/>
<path d="M275.6,200.7 277.6,199.8 279.6,198.9 281.6,198.1 283.6,197.3 285.6,196.5 287.6,195.7 289.6,194.8 291.6,194.2 293.6,193.5 295.6,192.9 297.6,192.1 299.6,191.4 301.6,190.7 303.6,190.0 305.6,189.0 307.6,188.0 309.6,186.7 311.6,185.3 313.6,183.8 315.6,182.3 317.6,180.8 319.6,179.4 321.6,177.9 323.6,176.7 325.6,175.5 327.6,174.3 329.6,172.9 331.6,171.5 333.6,169.9 335.6,168.5 337.6,166.9 339.6,165.0 341.6,162.7 343.6,160.8 345.6,159.4 347.6,157.9 349.6,155.6 351.6,151.9 353.6,147.1 355.6,141.2 357.6,135.2 359.6,131.2 361.6,129.6 363.6,130.7 365.6,132.5 367.6,134.7 369.6,135.6 371.6,135.8 373.6,135.2 375.6,134.6 377.6,134.6 379.6,135.4 381.6,136.3 383.6,136.8 385.6,137.3 387.6,138.1 389.6,139.4 391.6,140.8 393.6,142.1 395.6,143.2 397.6,144.1 399.6,144.0 401.6,142.8 403.6,141.0 405.6,137.9 407.6,134.4 409.6,130.6 411.6,127.7 413.6,125.5 415.6,123.9 417.6,123.5 419.6,124.2 421.6,125.0 423.6,124.5 425.6,121.5 427.6,117.3 429.6,111.1 431.6,104.2 433.6,98.8 435.6,96.8 437.6,96.2 439.6,95.9 441.6,95.9 443.6,98.0 445.6,100.1 447.6,102.9 449.6,106.2 451.6,109.9 453.6,114.8 455.6,119.3 457.6,123.5 459.6,126.8 461.6,129.8 463.6,131.4 465.6,133.0 467.6,134.4 469.6,135.5 471.6,136.1 473.6,137.5 475.6,140.0 477.6,142.9 479.6,147.0 481.6,151.2 483.6,155.8 485.6,160.0 487.6,164.7 489.6,170.2 491.6,175.0 493.6,178.7 495.6,182.2 497.6,185.3 499.6,188.5 501.6,191.4 503.6,194.1 505.6,196.4 507.6,198.3 509.6,199.8 511.6,201.2 513.6,202.3 515.6,203.5 517.6,204.8 519.6,206.3 521.6,207.9 523.6,209.6 525.6,211.4 527.6,213.2 529.6,215.1 531.6,216.8 533.6,218.6 535.6,220.3 537.6,221.9 539.6,223.4 541.6,224.8 543.6,225.8 545.6,226.8 547.6,227.8 549.6,228.8 551.6,229.9 553.6,231.0 555.6,232.1 557.6,233.2 559.6,234.2 561.6,235.2 563.6,236.1 565.6,237.1 567.6,238.2 569.6,239.3 571.6,240.5 573.6,241.8 575.6,242.4 577.6,242.9 579.6,243.4 581.6,243.9 583.6,244.6 585.6,245.4 587.6,246.1 589.6,246.9 591.6,247.5 593.6,248.2 595.6,248.8 597.6,249.5 599.6,250.0 601.6,250.5 603.6,251.0 605.6,251.5 607.6,251.8 609.6,252.0 611.6,252.2 613.6,252.4 615.6,252.5 617.6,252.6 619.6,252.7 621.6,252.9 623.6,253.0 625.6,253.1 627.6,253.1 629.6,253.2 631.6,253.3 633.6,253.4 635.6,253.4 637.6,253.5 639.6,253.6 641.6,253.7 643.6,253.8 645.6,253.9 647.6,254.0 649.6,254.1 651.6,254.3 653.6,254.5 655.6,254.7 657.6,254.9 659.6,255.1 661.6,255.3"/>
<path d="M275.6,205.4 277.6,204.5 279.6,203.6 281.6,202.6 283.6,201.7 285.6,200.8 287.6,200.1 289.6,199.5 291.6,199.1 293.6,198.7 295.6,198.5 297.6,198.2 299.6,197.8 301.6,197.4 303.6,196.7 305.6,195.8 307.6,194.8 309.6,193.8 311.6,192.9 313.6,191.9 315.6,191.0 317.6,190.1 319.6,189.2 321.6,188.3 323.6,187.4 325.6,186.6 327.6,185.6 329.6,184.6 331.6,183.5 333.6,182.0 335.6,181.0 337.6,180.2 339.6,179.4 341.6,178.5 343.6,177.8 345.6,177.3 347.6,176.4 349.6,174.7 351.6,172.0 353.6,168.8 355.6,164.4 357.6,159.6 359.6,156.1 361.6,154.1 363.6,153.6 365.6,153.6 367.6,153.7 369.6,153.7 371.6,154.4 373.6,154.9 375.6,155.6 377.6,156.8 379.6,158.1 381.6,159.2 383.6,160.1 385.6,160.8 387.6,161.2 389.6,161.4 391.6,161.5 393.6,162.0 395.6,162.7 397.6,163.5 399.6,164.1 401.6,164.6 403.6,164.9 405.6,165.2 407.6,165.7 409.6,165.9 411.6,166.1 413.6,166.3 415.6,166.5 417.6,166.0 419.6,165.4 421.6,164.8 423.6,164.2 425.6,163.7 427.6,158.5 429.6,152.1 431.6,148.1 433.6,144.4 435.6,142.3 437.6,140.9 439.6,139.7 441.6,138.5 443.6,137.7 445.6,137.1 447.6,136.6 449.6,136.6 451.6,137.7 453.6,139.5 455.6,141.6 457.6,143.5 459.6,145.0 461.6,146.2 463.6,147.0 465.6,147.7 467.6,148.5 469.6,150.3 471.6,152.4 473.6,154.8 475.6,157.9 477.6,161.1 479.6,164.5 481.6,167.5 483.6,170.3 485.6,172.6 487.6,175.2 489.6,178.4 491.6,181.5 493.6,183.9 495.6,186.3 497.6,188.9 499.6,191.6 501.6,194.3 503.6,197.1 505.6,199.8 507.6,202.2 509.6,204.0 511.6,205.9 513.6,207.1 515.6,208.1 517.6,208.9 519.6,210.3 521.6,211.7 523.6,213.2 525.6,214.7 527.6,216.2 529.6,217.7 531.6,219.3 533.6,220.8 535.6,222.4 537.6,224.0 539.6,225.6 541.6,227.2 543.6,228.3 545.6,229.2 547.6,230.1 549.6,231.0 551.6,232.0 553.6,232.9 555.6,233.9 557.6,234.8 559.6,235.5 561.6,236.2 563.6,236.8 565.6,237.5 567.6,238.5 569.6,239.6 571.6,240.7 573.6,241.8 575.6,242.4 577.6,242.9 579.6,243.4 581.6,243.9 583.6,244.6 585.6,245.4 587.6,246.1 589.6,246.9 591.6,247.5 593.6,248.2 595.6,248.8 597.6,249.5 599.6,250.0 601.6,250.5 603.6,251.0 605.6,251.5 607.6,251.8 609.6,252.0 611.6,252.2 613.6,252.4 615.6,252.5 617.6,252.6 619.6,252.7 621.6,252.9 623.6,253.0 625.6,253.1 627.6,253.1 629.6,253.2 631.6,253.3 633.6,253.4 635.6,253.4 637.6,253.5 639.6,253.6 641.6,253.7 643.6,253.8 645.6,253.9 647.6,254.0 649.6,254.1 651.6,254.3 653.6,254.5 655.6,254.7 657.6,254.9 659.6,255.1 661.6,255.3"/>
<path d="M275.6,197.0 277.6,196.3 279.6,195.6 281.6,194.9 283.6,194.2 285.6,193.5 287.6,192.7 289.6,192.0 291.6,191.3 293.6,190.6 295.6,189.8 297.6,189.0 299.6,188.4 301.6,188.0 303.6,187.5 305.6,186.4 307.6,185.3 309.6,184.1 311.6,183.0 313.6,182.0 315.6,181.1 317.6,180.2 319.6,179.0 321.6,177.5 323.6,176.1 325.6,174.7 327.6,173.1 329.6,171.4 331.6,169.8 333.6,168.1 335.6,167.0 337.6,165.8 339.6,164.3 341.6,162.5 343.6,160.9 345.6,159.6 347.6,158.2 349.6,155.9 351.6,152.7 353.6,148.6 355.6,143.5 357.6,138.3 359.6,134.6 361.6,133.0 363.6,133.8 365.6,135.3 367.6,137.5 369.6,139.0 371.6,140.1 373.6,140.3 375.6,140.3 377.6,141.0 379.6,141.9 381.6,142.4 383.6,142.1 385.6,141.3 387.6,140.5 389.6,140.0 391.6,139.8 393.6,140.0 395.6,140.7 397.6,141.7 399.6,142.2 401.6,141.6 403.6,140.4 405.6,137.9 407.6,135.1 409.6,132.2 411.6,130.7 413.6,129.7 415.6,127.9 417.6,125.9 419.6,124.8 421.6,124.6 423.6,124.5 425.6,122.6 427.6,119.7 429.6,114.3 431.6,107.9 433.6,102.9 435.6,101.3 437.6,101.3 439.6,101.2 441.6,101.1 443.6,102.6 445.6,103.7 447.6,104.5 449.6,105.9 451.6,108.2 453.6,112.8 455.6,117.3 457.6,121.6 459.6,125.1 461.6,128.3 463.6,130.5 465.6,132.8 467.6,135.0 469.6,136.6 471.6,137.2 473.6,138.2 475.6,140.3 477.6,142.6 479.6,145.9 481.6,149.1 483.6,152.3 485.6,155.1 487.6,158.2 489.6,162.7 491.6,167.3 493.6,171.6 495.6,175.7 497.6,179.6 499.6,183.0 501.6,186.1 503.6,189.0 505.6,191.5 507.6,193.9 509.6,196.0 511.6,197.7 513.6,199.0 515.6,200.3 517.6,201.6 519.6,203.1 521.6,204.6 523.6,206.5 525.6,208.5 527.6,210.6 529.6,212.7 531.6,214.7 533.6,216.6 535.6,218.4 537.6,220.3 539.6,222.1 541.6,223.5 543.6,224.7 545.6,225.8 547.6,226.9 549.6,228.0 551.6,229.1 553.6,230.4 555.6,231.6 557.6,232.9 559.6,234.1 561.6,235.1 563.6,236.2 565.6,237.1 567.6,238.2 569.6,239.4 571.6,240.6 573.6,241.8 575.6,242.4 577.6,242.9 579.6,243.4 581.6,243.9 583.6,244.6 585.6,245.4 587.6,246.1 589.6,246.9 591.6,247.5 593.6,248.2 595.6,248.8 597.6,249.5 599.6,250.0 601.6,250.5 603.6,251.0 605.6,251.5 607.6,251.8 609.6,252.0 611.6,252.2 613.6,252.4 615.6,252.5 617.6,252.6 619.6,252.7 621.6,252.9 623.6,253.0 625.6,253.1 627.6,253.1 629.6,253.2 631.6,253.3 633.6,253.4 635.6,253.4 637.6,253.5 639.6,253.6 641.6,253.7 643.6,253.8 645.6,253.9 647.6,254.0 649.6,254.1 651.6,254.3 653.6,254.5 655.6,254.7 657.6,254.9 659.6,255.1 661.6,255.3"/>
<path d="M275.6,200.8 277.6,200.3 279.6,199.8 281.6,199.3 283.6,198.5 285.6,197.5 287.6,196.3 289.6,195.0 291.6,194.1 293.6,193.4 295.6,192.8 297.6,192.2 299.6,191.5 301.6,190.7 303.6,189.8 305.6,188.6 307.6,187.4 309.6,186.3 311.6,185.4 313.6,184.5 315.6,183.8 317.6,183.0 319.6,181.9 321.6,180.5 323.6,178.9 325.6,177.3 327.6,175.6 329.6,173.9 331.6,172.3 333.6,170.6 335.6,169.6 337.6,168.6 339.6,167.3 341.6,165.6 343.6,164.3 345.6,163.5 347.6,162.4 349.6,160.5 351.6,158.1 353.6,154.9 355.6,150.2 357.6,144.9 359.6,140.4 361.6,138.0 363.6,138.3 365.6,139.6 367.6,141.5 369.6,143.3 371.6,144.4 373.6,143.9 375.6,143.3 377.6,143.4 379.6,143.6 381.6,143.6 383.6,143.0 385.6,142.5 387.6,142.4 389.6,143.0 391.6,143.4 393.6,143.5 395.6,143.3 397.6,143.1 399.6,142.4 401.6,140.9 403.6,139.3 405.6,137.3 407.6,135.3 409.6,133.1 411.6,131.9 413.6,130.9 415.6,128.7 417.6,126.1 419.6,124.0 421.6,122.2 423.6,119.8 425.6,115.3 427.6,110.1 429.6,103.5 431.6,96.4 433.6,90.2 435.6,86.8 437.6,84.9 439.6,83.3 441.6,82.4 443.6,83.5 445.6,85.3 447.6,87.9 449.6,91.6 451.6,96.2 453.6,101.8 455.6,107.4 457.6,112.7 459.6,116.9 461.6,120.8 463.6,123.2 465.6,125.3 467.6,127.3 469.6,128.5 471.6,129.3 473.6,130.6 475.6,133.3 477.6,136.3 479.6,140.3 481.6,144.5 483.6,148.6 485.6,152.2 487.6,155.7 489.6,160.7 491.6,165.9 493.6,171.0 495.6,176.0 497.6,180.6 499.6,184.5 501.6,187.9 503.6,191.2 505.6,194.2 507.6,196.9 509.6,199.1 511.6,200.9 513.6,202.2 515.6,203.5 517.6,204.9 519.6,206.8 521.6,208.8 523.6,210.8 525.6,212.6 527.6,214.4 529.6,216.1 531.6,217.7 533.6,219.3 535.6,221.0 537.6,222.7 539.6,224.3 541.6,225.9 543.6,227.0 545.6,228.0 547.6,228.9 549.6,229.8 551.6,230.8 553.6,231.9 555.6,233.0 557.6,234.0 559.6,234.9 561.6,235.7 563.6,236.5 565.6,237.3 567.6,238.4 569.6,239.5 571.6,240.6 573.6,241.8 575.6,242.4 577.6,242.9 579.6,243.4 581.6,243.9 583.6,244.6 585.6,245.4 587.6,246.1 589.6,246.9 591.6,247.5 593.6,248.2 595.6,248.8 597.6,249.5 599.6,250.0 601.6,250.5 603.6,251.0 605.6,251.5 607.6,251.8 609.6,252.0 611.6,252.2 613.6,252.4 615.6,252.5 617.6,252.6 619.6,252.7 621.6,252.9 623.6,253.0 625.6,253.1 627.6,253.1 629.6,253.2 631.6,253.3 633.6,253.4 635.6,253.4 637.6,253.5 639.6,253.6 641.6,253.7 643.6,253.8 645.6,253.9 647.6,254.0 649.6,254.1 651.6,254.3 653.6,254.5 655.6,254.7 657.6,254.9 659.6,255.1 661.6,255.3"/>
<path d="M275.6,201.0 277.6,200.7 279.6,200.3 281.6,200.0 283.6,199.4 285.6,198.7 287.6,198.1 289.6,197.4 291.6,196.9 293.6,196.2 295.6,195.5 297.6,194.6 299.6,193.6 301.6,192.6 303.6,191.5 305.6,190.1 307.6,188.6 309.6,187.1 311.6,185.9 313.6,184.8 315.6,183.6 317.6,182.5 319.6,181.2 321.6,179.6 323.6,177.9 325.6,176.3 327.6,174.6 329.6,173.1 331.6,171.6 333.6,170.1 335.6,169.2 337.6,168.3 339.6,167.0 341.6,165.1 343.6,163.2 345.6,161.3 347.6,159.1 349.6,156.3 351.6,153.0 353.6,149.3 355.6,144.3 357.6,138.6 359.6,133.7 361.6,131.0 363.6,131.2 365.6,132.6 367.6,134.9 369.6,136.1 371.6,136.5 373.6,136.0 375.6,135.3 377.6,135.2 379.6,135.9 381.6,136.7 383.6,137.5 385.6,138.2 387.6,139.0 389.6,140.0 391.6,140.8 393.6,141.2 395.6,141.6 397.6,141.9 399.6,141.6 401.6,140.1 403.6,138.2 405.6,135.6 407.6,132.9 409.6,129.7 411.6,127.0 413.6,124.0 415.6,120.4 417.6,116.7 419.6,113.3 421.6,110.1 423.6,107.0 425.6,101.9 427.6,96.5 429.6,90.2 431.6,83.4 433.6,77.6 435.6,74.9 437.6,74.5 439.6,74.9 441.6,76.0 443.6,78.8 445.6,82.0 447.6,85.2 449.6,88.9 451.6,92.9 453.6,97.7 455.6,103.2 457.6,109.3 459.6,114.7 461.6,119.8 463.6,123.0 465.6,125.8 467.6,128.2 469.6,129.6 471.6,130.4 473.6,131.6 475.6,133.9 477.6,136.4 479.6,139.7 481.6,143.1 483.6,146.5 485.6,149.6 487.6,152.9 489.6,157.6 491.6,162.8 493.6,167.8 495.6,172.6 497.6,177.1 499.6,180.8 501.6,184.1 503.6,187.4 505.6,190.5 507.6,193.5 509.6,196.2 511.6,198.2 513.6,199.7 515.6,201.1 517.6,202.4 519.6,203.9 521.6,205.7 523.6,207.8 525.6,210.1 527.6,212.4 529.6,214.5 531.6,216.4 533.6,218.1 535.6,219.8 537.6,221.5 539.6,223.3 541.6,224.8 543.6,225.9 545.6,226.9 547.6,227.9 549.6,228.8 551.6,229.9 553.6,231.0 555.6,232.2 557.6,233.4 559.6,234.5 561.6,235.5 563.6,236.4 565.6,237.3 567.6,238.3 569.6,239.4 571.6,240.6 573.6,241.8 575.6,242.4 577.6,242.9 579.6,243.4 581.6,243.9 583.6,244.6 585.6,245.4 587.6,246.1 589.6,246.9 591.6,247.5 593.6,248.2 595.6,248.8 597.6,249.5 599.6,250.0 601.6,250.5 603.6,251.0 605.6,251.5 607.6,251.8 609.6,252.0 611.6,252.2 613.6,252.4 615.6,252.5 617.6,252.6 619.6,252.7 621.6,252.9 623.6,253.0 625.6,253.1 627.6,253.1 629.6,253.2 631.6,253.3 633.6,253.4 635.6,253.4 637.6,253.5 639.6,253.6 641.6,253.7 643.6,253.8 645.6,253.9 647.6,254.0 649.6,254.1 651.6,254.3 653.6,254.5 655.6,254.7 657.6,254.9 659.6,255.1 661.6,255.3"/>
<path d="M275.6,201.5 277.6,200.5 279.6,199.5 281.6,198.6 283.6,197.6 285.6,196.9 287.6,196.2 289.6,195.6 291.6,195.2 293.6,194.9 295.6,194.6 297.6,194.1 299.6,193.5 301.6,192.9 303.6,192.2 305.6,191.3 307.6,190.5 309.6,189.7 311.6,188.9 313.6,188.0 315.6,187.2 317.6,186.3 319.6,185.2 321.6,183.9 323.6,182.7 325.6,181.8 327.6,180.8 329.6,179.8 331.6,178.8 333.6,177.7 335.6,177.2 337.6,176.8 339.6,175.9 341.6,174.4 343.6,173.1 345.6,172.3 347.6,171.2 349.6,169.1 351.6,166.0 353.6,161.9 355.6,156.3 357.6,150.6 359.6,146.1 361.6,143.9 363.6,143.8 365.6,144.2 367.6,144.9 369.6,145.5 371.6,145.6 373.6,144.5 375.6,143.5 377.6,143.7 379.6,144.1 381.6,144.2 383.6,143.8 385.6,143.5 387.6,143.8 389.6,144.6 391.6,145.3 393.6,146.0 395.6,146.9 397.6,148.1 399.6,148.9 401.6,149.4 403.6,149.5 405.6,148.3 407.6,146.9 409.6,145.5 411.6,145.5 413.6,146.1 415.6,145.5 417.6,144.3 419.6,143.1 421.6,141.8 423.6,139.7 425.6,136.2 427.6,130.9 429.6,123.6 431.6,115.9 433.6,109.3 435.6,105.8 437.6,103.8 439.6,102.6 441.6,102.4 443.6,104.4 445.6,106.1 447.6,106.6 449.6,107.2 451.6,108.6 453.6,112.8 455.6,117.7 457.6,122.4 459.6,126.2 461.6,129.3 463.6,131.1 465.6,132.6 467.6,134.1 469.6,135.0 471.6,135.3 473.6,136.1 475.6,138.5 477.6,141.4 479.6,145.1 481.6,148.7 483.6,151.8 485.6,154.3 487.6,156.8 489.6,160.7 491.6,164.6 493.6,168.2 495.6,171.8 497.6,175.4 499.6,178.8 501.6,182.2 503.6,185.9 505.6,189.2 507.6,192.5 509.6,195.5 511.6,197.7 513.6,199.5 515.6,201.2 517.6,202.8 519.6,204.7 521.6,206.6 523.6,208.7 525.6,210.7 527.6,212.6 529.6,214.6 531.6,216.3 533.6,218.0 535.6,219.6 537.6,221.3 539.6,222.9 541.6,224.2 543.6,225.3 545.6,226.4 547.6,227.5 549.6,228.6 551.6,229.8 553.6,231.0 555.6,232.2 557.6,233.4 559.6,234.4 561.6,235.4 563.6,236.3 565.6,237.2 567.6,238.3 569.6,239.4 571.6,240.6 573.6,241.8 575.6,242.4 577.6,242.9 579.6,243.4 581.6,243.9 583.6,244.6 585.6,245.4 587.6,246.1 589.6,246.9 591.6,247.5 593.6,248.2 595.6,248.8 597.6,249.5 599.6,250.0 601.6,250.5 603.6,251.0 605.6,251.5 607.6,251.8 609.6,252.0 611.6,252.2 613.6,252.4 615.6,252.5 617.6,252.6 619.6,252.7 621.6,252.9 623.6,253.0 625.6,253.1 627.6,253.1 629.6,253.2 631.6,253.3 633.6,253.4 635.6,253.4 637.6,253.5 639.6,253.6 641.6,253.7 643.6,253.8 645.6,253.9 647.6,254.0 649.6,254.1 651.6,254.3 653.6,254.5 655.6,254.7 657.6,254.9 659.6,255.1 661.6,255.3"/>
<path d="M275.6,196.5 277.6,195.6 279.6,194.8 281.6,194.1 283.6,193.2 285.6,192.4 287.6,191.6 289.6,190.9 291.6,190.4 293.6,190.0 295.6,189.5 297.6,189.0 299.6,188.6 301.6,188.2 303.6,187.5 305.6,186.2 307.6,184.8 309.6,183.4 311.6,182.2 313.6,181.2 315.6,180.1 317.6,179.1 319.6,178.0 321.6,176.5 323.6,174.9 325.6,173.1 327.6,171.0 329.6,168.7 331.6,166.4 333.6,164.2 335.6,162.5 337.6,161.1 339.6,159.9 341.6,158.5 343.6,156.8 345.6,154.5 347.6,151.8 349.6,148.7 351.6,143.9 353.6,138.6 355.6,132.7 357.6,126.6 359.6,123.0 361.6,121.9 363.6,123.9 365.6,126.6 367.6,129.5 369.6,129.9 371.6,129.5 373.6,128.5 375.6,127.5 377.6,127.1 379.6,127.7 381.6,128.4 383.6,128.6 385.6,128.3 387.6,127.9 389.6,127.7 391.6,128.3 393.6,129.4 395.6,130.6 397.6,131.9 399.6,132.5 401.6,130.1 403.6,126.8 405.6,123.2 407.6,120.0 409.6,117.1 411.6,114.8 413.6,112.1 415.6,109.1 417.6,105.7 419.6,102.5 421.6,99.7 423.6,96.7 425.6,91.2 427.6,85.3 429.6,79.6 431.6,74.3 433.6,70.4 435.6,69.4 437.6,70.2 439.6,71.2 441.6,72.5 443.6,74.9 445.6,77.7 447.6,80.9 449.6,85.1 451.6,89.9 453.6,95.2 455.6,101.0 457.6,106.5 459.6,111.1 461.6,115.3 463.6,117.7 465.6,119.8 467.6,121.7 469.6,122.8 471.6,123.9 473.6,125.7 475.6,129.1 477.6,132.7 479.6,136.9 481.6,140.9 483.6,144.4 485.6,147.4 487.6,150.5 489.6,155.2 491.6,160.3 493.6,165.1 495.6,169.8 497.6,174.3 499.6,178.1 501.6,181.8 503.6,185.6 505.6,189.0 507.6,192.4 509.6,195.5 511.6,198.0 513.6,200.0 515.6,201.9 517.6,203.7 519.6,205.6 521.6,207.5 523.6,209.5 525.6,211.5 527.6,213.4 529.6,215.3 531.6,217.0 533.6,218.8 535.6,220.6 537.6,222.3 539.6,224.1 541.6,225.6 543.6,226.8 545.6,227.9 547.6,229.1 549.6,230.2 551.6,231.3 553.6,232.4 555.6,233.5 557.6,234.5 559.6,235.2 561.6,236.0 563.6,236.7 565.6,237.4 567.6,238.4 569.6,239.5 571.6,240.6 573.6,241.8 575.6,242.4 577.6,242.9 579.6,243.4 581.6,243.9 583.6,244.6 585.6,245.4 587.6,246.1 589.6,246.9 591.6,247.5 593.6,248.2 595.6,248.8 597.6,249.5 599.6,250.0 601.6,250.5 603.6,251.0 605.6,251.5 607.6,251.8 609.6,252.0 611.6,252.2 613.6,252.4 615.6,252.5 617.6,252.6 619.6,252.7 621.6,252.9 623.6,253.0 625.6,253.1 627.6,253.1 629.6,253.2 631.6,253.3 633.6,253.4 635.6,253.4 637.6,253.5 639.6,253.6 641.6,253.7 643.6,253.8 645.6,253.9 647.6,254.0 649.6,254.1 651.6,254.3 653.6,254.5 655.6,254.7 657.6,254.9 659.6,255.1 661.6,255.3"/>
<path d="M275.6,205.0 277.6,204.6 279.6,204.3 281.6,204.0 283.6,203.7 285.6,203.4 287.6,203.1 289.6,202.9 291.6,202.6 293.6,202.3 295.6,201.9 297.6,201.2 299.6,200.3 301.6,199.4 303.6,198.6 305.6,197.9 307.6,197.4 309.6,196.9 311.6,196.1 313.6,195.1 315.6,193.9 317.6,192.8 319.6,191.6 321.6,190.5 323.6,189.3 325.6,188.1 327.6,186.5 329.6,184.7 331.6,183.0 333.6,181.2 335.6,180.0 337.6,178.8 339.6,177.1 341.6,174.8 343.6,172.7 345.6,171.2 347.6,169.5 349.6,166.8 351.6,163.7 353.6,160.0 355.6,155.1 357.6,150.2 359.6,146.7 361.6,145.2 363.6,145.6 365.6,146.2 367.6,147.2 369.6,148.1 371.6,149.1 373.6,149.5 375.6,150.1 377.6,151.2 379.6,152.3 381.6,153.1 383.6,153.6 385.6,154.3 387.6,155.2 389.6,155.9 391.6,156.2 393.6,156.3 395.6,156.4 397.6,156.6 399.6,156.6 401.6,156.9 403.6,157.2 405.6,157.3 407.6,157.5 409.6,157.8 411.6,158.6 413.6,159.6 415.6,160.4 417.6,161.0 419.6,162.1 421.6,163.2 423.6,164.1 425.6,163.7 427.6,158.6 429.6,152.3 431.6,148.8 433.6,146.0 435.6,145.2 437.6,144.9 439.6,144.6 441.6,144.2 443.6,143.9 445.6,143.7 447.6,143.5 449.6,143.7 451.6,144.9 453.6,146.1 455.6,147.3 457.6,148.6 459.6,149.9 461.6,151.2 463.6,152.5 465.6,153.7 467.6,154.7 469.6,157.4 471.6,160.6 473.6,163.9 475.6,167.1 477.6,170.4 479.6,173.6 481.6,176.9 483.6,180.1 485.6,183.0 487.6,185.7 489.6,188.5 491.6,191.0 493.6,193.1 495.6,195.1 497.6,196.7 499.6,198.5 501.6,200.8 503.6,203.4 505.6,206.1 507.6,208.1 509.6,209.8 511.6,211.4 513.6,212.3 515.6,212.9 517.6,213.6 519.6,214.5 521.6,215.4 523.6,216.3 525.6,217.3 527.6,218.5 529.6,219.7 531.6,221.1 533.6,222.5 535.6,223.9 537.6,225.4 539.6,226.8 541.6,228.3 543.6,229.2 545.6,230.0 547.6,230.8 549.6,231.6 551.6,232.3 553.6,233.2 555.6,234.0 557.6,234.8 559.6,235.5 561.6,236.2 563.6,236.8 565.6,237.5 567.6,238.5 569.6,239.6 571.6,240.7 573.6,241.8 575.6,242.4 577.6,242.9 579.6,243.4 581.6,243.9 583.6,244.6 585.6,245.4 587.6,246.1 589.6,246.9 591.6,247.5 593.6,248.2 595.6,248.8 597.6,249.5 599.6,250.0 601.6,250.5 603.6,251.0 605.6,251.5 607.6,251.8 609.6,252.0 611.6,252.2 613.6,252.4 615.6,252.5 617.6,252.6 619.6,252.7 621.6,252.9 623.6,253.0 625.6,253.1 627.6,253.1 629.6,253.2 631.6,253.3 633.6,253.4 635.6,253.4 637.6,253.5 639.6,253.6 641.6,253.7 643.6,253.8 645.6,253.9 647.6,254.0 649.6,254.1 651.6,254.3 653.6,254.5 655.6,254.7 657.6,254.9 659.6,255.1 661.6,255.3"/>
<path d="M275.6,207.1 277.6,206.7 279.6,206.3 281.6,206.0 283.6,205.6 285.6,205.2 287.6,204.8 289.6,204.2 291.6,203.6 293.6,203.1 295.6,202.8 297.6,202.4 299.6,202.1 301.6,201.7 303.6,201.1 305.6,200.3 307.6,199.3 309.6,198.0 311.6,196.5 313.6,195.0 315.6,193.7 317.6,192.7 319.6,191.9 321.6,191.3 323.6,190.7 325.6,190.2 327.6,189.1 329.6,187.7 331.6,185.8 333.6,183.9 335.6,182.7 337.6,181.9 339.6,181.3 341.6,180.6 343.6,180.2 345.6,180.1 347.6,179.5 349.6,178.1 351.6,174.7 353.6,170.4 355.6,165.1 357.6,160.0 359.6,156.5 361.6,154.5 363.6,153.7 365.6,153.2 367.6,152.9 369.6,152.7 371.6,153.0 373.6,152.9 375.6,152.6 377.6,152.7 379.6,152.6 381.6,152.1 383.6,151.1 385.6,150.2 387.6,149.7 389.6,150.1 391.6,150.6 393.6,151.1 395.6,151.4 397.6,151.6 399.6,151.2 401.6,150.7 403.6,149.7 405.6,147.5 407.6,145.2 409.6,143.0 411.6,142.7 413.6,142.9 415.6,141.6 417.6,139.9 419.6,138.8 421.6,138.0 423.6,136.9 425.6,135.0 427.6,131.9 429.6,126.7 431.6,121.5 433.6,117.1 435.6,115.3 437.6,114.1 439.6,112.6 441.6,110.9 443.6,110.7 445.6,110.5 447.6,110.6 449.6,112.1 451.6,115.4 453.6,120.4 455.6,125.3 457.6,129.4 459.6,132.4 461.6,134.6 463.6,135.8 465.6,137.2 467.6,138.8 469.6,140.6 471.6,142.0 473.6,143.8 475.6,146.4 477.6,149.3 479.6,153.2 481.6,157.3 483.6,161.7 485.6,165.8 487.6,170.3 489.6,175.6 491.6,180.5 493.6,184.3 495.6,187.6 497.6,190.6 499.6,193.6 501.6,196.7 503.6,199.9 505.6,202.8 507.6,205.0 509.6,206.6 511.6,208.1 513.6,208.8 515.6,209.5 517.6,210.2 519.6,211.4 521.6,212.7 523.6,213.9 525.6,215.3 527.6,216.6 529.6,218.0 531.6,219.5 533.6,221.0 535.6,222.6 537.6,224.1 539.6,225.7 541.6,227.3 543.6,228.3 545.6,229.2 547.6,230.0 549.6,230.9 551.6,231.8 553.6,232.7 555.6,233.7 557.6,234.6 559.6,235.4 561.6,236.1 563.6,236.7 565.6,237.4 567.6,238.4 569.6,239.5 571.6,240.6 573.6,241.8 575.6,242.4 577.6,242.9 579.6,243.4 581.6,243.9 583.6,244.6 585.6,245.4 587.6,246.1 589.6,246.9 591.6,247.5 593.6,248.2 595.6,248.8 597.6,249.5 599.6,250.0 601.6,250.5 603.6,251.0 605.6,251.5 607.6,251.8 609.6,252.0 611.6,252.2 613.6,252.4 615.6,252.5 617.6,252.6 619.6,252.7 621.6,252.9 623.6,253.0 625.6,253.1 627.6,253.1 629.6,253.2 631.6,253.3 633.6,253.4 635.6,253.4 637.6,253.5 639.6,253.6 641.6,253.7 643.6,253.8 645.6,253.9 647.6,254.0 649.6,254.1 651.6,254.3 653.6,254.5 655.6,254.7 657.6,254.9 659.6,255.1 661.6,255.3"/>
<path d="M275.6,203.8 277.6,203.1 279.6,202.3 281.6,201.5 283.6,200.4 285.6,199.1 287.6,197.8 289.6,196.6 291.6,195.8 293.6,195.1 295.6,194.6 297.6,193.9 299.6,193.2 301.6,192.5 303.6,191.6 305.6,190.2 307.6,188.8 309.6,187.5 311.6,186.3 313.6,185.0 315.6,183.7 317.6,182.3 319.6,180.7 321.6,178.8 323.6,177.0 325.6,175.2 327.6,173.3 329.6,171.4 331.6,169.5 333.6,167.6 335.6,166.2 337.6,165.1 339.6,163.8 341.6,162.2 343.6,160.4 345.6,158.5 347.6,155.9 349.6,152.4 351.6,147.4 353.6,141.6 355.6,135.2 357.6,128.5 359.6,124.3 361.6,122.7 363.6,124.3 365.6,126.8 367.6,129.9 369.6,130.7 371.6,130.9 373.6,130.6 375.6,129.9 377.6,129.7 379.6,130.1 381.6,130.6 383.6,131.2 385.6,131.7 387.6,132.4 389.6,133.3 391.6,134.3 393.6,134.9 395.6,135.1 397.6,135.0 399.6,134.5 401.6,132.3 403.6,129.9 405.6,127.7 407.6,125.7 409.6,123.2 411.6,120.9 413.6,118.3 415.6,115.5 417.6,113.2 419.6,111.4 421.6,110.0 423.6,107.9 425.6,103.0 427.6,97.1 429.6,90.4 431.6,83.9 433.6,79.0 435.6,77.1 437.6,76.8 439.6,76.4 441.6,76.2 443.6,77.8 445.6,80.1 447.6,83.2 449.6,87.3 451.6,92.3 453.6,98.2 455.6,104.5 457.6,110.3 459.6,114.8 461.6,118.9 463.6,121.2 465.6,123.3 467.6,125.4 469.6,126.9 471.6,128.4 473.6,130.3 475.6,133.4 477.6,136.5 479.6,140.6 481.6,145.0 483.6,149.8 485.6,154.3 487.6,159.1 489.6,164.9 491.6,170.1 493.6,174.2 495.6,178.0 497.6,181.7 499.6,185.6 501.6,189.4 503.6,193.3 505.6,196.6 507.6,199.4 509.6,201.5 511.6,203.4 513.6,204.7 515.6,205.9 517.6,207.0 519.6,208.6 521.6,210.2 523.6,211.9 525.6,213.6 527.6,215.4 529.6,217.2 531.6,219.0 533.6,220.8 535.6,222.6 537.6,224.2 539.6,225.7 541.6,227.3 543.6,228.2 545.6,228.9 547.6,229.7 549.6,230.5 551.6,231.5 553.6,232.5 555.6,233.6 557.6,234.7 559.6,235.5 561.6,236.2 563.6,236.8 565.6,237.5 567.6,238.5 569.6,239.6 571.6,240.7 573.6,241.8 575.6,242.4 577.6,242.9 579.6,243.4 581.6,243.9 583.6,244.6 585.6,245.4 587.6,246.1 589.6,246.9 591.6,247.5 593.6,248.2 595.6,248.8 597.6,249.5 599.6,250.0 601.6,250.5 603.6,251.0 605.6,251.5 607.6,251.8 609.6,252.0 611.6,252.2 613.6,252.4 615.6,252.5 617.6,252.6 619.6,252.7 621.6,252.9 623.6,253.0 625.6,253.1 627.6,253.1 629.6,253.2 631.6,253.3 633.6,253.4 635.6,253.4 637.6,253.5 639.6,253.6 641.6,253.7 643.6,253.8 645.6,253.9 647.6,254.0 649.6,254.1 651.6,254.3 653.6,254.5 655.6,254.7 657.6,254.9 659.6,255.1 661.6,255.3"/>
<path d="M275.6,202.1 277.6,201.3 279.6,200.4 281.6,199.4 283.6,198.3 285.6,197.2 287.6,196.1 289.6,195.1 291.6,194.3 293.6,193.5 295.6,192.6 297.6,191.7 299.6,190.8 301.6,189.9 303.6,188.9 305.6,187.4 307.6,186.0 309.6,184.7 311.6,183.5 313.6,182.3 315.6,181.2 317.6,180.0 319.6,178.7 321.6,177.2 323.6,175.8 325.6,174.6 327.6,173.5 329.6,172.6 331.6,171.6 333.6,170.5 335.6,169.8 337.6,168.9 339.6,167.7 341.6,165.8 343.6,164.1 345.6,162.7 347.6,160.9 349.6,158.3 351.6,155.1 353.6,151.2 355.6,145.9 357.6,140.0 359.6,135.3 361.6,133.0 363.6,133.4 365.6,134.6 367.6,136.1 369.6,136.3 371.6,135.9 373.6,134.9 375.6,134.2 377.6,134.6 379.6,135.6 381.6,136.4 383.6,136.6 385.6,136.6 387.6,137.0 389.6,138.0 391.6,139.4 393.6,140.8 395.6,142.1 397.6,143.5 399.6,144.2 401.6,144.1 403.6,143.4 405.6,141.7 407.6,139.8 409.6,137.8 411.6,137.4 413.6,137.6 415.6,136.8 417.6,135.9 419.6,135.5 421.6,135.1 423.6,133.7 425.6,130.7 427.6,127.0 429.6,121.4 431.6,115.7 433.6,111.5 435.6,110.5 437.6,110.8 439.6,111.1 441.6,111.2 443.6,112.2 445.6,112.7 447.6,113.1 449.6,114.7 451.6,117.4 453.6,121.6 455.6,125.9 457.6,130.0 459.6,133.6 461.6,136.9 463.6,139.3 465.6,141.3 467.6,142.9 469.6,144.4 471.6,145.2 473.6,146.0 475.6,147.8 477.6,150.2 479.6,154.0 481.6,158.2 483.6,162.6 485.6,166.6 487.6,170.8 489.6,175.5 491.6,179.6 493.6,182.8 495.6,186.0 497.6,189.0 499.6,192.1 501.6,195.3 503.6,198.5 505.6,201.6 507.6,204.2 509.6,206.2 511.6,208.1 513.6,209.4 515.6,210.4 517.6,211.4 519.6,212.7 521.6,214.1 523.6,215.4 525.6,216.8 527.6,218.3 529.6,219.6 531.6,221.1 533.6,222.6 535.6,224.1 537.6,225.6 539.6,227.0 541.6,228.5 543.6,229.4 545.6,230.2 547.6,231.0 549.6,231.9 551.6,232.7 553.6,233.4 555.6,234.1 557.6,234.8 559.6,235.5 561.6,236.2 563.6,236.9 565.6,237.6 567.6,238.5 569.6,239.6 571.6,240.7 573.6,241.8 575.6,242.4 577.6,242.9 579.6,243.4 581.6,243.9 583.6,244.6 585.6,245.4 587.6,246.1 589.6,246.9 591.6,247.5 593.6,248.2 595.6,248.8 597.6,249.5 599.6,250.0 601.6,250.5 603.6,251.0 605.6,251.5 607.6,251.8 609.6,252.0 611.6,252.2 613.6,252.4 615.6,252.5 617.6,252.6 619.6,252.7 621.6,252.9 623.6,253.0 625.6,253.1 627.6,253.1 629.6,253.2 631.6,253.3 633.6,253.4 635.6,253.4 637.6,253.5 639.6,253.6 641.6,253.7 643.6,253.8 645.6,253.9 647.6,254.0 649.6,254.1 651.6,254.3 653.6,254.5 655.6,254.7 657.6,254.9 659.6,255.1 661.6,255.3"/>
<path d="M275.6,201.7 277.6,201.4 279.6,201.2 281.6,201.0 283.6,200.5 285.6,199.9 287.6,199.3 289.6,198.6 291.6,198.0 293.6,197.5 295.6,197.0 297.6,196.3 299.6,195.5 301.6,194.7 303.6,193.6 305.6,192.3 307.6,190.9 309.6,189.6 311.6,188.3 313.6,187.0 315.6,185.7 317.6,184.3 319.6,182.7 321.6,181.0 323.6,179.2 325.6,177.4 327.6,175.5 329.6,173.5 331.6,171.6 333.6,169.8 335.6,168.7 337.6,167.9 339.6,166.9 341.6,165.3 343.6,163.6 345.6,162.0 347.6,159.7 349.6,156.5 351.6,152.3 353.6,147.6 355.6,141.8 357.6,135.9 359.6,131.8 361.6,130.2 363.6,131.5 365.6,133.5 367.6,135.9 369.6,136.9 371.6,137.0 373.6,135.8 375.6,134.2 377.6,133.0 379.6,132.5 381.6,132.0 383.6,131.2 385.6,130.1 387.6,129.1 389.6,128.3 391.6,128.2 393.6,128.6 395.6,129.4 397.6,130.5 399.6,131.4 401.6,129.4 403.6,126.4 405.6,123.0 407.6,119.8 409.6,117.0 411.6,114.9 413.6,113.0 415.6,111.0 417.6,108.9 419.6,107.2 421.6,106.4 423.6,105.7 425.6,103.1 427.6,99.9 429.6,95.7 431.6,91.0 433.6,87.1 435.6,85.5 437.6,85.0 439.6,84.5 441.6,84.5 443.6,86.5 445.6,89.0 447.6,91.6 449.6,94.9 451.6,98.6 453.6,103.3 455.6,108.1 457.6,112.9 459.6,116.9 461.6,120.8 463.6,123.3 465.6,125.7 467.6,128.0 469.6,129.5 471.6,130.4 473.6,131.8 475.6,134.5 477.6,137.6 479.6,141.7 481.6,145.7 483.6,149.6 485.6,152.9 487.6,156.3 489.6,161.1 491.6,166.0 493.6,170.4 495.6,174.4 497.6,178.0 499.6,181.2 501.6,184.4 503.6,187.9 505.6,191.3 507.6,194.5 509.6,197.3 511.6,199.6 513.6,201.3 515.6,203.0 517.6,204.5 519.6,206.3 521.6,208.1 523.6,210.0 525.6,211.9 527.6,213.7 529.6,215.6 531.6,217.3 533.6,219.0 535.6,220.8 537.6,222.4 539.6,224.1 541.6,225.5 543.6,226.5 545.6,227.5 547.6,228.5 549.6,229.5 551.6,230.7 553.6,231.8 555.6,232.9 557.6,234.0 559.6,234.9 561.6,235.7 563.6,236.5 565.6,237.3 567.6,238.3 569.6,239.5 571.6,240.6 573.6,241.8 575.6,242.4 577.6,242.9 579.6,243.4 581.6,243.9 583.6,244.6 585.6,245.4 587.6,246.1 589.6,246.9 591.6,247.5 593.6,248.2 595.6,248.8 597.6,249.5 599.6,250.0 601.6,250.5 603.6,251.0 605.6,251.5 607.6,251.8 609.6,252.0 611.6,252.2 613.6,252.4 615.6,252.5 617.6,252.6 619.6,252.7 621.6,252.9 623.6,253.0 625.6,253.1 627.6,253.1 629.6,253.2 631.6,253.3 633.6,253.4 635.6,253.4 637.6,253.5 639.6,253.6 641.6,253.7 643.6,253.8 645.6,253.9 647.6,254.0 649.6,254.1 651.6,254.3 653.6,254.5 655.6,254.7 657.6,254.9 659.6,255.1 661.6,255.3"/>
<path d="M275.6,201.3 277.6,200.8 279.6,200.3 281.6,199.8 283.6,199.1 285.6,198.3 287.6,197.6 289.6,196.9 291.6,196.5 293.6,196.3 295.6,195.9 297.6,195.2 299.6,194.3 301.6,193.4 303.6,192.5 305.6,191.4 307.6,190.3 309.6,189.0 311.6,187.7 313.6,186.3 315.6,184.9 317.6,183.6 319.6,182.1 321.6,180.5 323.6,178.9 325.6,177.2 327.6,175.2 329.6,173.2 331.6,171.2 333.6,169.4 335.6,168.3 337.6,167.3 339.6,166.2 341.6,164.6 343.6,163.3 345.6,162.4 347.6,161.1 349.6,158.7 351.6,155.5 353.6,151.7 355.6,146.6 357.6,141.2 359.6,136.9 361.6,134.5 363.6,134.6 365.6,135.4 367.6,136.9 369.6,137.6 371.6,137.9 373.6,137.4 375.6,137.0 377.6,137.3 379.6,138.0 381.6,138.3 383.6,138.2 385.6,137.9 387.6,138.2 389.6,139.1 391.6,140.3 393.6,141.6 395.6,142.7 397.6,143.6 399.6,143.7 401.6,142.7 403.6,140.9 405.6,138.0 407.6,135.0 409.6,132.0 411.6,130.3 413.6,128.8 415.6,126.1 417.6,123.2 419.6,120.6 421.6,118.3 423.6,115.5 425.6,110.5 427.6,105.1 429.6,99.2 431.6,93.4 433.6,89.3 435.6,88.4 437.6,89.2 439.6,90.3 441.6,91.4 443.6,94.1 445.6,96.6 447.6,99.0 449.6,102.3 451.6,106.6 453.6,112.5 455.6,118.1 457.6,123.1 459.6,127.3 461.6,131.3 463.6,134.2 465.6,136.7 467.6,138.9 469.6,140.9 471.6,142.4 473.6,144.6 475.6,147.5 477.6,150.5 479.6,153.9 481.6,157.2 483.6,160.5 485.6,163.6 487.6,167.1 489.6,171.8 491.6,176.1 493.6,179.9 495.6,183.6 497.6,187.2 499.6,190.6 501.6,193.8 503.6,196.9 505.6,199.8 507.6,202.4 509.6,204.6 511.6,206.8 513.6,208.4 515.6,209.5 517.6,210.5 519.6,211.6 521.6,212.8 523.6,213.9 525.6,215.2 527.6,216.6 529.6,218.1 531.6,219.7 533.6,221.3 535.6,223.0 537.6,224.5 539.6,226.0 541.6,227.5 543.6,228.4 545.6,229.3 547.6,230.1 549.6,230.9 551.6,231.9 553.6,232.8 555.6,233.8 557.6,234.8 559.6,235.5 561.6,236.2 563.6,236.8 565.6,237.5 567.6,238.5 569.6,239.6 571.6,240.7 573.6,241.8 575.6,242.4 577.6,242.9 579.6,243.4 581.6,243.9 583.6,244.6 585.6,245.4 587.6,246.1 589.6,246.9 591.6,247.5 593.6,248.2 595.6,248.8 597.6,249.5 599.6,250.0 601.6,250.5 603.6,251.0 605.6,251.5 607.6,251.8 609.6,252.0 611.6,252.2 613.6,252.4 615.6,252.5 617.6,252.6 619.6,252.7 621.6,252.9 623.6,253.0 625.6,253.1 627.6,253.1 629.6,253.2 631.6,253.3 633.6,253.4 635.6,253.4 637.6,253.5 639.6,253.6 641.6,253.7 643.6,253.8 645.6,253.9 647.6,254.0 649.6,254.1 651.6,254.3 653.6,254.5 655.6,254.7 657.6,254.9 659.6,255.1 661.6,255.3"/>
<path d="M275.6,203.3 277.6,202.8 279.6,202.4 281.6,202.0 283.6,201.5 285.6,200.9 287.6,200.3 289.6,199.5 291.6,198.8 293.6,198.1 295.6,197.4 297.6,196.8 299.6,196.3 301.6,196.0 303.6,195.5 305.6,194.6 307.6,193.5 309.6,192.1 311.6,190.5 313.6,188.8 315.6,187.2 317.6,185.7 319.6,184.2 321.6,182.6 323.6,181.0 325.6,179.5 327.6,177.8 329.6,176.2 331.6,174.6 333.6,172.8 335.6,171.7 337.6,170.6 339.6,169.2 341.6,167.3 343.6,165.7 345.6,164.5 347.6,163.0 349.6,160.8 351.6,158.3 353.6,155.1 355.6,150.2 357.6,144.8 359.6,140.3 361.6,137.9 363.6,137.7 365.6,138.0 367.6,138.9 369.6,139.4 371.6,139.7 373.6,139.3 375.6,139.0 377.6,139.5 379.6,140.0 381.6,140.2 383.6,139.9 385.6,139.5 387.6,139.6 389.6,140.1 391.6,140.9 393.6,141.8 395.6,142.8 397.6,144.0 399.6,144.4 401.6,144.0 403.6,143.0 405.6,140.6 407.6,137.7 409.6,134.6 411.6,132.8 413.6,131.6 415.6,129.5 417.6,126.9 419.6,124.3 421.6,121.4 423.6,117.7 425.6,111.9 427.6,105.7 429.6,99.2 431.6,93.2 433.6,88.9 435.6,87.8 437.6,87.9 439.6,87.6 441.6,87.1 443.6,88.4 445.6,90.4 447.6,93.0 449.6,97.1 451.6,102.0 453.6,108.1 455.6,113.7 457.6,118.5 459.6,121.9 461.6,125.0 463.6,127.0 465.6,129.2 467.6,131.4 469.6,133.0 471.6,134.0 473.6,135.4 475.6,138.1 477.6,141.1 479.6,145.1 481.6,149.1 483.6,152.9 485.6,156.1 487.6,159.3 489.6,163.9 491.6,168.6 493.6,173.0 495.6,177.3 497.6,181.2 499.6,184.6 501.6,187.5 503.6,190.4 505.6,193.2 507.6,195.8 509.6,198.0 511.6,199.8 513.6,201.1 515.6,202.4 517.6,203.7 519.6,205.3 521.6,207.0 523.6,208.7 525.6,210.5 527.6,212.4 529.6,214.4 531.6,216.2 533.6,217.9 535.6,219.7 537.6,221.4 539.6,223.0 541.6,224.3 543.6,225.3 545.6,226.4 547.6,227.5 549.6,228.6 551.6,229.8 553.6,231.0 555.6,232.2 557.6,233.4 559.6,234.5 561.6,235.4 563.6,236.3 565.6,237.2 567.6,238.2 569.6,239.4 571.6,240.5 573.6,241.8 575.6,242.4 577.6,242.9 579.6,243.4 581.6,243.9 583.6,244.6 585.6,245.4 587.6,246.1 589.6,246.9 591.6,247.5 593.6,248.2 595.6,248.8 597.6,249.5 599.6,250.0 601.6,250.5 603.6,251.0 605.6,251.5 607.6,251.8 609.6,252.0 611.6,252.2 613.6,252.4 615.6,252.5 617.6,252.6 619.6,252.7 621.6,252.9 623.6,253.0 625.6,253.1 627.6,253.1 629.6,253.2 631.6,253.3 633.6,253.4 635.6,253.4 637.6,253.5 639.6,253.6 641.6,253.7 643.6,253.8 645.6,253.9 647.6,254.0 649.6,254.1 651.6,254.3 653.6,254.5 655.6,254.7 657.6,254.9 659.6,255.1 661.6,255.3"/>
<path d="M275.6,198.7 277.6,198.1 279.6,197.5 281.6,196.8 283.6,196.0 285.6,195.3 287.6,194.7 289.6,194.2 291.6,194.0 293.6,193.9 295.6,193.7 297.6,193.4 299.6,192.9 301.6,192.4 303.6,191.7 305.6,190.6 307.6,189.7 309.6,188.9 311.6,188.2 313.6,187.5 315.6,186.8 317.6,186.1 319.6,185.3 321.6,184.3 323.6,183.3 325.6,182.2 327.6,180.8 329.6,179.4 331.6,177.7 333.6,175.7 335.6,174.5 337.6,173.7 339.6,173.1 341.6,172.4 343.6,172.0 345.6,171.8 347.6,170.6 349.6,168.0 351.6,164.3 353.6,159.9 355.6,154.0 357.6,147.8 359.6,142.6 361.6,140.1 363.6,140.3 365.6,141.2 367.6,142.4 369.6,143.4 371.6,143.8 373.6,143.1 375.6,142.7 377.6,143.3 379.6,143.9 381.6,144.1 383.6,143.8 385.6,143.5 387.6,143.5 389.6,144.3 391.6,145.4 393.6,146.6 395.6,147.9 397.6,149.1 399.6,149.2 401.6,149.0 403.6,148.3 405.6,146.4 407.6,144.5 409.6,142.6 411.6,142.1 413.6,142.1 415.6,140.5 417.6,138.6 419.6,137.7 421.6,137.4 423.6,136.6 425.6,133.8 427.6,129.0 429.6,121.8 431.6,114.1 433.6,107.7 435.6,104.3 437.6,102.0 439.6,99.9 441.6,98.2 443.6,98.9 445.6,100.2 447.6,102.0 449.6,105.0 451.6,108.7 453.6,113.7 455.6,118.7 457.6,123.5 459.6,127.6 461.6,131.3 463.6,133.4 465.6,135.0 467.6,136.3 469.6,137.3 471.6,137.8 473.6,139.0 475.6,141.5 477.6,144.5 479.6,148.3 481.6,151.9 483.6,155.3 485.6,158.1 487.6,161.3 489.6,166.0 491.6,170.6 493.6,174.8 495.6,178.8 497.6,182.5 499.6,186.0 501.6,189.3 503.6,192.6 505.6,195.6 507.6,198.2 509.6,200.3 511.6,202.1 513.6,203.4 515.6,204.6 517.6,206.0 519.6,207.8 521.6,209.7 523.6,211.5 525.6,213.3 527.6,215.1 529.6,216.9 531.6,218.6 533.6,220.3 535.6,222.1 537.6,223.7 539.6,225.3 541.6,226.9 543.6,228.0 545.6,228.9 547.6,229.8 549.6,230.6 551.6,231.5 553.6,232.5 555.6,233.5 557.6,234.6 559.6,235.3 561.6,236.0 563.6,236.7 565.6,237.4 567.6,238.4 569.6,239.5 571.6,240.6 573.6,241.8 575.6,242.4 577.6,242.9 579.6,243.4 581.6,243.9 583.6,244.6 585.6,245.4 587.6,246.1 589.6,246.9 591.6,247.5 593.6,248.2 595.6,248.8 597.6,249.5 599.6,250.0 601.6,250.5 603.6,251.0 605.6,251.5 607.6,251.8 609.6,252.0 611.6,252.2 613.6,252.4 615.6,252.5 617.6,252.6 619.6,252.7 621.6,252.9 623.6,253.0 625.6,253.1 627.6,253.1 629.6,253.2 631.6,253.3 633.6,253.4 635.6,253.4 637.6,253.5 639.6,253.6 641.6,253.7 643.6,253.8 645.6,253.9 647.6,254.0 649.6,254.1 651.6,254.3 653.6,254.5 655.6,254.7 657.6,254.9 659.6,255.1 661.6,255.3"/>
<path d="M275.6,199.0 277.6,198.1 279.6,197.1 281.6,196.2 283.6,195.3 285.6,194.4 287.6,193.6 289.6,192.8 291.6,192.3 293.6,191.9 295.6,191.4 297.6,190.8 299.6,190.2 301.6,189.6 303.6,188.7 305.6,187.2 307.6,185.6 309.6,183.9 311.6,182.4 313.6,181.0 315.6,179.7 317.6,178.4 319.6,176.7 321.6,174.7 323.6,172.6 325.6,170.7 327.6,168.9 329.6,167.2 331.6,165.5 333.6,163.6 335.6,161.9 337.6,160.4 339.6,158.9 341.6,157.2 343.6,155.1 345.6,152.0 347.6,148.6 349.6,145.1 351.6,139.9 353.6,134.1 355.6,127.7 357.6,120.8 359.6,116.9 361.6,115.7 363.6,118.2 365.6,121.7 367.6,125.4 369.6,125.7 371.6,125.0 373.6,123.7 375.6,122.1 377.6,121.1 379.6,121.8 381.6,122.9 383.6,123.8 385.6,123.8 387.6,123.5 389.6,123.2 391.6,123.8 393.6,124.9 395.6,126.2 397.6,127.4 399.6,128.6 401.6,126.9 403.6,124.6 405.6,122.2 407.6,119.8 409.6,117.2 411.6,114.9 413.6,112.4 415.6,109.9 417.6,107.3 419.6,104.7 421.6,102.5 423.6,100.8 425.6,97.5 427.6,94.1 429.6,89.9 431.6,84.8 433.6,80.5 435.6,78.8 437.6,78.7 439.6,78.6 441.6,78.6 443.6,80.4 445.6,82.9 447.6,86.1 449.6,90.2 451.6,94.9 453.6,100.4 455.6,105.7 457.6,110.6 459.6,114.5 461.6,118.3 463.6,120.8 465.6,123.5 467.6,126.1 469.6,127.8 471.6,128.8 473.6,130.0 475.6,132.5 477.6,135.3 479.6,139.0 481.6,142.9 483.6,146.9 485.6,150.7 487.6,154.9 489.6,160.7 491.6,166.4 493.6,171.5 495.6,175.9 497.6,179.7 499.6,182.9 501.6,186.0 503.6,189.3 505.6,192.6 507.6,195.7 509.6,198.5 511.6,200.7 513.6,202.4 515.6,204.0 517.6,205.4 519.6,207.1 521.6,209.0 523.6,210.8 525.6,212.7 527.6,214.5 529.6,216.3 531.6,218.1 533.6,219.9 535.6,221.7 537.6,223.2 539.6,224.7 541.6,226.1 543.6,227.0 545.6,228.0 547.6,229.0 549.6,230.0 551.6,231.0 553.6,232.1 555.6,233.1 557.6,234.1 559.6,234.9 561.6,235.6 563.6,236.4 565.6,237.3 567.6,238.3 569.6,239.4 571.6,240.6 573.6,241.8 575.6,242.4 577.6,242.9 579.6,243.4 581.6,243.9 583.6,244.6 585.6,245.4 587.6,246.1 589.6,246.9 591.6,247.5 593.6,248.2 595.6,248.8 597.6,249.5 599.6,250.0 601.6,250.5 603.6,251.0 605.6,251.5 607.6,251.8 609.6,252.0 611.6,252.2 613.6,252.4 615.6,252.5 617.6,252.6 619.6,252.7 621.6,252.9 623.6,253.0 625.6,253.1 627.6,253.1 629.6,253.2 631.6,253.3 633.6,253.4 635.6,253.4 637.6,253.5 639.6,253.6 641.6,253.7 643.6,253.8 645.6,253.9 647.6,254.0 649.6,254.1 651.6,254.3 653.6,254.5 655.6,254.7 657.6,254.9 659.6,255.1 661.6,255.3"/>
<path d="M275.6,209.2 277.6,208.8 279.6,208.4 281.6,207.9 283.6,207.4 285.6,206.8 287.6,206.4 289.6,206.2 291.6,206.0 293.6,205.9 295.6,205.7 297.6,205.4 299.6,204.9 301.6,204.4 303.6,203.7 305.6,202.8 307.6,201.9 309.6,201.1 311.6,200.2 313.6,199.3 315.6,198.1 317.6,196.8 319.6,195.4 321.6,193.9 323.6,192.3 325.6,190.5 327.6,188.4 329.6,186.0 331.6,183.5 333.6,181.0 335.6,179.5 337.6,178.3 339.6,177.1 341.6,175.5 343.6,174.1 345.6,173.3 347.6,172.1 349.6,170.0 351.6,167.1 353.6,163.3 355.6,158.2 357.6,153.0 359.6,149.2 361.6,147.3 363.6,147.2 365.6,147.2 367.6,147.2 369.6,147.4 371.6,147.5 373.6,146.6 375.6,145.9 377.6,146.1 379.6,146.5 381.6,146.8 383.6,146.2 385.6,145.2 387.6,144.2 389.6,143.8 391.6,143.8 393.6,144.6 395.6,145.8 397.6,147.2 399.6,147.4 401.6,147.0 403.6,145.8 405.6,143.4 407.6,141.1 409.6,139.2 411.6,139.5 413.6,140.6 415.6,139.8 417.6,138.3 419.6,137.2 421.6,136.2 423.6,134.5 425.6,131.1 427.6,126.7 429.6,120.0 431.6,112.5 433.6,105.9 435.6,102.6 437.6,101.3 439.6,101.2 441.6,101.9 443.6,105.1 445.6,108.4 447.6,111.9 449.6,116.4 451.6,121.5 453.6,127.1 455.6,131.8 457.6,135.9 459.6,139.1 461.6,142.0 463.6,144.3 465.6,146.3 467.6,148.1 469.6,150.6 471.6,153.1 473.6,155.4 475.6,158.0 477.6,160.5 479.6,163.5 481.6,166.7 483.6,170.1 485.6,173.2 487.6,176.6 489.6,180.5 491.6,183.9 493.6,186.6 495.6,189.1 497.6,191.6 499.6,194.2 501.6,197.1 503.6,200.1 505.6,203.1 507.6,205.4 509.6,207.1 511.6,208.8 513.6,209.7 515.6,210.5 517.6,211.3 519.6,212.5 521.6,213.9 523.6,215.3 525.6,216.8 527.6,218.2 529.6,219.6 531.6,221.1 533.6,222.6 535.6,224.0 537.6,225.5 539.6,227.0 541.6,228.5 543.6,229.4 545.6,230.2 547.6,231.0 549.6,231.8 551.6,232.6 553.6,233.3 555.6,234.1 557.6,234.8 559.6,235.5 561.6,236.2 563.6,236.9 565.6,237.6 567.6,238.5 569.6,239.6 571.6,240.7 573.6,241.8 575.6,242.4 577.6,242.9 579.6,243.4 581.6,243.9 583.6,244.6 585.6,245.4 587.6,246.1 589.6,246.9 591.6,247.5 593.6,248.2 595.6,248.8 597.6,249.5 599.6,250.0 601.6,250.5 603.6,251.0 605.6,251.5 607.6,251.8 609.6,252.0 611.6,252.2 613.6,252.4 615.6,252.5 617.6,252.6 619.6,252.7 621.6,252.9 623.6,253.0 625.6,253.1 627.6,253.1 629.6,253.2 631.6,253.3 633.6,253.4 635.6,253.4 637.6,253.5 639.6,253.6 641.6,253.7 643.6,253.8 645.6,253.9 647.6,254.0 649.6,254.1 651.6,254.3 653.6,254.5 655.6,254.7 657.6,254.9 659.6,255.1 661.6,255.3"/>
<path d="M275.6,209.5 277.6,209.2 279.6,208.9 281.6,208.6 283.6,208.3 285.6,208.0 287.6,207.7 289.6,207.5 291.6,207.0 293.6,206.5 295.6,206.0 297.6,205.4 299.6,204.9 301.6,204.4 303.6,203.9 305.6,203.4 307.6,202.9 309.6,202.4 311.6,201.1 313.6,199.1 315.6,197.3 317.6,195.7 319.6,194.4 321.6,193.3 323.6,192.2 325.6,191.0 327.6,189.3 329.6,187.6 331.6,185.9 333.6,184.5 335.6,183.8 337.6,183.4 339.6,183.0 341.6,182.2 343.6,181.5 345.6,181.1 347.6,180.9 349.6,180.7 351.6,179.0 353.6,176.1 355.6,171.6 357.6,166.3 359.6,162.0 361.6,158.5 363.6,156.3 365.6,155.1 367.6,154.6 369.6,154.3 371.6,154.4 373.6,153.9 375.6,153.3 377.6,153.5 379.6,154.3 381.6,155.1 383.6,155.4 385.6,155.3 387.6,155.0 389.6,154.7 391.6,154.3 393.6,154.2 395.6,154.3 397.6,154.5 399.6,154.1 401.6,153.5 403.6,152.5 405.6,150.8 407.6,149.2 409.6,147.7 411.6,147.3 413.6,147.1 415.6,145.8 417.6,144.4 419.6,143.9 421.6,143.9 423.6,143.3 425.6,141.4 427.6,137.2 429.6,131.2 431.6,126.4 433.6,123.4 435.6,123.7 437.6,125.0 439.6,125.6 441.6,125.4 443.6,125.7 445.6,126.3 447.6,127.5 449.6,129.6 451.6,132.6 453.6,135.9 455.6,139.1 457.6,142.0 459.6,144.4 461.6,146.2 463.6,147.3 465.6,148.3 467.6,149.4 469.6,151.9 471.6,155.0 473.6,158.5 475.6,162.4 477.6,166.5 479.6,170.6 481.6,174.5 483.6,178.2 485.6,181.3 487.6,184.2 489.6,187.0 491.6,189.6 493.6,191.7 495.6,193.8 497.6,195.9 499.6,197.9 501.6,200.4 503.6,203.1 505.6,205.8 507.6,207.9 509.6,209.8 511.6,211.7 513.6,212.6 515.6,213.3 517.6,213.8 519.6,214.6 521.6,215.6 523.6,216.7 525.6,217.9 527.6,219.1 529.6,220.3 531.6,221.7 533.6,223.1 535.6,224.5 537.6,225.9 539.6,227.3 541.6,228.7 543.6,229.5 545.6,230.2 547.6,231.0 549.6,231.7 551.6,232.5 553.6,233.2 555.6,234.0 557.6,234.8 559.6,235.5 561.6,236.2 563.6,236.8 565.6,237.5 567.6,238.5 569.6,239.6 571.6,240.7 573.6,241.8 575.6,242.4 577.6,242.9 579.6,243.4 581.6,243.9 583.6,244.6 585.6,245.4 587.6,246.1 589.6,246.9 591.6,247.5 593.6,248.2 595.6,248.8 597.6,249.5 599.6,250.0 601.6,250.5 603.6,251.0 605.6,251.5 607.6,251.8 609.6,252.0 611.6,252.2 613.6,252.4 615.6,252.5 617.6,252.6 619.6,252.7 621.6,252.9 623.6,253.0 625.6,253.1 627.6,253.1 629.6,253.2 631.6,253.3 633.6,253.4 635.6,253.4 637.6,253.5 639.6,253.6 641.6,253.7 643.6,253.8 645.6,253.9 647.6,254.0 649.6,254.1 651.6,254.3 653.6,254.5 655.6,254.7 657.6,254.9 659.6,255.1 661.6,255.3"/>
<path d="M275.6,195.1 277.6,194.3 279.6,193.8 281.6,193.3 283.6,192.6 285.6,191.8 287.6,191.0 289.6,190.2 291.6,189.8 293.6,189.5 295.6,189.2 297.6,188.9 299.6,188.7 301.6,188.4 303.6,188.0 305.6,187.1 307.6,186.0 309.6,184.9 311.6,183.8 313.6,182.6 315.6,181.1 317.6,179.5 319.6,177.7 321.6,175.9 323.6,174.2 325.6,172.6 327.6,170.9 329.6,169.0 331.6,167.2 333.6,165.6 335.6,164.5 337.6,163.7 339.6,162.7 341.6,161.3 343.6,159.6 345.6,157.8 347.6,155.5 349.6,152.3 351.6,147.7 353.6,142.1 355.6,135.6 357.6,129.0 359.6,125.2 361.6,124.1 363.6,126.3 365.6,129.4 367.6,132.4 369.6,133.1 371.6,132.6 373.6,131.1 375.6,129.6 377.6,129.2 379.6,129.9 381.6,130.6 383.6,131.1 385.6,130.9 387.6,130.6 389.6,130.2 391.6,130.1 393.6,130.2 395.6,130.5 397.6,131.0 399.6,131.5 401.6,129.5 403.6,126.5 405.6,122.7 407.6,118.4 409.6,113.9 411.6,109.8 413.6,105.7 415.6,102.2 417.6,99.1 419.6,96.7 421.6,95.2 423.6,94.1 425.6,90.7 427.6,86.7 429.6,82.0 431.6,76.8 433.6,72.4 435.6,70.8 437.6,71.2 439.6,72.1 441.6,73.4 443.6,76.3 445.6,79.9 447.6,83.8 449.6,88.5 451.6,93.5 453.6,99.0 455.6,104.9 457.6,110.6 459.6,115.3 461.6,119.5 463.6,122.1 465.6,124.6 467.6,127.1 469.6,129.0 471.6,130.4 473.6,132.1 475.6,134.9 477.6,137.9 479.6,141.8 481.6,145.9 483.6,150.0 485.6,153.8 487.6,157.8 489.6,163.0 491.6,167.9 493.6,172.0 495.6,175.9 497.6,179.7 499.6,183.5 501.6,187.1 503.6,190.6 505.6,193.8 507.6,196.8 509.6,199.4 511.6,201.6 513.6,203.2 515.6,204.7 517.6,206.1 519.6,208.0 521.6,210.1 523.6,212.0 525.6,213.7 527.6,215.4 529.6,217.1 531.6,218.7 533.6,220.5 535.6,222.2 537.6,223.7 539.6,225.2 541.6,226.7 543.6,227.6 545.6,228.4 547.6,229.3 549.6,230.1 551.6,231.1 553.6,232.1 555.6,233.2 557.6,234.3 559.6,235.1 561.6,235.9 563.6,236.6 565.6,237.4 567.6,238.4 569.6,239.5 571.6,240.6 573.6,241.8 575.6,242.4 577.6,242.9 579.6,243.4 581.6,243.9 583.6,244.6 585.6,245.4 587.6,246.1 589.6,246.9 591.6,247.5 593.6,248.2 595.6,248.8 597.6,249.5 599.6,250.0 601.6,250.5 603.6,251.0 605.6,251.5 607.6,251.8 609.6,252.0 611.6,252.2 613.6,252.4 615.6,252.5 617.6,252.6 619.6,252.7 621.6,252.9 623.6,253.0 625.6,253.1 627.6,253.1 629.6,253.2 631.6,253.3 633.6,253.4 635.6,253.4 637.6,253.5 639.6,253.6 641.6,253.7 643.6,253.8 645.6,253.9 647.6,254.0 649.6,254.1 651.6,254.3 653.6,254.5 655.6,254.7 657.6,254.9 659.6,255.1 661.6,255.3"/>
<path d="M275.6,203.5 277.6,203.0 279.6,202.4 281.6,201.8 283.6,201.0 285.6,200.0 287.6,198.8 289.6,197.6 291.6,196.6 293.6,195.8 295.6,195.0 297.6,194.1 299.6,193.3 301.6,192.7 303.6,192.2 305.6,191.5 307.6,190.8 309.6,189.8 311.6,188.5 313.6,187.0 315.6,185.5 317.6,184.1 319.6,182.9 321.6,181.6 323.6,180.6 325.6,179.6 327.6,178.2 329.6,176.6 331.6,174.9 333.6,173.2 335.6,172.4 337.6,171.9 339.6,171.1 341.6,169.5 343.6,168.1 345.6,167.4 347.6,166.2 349.6,163.9 351.6,161.0 353.6,157.2 355.6,151.9 357.6,146.6 359.6,142.5 361.6,140.7 363.6,141.1 365.6,141.9 367.6,143.1 369.6,144.3 371.6,144.8 373.6,143.9 375.6,142.8 377.6,142.7 379.6,143.2 381.6,143.8 383.6,143.9 385.6,143.7 387.6,143.4 389.6,143.5 391.6,143.8 393.6,144.6 395.6,145.9 397.6,147.6 399.6,148.3 401.6,148.6 403.6,148.4 405.6,147.0 407.6,145.6 409.6,144.0 411.6,143.5 413.6,143.2 415.6,141.2 417.6,138.5 419.6,136.5 421.6,135.0 423.6,133.2 425.6,129.5 427.6,124.6 429.6,117.1 431.6,108.9 433.6,102.6 435.6,100.3 437.6,99.5 439.6,98.5 441.6,97.2 443.6,97.9 445.6,98.8 447.6,100.1 449.6,102.9 451.6,106.8 453.6,112.4 455.6,117.7 457.6,122.3 459.6,125.8 461.6,128.8 463.6,130.5 465.6,132.2 467.6,133.9 469.6,135.3 471.6,136.3 473.6,137.7 475.6,140.1 477.6,142.8 479.6,146.5 481.6,150.1 483.6,153.8 485.6,157.3 487.6,161.1 489.6,166.5 491.6,171.7 493.6,176.3 495.6,180.7 497.6,184.7 499.6,188.5 501.6,192.0 503.6,195.2 505.6,198.0 507.6,200.3 509.6,201.9 511.6,203.5 513.6,204.5 515.6,205.4 517.6,206.4 519.6,207.9 521.6,209.5 523.6,211.2 525.6,213.0 527.6,214.9 529.6,216.7 531.6,218.5 533.6,220.2 535.6,221.8 537.6,223.4 539.6,224.9 541.6,226.3 543.6,227.3 545.6,228.2 547.6,229.1 549.6,230.1 551.6,231.1 553.6,232.1 555.6,233.2 557.6,234.2 559.6,235.1 561.6,235.8 563.6,236.6 565.6,237.4 567.6,238.4 569.6,239.5 571.6,240.6 573.6,241.8 575.6,242.4 577.6,242.9 579.6,243.4 581.6,243.9 583.6,244.6 585.6,245.4 587.6,246.1 589.6,246.9 591.6,247.5 593.6,248.2 595.6,248.8 597.6,249.5 599.6,250.0 601.6,250.5 603.6,251.0 605.6,251.5 607.6,251.8 609.6,252.0 611.6,252.2 613.6,252.4 615.6,252.5 617.6,252.6 619.6,252.7 621.6,252.9 623.6,253.0 625.6,253.1 627.6,253.1 629.6,253.2 631.6,253.3 633.6,253.4 635.6,253.4 637.6,253.5 639.6,253.6 641.6,253.7 643.6,253.8 645.6,253.9 647.6,254.0 649.6,254.1 651.6,254.3 653.6,254.5 655.6,254.7 657.6,254.9 659.6,255.1 661.6,255.3"/>
<path d="M275.6,206.9 277.6,206.4 279.6,205.8 281.6,205.0 283.6,204.1 285.6,203.3 287.6,202.6 289.6,202.1 291.6,201.7 293.6,201.2 295.6,200.5 297.6,199.8 299.6,199.0 301.6,198.3 303.6,197.6 305.6,196.5 307.6,195.2 309.6,193.7 311.6,192.1 313.6,190.6 315.6,189.3 317.6,188.1 319.6,187.0 321.6,185.6 323.6,184.1 325.6,182.8 327.6,181.5 329.6,180.5 331.6,179.6 333.6,178.7 335.6,178.3 337.6,178.0 339.6,177.5 341.6,176.7 343.6,176.2 345.6,176.1 347.6,175.6 349.6,174.4 351.6,172.1 353.6,169.5 355.6,166.3 357.6,163.2 359.6,161.0 361.6,159.4 363.6,158.4 365.6,157.9 367.6,157.6 369.6,157.4 371.6,158.0 373.6,158.5 375.6,158.9 377.6,159.2 379.6,159.7 381.6,160.4 383.6,161.4 385.6,162.5 387.6,163.7 389.6,164.2 391.6,164.3 393.6,163.9 395.6,163.6 397.6,163.3 399.6,163.3 401.6,163.5 403.6,163.8 405.6,164.1 407.6,164.9 409.6,165.9 411.6,166.1 413.6,166.3 415.6,166.5 417.6,166.0 419.6,165.4 421.6,164.2 423.6,162.9 425.6,162.2 427.6,157.8 429.6,152.3 431.6,148.8 433.6,146.0 435.6,145.2 437.6,144.9 439.6,144.6 441.6,144.2 443.6,143.9 445.6,143.7 447.6,143.5 449.6,143.7 451.6,144.9 453.6,146.1 455.6,147.3 457.6,148.6 459.6,149.9 461.6,150.4 463.6,151.0 465.6,151.6 467.6,152.6 469.6,155.2 471.6,158.4 473.6,161.1 475.6,163.4 477.6,165.2 479.6,167.6 481.6,170.8 483.6,174.5 485.6,178.0 487.6,181.3 489.6,184.5 491.6,187.4 493.6,189.8 495.6,192.0 497.6,194.3 499.6,196.7 501.6,199.4 503.6,202.3 505.6,205.1 507.6,207.1 509.6,208.6 511.6,210.2 513.6,211.1 515.6,211.9 517.6,212.5 519.6,213.4 521.6,214.4 523.6,215.4 525.6,216.5 527.6,217.6 529.6,218.9 531.6,220.3 533.6,221.8 535.6,223.3 537.6,224.8 539.6,226.3 541.6,227.7 543.6,228.7 545.6,229.5 547.6,230.3 549.6,231.1 551.6,232.0 553.6,232.9 555.6,233.9 557.6,234.8 559.6,235.5 561.6,236.2 563.6,236.8 565.6,237.5 567.6,238.5 569.6,239.6 571.6,240.7 573.6,241.8 575.6,242.4 577.6,242.9 579.6,243.4 581.6,243.9 583.6,244.6 585.6,245.4 587.6,246.1 589.6,246.9 591.6,247.5 593.6,248.2 595.6,248.8 597.6,249.5 599.6,250.0 601.6,250.5 603.6,251.0 605.6,251.5 607.6,251.8 609.6,252.0 611.6,252.2 613.6,252.4 615.6,252.5 617.6,252.6 619.6,252.7 621.6,252.9 623.6,253.0 625.6,253.1 627.6,253.1 629.6,253.2 631.6,253.3 633.6,253.4 635.6,253.4 637.6,253.5 639.6,253.6 641.6,253.7 643.6,253.8 645.6,253.9 647.6,254.0 649.6,254.1 651.6,254.3 653.6,254.5 655.6,254.7 657.6,254.9 659.6,255.1 661.6,255.3"/>
<path d="M275.6,204.7 277.6,204.0 279.6,203.4 281.6,202.9 283.6,202.3 285.6,201.6 287.6,200.8 289.6,199.8 291.6,198.9 293.6,198.1 295.6,197.3 297.6,196.4 299.6,195.4 301.6,194.3 303.6,193.1 305.6,191.7 307.6,190.5 309.6,189.3 311.6,188.3 313.6,187.3 315.6,186.4 317.6,185.6 319.6,185.1 321.6,184.5 323.6,183.9 325.6,183.1 327.6,182.1 329.6,181.1 331.6,180.1 333.6,179.1 335.6,178.9 337.6,178.8 339.6,178.3 341.6,177.4 343.6,177.0 345.6,177.3 347.6,177.5 349.6,177.1 351.6,175.1 353.6,172.1 355.6,167.8 357.6,163.2 359.6,160.0 361.6,157.8 363.6,156.8 365.6,156.4 367.6,156.4 369.6,156.4 371.6,157.2 373.6,157.9 375.6,158.7 377.6,159.6 379.6,160.5 381.6,161.1 383.6,161.8 385.6,162.3 387.6,162.6 389.6,162.3 391.6,161.9 393.6,161.8 395.6,162.0 397.6,162.1 399.6,161.8 401.6,161.2 403.6,160.4 405.6,159.2 407.6,158.2 409.6,157.0 411.6,156.3 413.6,155.7 415.6,154.6 417.6,153.2 419.6,152.3 421.6,151.5 423.6,150.5 425.6,148.6 427.6,143.5 429.6,136.8 431.6,131.4 433.6,127.5 435.6,126.7 437.6,127.0 439.6,127.3 441.6,127.1 443.6,127.4 445.6,127.8 447.6,128.5 449.6,130.1 451.6,132.5 453.6,135.1 455.6,137.6 457.6,140.0 459.6,142.4 461.6,144.6 463.6,146.4 465.6,147.9 467.6,149.3 469.6,151.5 471.6,153.8 473.6,156.1 475.6,158.5 477.6,161.2 479.6,164.5 481.6,168.0 483.6,171.7 485.6,174.7 487.6,177.5 489.6,180.8 491.6,184.1 493.6,187.1 495.6,190.1 497.6,193.0 499.6,195.8 501.6,198.6 503.6,201.4 505.6,204.0 507.6,206.0 509.6,207.7 511.6,209.4 513.6,210.5 515.6,211.3 517.6,212.1 519.6,213.2 521.6,214.4 523.6,215.6 525.6,217.0 527.6,218.4 529.6,219.7 531.6,221.2 533.6,222.7 535.6,224.2 537.6,225.7 539.6,227.2 541.6,228.7 543.6,229.6 545.6,230.3 547.6,231.1 549.6,231.8 551.6,232.5 553.6,233.3 555.6,234.1 557.6,234.8 559.6,235.5 561.6,236.2 563.6,236.9 565.6,237.6 567.6,238.5 569.6,239.6 571.6,240.7 573.6,241.8 575.6,242.4 577.6,242.9 579.6,243.4 581.6,243.9 583.6,244.6 585.6,245.4 587.6,246.1 589.6,246.9 591.6,247.5 593.6,248.2 595.6,248.8 597.6,249.5 599.6,250.0 601.6,250.5 603.6,251.0 605.6,251.5 607.6,251.8 609.6,252.0 611.6,252.2 613.6,252.4 615.6,252.5 617.6,252.6 619.6,252.7 621.6,252.9 623.6,253.0 625.6,253.1 627.6,253.1 629.6,253.2 631.6,253.3 633.6,253.4 635.6,253.4 637.6,253.5 639.6,253.6 641.6,253.7 643.6,253.8 645.6,253.9 647.6,254.0 649.6,254.1 651.6,254.3 653.6,254.5 655.6,254.7 657.6,254.9 659.6,255.1 661.6,255.3"/>
<path d="M275.6,198.2 277.6,197.6 279.6,197.1 281.6,196.6 283.6,196.1 285.6,195.4 287.6,194.5 289.6,193.6 291.6,192.9 293.6,192.3 295.6,191.9 297.6,191.4 299.6,190.9 301.6,190.4 303.6,189.8 305.6,188.8 307.6,187.9 309.6,186.9 311.6,185.9 313.6,184.7 315.6,183.4 317.6,182.0 319.6,180.5 321.6,179.0 323.6,177.6 325.6,176.3 327.6,174.9 329.6,173.2 331.6,171.2 333.6,169.1 335.6,167.5 337.6,165.9 339.6,164.0 341.6,161.7 343.6,159.3 345.6,156.7 347.6,153.8 349.6,150.5 351.6,146.0 353.6,141.1 355.6,136.0 357.6,130.7 359.6,127.6 361.6,126.5 363.6,128.0 365.6,130.0 367.6,132.4 369.6,133.0 371.6,133.0 373.6,132.4 375.6,131.9 377.6,132.0 379.6,132.9 381.6,133.5 383.6,133.8 385.6,134.0 387.6,134.5 389.6,135.5 391.6,136.6 393.6,137.6 395.6,138.5 397.6,139.6 399.6,140.4 401.6,140.1 403.6,139.6 405.6,138.3 407.6,136.6 409.6,134.6 411.6,134.0 413.6,134.2 415.6,133.7 417.6,132.6 419.6,131.6 421.6,130.1 423.6,127.7 425.6,123.5 427.6,119.2 429.6,113.6 431.6,107.9 433.6,103.9 435.6,103.7 437.6,104.2 439.6,104.0 441.6,103.3 443.6,104.5 445.6,105.9 447.6,107.4 449.6,109.5 451.6,112.2 453.6,116.5 455.6,121.1 457.6,125.8 459.6,129.8 461.6,133.3 463.6,135.5 465.6,137.4 467.6,139.4 469.6,141.5 471.6,143.3 473.6,145.6 475.6,148.8 477.6,152.5 479.6,156.9 481.6,161.3 483.6,165.7 485.6,169.5 487.6,173.2 489.6,177.5 491.6,181.5 493.6,184.7 495.6,187.7 497.6,190.4 499.6,192.9 501.6,195.4 503.6,197.9 505.6,200.4 507.6,202.5 509.6,204.2 511.6,205.9 513.6,207.1 515.6,208.1 517.6,209.1 519.6,210.5 521.6,212.0 523.6,213.6 525.6,215.2 527.6,216.8 529.6,218.4 531.6,220.1 533.6,221.7 535.6,223.2 537.6,224.7 539.6,226.1 541.6,227.6 543.6,228.5 545.6,229.4 547.6,230.3 549.6,231.1 551.6,232.1 553.6,233.0 555.6,233.9 557.6,234.8 559.6,235.5 561.6,236.2 563.6,236.8 565.6,237.5 567.6,238.5 569.6,239.6 571.6,240.7 573.6,241.8 575.6,242.4 577.6,242.9 579.6,243.4 581.6,243.9 583.6,244.6 585.6,245.4 587.6,246.1 589.6,246.9 591.6,247.5 593.6,248.2 595.6,248.8 597.6,249.5 599.6,250.0 601.6,250.5 603.6,251.0 605.6,251.5 607.6,251.8 609.6,252.0 611.6,252.2 613.6,252.4 615.6,252.5 617.6,252.6 619.6,252.7 621.6,252.9 623.6,253.0 625.6,253.1 627.6,253.1 629.6,253.2 631.6,253.3 633.6,253.4 635.6,253.4 637.6,253.5 639.6,253.6 641.6,253.7 643.6,253.8 645.6,253.9 647.6,254.0 649.6,254.1 651.6,254.3 653.6,254.5 655.6,254.7 657.6,254.9 659.6,255.1 661.6,255.3"/>
<path d="M275.6,197.2 277.6,196.3 279.6,195.3 281.6,194.2 283.6,193.0 285.6,191.8 287.6,190.7 289.6,189.8 291.6,189.3 293.6,188.9 295.6,188.5 297.6,187.8 299.6,187.1 301.6,186.5 303.6,185.6 305.6,184.3 307.6,182.8 309.6,181.2 311.6,179.8 313.6,178.5 315.6,177.5 317.6,176.6 319.6,175.5 321.6,173.9 323.6,172.1 325.6,170.2 327.6,168.2 329.6,166.2 331.6,164.3 333.6,162.3 335.6,160.5 337.6,158.8 339.6,157.0 341.6,155.0 343.6,152.5 345.6,149.0 347.6,145.1 349.6,140.8 351.6,135.2 353.6,129.2 355.6,123.0 357.6,116.3 359.6,112.9 361.6,111.8 363.6,114.5 365.6,118.2 367.6,122.2 369.6,122.4 371.6,121.6 373.6,120.7 375.6,119.7 377.6,119.2 379.6,119.9 381.6,120.5 383.6,121.2 385.6,121.1 387.6,120.8 389.6,120.2 391.6,120.6 393.6,121.4 395.6,122.2 397.6,123.0 399.6,123.9 401.6,120.8 403.6,116.8 405.6,112.8 407.6,109.6 409.6,107.0 411.6,104.7 413.6,102.3 415.6,100.0 417.6,97.3 419.6,94.2 421.6,91.5 423.6,89.4 425.6,85.4 427.6,81.3 429.6,77.4 431.6,72.8 433.6,68.6 435.6,66.7 437.6,66.7 439.6,67.3 441.6,68.7 443.6,71.5 445.6,75.1 447.6,79.2 449.6,84.1 451.6,89.4 453.6,94.9 455.6,100.7 457.6,106.3 459.6,111.1 461.6,115.6 463.6,118.3 465.6,120.5 467.6,122.4 469.6,123.7 471.6,125.2 473.6,127.5 475.6,131.3 477.6,135.1 479.6,139.3 481.6,143.4 483.6,147.4 485.6,151.1 487.6,155.3 489.6,160.9 491.6,166.6 493.6,171.6 495.6,176.4 497.6,180.9 499.6,184.8 501.6,188.3 503.6,191.6 505.6,194.6 507.6,197.3 509.6,199.7 511.6,201.7 513.6,203.1 515.6,204.4 517.6,205.5 519.6,207.0 521.6,208.7 523.6,210.5 525.6,212.3 527.6,214.3 529.6,216.3 531.6,218.1 533.6,219.8 535.6,221.5 537.6,223.1 539.6,224.8 541.6,226.5 543.6,227.7 545.6,228.7 547.6,229.6 549.6,230.5 551.6,231.5 553.6,232.5 555.6,233.6 557.6,234.6 559.6,235.4 561.6,236.1 563.6,236.8 565.6,237.5 567.6,238.5 569.6,239.6 571.6,240.7 573.6,241.8 575.6,242.4 577.6,242.9 579.6,243.4 581.6,243.9 583.6,244.6 585.6,245.4 587.6,246.1 589.6,246.9 591.6,247.5 593.6,248.2 595.6,248.8 597.6,249.5 599.6,250.0 601.6,250.5 603.6,251.0 605.6,251.5 607.6,251.8 609.6,252.0 611.6,252.2 613.6,252.4 615.6,252.5 617.6,252.6 619.6,252.7 621.6,252.9 623.6,253.0 625.6,253.1 627.6,253.1 629.6,253.2 631.6,253.3 633.6,253.4 635.6,253.4 637.6,253.5 639.6,253.6 641.6,253.7 643.6,253.8 645.6,253.9 647.6,254.0 649.6,254.1 651.6,254.3 653.6,254.5 655.6,254.7 657.6,254.9 659.6,255.1 661.6,255.3"/>
<path d="M275.6,203.0 277.6,202.1 279.6,201.4 281.6,200.7 283.6,199.7 285.6,198.5 287.6,197.3 289.6,196.0 291.6,195.0 293.6,194.1 295.6,193.4 297.6,192.8 299.6,192.0 301.6,191.2 303.6,190.0 305.6,188.4 307.6,186.9 309.6,185.5 311.6,184.3 313.6,183.3 315.6,182.5 317.6,181.9 319.6,181.1 321.6,180.0 323.6,179.0 325.6,177.9 327.6,176.8 329.6,175.5 331.6,174.1 333.6,172.5 335.6,171.6 337.6,170.9 339.6,170.2 341.6,169.1 343.6,168.4 345.6,168.1 347.6,166.6 349.6,163.4 351.6,159.8 353.6,155.6 355.6,150.5 357.6,145.5 359.6,141.7 361.6,139.9 363.6,140.3 365.6,141.2 367.6,142.6 369.6,143.9 371.6,144.4 373.6,143.5 375.6,142.8 377.6,143.4 379.6,144.4 381.6,145.5 383.6,146.0 385.6,146.7 387.6,147.8 389.6,149.4 391.6,150.7 393.6,151.5 395.6,152.1 397.6,152.6 399.6,152.6 401.6,152.6 403.6,152.4 405.6,151.4 407.6,150.7 409.6,150.2 411.6,150.8 413.6,151.2 415.6,150.2 417.6,148.4 419.6,147.0 421.6,146.0 423.6,144.9 425.6,143.0 427.6,139.0 429.6,133.2 431.6,128.0 433.6,123.5 435.6,121.1 437.6,119.2 439.6,117.1 441.6,115.3 443.6,115.0 445.6,114.9 447.6,114.8 449.6,116.1 451.6,119.2 453.6,124.3 455.6,129.4 457.6,133.8 459.6,137.1 461.6,139.8 463.6,141.5 465.6,143.1 467.6,144.7 469.6,147.0 471.6,149.4 473.6,152.6 475.6,156.6 477.6,160.7 479.6,164.9 481.6,168.6 483.6,171.7 485.6,174.0 487.6,176.4 489.6,179.5 491.6,182.9 493.6,186.1 495.6,189.2 497.6,192.0 499.6,194.5 501.6,196.9 503.6,199.4 505.6,202.0 507.6,204.2 509.6,206.1 511.6,208.0 513.6,209.1 515.6,209.9 517.6,210.6 519.6,211.7 521.6,213.0 523.6,214.4 525.6,215.9 527.6,217.3 529.6,218.8 531.6,220.3 533.6,221.9 535.6,223.4 537.6,225.0 539.6,226.5 541.6,228.0 543.6,228.9 545.6,229.7 547.6,230.4 549.6,231.2 551.6,232.0 553.6,232.9 555.6,233.9 557.6,234.8 559.6,235.5 561.6,236.2 563.6,236.8 565.6,237.5 567.6,238.5 569.6,239.6 571.6,240.7 573.6,241.8 575.6,242.4 577.6,242.9 579.6,243.4 581.6,243.9 583.6,244.6 585.6,245.4 587.6,246.1 589.6,246.9 591.6,247.5 593.6,248.2 595.6,248.8 597.6,249.5 599.6,250.0 601.6,250.5 603.6,251.0 605.6,251.5 607.6,251.8 609.6,252.0 611.6,252.2 613.6,252.4 615.6,252.5 617.6,252.6 619.6,252.7 621.6,252.9 623.6,253.0 625.6,253.1 627.6,253.1 629.6,253.2 631.6,253.3 633.6,253.4 635.6,253.4 637.6,253.5 639.6,253.6 641.6,253.7 643.6,253.8 645.6,253.9 647.6,254.0 649.6,254.1 651.6,254.3 653.6,254.5 655.6,254.7 657.6,254.9 659.6,255.1 661.6,255.3"/>
<path d="M275.6,203.3 277.6,202.9 279.6,202.4 281.6,201.7 283.6,200.8 285.6,199.9 287.6,199.2 289.6,198.6 291.6,198.1 293.6,197.7 295.6,197.3 297.6,196.8 299.6,196.4 301.6,195.8 303.6,195.0 305.6,193.7 307.6,192.4 309.6,191.2 311.6,190.4 313.6,189.9 315.6,189.5 317.6,188.9 319.6,188.0 321.6,187.0 323.6,186.1 325.6,185.2 327.6,184.0 329.6,182.6 331.6,181.3 333.6,180.1 335.6,179.6 337.6,179.0 339.6,178.0 341.6,176.1 343.6,174.4 345.6,173.3 347.6,172.2 349.6,170.3 351.6,167.6 353.6,163.9 355.6,158.7 357.6,153.0 359.6,148.4 361.6,145.9 363.6,145.7 365.6,146.1 367.6,147.1 369.6,148.0 371.6,148.7 373.6,148.2 375.6,147.6 377.6,147.7 379.6,148.0 381.6,148.2 383.6,148.2 385.6,148.6 387.6,149.5 389.6,151.0 391.6,152.3 393.6,153.4 395.6,154.0 397.6,154.2 399.6,153.6 401.6,152.9 403.6,152.2 405.6,151.3 407.6,150.9 409.6,150.5 411.6,150.8 413.6,151.0 415.6,149.8 417.6,147.8 419.6,146.2 421.6,144.9 423.6,143.4 425.6,141.2 427.6,137.4 429.6,132.2 431.6,127.9 433.6,124.7 435.6,123.6 437.6,122.7 439.6,121.1 441.6,119.4 443.6,119.5 445.6,120.3 447.6,121.4 449.6,123.2 451.6,125.8 453.6,129.0 455.6,131.9 457.6,134.6 459.6,136.8 461.6,138.8 463.6,139.8 465.6,140.6 467.6,141.1 469.6,141.5 471.6,141.0 473.6,140.6 475.6,142.0 477.6,144.2 479.6,147.6 481.6,151.0 483.6,154.3 485.6,157.2 487.6,160.7 489.6,165.8 491.6,171.1 493.6,175.8 495.6,180.1 497.6,184.0 499.6,187.6 501.6,190.8 503.6,194.1 505.6,197.1 507.6,199.8 509.6,201.9 511.6,203.8 513.6,205.0 515.6,205.9 517.6,206.7 519.6,207.9 521.6,209.3 523.6,210.7 525.6,212.1 527.6,213.7 529.6,215.4 531.6,217.0 533.6,218.7 535.6,220.4 537.6,222.1 539.6,223.8 541.6,225.3 543.6,226.4 545.6,227.4 547.6,228.4 549.6,229.5 551.6,230.5 553.6,231.6 555.6,232.7 557.6,233.9 559.6,234.8 561.6,235.7 563.6,236.5 565.6,237.3 567.6,238.4 569.6,239.5 571.6,240.6 573.6,241.8 575.6,242.4 577.6,242.9 579.6,243.4 581.6,243.9 583.6,244.6 585.6,245.4 587.6,246.1 589.6,246.9 591.6,247.5 593.6,248.2 595.6,248.8 597.6,249.5 599.6,250.0 601.6,250.5 603.6,251.0 605.6,251.5 607.6,251.8 609.6,252.0 611.6,252.2 613.6,252.4 615.6,252.5 617.6,252.6 619.6,252.7 621.6,252.9 623.6,253.0 625.6,253.1 627.6,253.1 629.6,253.2 631.6,253.3 633.6,253.4 635.6,253.4 637.6,253.5 639.6,253.6 641.6,253.7 643.6,253.8 645.6,253.9 647.6,254.0 649.6,254.1 651.6,254.3 653.6,254.5 655.6,254.7 657.6,254.9 659.6,255.1 661.6,255.3"/>
<path d="M275.6,198.4 277.6,197.8 279.6,197.4 281.6,197.2 283.6,197.0 285.6,196.7 287.6,196.4 289.6,195.9 291.6,195.4 293.6,194.8 295.6,194.1 297.6,193.2 299.6,192.4 301.6,191.6 303.6,190.7 305.6,189.4 307.6,188.1 309.6,186.7 311.6,185.5 313.6,184.4 315.6,183.5 317.6,182.6 319.6,181.6 321.6,180.3 323.6,178.8 325.6,177.4 327.6,176.0 329.6,175.0 331.6,174.2 333.6,173.6 335.6,173.9 337.6,174.2 339.6,173.9 341.6,172.8 343.6,171.5 345.6,170.4 347.6,168.8 349.6,166.4 351.6,163.9 353.6,160.7 355.6,156.0 357.6,150.8 359.6,146.5 361.6,144.1 363.6,144.0 365.6,144.7 367.6,145.8 369.6,146.8 371.6,147.4 373.6,147.1 375.6,147.0 377.6,148.0 379.6,149.2 381.6,150.2 383.6,150.7 385.6,150.9 387.6,151.0 389.6,151.3 391.6,151.4 393.6,151.6 395.6,151.8 397.6,152.0 399.6,151.6 401.6,151.2 403.6,150.7 405.6,149.4 407.6,147.9 409.6,145.7 411.6,144.1 413.6,142.4 415.6,139.5 417.6,136.4 419.6,134.6 421.6,132.8 423.6,129.6 425.6,123.9 427.6,117.5 429.6,110.3 431.6,103.6 433.6,98.9 435.6,97.6 437.6,97.3 439.6,97.0 441.6,96.7 443.6,98.5 445.6,100.4 447.6,103.0 449.6,106.9 451.6,111.8 453.6,117.6 455.6,122.3 457.6,125.9 459.6,128.4 461.6,130.7 463.6,132.2 465.6,133.9 467.6,135.6 469.6,136.9 471.6,137.5 473.6,138.7 475.6,140.9 477.6,143.6 479.6,147.2 481.6,150.8 483.6,154.4 485.6,157.6 487.6,161.3 489.6,166.6 491.6,172.1 493.6,177.2 495.6,182.0 497.6,186.3 499.6,190.1 501.6,193.2 503.6,196.1 505.6,198.7 507.6,201.1 509.6,202.9 511.6,204.8 513.6,206.0 515.6,206.9 517.6,207.8 519.6,209.2 521.6,210.7 523.6,212.3 525.6,213.9 527.6,215.5 529.6,217.3 531.6,219.0 533.6,220.7 535.6,222.3 537.6,223.8 539.6,225.3 541.6,226.9 543.6,227.9 545.6,228.8 547.6,229.6 549.6,230.4 551.6,231.3 553.6,232.3 555.6,233.3 557.6,234.4 559.6,235.2 561.6,235.9 563.6,236.7 565.6,237.4 567.6,238.4 569.6,239.5 571.6,240.6 573.6,241.8 575.6,242.4 577.6,242.9 579.6,243.4 581.6,243.9 583.6,244.6 585.6,245.4 587.6,246.1 589.6,246.9 591.6,247.5 593.6,248.2 595.6,248.8 597.6,249.5 599.6,250.0 601.6,250.5 603.6,251.0 605.6,251.5 607.6,251.8 609.6,252.0 611.6,252.2 613.6,252.4 615.6,252.5 617.6,252.6 619.6,252.7 621.6,252.9 623.6,253.0 625.6,253.1 627.6,253.1 629.6,253.2 631.6,253.3 633.6,253.4 635.6,253.4 637.6,253.5 639.6,253.6 641.6,253.7 643.6,253.8 645.6,253.9 647.6,254.0 649.6,254.1 651.6,254.3 653.6,254.5 655.6,254.7 657.6,254.9 659.6,255.1 661.6,255.3"/>
<path d="M275.6,203.0 277.6,202.1 279.6,201.2 281.6,200.2 283.6,199.0 285.6,197.9 287.6,196.8 289.6,195.9 291.6,195.2 293.6,194.5 295.6,193.8 297.6,193.0 299.6,192.2 301.6,191.6 303.6,191.0 305.6,190.2 307.6,189.3 309.6,188.2 311.6,187.0 313.6,185.7 315.6,184.4 317.6,183.3 319.6,182.3 321.6,181.2 323.6,179.9 325.6,178.4 327.6,176.6 329.6,174.9 331.6,173.4 333.6,171.9 335.6,170.9 337.6,170.0 339.6,168.7 341.6,166.8 343.6,165.4 345.6,164.7 347.6,163.6 349.6,161.3 351.6,158.4 353.6,154.4 355.6,149.1 357.6,143.7 359.6,139.9 361.6,138.4 363.6,139.1 365.6,140.0 367.6,141.2 369.6,142.3 371.6,142.9 373.6,142.7 375.6,142.7 377.6,143.5 379.6,144.3 381.6,144.5 383.6,144.0 385.6,143.5 387.6,143.4 389.6,144.1 391.6,144.7 393.6,145.4 395.6,146.1 397.6,147.2 399.6,147.6 401.6,147.6 403.6,146.9 405.6,144.6 407.6,141.8 409.6,138.8 411.6,137.4 413.6,136.4 415.6,134.0 417.6,131.0 419.6,128.5 421.6,126.4 423.6,124.2 425.6,120.3 427.6,115.1 429.6,107.5 431.6,98.5 433.6,90.8 435.6,86.7 437.6,85.0 439.6,84.3 441.6,84.3 443.6,86.1 445.6,88.2 447.6,90.6 449.6,94.1 451.6,98.5 453.6,104.2 455.6,110.3 457.6,116.2 459.6,121.1 461.6,125.4 463.6,128.1 465.6,130.6 467.6,133.2 469.6,135.3 471.6,136.9 473.6,138.6 475.6,141.2 477.6,144.0 479.6,147.8 481.6,152.0 483.6,156.6 485.6,160.7 487.6,164.8 489.6,169.9 491.6,174.7 493.6,178.9 495.6,182.9 497.6,186.5 499.6,189.8 501.6,192.6 503.6,195.4 505.6,198.1 507.6,200.5 509.6,202.3 511.6,203.9 513.6,204.9 515.6,205.8 517.6,206.7 519.6,208.1 521.6,209.6 523.6,211.2 525.6,212.9 527.6,214.5 529.6,216.1 531.6,217.8 533.6,219.5 535.6,221.2 537.6,222.8 539.6,224.5 541.6,225.9 543.6,227.0 545.6,228.0 547.6,229.0 549.6,229.9 551.6,231.0 553.6,232.0 555.6,233.0 557.6,234.1 559.6,234.9 561.6,235.7 563.6,236.5 565.6,237.3 567.6,238.4 569.6,239.5 571.6,240.6 573.6,241.8 575.6,242.4 577.6,242.9 579.6,243.4 581.6,243.9 583.6,244.6 585.6,245.4 587.6,246.1 589.6,246.9 591.6,247.5 593.6,248.2 595.6,248.8 597.6,249.5 599.6,250.0 601.6,250.5 603.6,251.0 605.6,251.5 607.6,251.8 609.6,252.0 611.6,252.2 613.6,252.4 615.6,252.5 617.6,252.6 619.6,252.7 621.6,252.9 623.6,253.0 625.6,253.1 627.6,253.1 629.6,253.2 631.6,253.3 633.6,253.4 635.6,253.4 637.6,253.5 639.6,253.6 641.6,253.7 643.6,253.8 645.6,253.9 647.6,254.0 649.6,254.1 651.6,254.3 653.6,254.5 655.6,254.7 657.6,254.9 659.6,255.1 661.6,255.3"/>
<path d="M275.6,196.6 277.6,195.5 279.6,194.6 281.6,193.8 283.6,193.0 285.6,192.2 287.6,191.2 289.6,190.1 291.6,189.2 293.6,188.5 295.6,187.8 297.6,187.0 299.6,186.3 301.6,185.4 303.6,184.3 305.6,182.7 307.6,181.2 309.6,179.6 311.6,178.1 313.6,176.4 315.6,174.9 317.6,173.5 319.6,172.1 321.6,170.7 323.6,169.4 325.6,168.2 327.6,167.0 329.6,165.7 331.6,164.3 333.6,162.9 335.6,161.7 337.6,160.4 339.6,158.8 341.6,156.8 343.6,154.3 345.6,150.9 347.6,147.5 349.6,144.1 351.6,139.0 353.6,133.7 355.6,128.6 357.6,123.5 359.6,121.3 361.6,121.2 363.6,123.9 365.6,127.1 367.6,130.3 369.6,131.1 371.6,130.9 373.6,130.2 375.6,129.7 377.6,130.2 379.6,131.8 381.6,133.5 383.6,134.5 385.6,135.0 387.6,135.5 389.6,136.7 391.6,138.2 393.6,139.8 395.6,141.2 397.6,142.6 399.6,143.3 401.6,143.0 403.6,142.2 405.6,140.6 407.6,138.9 409.6,137.4 411.6,137.6 413.6,138.9 415.6,139.3 417.6,139.0 419.6,139.0 421.6,138.7 423.6,137.3 425.6,134.4 427.6,130.1 429.6,123.7 431.6,117.4 433.6,112.9 435.6,112.0 437.6,112.6 439.6,112.9 441.6,112.3 443.6,112.2 445.6,111.7 447.6,111.6 449.6,113.2 451.6,116.6 453.6,121.9 455.6,127.0 457.6,131.2 459.6,134.3 461.6,136.6 463.6,138.0 465.6,139.5 467.6,141.1 469.6,143.0 471.6,144.5 473.6,146.2 475.6,148.5 477.6,150.7 479.6,153.8 481.6,157.3 483.6,161.2 485.6,165.0 487.6,169.1 489.6,174.0 491.6,178.4 493.6,182.0 495.6,185.5 497.6,188.6 499.6,191.6 501.6,194.4 503.6,197.2 505.6,199.9 507.6,202.4 509.6,204.3 511.6,206.1 513.6,207.3 515.6,208.1 517.6,209.0 519.6,210.4 521.6,212.0 523.6,213.7 525.6,215.4 527.6,217.0 529.6,218.6 531.6,220.2 533.6,221.8 535.6,223.4 537.6,224.9 539.6,226.4 541.6,227.9 543.6,228.9 545.6,229.7 547.6,230.6 549.6,231.4 551.6,232.3 553.6,233.1 555.6,234.0 557.6,234.8 559.6,235.5 561.6,236.2 563.6,236.8 565.6,237.5 567.6,238.5 569.6,239.6 571.6,240.7 573.6,241.8 575.6,242.4 577.6,242.9 579.6,243.4 581.6,243.9 583.6,244.6 585.6,245.4 587.6,246.1 589.6,246.9 591.6,247.5 593.6,248.2 595.6,248.8 597.6,249.5 599.6,250.0 601.6,250.5 603.6,251.0 605.6,251.5 607.6,251.8 609.6,252.0 611.6,252.2 613.6,252.4 615.6,252.5 617.6,252.6 619.6,252.7 621.6,252.9 623.6,253.0 625.6,253.1 627.6,253.1 629.6,253.2 631.6,253.3 633.6,253.4 635.6,253.4 637.6,253.5 639.6,253.6 641.6,253.7 643.6,253.8 645.6,253.9 647.6,254.0 649.6,254.1 651.6,254.3 653.6,254.5 655.6,254.7 657.6,254.9 659.6,255.1 661.6,255.3"/>
<path d="M275.6,196.8 277.6,195.9 279.6,195.0 281.6,194.2 283.6,193.3 285.6,192.4 287.6,191.5 289.6,190.6 291.6,189.9 293.6,189.3 295.6,188.7 297.6,188.1 299.6,187.6 301.6,187.1 303.6,186.3 305.6,184.9 307.6,183.3 309.6,181.7 311.6,180.1 313.6,178.8 315.6,177.6 317.6,176.5 319.6,175.4 321.6,174.0 323.6,172.6 325.6,171.2 327.6,169.8 329.6,168.3 331.6,166.9 333.6,165.4 335.6,164.1 337.6,162.9 339.6,161.4 341.6,159.5 343.6,157.4 345.6,155.1 347.6,153.1 349.6,151.0 351.6,147.8 353.6,143.9 355.6,138.9 357.6,133.6 359.6,130.4 361.6,130.0 363.6,132.6 365.6,135.7 367.6,138.7 369.6,140.6 371.6,141.4 373.6,140.8 375.6,140.1 377.6,140.5 379.6,141.6 381.6,142.7 383.6,143.1 385.6,143.3 387.6,143.9 389.6,145.3 391.6,146.9 393.6,148.3 395.6,149.2 397.6,149.7 399.6,149.2 401.6,148.6 403.6,147.7 405.6,145.7 407.6,143.5 409.6,141.0 411.6,139.7 413.6,138.8 415.6,136.6 417.6,134.0 419.6,131.5 421.6,128.5 423.6,124.6 425.6,118.9 427.6,112.9 429.6,105.8 431.6,98.7 433.6,93.1 435.6,91.0 437.6,90.6 439.6,90.5 441.6,90.7 443.6,92.7 445.6,94.8 447.6,96.9 449.6,100.1 451.6,104.0 453.6,109.5 455.6,114.9 457.6,119.9 459.6,123.9 461.6,127.2 463.6,129.1 465.6,130.7 467.6,132.1 469.6,133.0 471.6,133.3 473.6,134.2 475.6,136.3 477.6,138.8 479.6,142.2 481.6,145.6 483.6,149.1 485.6,152.2 487.6,155.7 489.6,160.4 491.6,164.9 493.6,168.8 495.6,172.5 497.6,176.2 499.6,179.9 501.6,183.7 503.6,187.6 505.6,191.1 507.6,194.2 509.6,197.0 511.6,199.0 513.6,200.6 515.6,202.1 517.6,203.6 519.6,205.3 521.6,207.2 523.6,209.2 525.6,211.3 527.6,213.4 529.6,215.5 531.6,217.5 533.6,219.3 535.6,221.0 537.6,222.6 539.6,224.2 541.6,225.6 543.6,226.8 545.6,227.8 547.6,228.9 549.6,229.9 551.6,231.0 553.6,232.2 555.6,233.3 557.6,234.4 559.6,235.2 561.6,236.0 563.6,236.7 565.6,237.4 567.6,238.4 569.6,239.5 571.6,240.6 573.6,241.8 575.6,242.4 577.6,242.9 579.6,243.4 581.6,243.9 583.6,244.6 585.6,245.4 587.6,246.1 589.6,246.9 591.6,247.5 593.6,248.2 595.6,248.8 597.6,249.5 599.6,250.0 601.6,250.5 603.6,251.0 605.6,251.5 607.6,251.8 609.6,252.0 611.6,252.2 613.6,252.4 615.6,252.5 617.6,252.6 619.6,252.7 621.6,252.9 623.6,253.0 625.6,253.1 627.6,253.1 629.6,253.2 631.6,253.3 633.6,253.4 635.6,253.4 637.6,253.5 639.6,253.6 641.6,253.7 643.6,253.8 645.6,253.9 647.6,254.0 649.6,254.1 651.6,254.3 653.6,254.5 655.6,254.7 657.6,254.9 659.6,255.1 661.6,255.3"/>
<path d="M275.6,206.2 277.6,205.6 279.6,205.2 281.6,204.8 283.6,204.2 285.6,203.4 287.6,202.7 289.6,202.0 291.6,201.5 293.6,201.1 295.6,200.7 297.6,200.2 299.6,199.7 301.6,199.2 303.6,198.7 305.6,198.1 307.6,197.4 309.6,196.7 311.6,195.9 313.6,195.2 315.6,194.5 317.6,193.7 319.6,192.7 321.6,191.4 323.6,190.1 325.6,189.0 327.6,187.9 329.6,186.8 331.6,185.4 333.6,183.6 335.6,182.2 337.6,181.2 339.6,180.4 341.6,179.6 343.6,179.0 345.6,178.4 347.6,177.3 349.6,175.4 351.6,172.1 353.6,168.1 355.6,163.2 357.6,158.3 359.6,154.5 361.6,151.8 363.6,150.5 365.6,149.9 367.6,150.1 369.6,150.8 371.6,151.8 373.6,151.8 375.6,151.7 377.6,152.2 379.6,153.1 381.6,154.1 383.6,155.0 385.6,155.6 387.6,156.0 389.6,156.2 391.6,156.5 393.6,157.1 395.6,157.9 397.6,158.6 399.6,158.6 401.6,158.5 403.6,158.2 405.6,157.5 407.6,157.2 409.6,156.9 411.6,157.1 413.6,157.4 415.6,157.1 417.6,156.3 419.6,155.8 421.6,155.5 423.6,155.1 425.6,153.9 427.6,148.6 429.6,141.4 431.6,136.1 433.6,132.1 435.6,131.1 437.6,131.1 439.6,131.0 441.6,130.6 443.6,131.0 445.6,131.7 447.6,133.0 449.6,135.5 451.6,139.2 453.6,143.1 455.6,146.5 457.6,148.6 459.6,149.9 461.6,151.2 463.6,152.5 465.6,153.7 467.6,154.7 469.6,157.4 471.6,160.6 473.6,163.9 475.6,167.1 477.6,170.4 479.6,173.6 481.6,176.9 483.6,180.1 485.6,183.0 487.6,185.4 489.6,187.4 491.6,189.5 493.6,191.3 495.6,193.3 497.6,195.5 499.6,197.7 501.6,200.4 503.6,203.2 505.6,205.8 507.6,207.6 509.6,209.2 511.6,210.8 513.6,211.7 515.6,212.3 517.6,213.1 519.6,214.2 521.6,215.4 523.6,216.6 525.6,217.9 527.6,219.3 529.6,220.7 531.6,222.2 533.6,223.6 535.6,225.0 537.6,226.4 539.6,227.8 541.6,229.2 543.6,230.1 545.6,230.9 547.6,231.6 549.6,232.4 551.6,233.0 553.6,233.6 555.6,234.2 557.6,234.8 559.6,235.5 561.6,236.2 563.6,236.9 565.6,237.6 567.6,238.5 569.6,239.6 571.6,240.7 573.6,241.8 575.6,242.4 577.6,242.9 579.6,243.4 581.6,243.9 583.6,244.6 585.6,245.4 587.6,246.1 589.6,246.9 591.6,247.5 593.6,248.2 595.6,248.8 597.6,249.5 599.6,250.0 601.6,250.5 603.6,251.0 605.6,251.5 607.6,251.8 609.6,252.0 611.6,252.2 613.6,252.4 615.6,252.5 617.6,252.6 619.6,252.7 621.6,252.9 623.6,253.0 625.6,253.1 627.6,253.1 629.6,253.2 631.6,253.3 633.6,253.4 635.6,253.4 637.6,253.5 639.6,253.6 641.6,253.7 643.6,253.8 645.6,253.9 647.6,254.0 649.6,254.1 651.6,254.3 653.6,254.5 655.6,254.7 657.6,254.9 659.6,255.1 661.6,255.3"/>
<path d="M275.6,196.5 277.6,195.9 279.6,195.1 281.6,194.3 283.6,193.6 285.6,193.0 287.6,192.6 289.6,192.4 291.6,192.3 293.6,192.1 295.6,191.7 297.6,191.1 299.6,190.6 301.6,190.1 303.6,189.6 305.6,188.7 307.6,187.6 309.6,186.2 311.6,184.9 313.6,183.7 315.6,182.6 317.6,181.6 319.6,180.5 321.6,179.1 323.6,177.7 325.6,176.3 327.6,174.7 329.6,173.2 331.6,171.7 333.6,170.2 335.6,169.3 337.6,168.6 339.6,167.8 341.6,166.7 343.6,165.9 345.6,165.7 347.6,165.0 349.6,162.9 351.6,160.2 353.6,156.5 355.6,151.2 357.6,145.7 359.6,141.3 361.6,139.2 363.6,139.3 365.6,139.8 367.6,140.8 369.6,141.7 371.6,142.3 373.6,141.7 375.6,141.1 377.6,141.2 379.6,141.7 381.6,142.0 383.6,141.7 385.6,141.2 387.6,140.8 389.6,140.8 391.6,141.0 393.6,141.2 395.6,141.5 397.6,141.8 399.6,141.5 401.6,140.0 403.6,138.1 405.6,135.7 407.6,133.5 409.6,131.3 411.6,129.6 413.6,127.2 415.6,123.1 417.6,118.8 419.6,115.3 421.6,112.2 423.6,108.6 425.6,102.2 427.6,95.2 429.6,88.2 431.6,81.9 433.6,77.3 435.6,75.3 437.6,74.5 439.6,73.6 441.6,73.2 443.6,74.7 445.6,77.1 447.6,80.2 449.6,84.3 451.6,88.8 453.6,93.8 455.6,99.2 457.6,104.8 459.6,109.6 461.6,114.3 463.6,117.2 465.6,119.7 467.6,121.8 469.6,123.2 471.6,124.5 473.6,126.4 475.6,129.7 477.6,132.8 479.6,136.3 481.6,139.6 483.6,142.7 485.6,145.5 487.6,148.2 489.6,152.4 491.6,156.9 493.6,161.5 495.6,166.1 497.6,171.0 499.6,175.5 501.6,179.7 503.6,183.8 505.6,187.3 507.6,190.7 509.6,194.0 511.6,196.4 513.6,198.4 515.6,200.4 517.6,202.2 519.6,204.2 521.6,206.3 523.6,208.5 525.6,210.6 527.6,212.6 529.6,214.5 531.6,216.3 533.6,218.0 535.6,219.7 537.6,221.4 539.6,223.1 541.6,224.4 543.6,225.4 545.6,226.3 547.6,227.3 549.6,228.4 551.6,229.6 553.6,230.8 555.6,232.0 557.6,233.2 559.6,234.2 561.6,235.2 563.6,236.1 565.6,237.1 567.6,238.2 569.6,239.3 571.6,240.5 573.6,241.8 575.6,242.4 577.6,242.9 579.6,243.4 581.6,243.9 583.6,244.6 585.6,245.4 587.6,246.1 589.6,246.9 591.6,247.5 593.6,248.2 595.6,248.8 597.6,249.5 599.6,250.0 601.6,250.5 603.6,251.0 605.6,251.5 607.6,251.8 609.6,252.0 611.6,252.2 613.6,252.4 615.6,252.5 617.6,252.6 619.6,252.7 621.6,252.9 623.6,253.0 625.6,253.1 627.6,253.1 629.6,253.2 631.6,253.3 633.6,253.4 635.6,253.4 637.6,253.5 639.6,253.6 641.6,253.7 643.6,253.8 645.6,253.9 647.6,254.0 649.6,254.1 651.6,254.3 653.6,254.5 655.6,254.7 657.6,254.9 659.6,255.1 661.6,255.3"/>
<path d="M275.6,203.1 277.6,202.6 279.6,202.2 281.6,201.7 283.6,201.0 285.6,200.2 287.6,199.4 289.6,198.5 291.6,197.9 293.6,197.6 295.6,197.4 297.6,197.2 299.6,197.0 301.6,196.9 303.6,196.7 305.6,196.4 307.6,196.2 309.6,196.1 311.6,195.6 313.6,194.6 315.6,193.4 317.6,192.2 319.6,191.1 321.6,189.9 323.6,188.9 325.6,187.8 327.6,186.4 329.6,184.7 331.6,182.9 333.6,181.1 335.6,179.8 337.6,178.7 339.6,177.3 341.6,175.5 343.6,174.3 345.6,173.9 347.6,173.4 349.6,172.1 351.6,169.7 353.6,166.6 355.6,162.1 357.6,157.1 359.6,152.9 361.6,149.9 363.6,148.8 365.6,148.6 367.6,149.1 369.6,149.7 371.6,150.5 373.6,150.5 375.6,150.9 377.6,152.1 379.6,153.6 381.6,155.0 383.6,156.0 385.6,156.9 387.6,157.7 389.6,158.5 391.6,159.2 393.6,159.9 395.6,160.7 397.6,161.4 399.6,161.8 401.6,161.9 403.6,161.8 405.6,161.2 407.6,160.8 409.6,160.5 411.6,160.8 413.6,161.3 415.6,161.6 417.6,161.0 419.6,160.2 421.6,159.5 423.6,159.0 425.6,158.5 427.6,153.7 429.6,146.9 431.6,141.7 433.6,136.5 435.6,133.2 437.6,130.3 439.6,127.7 441.6,125.8 443.6,125.4 445.6,125.4 447.6,125.6 449.6,126.5 451.6,128.4 453.6,131.2 455.6,134.1 457.6,136.9 459.6,139.4 461.6,141.7 463.6,143.4 465.6,145.0 467.6,146.6 469.6,149.1 471.6,151.8 473.6,154.9 475.6,158.5 477.6,162.4 479.6,166.7 481.6,170.8 483.6,174.8 485.6,178.3 487.6,181.7 489.6,185.2 491.6,188.6 493.6,191.2 495.6,193.7 497.6,195.9 499.6,198.1 501.6,200.7 503.6,203.3 505.6,206.0 507.6,207.9 509.6,209.5 511.6,211.1 513.6,212.0 515.6,212.8 517.6,213.6 519.6,214.7 521.6,215.9 523.6,217.0 525.6,218.2 527.6,219.4 529.6,220.6 531.6,222.0 533.6,223.4 535.6,224.9 537.6,226.3 539.6,227.7 541.6,229.1 543.6,230.0 545.6,230.7 547.6,231.4 549.6,232.2 551.6,232.8 553.6,233.5 555.6,234.1 557.6,234.8 559.6,235.5 561.6,236.2 563.6,236.9 565.6,237.6 567.6,238.5 569.6,239.6 571.6,240.7 573.6,241.8 575.6,242.4 577.6,242.9 579.6,243.4 581.6,243.9 583.6,244.6 585.6,245.4 587.6,246.1 589.6,246.9 591.6,247.5 593.6,248.2 595.6,248.8 597.6,249.5 599.6,250.0 601.6,250.5 603.6,251.0 605.6,251.5 607.6,251.8 609.6,252.0 611.6,252.2 613.6,252.4 615.6,252.5 617.6,252.6 619.6,252.7 621.6,252.9 623.6,253.0 625.6,253.1 627.6,253.1 629.6,253.2 631.6,253.3 633.6,253.4 635.6,253.4 637.6,253.5 639.6,253.6 641.6,253.7 643.6,253.8 645.6,253.9 647.6,254.0 649.6,254.1 651.6,254.3 653.6,254.5 655.6,254.7 657.6,254.9 659.6,255.1 661.6,255.3"/>
<path d="M275.6,209.5 277.6,209.1 279.6,208.7 281.6,208.4 283.6,208.2 285.6,208.0 287.6,207.7 289.6,207.5 291.6,207.0 293.6,206.5 295.6,206.0 297.6,205.4 299.6,204.9 301.6,204.4 303.6,203.9 305.6,203.4 307.6,202.9 309.6,202.4 311.6,201.6 313.6,200.8 315.6,199.9 317.6,199.1 319.6,198.2 321.6,197.4 323.6,196.6 325.6,195.7 327.6,194.5 329.6,193.3 331.6,192.0 333.6,190.8 335.6,190.0 337.6,189.4 339.6,188.8 341.6,188.2 343.6,187.7 345.6,187.2 347.6,186.8 349.6,186.3 351.6,183.6 353.6,180.3 355.6,176.3 357.6,172.2 359.6,169.5 361.6,167.1 363.6,165.3 365.6,164.1 367.6,163.0 369.6,162.0 371.6,162.2 373.6,162.8 375.6,163.3 377.6,163.8 379.6,164.4 381.6,164.9 383.6,165.4 385.6,165.9 387.6,166.4 389.6,166.5 391.6,166.5 393.6,166.5 395.6,166.5 397.6,166.3 399.6,166.1 401.6,165.9 403.6,165.7 405.6,165.5 407.6,165.7 409.6,165.9 411.6,166.1 413.6,166.3 415.6,166.5 417.6,166.0 419.6,165.4 421.6,164.8 423.6,164.2 425.6,163.7 427.6,158.6 429.6,152.3 431.6,148.8 433.6,146.0 435.6,145.2 437.6,144.9 439.6,144.6 441.6,144.2 443.6,143.9 445.6,143.7 447.6,143.5 449.6,143.7 451.6,144.9 453.6,146.1 455.6,147.3 457.6,148.6 459.6,149.9 461.6,151.2 463.6,152.5 465.6,153.7 467.6,154.7 469.6,157.4 471.6,160.6 473.6,163.9 475.6,167.1 477.6,170.4 479.6,173.6 481.6,176.9 483.6,180.1 485.6,183.0 487.6,185.7 489.6,188.5 491.6,191.0 493.6,193.1 495.6,195.1 497.6,197.1 499.6,199.1 501.6,201.6 503.6,204.3 505.6,207.0 507.6,208.8 509.6,210.5 511.6,212.0 513.6,212.8 515.6,213.5 517.6,214.0 519.6,214.8 521.6,215.5 523.6,216.4 525.6,217.5 527.6,218.8 529.6,220.1 531.6,221.6 533.6,223.0 535.6,224.4 537.6,225.8 539.6,227.2 541.6,228.5 543.6,229.4 545.6,230.2 547.6,230.9 549.6,231.7 551.6,232.5 553.6,233.3 555.6,234.0 557.6,234.8 559.6,235.5 561.6,236.2 563.6,236.8 565.6,237.5 567.6,238.5 569.6,239.6 571.6,240.7 573.6,241.8 575.6,242.4 577.6,242.9 579.6,243.4 581.6,243.9 583.6,244.6 585.6,245.4 587.6,246.1 589.6,246.9 591.6,247.5 593.6,248.2 595.6,248.8 597.6,249.5 599.6,250.0 601.6,250.5 603.6,251.0 605.6,251.5 607.6,251.8 609.6,252.0 611.6,252.2 613.6,252.4 615.6,252.5 617.6,252.6 619.6,252.7 621.6,252.9 623.6,253.0 625.6,253.1 627.6,253.1 629.6,253.2 631.6,253.3 633.6,253.4 635.6,253.4 637.6,253.5 639.6,253.6 641.6,253.7 643.6,253.8 645.6,253.9 647.6,254.0 649.6,254.1 651.6,254.3 653.6,254.5 655.6,254.7 657.6,254.9 659.6,255.1 661.6,255.3"/>
<path d="M275.6,197.7 277.6,197.3 279.6,196.8 281.6,196.4 283.6,195.7 285.6,194.9 287.6,193.9 289.6,192.9 291.6,192.1 293.6,191.4 295.6,190.7 297.6,190.0 299.6,189.2 301.6,188.3 303.6,187.2 305.6,185.7 307.6,184.1 309.6,182.5 311.6,181.0 313.6,179.6 315.6,178.5 317.6,177.4 319.6,176.2 321.6,174.7 323.6,173.1 325.6,171.7 327.6,170.3 329.6,168.9 331.6,167.5 333.6,166.0 335.6,164.8 337.6,163.9 339.6,162.8 341.6,161.5 343.6,160.2 345.6,158.9 347.6,157.3 349.6,155.0 351.6,151.6 353.6,147.5 355.6,142.3 357.6,136.8 359.6,132.9 361.6,131.2 363.6,132.1 365.6,133.7 367.6,135.7 369.6,136.8 371.6,137.3 373.6,136.9 375.6,136.5 377.6,137.0 379.6,137.9 381.6,138.4 383.6,138.1 385.6,137.3 387.6,136.6 389.6,136.5 391.6,136.9 393.6,137.8 395.6,138.6 397.6,139.4 399.6,139.3 401.6,137.4 403.6,134.9 405.6,132.2 407.6,130.2 409.6,128.6 411.6,128.2 413.6,127.7 415.6,126.2 417.6,124.3 419.6,122.7 421.6,121.5 423.6,119.6 425.6,115.6 427.6,110.8 429.6,104.4 431.6,97.6 433.6,92.3 435.6,90.3 437.6,89.7 439.6,88.9 441.6,87.7 443.6,87.7 445.6,88.0 447.6,89.1 449.6,91.7 451.6,95.4 453.6,100.1 455.6,105.3 457.6,110.8 459.6,115.4 461.6,119.6 463.6,121.6 465.6,123.0 467.6,124.1 469.6,124.4 471.6,124.8 473.6,125.8 475.6,128.4 477.6,131.3 479.6,134.9 481.6,138.4 483.6,141.6 485.6,144.4 487.6,147.4 489.6,152.0 491.6,157.1 493.6,161.8 495.6,166.1 497.6,170.3 499.6,173.8 501.6,177.2 503.6,181.2 505.6,184.7 507.6,188.0 509.6,191.3 511.6,193.6 513.6,195.6 515.6,197.6 517.6,199.5 519.6,201.3 521.6,203.1 523.6,205.3 525.6,207.6 527.6,209.8 529.6,212.1 531.6,213.9 533.6,215.7 535.6,217.5 537.6,219.3 539.6,221.1 541.6,222.5 543.6,223.7 545.6,224.9 547.6,226.1 549.6,227.3 551.6,228.5 553.6,229.8 555.6,231.1 557.6,232.5 559.6,233.7 561.6,234.9 563.6,236.0 565.6,237.0 567.6,238.1 569.6,239.3 571.6,240.5 573.6,241.7 575.6,242.4 577.6,242.9 579.6,243.4 581.6,243.9 583.6,244.6 585.6,245.4 587.6,246.1 589.6,246.9 591.6,247.5 593.6,248.2 595.6,248.8 597.6,249.5 599.6,250.0 601.6,250.5 603.6,251.0 605.6,251.5 607.6,251.8 609.6,252.0 611.6,252.2 613.6,252.4 615.6,252.5 617.6,252.6 619.6,252.7 621.6,252.9 623.6,253.0 625.6,253.1 627.6,253.1 629.6,253.2 631.6,253.3 633.6,253.4 635.6,253.4 637.6,253.5 639.6,253.6 641.6,253.7 643.6,253.8 645.6,253.9 647.6,254.0 649.6,254.1 651.6,254.3 653.6,254.5 655.6,254.7 657.6,254.9 659.6,255.1 661.6,255.3"/>
<path d="M275.6,209.4 277.6,209.1 279.6,208.7 281.6,208.4 283.6,207.9 285.6,207.3 287.6,206.7 289.6,205.9 291.6,205.0 293.6,204.0 295.6,203.2 297.6,202.4 299.6,201.8 301.6,201.2 303.6,200.5 305.6,199.5 307.6,198.6 309.6,197.7 311.6,196.6 313.6,195.4 315.6,194.3 317.6,193.3 319.6,192.5 321.6,191.5 323.6,190.5 325.6,189.4 327.6,188.0 329.6,186.7 331.6,185.6 333.6,184.7 335.6,184.4 337.6,184.2 339.6,183.7 341.6,182.9 343.6,182.2 345.6,181.9 347.6,181.6 349.6,181.2 351.6,178.9 353.6,175.8 355.6,171.8 357.6,167.6 359.6,164.7 361.6,162.4 363.6,161.1 365.6,160.6 367.6,160.5 369.6,160.2 371.6,160.7 373.6,161.3 375.6,161.9 377.6,162.3 379.6,162.5 381.6,162.4 383.6,162.1 385.6,161.8 387.6,161.9 389.6,162.2 391.6,162.6 393.6,162.9 395.6,162.9 397.6,162.5 399.6,161.5 401.6,160.2 403.6,158.6 405.6,156.4 407.6,154.5 409.6,153.0 411.6,153.0 413.6,153.6 415.6,153.6 417.6,153.0 419.6,152.5 421.6,151.6 423.6,150.0 425.6,147.3 427.6,141.7 429.6,134.8 431.6,129.3 433.6,125.1 435.6,123.5 437.6,122.9 439.6,122.5 441.6,122.4 443.6,123.5 445.6,124.7 447.6,125.3 449.6,125.9 451.6,127.1 453.6,129.5 455.6,132.7 457.6,136.2 459.6,139.5 461.6,142.2 463.6,144.2 465.6,145.9 467.6,147.5 469.6,149.8 471.6,152.2 473.6,154.9 475.6,158.3 477.6,162.1 479.6,166.2 481.6,170.0 483.6,173.6 485.6,176.8 487.6,180.3 489.6,184.3 491.6,187.8 493.6,190.4 495.6,192.5 497.6,194.5 499.6,196.5 501.6,198.8 503.6,201.3 505.6,203.8 507.6,205.8 509.6,207.5 511.6,209.1 513.6,209.9 515.6,210.5 517.6,211.2 519.6,212.4 521.6,213.8 523.6,215.2 525.6,216.6 527.6,217.9 529.6,219.3 531.6,220.7 533.6,222.2 535.6,223.6 537.6,225.0 539.6,226.4 541.6,227.9 543.6,228.9 545.6,229.7 547.6,230.6 549.6,231.5 551.6,232.3 553.6,233.2 555.6,234.0 557.6,234.8 559.6,235.5 561.6,236.2 563.6,236.9 565.6,237.6 567.6,238.5 569.6,239.6 571.6,240.7 573.6,241.8 575.6,242.4 577.6,242.9 579.6,243.4 581.6,243.9 583.6,244.6 585.6,245.4 587.6,246.1 589.6,246.9 591.6,247.5 593.6,248.2 595.6,248.8 597.6,249.5 599.6,250.0 601.6,250.5 603.6,251.0 605.6,251.5 607.6,251.8 609.6,252.0 611.6,252.2 613.6,252.4 615.6,252.5 617.6,252.6 619.6,252.7 621.6,252.9 623.6,253.0 625.6,253.1 627.6,253.1 629.6,253.2 631.6,253.3 633.6,253.4 635.6,253.4 637.6,253.5 639.6,253.6 641.6,253.7 643.6,253.8 645.6,253.9 647.6,254.0 649.6,254.1 651.6,254.3 653.6,254.5 655.6,254.7 657.6,254.9 659.6,255.1 661.6,255.3"/>
<path d="M275.6,206.1 277.6,205.6 279.6,205.1 281.6,204.7 283.6,204.2 285.6,203.8 287.6,203.4 289.6,203.1 291.6,202.8 293.6,202.3 295.6,201.8 297.6,201.2 299.6,200.5 301.6,200.0 303.6,199.4 305.6,198.6 307.6,197.6 309.6,196.7 311.6,195.8 313.6,194.9 315.6,194.1 317.6,193.3 319.6,192.5 321.6,191.5 323.6,190.6 325.6,189.6 327.6,188.3 329.6,187.1 331.6,185.9 333.6,184.6 335.6,183.9 337.6,183.2 339.6,182.2 341.6,180.9 343.6,179.7 345.6,178.8 347.6,177.6 349.6,175.7 351.6,172.3 353.6,168.4 355.6,163.6 357.6,159.0 359.6,156.2 361.6,155.0 363.6,155.1 365.6,155.5 367.6,155.8 369.6,155.9 371.6,156.6 373.6,157.2 375.6,157.8 377.6,158.6 379.6,159.4 381.6,159.9 383.6,160.2 385.6,160.3 387.6,160.5 389.6,160.7 391.6,161.0 393.6,161.3 395.6,161.7 397.6,161.9 399.6,161.9 401.6,161.9 403.6,161.6 405.6,161.0 407.6,160.5 409.6,160.2 411.6,160.4 413.6,161.0 415.6,161.3 417.6,161.2 419.6,161.1 421.6,160.8 423.6,160.1 425.6,158.8 427.6,153.5 429.6,147.2 431.6,143.7 433.6,141.6 435.6,141.7 437.6,142.1 439.6,142.0 441.6,141.3 443.6,140.4 445.6,139.5 447.6,138.7 449.6,138.4 451.6,139.3 453.6,140.5 455.6,141.8 457.6,142.9 459.6,143.8 461.6,144.9 463.6,145.9 465.6,147.1 467.6,148.2 469.6,150.2 471.6,152.1 473.6,154.1 475.6,156.5 477.6,159.2 479.6,162.4 481.6,165.5 483.6,168.4 485.6,170.6 487.6,173.0 489.6,176.5 491.6,180.1 493.6,183.2 495.6,186.2 497.6,188.9 499.6,191.5 501.6,194.1 503.6,196.8 505.6,199.5 507.6,201.9 509.6,203.6 511.6,205.3 513.6,206.3 515.6,207.2 517.6,208.3 519.6,210.0 521.6,211.8 523.6,213.6 525.6,215.2 527.6,216.9 529.6,218.5 531.6,220.2 533.6,221.8 535.6,223.4 537.6,224.8 539.6,226.3 541.6,227.7 543.6,228.7 545.6,229.5 547.6,230.3 549.6,231.1 551.6,232.0 553.6,233.0 555.6,233.9 557.6,234.8 559.6,235.5 561.6,236.2 563.6,236.8 565.6,237.5 567.6,238.5 569.6,239.6 571.6,240.7 573.6,241.8 575.6,242.4 577.6,242.9 579.6,243.4 581.6,243.9 583.6,244.6 585.6,245.4 587.6,246.1 589.6,246.9 591.6,247.5 593.6,248.2 595.6,248.8 597.6,249.5 599.6,250.0 601.6,250.5 603.6,251.0 605.6,251.5 607.6,251.8 609.6,252.0 611.6,252.2 613.6,252.4 615.6,252.5 617.6,252.6 619.6,252.7 621.6,252.9 623.6,253.0 625.6,253.1 627.6,253.1 629.6,253.2 631.6,253.3 633.6,253.4 635.6,253.4 637.6,253.5 639.6,253.6 641.6,253.7 643.6,253.8 645.6,253.9 647.6,254.0 649.6,254.1 651.6,254.3 653.6,254.5 655.6,254.7 657.6,254.9 659.6,255.1 661.6,255.3"/>
<path d="M275.6,204.4 277.6,204.0 279.6,203.6 281.6,203.2 283.6,202.5 285.6,201.7 287.6,200.8 289.6,199.8 291.6,198.9 293.6,198.3 295.6,197.8 297.6,197.3 299.6,196.9 301.6,196.3 303.6,195.7 305.6,194.8 307.6,194.1 309.6,193.4 311.6,192.7 313.6,191.7 315.6,190.6 317.6,189.4 319.6,188.2 321.6,186.8 323.6,185.4 325.6,183.8 327.6,181.9 329.6,179.9 331.6,177.9 333.6,175.9 335.6,174.8 337.6,174.1 339.6,173.2 341.6,171.8 343.6,170.8 345.6,170.3 347.6,169.2 349.6,166.9 351.6,163.9 353.6,160.3 355.6,155.4 357.6,150.7 359.6,147.2 361.6,145.5 363.6,145.3 365.6,145.2 367.6,145.6 369.6,146.2 371.6,146.8 373.6,146.3 375.6,145.8 377.6,146.3 379.6,147.0 381.6,147.7 383.6,147.8 385.6,147.7 387.6,147.7 389.6,148.2 391.6,148.9 393.6,149.9 395.6,151.0 397.6,152.2 399.6,152.6 401.6,152.8 403.6,152.6 405.6,151.5 407.6,150.2 409.6,148.8 411.6,148.6 413.6,148.8 415.6,148.1 417.6,146.9 419.6,146.0 421.6,144.9 423.6,143.0 425.6,139.8 427.6,134.3 429.6,126.8 431.6,119.4 433.6,113.3 435.6,110.5 437.6,108.8 439.6,107.3 441.6,106.0 443.6,106.9 445.6,108.2 447.6,109.8 449.6,112.2 451.6,115.3 453.6,119.9 455.6,124.3 457.6,128.2 459.6,131.1 461.6,133.6 463.6,135.1 465.6,136.7 467.6,138.5 469.6,140.2 471.6,141.5 473.6,143.5 475.6,146.8 477.6,150.6 479.6,155.0 481.6,159.1 483.6,162.9 485.6,166.3 487.6,170.2 489.6,175.1 491.6,179.6 493.6,183.2 495.6,186.4 497.6,189.2 499.6,192.1 501.6,194.9 503.6,197.7 505.6,200.2 507.6,202.3 509.6,203.7 511.6,205.2 513.6,206.2 515.6,207.1 517.6,208.1 519.6,209.6 521.6,211.3 523.6,212.9 525.6,214.5 527.6,216.2 529.6,217.9 531.6,219.6 533.6,221.3 535.6,222.9 537.6,224.4 539.6,225.8 541.6,227.3 543.6,228.2 545.6,229.0 547.6,229.8 549.6,230.7 551.6,231.7 553.6,232.7 555.6,233.8 557.6,234.8 559.6,235.5 561.6,236.2 563.6,236.8 565.6,237.5 567.6,238.5 569.6,239.6 571.6,240.7 573.6,241.8 575.6,242.4 577.6,242.9 579.6,243.4 581.6,243.9 583.6,244.6 585.6,245.4 587.6,246.1 589.6,246.9 591.6,247.5 593.6,248.2 595.6,248.8 597.6,249.5 599.6,250.0 601.6,250.5 603.6,251.0 605.6,251.5 607.6,251.8 609.6,252.0 611.6,252.2 613.6,252.4 615.6,252.5 617.6,252.6 619.6,252.7 621.6,252.9 623.6,253.0 625.6,253.1 627.6,253.1 629.6,253.2 631.6,253.3 633.6,253.4 635.6,253.4 637.6,253.5 639.6,253.6 641.6,253.7 643.6,253.8 645.6,253.9 647.6,254.0 649.6,254.1 651.6,254.3 653.6,254.5 655.6,254.7 657.6,254.9 659.6,255.1 661.6,255.3"/>
<path d="M275.6,208.4 277.6,208.1 279.6,207.6 281.6,207.2 283.6,206.7 285.6,206.0 287.6,205.4 289.6,204.8 291.6,204.2 293.6,203.7 295.6,203.1 297.6,202.3 299.6,201.4 301.6,200.5 303.6,199.5 305.6,198.6 307.6,197.6 309.6,196.5 311.6,195.3 313.6,194.0 315.6,192.8 317.6,191.7 319.6,190.5 321.6,189.2 323.6,187.9 325.6,186.8 327.6,185.6 329.6,184.6 331.6,183.9 333.6,183.3 335.6,183.4 337.6,183.5 339.6,183.3 341.6,182.9 343.6,182.7 345.6,182.7 347.6,182.3 349.6,181.2 351.6,177.9 353.6,173.8 355.6,169.1 357.6,164.6 359.6,161.8 361.6,159.9 363.6,158.7 365.6,157.9 367.6,157.1 369.6,156.5 371.6,156.6 373.6,156.4 375.6,155.8 377.6,155.2 379.6,154.8 381.6,154.3 383.6,153.7 385.6,153.3 387.6,153.2 389.6,153.5 391.6,153.9 393.6,154.4 395.6,154.8 397.6,155.1 399.6,154.7 401.6,154.3 403.6,153.6 405.6,152.3 407.6,151.2 409.6,150.1 411.6,150.1 413.6,150.5 415.6,150.1 417.6,149.7 419.6,149.8 421.6,149.9 423.6,149.3 425.6,147.3 427.6,142.0 429.6,134.9 431.6,129.2 433.6,125.1 435.6,124.1 437.6,124.1 439.6,124.1 441.6,123.9 443.6,124.4 445.6,124.8 447.6,125.1 449.6,126.2 451.6,128.4 453.6,131.6 455.6,134.7 457.6,137.3 459.6,139.2 461.6,140.4 463.6,140.9 465.6,141.5 467.6,142.3 469.6,143.8 471.6,145.3 473.6,147.2 475.6,150.0 477.6,153.1 479.6,156.9 481.6,160.7 483.6,164.4 485.6,167.4 487.6,170.8 489.6,175.0 491.6,179.0 493.6,182.2 495.6,185.4 497.6,188.2 499.6,191.0 501.6,193.7 503.6,196.5 505.6,199.2 507.6,201.5 509.6,203.1 511.6,204.7 513.6,205.7 515.6,206.5 517.6,207.5 519.6,209.0 521.6,210.6 523.6,212.2 525.6,213.8 527.6,215.6 529.6,217.4 531.6,219.1 533.6,220.9 535.6,222.6 537.6,224.2 539.6,225.8 541.6,227.5 543.6,228.6 545.6,229.5 547.6,230.5 549.6,231.4 551.6,232.3 553.6,233.2 555.6,234.0 557.6,234.8 559.6,235.5 561.6,236.2 563.6,236.9 565.6,237.6 567.6,238.5 569.6,239.6 571.6,240.7 573.6,241.8 575.6,242.4 577.6,242.9 579.6,243.4 581.6,243.9 583.6,244.6 585.6,245.4 587.6,246.1 589.6,246.9 591.6,247.5 593.6,248.2 595.6,248.8 597.6,249.5 599.6,250.0 601.6,250.5 603.6,251.0 605.6,251.5 607.6,251.8 609.6,252.0 611.6,252.2 613.6,252.4 615.6,252.5 617.6,252.6 619.6,252.7 621.6,252.9 623.6,253.0 625.6,253.1 627.6,253.1 629.6,253.2 631.6,253.3 633.6,253.4 635.6,253.4 637.6,253.5 639.6,253.6 641.6,253.7 643.6,253.8 645.6,253.9 647.6,254.0 649.6,254.1 651.6,254.3 653.6,254.5 655.6,254.7 657.6,254.9 659.6,255.1 661.6,255.3"/>
<path d="M275.6,205.0 277.6,204.2 279.6,203.4 281.6,202.7 283.6,201.9 285.6,201.2 287.6,200.4 289.6,199.7 291.6,199.1 293.6,198.6 295.6,198.1 297.6,197.6 299.6,197.1 301.6,196.7 303.6,196.3 305.6,195.6 307.6,194.8 309.6,193.9 311.6,192.8 313.6,191.7 315.6,190.6 317.6,189.6 319.6,188.5 321.6,187.3 323.6,186.0 325.6,184.5 327.6,182.7 329.6,180.8 331.6,178.9 333.6,176.9 335.6,175.6 337.6,174.5 339.6,173.1 341.6,171.2 343.6,169.8 345.6,169.0 347.6,167.6 349.6,164.8 351.6,161.4 353.6,157.4 355.6,152.1 357.6,147.0 359.6,143.1 361.6,141.6 363.6,142.4 365.6,143.7 367.6,145.3 369.6,146.8 371.6,147.7 373.6,147.2 375.6,146.7 377.6,147.0 379.6,147.6 381.6,148.3 383.6,148.7 385.6,149.2 387.6,149.7 389.6,150.5 391.6,151.0 393.6,151.5 395.6,152.1 397.6,152.8 399.6,152.9 401.6,152.9 403.6,152.8 405.6,152.2 407.6,152.0 409.6,152.0 411.6,152.7 413.6,153.3 415.6,153.2 417.6,152.9 419.6,152.8 421.6,152.5 423.6,151.2 425.6,148.5 427.6,142.7 429.6,135.4 431.6,128.9 433.6,123.0 435.6,119.0 437.6,115.5 439.6,111.9 441.6,108.5 443.6,107.0 445.6,106.0 447.6,105.6 449.6,107.1 451.6,110.2 453.6,115.4 455.6,120.3 457.6,124.7 459.6,128.0 461.6,130.9 463.6,132.8 465.6,135.1 467.6,137.8 469.6,140.6 471.6,143.0 473.6,146.0 475.6,149.9 477.6,154.2 479.6,159.3 481.6,164.0 483.6,168.0 485.6,170.9 487.6,173.7 489.6,177.2 491.6,180.6 493.6,183.6 495.6,186.5 497.6,189.2 499.6,191.8 501.6,194.3 503.6,196.7 505.6,199.0 507.6,201.1 509.6,202.8 511.6,204.4 513.6,205.5 515.6,206.5 517.6,207.7 519.6,209.5 521.6,211.4 523.6,213.1 525.6,214.8 527.6,216.5 529.6,218.2 531.6,220.0 533.6,221.7 535.6,223.4 537.6,224.9 539.6,226.4 541.6,227.9 543.6,228.8 545.6,229.6 547.6,230.4 549.6,231.2 551.6,232.0 553.6,232.9 555.6,233.9 557.6,234.8 559.6,235.5 561.6,236.2 563.6,236.8 565.6,237.5 567.6,238.5 569.6,239.6 571.6,240.7 573.6,241.8 575.6,242.4 577.6,242.9 579.6,243.4 581.6,243.9 583.6,244.6 585.6,245.4 587.6,246.1 589.6,246.9 591.6,247.5 593.6,248.2 595.6,248.8 597.6,249.5 599.6,250.0 601.6,250.5 603.6,251.0 605.6,251.5 607.6,251.8 609.6,252.0 611.6,252.2 613.6,252.4 615.6,252.5 617.6,252.6 619.6,252.7 621.6,252.9 623.6,253.0 625.6,253.1 627.6,253.1 629.6,253.2 631.6,253.3 633.6,253.4 635.6,253.4 637.6,253.5 639.6,253.6 641.6,253.7 643.6,253.8 645.6,253.9 647.6,254.0 649.6,254.1 651.6,254.3 653.6,254.5 655.6,254.7 657.6,254.9 659.6,255.1 661.6,255.3"/>
<path d="M275.6,203.1 277.6,202.4 279.6,201.8 281.6,201.2 283.6,200.4 285.6,199.6 287.6,198.7 289.6,197.8 291.6,197.4 293.6,197.1 295.6,196.9 297.6,196.6 299.6,196.1 301.6,195.5 303.6,194.7 305.6,193.6 307.6,192.6 309.6,191.5 311.6,190.4 313.6,189.0 315.6,187.5 317.6,186.1 319.6,184.8 321.6,183.5 323.6,182.4 325.6,181.5 327.6,180.6 329.6,179.8 331.6,178.8 333.6,177.6 335.6,176.9 337.6,176.2 339.6,175.2 341.6,173.8 343.6,172.5 345.6,171.5 347.6,170.0 349.6,167.7 351.6,165.2 353.6,162.4 355.6,158.2 357.6,153.6 359.6,149.5 361.6,146.8 363.6,145.7 365.6,145.2 367.6,145.2 369.6,145.6 371.6,145.7 373.6,144.8 375.6,143.9 377.6,144.0 379.6,144.3 381.6,144.5 383.6,144.2 385.6,143.9 387.6,143.8 389.6,144.2 391.6,144.6 393.6,145.0 395.6,145.6 397.6,146.5 399.6,146.6 401.6,146.3 403.6,145.4 405.6,143.3 407.6,140.9 409.6,138.3 411.6,137.2 413.6,136.5 415.6,134.7 417.6,132.7 419.6,131.4 421.6,130.3 423.6,128.3 425.6,124.1 427.6,119.0 429.6,112.0 431.6,104.6 433.6,99.0 435.6,97.1 437.6,97.0 439.6,97.3 441.6,97.5 443.6,99.9 445.6,101.9 447.6,103.1 449.6,104.8 451.6,107.6 453.6,112.8 455.6,117.9 457.6,122.5 459.6,126.2 461.6,129.5 463.6,131.6 465.6,133.7 467.6,135.7 469.6,137.2 471.6,138.0 473.6,139.1 475.6,141.3 477.6,143.9 479.6,147.6 481.6,151.5 483.6,155.6 485.6,159.3 487.6,163.4 489.6,168.6 491.6,173.5 493.6,177.8 495.6,182.1 497.6,186.2 499.6,190.1 501.6,193.4 503.6,196.5 505.6,199.4 507.6,201.9 509.6,203.6 511.6,205.2 513.6,205.9 515.6,206.4 517.6,207.0 519.6,208.1 521.6,209.5 523.6,211.1 525.6,212.7 527.6,214.4 529.6,216.2 531.6,217.9 533.6,219.6 535.6,221.4 537.6,223.2 539.6,224.8 541.6,226.3 543.6,227.3 545.6,228.1 547.6,228.9 549.6,229.8 551.6,230.8 553.6,231.9 555.6,232.9 557.6,234.0 559.6,234.9 561.6,235.7 563.6,236.5 565.6,237.3 567.6,238.3 569.6,239.4 571.6,240.6 573.6,241.8 575.6,242.4 577.6,242.9 579.6,243.4 581.6,243.9 583.6,244.6 585.6,245.4 587.6,246.1 589.6,246.9 591.6,247.5 593.6,248.2 595.6,248.8 597.6,249.5 599.6,250.0 601.6,250.5 603.6,251.0 605.6,251.5 607.6,251.8 609.6,252.0 611.6,252.2 613.6,252.4 615.6,252.5 617.6,252.6 619.6,252.7 621.6,252.9 623.6,253.0 625.6,253.1 627.6,253.1 629.6,253.2 631.6,253.3 633.6,253.4 635.6,253.4 637.6,253.5 639.6,253.6 641.6,253.7 643.6,253.8 645.6,253.9 647.6,254.0 649.6,254.1 651.6,254.3 653.6,254.5 655.6,254.7 657.6,254.9 659.6,255.1 661.6,255.3"/>
<path d="M275.6,199.6 277.6,198.5 279.6,197.4 281.6,196.4 283.6,195.3 285.6,194.4 287.6,193.5 289.6,192.8 291.6,192.4 293.6,192.2 295.6,192.0 297.6,191.6 299.6,191.1 301.6,190.4 303.6,189.5 305.6,188.1 307.6,186.7 309.6,185.2 311.6,183.8 313.6,182.2 315.6,180.6 317.6,179.0 319.6,177.2 321.6,175.2 323.6,173.3 325.6,171.3 327.6,169.1 329.6,166.9 331.6,164.8 333.6,162.9 335.6,161.2 337.6,159.5 339.6,158.0 341.6,156.5 343.6,155.0 345.6,153.0 347.6,150.7 349.6,147.9 351.6,143.1 353.6,137.3 355.6,130.7 357.6,123.6 359.6,119.3 361.6,117.5 363.6,119.3 365.6,121.9 367.6,124.9 369.6,124.7 371.6,123.8 373.6,122.7 375.6,121.4 377.6,120.2 379.6,119.9 381.6,120.5 383.6,120.9 385.6,120.6 387.6,120.3 389.6,120.1 391.6,120.6 393.6,121.4 395.6,122.2 397.6,123.0 399.6,124.3 401.6,122.3 403.6,119.0 405.6,115.3 407.6,111.6 409.6,108.2 411.6,105.0 413.6,101.7 415.6,98.6 417.6,95.5 419.6,92.6 421.6,91.0 423.6,90.3 425.6,87.4 427.6,84.1 429.6,80.4 431.6,76.2 433.6,72.7 435.6,71.8 437.6,72.7 439.6,74.1 441.6,76.1 443.6,80.0 445.6,84.2 447.6,88.4 449.6,92.9 451.6,97.8 453.6,103.6 455.6,109.5 457.6,115.1 459.6,119.7 461.6,123.8 463.6,126.4 465.6,129.0 467.6,131.5 469.6,133.4 471.6,134.4 473.6,135.4 475.6,137.4 477.6,139.8 479.6,143.4 481.6,147.5 483.6,152.0 485.6,156.1 487.6,160.2 489.6,165.3 491.6,170.2 493.6,174.4 495.6,178.6 497.6,182.5 499.6,186.2 501.6,189.7 503.6,193.0 505.6,196.2 507.6,198.9 509.6,201.0 511.6,202.8 513.6,204.1 515.6,205.2 517.6,206.4 519.6,208.0 521.6,209.6 523.6,211.2 525.6,212.9 527.6,214.6 529.6,216.3 531.6,218.1 533.6,219.9 535.6,221.8 537.6,223.6 539.6,225.2 541.6,226.6 543.6,227.5 545.6,228.3 547.6,229.2 549.6,230.1 551.6,231.2 553.6,232.3 555.6,233.4 557.6,234.4 559.6,235.2 561.6,236.0 563.6,236.7 565.6,237.4 567.6,238.4 569.6,239.5 571.6,240.6 573.6,241.8 575.6,242.4 577.6,242.9 579.6,243.4 581.6,243.9 583.6,244.6 585.6,245.4 587.6,246.1 589.6,246.9 591.6,247.5 593.6,248.2 595.6,248.8 597.6,249.5 599.6,250.0 601.6,250.5 603.6,251.0 605.6,251.5 607.6,251.8 609.6,252.0 611.6,252.2 613.6,252.4 615.6,252.5 617.6,252.6 619.6,252.7 621.6,252.9 623.6,253.0 625.6,253.1 627.6,253.1 629.6,253.2 631.6,253.3 633.6,253.4 635.6,253.4 637.6,253.5 639.6,253.6 641.6,253.7 643.6,253.8 645.6,253.9 647.6,254.0 649.6,254.1 651.6,254.3 653.6,254.5 655.6,254.7 657.6,254.9 659.6,255.1 661.6,255.3"/>
<path d="M275.6,192.7 277.6,192.0 279.6,191.3 281.6,190.5 283.6,189.5 285.6,188.4 287.6,187.2 289.6,186.2 291.6,185.5 293.6,184.9 295.6,184.3 297.6,183.8 299.6,183.3 301.6,182.8 303.6,181.9 305.6,180.3 307.6,178.8 309.6,177.5 311.6,176.1 313.6,174.7 315.6,173.3 317.6,172.0 319.6,170.5 321.6,168.9 323.6,167.3 325.6,165.7 327.6,164.1 329.6,162.5 331.6,161.2 333.6,160.0 335.6,158.7 337.6,157.5 339.6,156.2 341.6,154.6 343.6,152.8 345.6,150.4 347.6,148.2 349.6,145.7 351.6,141.1 353.6,135.6 355.6,129.1 357.6,121.9 359.6,117.1 361.6,114.7 363.6,116.1 365.6,119.0 367.6,122.6 369.6,122.8 371.6,122.2 373.6,121.6 375.6,120.5 377.6,119.8 379.6,120.2 381.6,120.9 383.6,121.2 385.6,120.8 387.6,120.3 389.6,120.1 391.6,120.6 393.6,121.4 395.6,122.2 397.6,123.0 399.6,123.8 401.6,120.8 403.6,116.8 405.6,113.4 407.6,111.1 409.6,109.2 411.6,107.5 413.6,105.8 415.6,104.3 417.6,102.3 419.6,100.3 421.6,98.6 423.6,97.0 425.6,93.1 427.6,88.9 429.6,84.4 431.6,79.6 433.6,75.4 435.6,73.9 437.6,74.2 439.6,75.2 441.6,76.8 443.6,80.0 445.6,83.6 447.6,87.0 449.6,91.0 451.6,95.4 453.6,100.7 455.6,106.3 457.6,111.7 459.6,116.0 461.6,119.9 463.6,122.0 465.6,123.7 467.6,125.3 469.6,126.3 471.6,127.3 473.6,129.2 475.6,132.6 477.6,136.2 479.6,140.5 481.6,144.7 483.6,148.6 485.6,151.9 487.6,155.4 489.6,160.4 491.6,165.4 493.6,170.1 495.6,174.5 497.6,178.7 499.6,182.4 501.6,185.7 503.6,188.9 505.6,191.7 507.6,194.3 509.6,196.7 511.6,198.6 513.6,200.1 515.6,201.7 517.6,203.3 519.6,205.2 521.6,207.1 523.6,209.0 525.6,211.0 527.6,212.9 529.6,214.8 531.6,216.5 533.6,218.1 535.6,219.8 537.6,221.5 539.6,223.2 541.6,224.7 543.6,225.9 545.6,226.9 547.6,227.9 549.6,229.0 551.6,230.1 553.6,231.2 555.6,232.4 557.6,233.5 559.6,234.5 561.6,235.4 563.6,236.3 565.6,237.2 567.6,238.3 569.6,239.4 571.6,240.6 573.6,241.8 575.6,242.4 577.6,242.9 579.6,243.4 581.6,243.9 583.6,244.6 585.6,245.4 587.6,246.1 589.6,246.9 591.6,247.5 593.6,248.2 595.6,248.8 597.6,249.5 599.6,250.0 601.6,250.5 603.6,251.0 605.6,251.5 607.6,251.8 609.6,252.0 611.6,252.2 613.6,252.4 615.6,252.5 617.6,252.6 619.6,252.7 621.6,252.9 623.6,253.0 625.6,253.1 627.6,253.1 629.6,253.2 631.6,253.3 633.6,253.4 635.6,253.4 637.6,253.5 639.6,253.6 641.6,253.7 643.6,253.8 645.6,253.9 647.6,254.0 649.6,254.1 651.6,254.3 653.6,254.5 655.6,254.7 657.6,254.9 659.6,255.1 661.6,255.3"/>
<path d="M275.6,200.6 277.6,199.9 279.6,199.0 281.6,198.2 283.6,197.2 285.6,196.2 287.6,195.3 289.6,194.5 291.6,193.8 293.6,193.2 295.6,192.6 297.6,192.0 299.6,191.5 301.6,190.9 303.6,190.0 305.6,188.5 307.6,187.1 309.6,185.8 311.6,184.8 313.6,183.9 315.6,183.0 317.6,182.1 319.6,180.9 321.6,179.5 323.6,178.2 325.6,177.0 327.6,175.6 329.6,174.2 331.6,172.8 333.6,171.1 335.6,170.0 337.6,168.8 339.6,167.3 341.6,165.1 343.6,162.9 345.6,160.7 347.6,158.0 349.6,154.7 351.6,150.4 353.6,145.5 355.6,139.5 357.6,133.2 359.6,128.9 361.6,127.3 363.6,128.8 365.6,131.0 367.6,133.6 369.6,134.6 371.6,135.0 373.6,134.6 375.6,133.9 377.6,134.0 379.6,134.6 381.6,135.2 383.6,135.1 385.6,134.4 387.6,133.7 389.6,133.2 391.6,133.1 393.6,133.3 395.6,133.7 397.6,134.5 399.6,135.2 401.6,133.8 403.6,131.7 405.6,129.2 407.6,127.0 409.6,125.1 411.6,124.7 413.6,125.2 415.6,125.6 417.6,125.7 419.6,126.0 421.6,126.4 423.6,126.2 425.6,124.3 427.6,121.8 429.6,116.9 431.6,110.7 433.6,105.4 435.6,102.6 437.6,100.8 439.6,99.3 441.6,98.8 443.6,101.1 445.6,103.5 447.6,105.2 449.6,107.1 451.6,109.8 453.6,114.8 455.6,120.1 457.6,125.2 459.6,128.9 461.6,131.7 463.6,133.1 465.6,134.5 467.6,136.1 469.6,137.8 471.6,139.1 473.6,141.3 475.6,144.8 477.6,148.7 479.6,153.2 481.6,157.2 483.6,160.8 485.6,163.6 487.6,166.7 489.6,171.0 491.6,175.2 493.6,178.9 495.6,182.5 497.6,185.8 499.6,189.2 501.6,192.4 503.6,195.5 505.6,198.5 507.6,201.2 509.6,203.1 511.6,205.0 513.6,206.1 515.6,207.1 517.6,208.0 519.6,209.5 521.6,211.1 523.6,212.7 525.6,214.3 527.6,215.8 529.6,217.3 531.6,218.9 533.6,220.5 535.6,222.0 537.6,223.5 539.6,225.0 541.6,226.3 543.6,227.3 545.6,228.2 547.6,229.2 549.6,230.1 551.6,231.2 553.6,232.3 555.6,233.3 557.6,234.4 559.6,235.2 561.6,236.0 563.6,236.7 565.6,237.4 567.6,238.4 569.6,239.5 571.6,240.7 573.6,241.8 575.6,242.4 577.6,242.9 579.6,243.4 581.6,243.9 583.6,244.6 585.6,245.4 587.6,246.1 589.6,246.9 591.6,247.5 593.6,248.2 595.6,248.8 597.6,249.5 599.6,250.0 601.6,250.5 603.6,251.0 605.6,251.5 607.6,251.8 609.6,252.0 611.6,252.2 613.6,252.4 615.6,252.5 617.6,252.6 619.6,252.7 621.6,252.9 623.6,253.0 625.6,253.1 627.6,253.1 629.6,253.2 631.6,253.3 633.6,253.4 635.6,253.4 637.6,253.5 639.6,253.6 641.6,253.7 643.6,253.8 645.6,253.9 647.6,254.0 649.6,254.1 651.6,254.3 653.6,254.5 655.6,254.7 657.6,254.9 659.6,255.1 661.6,255.3"/>
<path d="M275.6,203.2 277.6,202.7 279.6,202.0 281.6,201.3 283.6,200.4 285.6,199.3 287.6,198.1 289.6,196.9 291.6,195.8 293.6,194.8 295.6,193.8 297.6,192.7 299.6,191.8 301.6,191.1 303.6,190.3 305.6,189.2 307.6,188.0 309.6,186.6 311.6,185.0 313.6,183.3 315.6,181.4 317.6,179.5 319.6,177.6 321.6,175.7 323.6,173.9 325.6,172.4 327.6,170.9 329.6,169.7 331.6,168.5 333.6,167.3 335.6,166.3 337.6,165.0 339.6,163.3 341.6,161.1 343.6,158.8 345.6,156.5 347.6,153.9 349.6,150.8 351.6,146.2 353.6,140.9 355.6,134.7 357.6,127.9 359.6,123.4 361.6,121.2 363.6,122.5 365.6,124.9 367.6,127.8 369.6,127.9 371.6,127.4 373.6,126.9 375.6,126.6 377.6,127.1 379.6,128.1 381.6,128.8 383.6,128.9 385.6,128.8 387.6,129.1 389.6,129.8 391.6,130.9 393.6,131.8 395.6,132.7 397.6,133.7 399.6,134.4 401.6,133.0 403.6,131.1 405.6,128.9 407.6,127.2 409.6,125.7 411.6,125.5 413.6,125.6 415.6,124.9 417.6,123.6 419.6,122.5 421.6,121.6 423.6,120.2 425.6,117.0 427.6,113.2 429.6,108.1 431.6,102.5 433.6,98.3 435.6,97.5 437.6,98.0 439.6,98.6 441.6,100.1 443.6,103.9 445.6,107.2 447.6,109.5 449.6,111.8 451.6,114.7 453.6,119.1 455.6,123.8 457.6,128.1 459.6,131.2 461.6,133.7 463.6,134.9 465.6,136.1 467.6,137.4 469.6,138.5 471.6,139.0 473.6,140.1 475.6,142.5 477.6,145.5 479.6,149.6 481.6,153.9 483.6,158.4 485.6,162.8 487.6,167.5 489.6,172.8 491.6,177.3 493.6,181.1 495.6,184.7 497.6,188.0 499.6,191.1 501.6,193.8 503.6,196.2 505.6,198.2 507.6,199.9 509.6,201.3 511.6,202.7 513.6,203.8 515.6,204.8 517.6,205.9 519.6,207.4 521.6,209.1 523.6,210.8 525.6,212.7 527.6,214.6 529.6,216.6 531.6,218.5 533.6,220.4 535.6,222.3 537.6,223.9 539.6,225.4 541.6,226.7 543.6,227.5 545.6,228.1 547.6,228.7 549.6,229.5 551.6,230.4 553.6,231.5 555.6,232.6 557.6,233.8 559.6,234.7 561.6,235.5 563.6,236.3 565.6,237.2 567.6,238.2 569.6,239.3 571.6,240.5 573.6,241.8 575.6,242.4 577.6,242.9 579.6,243.4 581.6,243.9 583.6,244.6 585.6,245.4 587.6,246.1 589.6,246.9 591.6,247.5 593.6,248.2 595.6,248.8 597.6,249.5 599.6,250.0 601.6,250.5 603.6,251.0 605.6,251.5 607.6,251.8 609.6,252.0 611.6,252.2 613.6,252.4 615.6,252.5 617.6,252.6 619.6,252.7 621.6,252.9 623.6,253.0 625.6,253.1 627.6,253.1 629.6,253.2 631.6,253.3 633.6,253.4 635.6,253.4 637.6,253.5 639.6,253.6 641.6,253.7 643.6,253.8 645.6,253.9 647.6,254.0 649.6,254.1 651.6,254.3 653.6,254.5 655.6,254.7 657.6,254.9 659.6,255.1 661.6,255.3"/>
<path d="M275.6,203.6 277.6,202.9 279.6,202.3 281.6,201.7 283.6,201.2 285.6,200.9 287.6,200.7 289.6,200.5 291.6,200.1 293.6,199.5 295.6,198.8 297.6,198.1 299.6,197.5 301.6,196.9 303.6,196.2 305.6,195.1 307.6,193.9 309.6,192.8 311.6,191.8 313.6,191.1 315.6,190.4 317.6,189.8 319.6,189.1 321.6,188.3 323.6,187.4 325.6,186.5 327.6,185.4 329.6,184.0 331.6,182.5 333.6,180.7 335.6,179.5 337.6,178.5 339.6,177.3 341.6,175.8 343.6,174.8 345.6,174.2 347.6,173.3 349.6,171.2 351.6,167.6 353.6,163.1 355.6,157.7 357.6,152.9 359.6,149.8 361.6,148.6 363.6,148.7 365.6,148.9 367.6,149.2 369.6,149.5 371.6,149.8 373.6,149.5 375.6,149.4 377.6,150.3 379.6,151.5 381.6,152.5 383.6,153.1 385.6,153.7 387.6,154.2 389.6,154.9 391.6,155.5 393.6,156.3 395.6,157.2 397.6,158.1 399.6,158.6 401.6,158.9 403.6,158.9 405.6,158.5 407.6,158.4 409.6,158.3 411.6,158.4 413.6,158.4 415.6,157.8 417.6,156.4 419.6,155.2 421.6,154.2 423.6,152.7 425.6,150.1 427.6,143.9 429.6,136.1 431.6,130.0 433.6,125.6 435.6,124.2 437.6,123.4 439.6,122.5 441.6,121.8 443.6,123.0 445.6,125.2 447.6,128.3 449.6,132.2 451.6,136.3 453.6,139.4 455.6,141.3 457.6,142.6 459.6,143.7 461.6,144.9 463.6,145.9 465.6,146.6 467.6,147.2 469.6,148.4 471.6,149.7 473.6,151.3 475.6,153.5 477.6,155.8 479.6,158.6 481.6,161.6 483.6,165.0 485.6,168.3 487.6,172.0 489.6,176.7 491.6,180.9 493.6,184.4 495.6,187.6 497.6,190.4 499.6,193.2 501.6,196.0 503.6,198.8 505.6,201.5 507.6,203.8 509.6,205.6 511.6,207.3 513.6,208.5 515.6,209.4 517.6,210.4 519.6,211.7 521.6,213.1 523.6,214.5 525.6,215.9 527.6,217.4 529.6,218.9 531.6,220.5 533.6,222.2 535.6,223.8 537.6,225.3 539.6,226.8 541.6,228.2 543.6,229.2 545.6,230.0 547.6,230.8 549.6,231.5 551.6,232.3 553.6,233.1 555.6,233.9 557.6,234.8 559.6,235.5 561.6,236.2 563.6,236.8 565.6,237.5 567.6,238.5 569.6,239.6 571.6,240.7 573.6,241.8 575.6,242.4 577.6,242.9 579.6,243.4 581.6,243.9 583.6,244.6 585.6,245.4 587.6,246.1 589.6,246.9 591.6,247.5 593.6,248.2 595.6,248.8 597.6,249.5 599.6,250.0 601.6,250.5 603.6,251.0 605.6,251.5 607.6,251.8 609.6,252.0 611.6,252.2 613.6,252.4 615.6,252.5 617.6,252.6 619.6,252.7 621.6,252.9 623.6,253.0 625.6,253.1 627.6,253.1 629.6,253.2 631.6,253.3 633.6,253.4 635.6,253.4 637.6,253.5 639.6,253.6 641.6,253.7 643.6,253.8 645.6,253.9 647.6,254.0 649.6,254.1 651.6,254.3 653.6,254.5 655.6,254.7 657.6,254.9 659.6,255.1 661.6,255.3"/>
<path d="M275.6,204.7 277.6,203.8 279.6,202.9 281.6,202.2 283.6,201.4 285.6,200.7 287.6,200.0 289.6,199.2 291.6,198.5 293.6,197.7 295.6,196.9 297.6,196.2 299.6,195.5 301.6,194.6 303.6,193.4 305.6,191.6 307.6,189.9 309.6,188.3 311.6,187.1 313.6,186.1 315.6,185.3 317.6,184.5 319.6,183.8 321.6,182.8 323.6,181.9 325.6,180.7 327.6,179.1 329.6,177.4 331.6,175.7 333.6,174.1 335.6,173.3 337.6,172.9 339.6,172.1 341.6,170.4 343.6,168.9 345.6,168.0 347.6,166.6 349.6,164.1 351.6,161.5 353.6,158.2 355.6,153.5 357.6,148.6 359.6,144.6 361.6,142.7 363.6,143.4 365.6,144.8 367.6,146.5 369.6,148.0 371.6,149.3 373.6,149.8 375.6,150.3 377.6,151.1 379.6,151.5 381.6,151.5 383.6,151.1 385.6,150.8 387.6,150.9 389.6,151.6 391.6,152.3 393.6,153.0 395.6,153.7 397.6,154.3 399.6,154.4 401.6,154.4 403.6,154.1 405.6,153.1 407.6,152.2 409.6,151.3 411.6,151.2 413.6,151.3 415.6,150.7 417.6,150.0 419.6,149.6 421.6,149.1 423.6,147.5 425.6,144.6 427.6,139.0 429.6,131.9 431.6,126.0 433.6,121.8 435.6,120.9 437.6,121.0 439.6,120.8 441.6,120.4 443.6,121.2 445.6,122.2 447.6,123.5 449.6,125.9 451.6,129.3 453.6,132.9 455.6,135.9 457.6,138.4 459.6,140.1 461.6,141.3 463.6,141.8 465.6,142.3 467.6,142.8 469.6,143.8 471.6,144.2 473.6,144.6 475.6,145.6 477.6,147.0 479.6,149.9 481.6,153.2 483.6,156.8 485.6,160.1 487.6,163.6 489.6,168.2 491.6,172.4 493.6,175.9 495.6,179.2 497.6,182.4 499.6,185.5 501.6,188.4 503.6,191.3 505.6,194.0 507.6,196.8 509.6,199.2 511.6,201.4 513.6,203.0 515.6,204.3 517.6,205.5 519.6,207.2 521.6,209.1 523.6,211.1 525.6,213.1 527.6,215.0 529.6,216.8 531.6,218.4 533.6,220.0 535.6,221.6 537.6,223.1 539.6,224.6 541.6,226.1 543.6,227.1 545.6,228.1 547.6,229.1 549.6,230.1 551.6,231.2 553.6,232.3 555.6,233.3 557.6,234.3 559.6,235.1 561.6,235.8 563.6,236.5 565.6,237.3 567.6,238.3 569.6,239.4 571.6,240.6 573.6,241.8 575.6,242.4 577.6,242.9 579.6,243.4 581.6,243.9 583.6,244.6 585.6,245.4 587.6,246.1 589.6,246.9 591.6,247.5 593.6,248.2 595.6,248.8 597.6,249.5 599.6,250.0 601.6,250.5 603.6,251.0 605.6,251.5 607.6,251.8 609.6,252.0 611.6,252.2 613.6,252.4 615.6,252.5 617.6,252.6 619.6,252.7 621.6,252.9 623.6,253.0 625.6,253.1 627.6,253.1 629.6,253.2 631.6,253.3 633.6,253.4 635.6,253.4 637.6,253.5 639.6,253.6 641.6,253.7 643.6,253.8 645.6,253.9 647.6,254.0 649.6,254.1 651.6,254.3 653.6,254.5 655.6,254.7 657.6,254.9 659.6,255.1 661.6,255.3"/>
<path d="M275.6,196.9 277.6,196.2 279.6,195.5 281.6,194.7 283.6,193.8 285.6,192.8 287.6,191.8 289.6,190.8 291.6,190.3 293.6,189.8 295.6,189.2 297.6,188.5 299.6,187.7 301.6,186.9 303.6,186.1 305.6,185.0 307.6,183.9 309.6,182.7 311.6,181.5 313.6,180.2 315.6,178.8 317.6,177.6 319.6,176.3 321.6,174.8 323.6,173.2 325.6,171.6 327.6,169.9 329.6,168.1 331.6,166.3 333.6,164.3 335.6,162.6 337.6,160.9 339.6,159.3 341.6,157.8 343.6,156.1 345.6,153.8 347.6,151.0 349.6,147.6 351.6,142.6 353.6,137.2 355.6,131.4 357.6,125.2 359.6,121.4 361.6,119.7 363.6,121.4 365.6,124.5 367.6,128.1 369.6,129.0 371.6,128.9 373.6,128.0 375.6,126.7 377.6,126.1 379.6,126.5 381.6,127.2 383.6,127.8 385.6,127.9 387.6,128.0 389.6,128.0 391.6,128.2 393.6,128.3 395.6,128.3 397.6,128.4 399.6,128.3 401.6,124.9 403.6,120.6 405.6,116.2 407.6,112.2 409.6,108.6 411.6,105.5 413.6,102.2 415.6,99.0 417.6,95.5 419.6,92.2 421.6,89.9 423.6,88.2 425.6,84.3 427.6,79.8 429.6,75.3 431.6,70.5 433.6,66.4 435.6,65.3 437.6,66.4 439.6,68.3 441.6,70.9 443.6,74.8 445.6,79.0 447.6,83.0 449.6,87.2 451.6,91.8 453.6,97.3 455.6,103.4 457.6,109.5 459.6,114.4 461.6,118.8 463.6,121.5 465.6,124.2 467.6,126.7 469.6,128.3 471.6,129.3 473.6,130.6 475.6,133.1 477.6,135.8 479.6,139.3 481.6,143.1 483.6,147.0 485.6,150.6 487.6,154.5 489.6,159.8 491.6,165.3 493.6,170.3 495.6,175.0 497.6,179.5 499.6,183.5 501.6,187.0 503.6,190.4 505.6,193.6 507.6,196.7 509.6,199.4 511.6,201.7 513.6,203.3 515.6,204.7 517.6,206.0 519.6,207.7 521.6,209.4 523.6,211.2 525.6,213.0 527.6,214.7 529.6,216.4 531.6,218.0 533.6,219.7 535.6,221.4 537.6,223.1 539.6,224.8 541.6,226.4 543.6,227.4 545.6,228.3 547.6,229.2 549.6,230.0 551.6,231.0 553.6,232.0 555.6,233.0 557.6,234.0 559.6,234.9 561.6,235.7 563.6,236.5 565.6,237.3 567.6,238.3 569.6,239.4 571.6,240.6 573.6,241.8 575.6,242.4 577.6,242.9 579.6,243.4 581.6,243.9 583.6,244.6 585.6,245.4 587.6,246.1 589.6,246.9 591.6,247.5 593.6,248.2 595.6,248.8 597.6,249.5 599.6,250.0 601.6,250.5 603.6,251.0 605.6,251.5 607.6,251.8 609.6,252.0 611.6,252.2 613.6,252.4 615.6,252.5 617.6,252.6 619.6,252.7 621.6,252.9 623.6,253.0 625.6,253.1 627.6,253.1 629.6,253.2 631.6,253.3 633.6,253.4 635.6,253.4 637.6,253.5 639.6,253.6 641.6,253.7 643.6,253.8 645.6,253.9 647.6,254.0 649.6,254.1 651.6,254.3 653.6,254.5 655.6,254.7 657.6,254.9 659.6,255.1 661.6,255.3"/>
<path d="M275.6,193.9 277.6,193.1 279.6,192.1 281.6,191.0 283.6,189.9 285.6,188.8 287.6,187.9 289.6,186.9 291.6,186.1 293.6,185.4 295.6,184.6 297.6,183.8 299.6,183.0 301.6,182.4 303.6,181.6 305.6,180.3 307.6,179.3 309.6,178.4 311.6,177.6 313.6,176.8 315.6,176.0 317.6,175.0 319.6,173.8 321.6,172.5 323.6,171.2 325.6,170.0 327.6,168.9 329.6,167.7 331.6,166.3 333.6,164.7 335.6,163.2 337.6,161.9 339.6,160.7 341.6,159.4 343.6,157.8 345.6,155.7 347.6,153.2 349.6,150.2 351.6,146.0 353.6,141.4 355.6,136.2 357.6,130.4 359.6,126.3 361.6,124.2 363.6,125.3 365.6,127.6 367.6,130.4 369.6,130.9 371.6,130.1 373.6,128.4 375.6,126.5 377.6,125.2 379.6,125.1 381.6,125.2 383.6,125.2 385.6,124.8 387.6,124.4 389.6,124.1 391.6,124.6 393.6,125.4 395.6,126.3 397.6,127.4 399.6,128.4 401.6,126.3 403.6,123.3 405.6,119.9 407.6,116.3 409.6,112.4 411.6,108.8 413.6,105.9 415.6,104.2 417.6,102.9 419.6,101.5 421.6,100.2 423.6,98.3 425.6,93.8 427.6,88.7 429.6,83.3 431.6,77.7 433.6,73.2 435.6,71.8 437.6,72.1 439.6,72.4 441.6,72.6 443.6,73.9 445.6,75.8 447.6,78.3 449.6,81.9 451.6,86.5 453.6,91.9 455.6,98.3 457.6,104.6 459.6,109.4 461.6,113.5 463.6,115.6 465.6,117.5 467.6,119.4 469.6,120.3 471.6,121.2 473.6,122.6 475.6,125.5 477.6,128.5 479.6,131.9 481.6,135.4 483.6,138.8 485.6,141.9 487.6,145.2 489.6,150.2 491.6,155.5 493.6,160.5 495.6,165.3 497.6,169.9 499.6,173.9 501.6,177.6 503.6,181.4 505.6,184.8 507.6,188.0 509.6,191.3 511.6,193.6 513.6,195.6 515.6,197.6 517.6,199.5 519.6,201.3 521.6,203.1 523.6,205.3 525.6,207.6 527.6,209.8 529.6,212.2 531.6,214.2 533.6,216.0 535.6,217.7 537.6,219.4 539.6,221.1 541.6,222.5 543.6,223.7 545.6,224.9 547.6,226.1 549.6,227.3 551.6,228.5 553.6,229.8 555.6,231.1 557.6,232.4 559.6,233.7 561.6,234.8 563.6,235.9 565.6,237.0 567.6,238.1 569.6,239.2 571.6,240.5 573.6,241.7 575.6,242.4 577.6,242.9 579.6,243.4 581.6,243.9 583.6,244.6 585.6,245.4 587.6,246.1 589.6,246.9 591.6,247.5 593.6,248.2 595.6,248.8 597.6,249.5 599.6,250.0 601.6,250.5 603.6,251.0 605.6,251.5 607.6,251.8 609.6,252.0 611.6,252.2 613.6,252.4 615.6,252.5 617.6,252.6 619.6,252.7 621.6,252.9 623.6,253.0 625.6,253.1 627.6,253.1 629.6,253.2 631.6,253.3 633.6,253.4 635.6,253.4 637.6,253.5 639.6,253.6 641.6,253.7 643.6,253.8 645.6,253.9 647.6,254.0 649.6,254.1 651.6,254.3 653.6,254.5 655.6,254.7 657.6,254.9 659.6,255.1 661.6,255.3"/>
<path d="M275.6,201.4 277.6,200.6 279.6,199.8 281.6,199.1 283.6,198.2 285.6,197.3 287.6,196.5 289.6,195.8 291.6,195.3 293.6,194.9 295.6,194.6 297.6,194.1 299.6,193.6 301.6,193.0 303.6,192.3 305.6,191.3 307.6,190.2 309.6,189.0 311.6,187.8 313.6,186.6 315.6,185.3 317.6,184.0 319.6,182.6 321.6,181.0 323.6,179.5 325.6,178.2 327.6,176.9 329.6,175.6 331.6,174.3 333.6,172.9 335.6,172.3 337.6,171.7 339.6,170.5 341.6,168.3 343.6,166.2 345.6,164.5 347.6,162.6 349.6,160.0 351.6,157.1 353.6,153.4 355.6,148.3 357.6,142.9 359.6,138.9 361.6,137.1 363.6,137.8 365.6,139.1 367.6,141.0 369.6,142.9 371.6,144.7 373.6,145.2 375.6,145.5 377.6,146.2 379.6,146.6 381.6,146.5 383.6,145.6 385.6,144.7 387.6,144.3 389.6,144.7 391.6,145.4 393.6,146.3 395.6,147.3 397.6,148.0 399.6,147.3 401.6,145.5 403.6,142.6 405.6,138.4 407.6,134.4 409.6,130.5 411.6,127.8 413.6,125.2 415.6,122.1 417.6,119.3 419.6,117.7 421.6,117.2 423.6,116.5 425.6,113.5 427.6,109.6 429.6,104.3 431.6,98.4 433.6,93.8 435.6,92.6 437.6,93.1 439.6,93.8 441.6,94.5 443.6,96.6 445.6,98.3 447.6,100.0 449.6,103.0 451.6,107.4 453.6,114.1 455.6,120.3 457.6,125.3 459.6,128.7 461.6,131.3 463.6,132.6 465.6,134.1 467.6,135.9 469.6,137.7 471.6,139.0 473.6,141.2 475.6,144.6 477.6,148.0 479.6,151.9 481.6,155.5 483.6,158.7 485.6,161.3 487.6,164.6 489.6,169.3 491.6,174.2 493.6,178.5 495.6,182.4 497.6,185.9 499.6,189.2 501.6,192.4 503.6,195.7 505.6,198.8 507.6,201.5 509.6,203.5 511.6,205.4 513.6,206.6 515.6,207.7 517.6,208.8 519.6,210.3 521.6,211.9 523.6,213.5 525.6,215.2 527.6,216.9 529.6,218.5 531.6,220.1 533.6,221.6 535.6,223.2 537.6,224.7 539.6,226.3 541.6,227.8 543.6,228.9 545.6,229.8 547.6,230.6 549.6,231.5 551.6,232.3 553.6,233.1 555.6,233.9 557.6,234.8 559.6,235.5 561.6,236.2 563.6,236.8 565.6,237.5 567.6,238.5 569.6,239.6 571.6,240.7 573.6,241.8 575.6,242.4 577.6,242.9 579.6,243.4 581.6,243.9 583.6,244.6 585.6,245.4 587.6,246.1 589.6,246.9 591.6,247.5 593.6,248.2 595.6,248.8 597.6,249.5 599.6,250.0 601.6,250.5 603.6,251.0 605.6,251.5 607.6,251.8 609.6,252.0 611.6,252.2 613.6,252.4 615.6,252.5 617.6,252.6 619.6,252.7 621.6,252.9 623.6,253.0 625.6,253.1 627.6,253.1 629.6,253.2 631.6,253.3 633.6,253.4 635.6,253.4 637.6,253.5 639.6,253.6 641.6,253.7 643.6,253.8 645.6,253.9 647.6,254.0 649.6,254.1 651.6,254.3 653.6,254.5 655.6,254.7 657.6,254.9 659.6,255.1 661.6,255.3"/>
<path d="M275.6,198.2 277.6,197.8 279.6,197.5 281.6,197.2 283.6,196.6 285.6,195.8 287.6,194.9 289.6,194.0 291.6,193.5 293.6,193.0 295.6,192.4 297.6,191.5 299.6,190.7 301.6,189.9 303.6,189.1 305.6,187.8 307.6,186.5 309.6,185.0 311.6,183.4 313.6,181.8 315.6,180.2 317.6,178.5 319.6,176.7 321.6,175.0 323.6,173.7 325.6,172.7 327.6,171.7 329.6,170.8 331.6,169.8 333.6,168.7 335.6,168.1 337.6,167.5 339.6,166.7 341.6,165.5 343.6,164.5 345.6,163.9 347.6,162.9 349.6,160.8 351.6,158.2 353.6,154.7 355.6,149.8 357.6,144.8 359.6,140.9 361.6,139.4 363.6,140.0 365.6,141.0 367.6,142.2 369.6,143.5 371.6,144.2 373.6,143.6 375.6,143.0 377.6,143.3 379.6,144.0 381.6,144.6 383.6,144.3 385.6,143.7 387.6,143.0 389.6,142.8 391.6,143.1 393.6,143.7 395.6,144.5 397.6,145.3 399.6,145.2 401.6,144.1 403.6,142.2 405.6,139.4 407.6,136.8 409.6,134.6 411.6,133.9 413.6,133.8 415.6,132.6 417.6,131.4 419.6,130.7 421.6,130.0 423.6,128.0 425.6,123.5 427.6,117.7 429.6,110.0 431.6,101.6 433.6,94.8 435.6,91.2 437.6,89.2 439.6,87.7 441.6,86.8 443.6,87.8 445.6,89.3 447.6,91.0 449.6,93.8 451.6,97.5 453.6,102.6 455.6,108.2 457.6,113.9 459.6,118.9 461.6,123.5 463.6,126.2 465.6,128.4 467.6,130.1 469.6,131.2 471.6,132.1 473.6,133.6 475.6,136.5 477.6,139.4 479.6,143.0 481.6,146.5 483.6,150.2 485.6,153.8 487.6,157.7 489.6,162.8 491.6,167.5 493.6,171.5 495.6,175.4 497.6,179.3 499.6,183.1 501.6,186.6 503.6,190.0 505.6,193.0 507.6,195.7 509.6,198.0 511.6,199.8 513.6,201.3 515.6,202.7 517.6,204.1 519.6,205.9 521.6,207.7 523.6,209.5 525.6,211.2 527.6,213.0 529.6,214.8 531.6,216.5 533.6,218.3 535.6,220.1 537.6,221.8 539.6,223.4 541.6,224.8 543.6,225.9 545.6,226.9 547.6,227.9 549.6,228.9 551.6,230.0 553.6,231.1 555.6,232.2 557.6,233.3 559.6,234.3 561.6,235.2 563.6,236.1 565.6,237.1 567.6,238.2 569.6,239.3 571.6,240.5 573.6,241.8 575.6,242.4 577.6,242.9 579.6,243.4 581.6,243.9 583.6,244.6 585.6,245.4 587.6,246.1 589.6,246.9 591.6,247.5 593.6,248.2 595.6,248.8 597.6,249.5 599.6,250.0 601.6,250.5 603.6,251.0 605.6,251.5 607.6,251.8 609.6,252.0 611.6,252.2 613.6,252.4 615.6,252.5 617.6,252.6 619.6,252.7 621.6,252.9 623.6,253.0 625.6,253.1 627.6,253.1 629.6,253.2 631.6,253.3 633.6,253.4 635.6,253.4 637.6,253.5 639.6,253.6 641.6,253.7 643.6,253.8 645.6,253.9 647.6,254.0 649.6,254.1 651.6,254.3 653.6,254.5 655.6,254.7 657.6,254.9 659.6,255.1 661.6,255.3"/>
<path d="M275.6,204.3 277.6,204.0 279.6,203.6 281.6,203.2 283.6,202.6 285.6,201.9 287.6,201.1 289.6,200.2 291.6,199.5 293.6,198.8 295.6,198.3 297.6,197.6 299.6,197.0 301.6,196.3 303.6,195.3 305.6,194.1 307.6,192.8 309.6,191.6 311.6,190.4 313.6,189.4 315.6,188.5 317.6,187.7 319.6,186.9 321.6,186.2 323.6,185.5 325.6,185.0 327.6,184.3 329.6,183.5 331.6,182.7 333.6,181.8 335.6,181.6 337.6,181.6 339.6,181.5 341.6,180.9 343.6,180.3 345.6,179.6 347.6,178.3 349.6,176.3 351.6,172.8 353.6,168.7 355.6,163.7 357.6,158.9 359.6,155.5 361.6,153.5 363.6,152.6 365.6,151.9 367.6,151.5 369.6,151.3 371.6,151.7 373.6,151.5 375.6,151.4 377.6,151.5 379.6,151.6 381.6,151.4 383.6,151.2 385.6,151.1 387.6,151.1 389.6,151.3 391.6,151.5 393.6,151.8 395.6,152.3 397.6,152.7 399.6,152.2 401.6,151.4 403.6,150.2 405.6,148.0 407.6,146.0 409.6,144.0 411.6,143.5 413.6,143.1 415.6,141.1 417.6,138.6 419.6,136.8 421.6,135.6 423.6,133.7 425.6,129.8 427.6,124.7 429.6,117.5 431.6,109.9 433.6,103.9 435.6,101.3 437.6,99.9 439.6,98.3 441.6,96.2 443.6,95.8 445.6,95.9 447.6,96.9 449.6,99.7 451.6,104.0 453.6,109.9 455.6,115.5 457.6,120.4 459.6,123.9 461.6,126.8 463.6,128.4 465.6,130.1 467.6,131.9 469.6,133.2 471.6,133.9 473.6,135.0 475.6,137.1 477.6,139.4 479.6,142.3 481.6,145.3 483.6,148.6 485.6,151.8 487.6,155.4 489.6,160.4 491.6,165.4 493.6,169.9 495.6,174.3 497.6,178.6 499.6,182.7 501.6,186.5 503.6,190.2 505.6,193.7 507.6,196.8 509.6,199.3 511.6,201.4 513.6,202.8 515.6,204.1 517.6,205.4 519.6,207.1 521.6,208.8 523.6,210.7 525.6,212.6 527.6,214.4 529.6,216.2 531.6,218.0 533.6,219.7 535.6,221.5 537.6,223.1 539.6,224.7 541.6,226.1 543.6,227.0 545.6,227.9 547.6,228.9 549.6,230.0 551.6,231.1 553.6,232.2 555.6,233.3 557.6,234.4 559.6,235.3 561.6,236.1 563.6,236.8 565.6,237.5 567.6,238.5 569.6,239.6 571.6,240.7 573.6,241.8 575.6,242.4 577.6,242.9 579.6,243.4 581.6,243.9 583.6,244.6 585.6,245.4 587.6,246.1 589.6,246.9 591.6,247.5 593.6,248.2 595.6,248.8 597.6,249.5 599.6,250.0 601.6,250.5 603.6,251.0 605.6,251.5 607.6,251.8 609.6,252.0 611.6,252.2 613.6,252.4 615.6,252.5 617.6,252.6 619.6,252.7 621.6,252.9 623.6,253.0 625.6,253.1 627.6,253.1 629.6,253.2 631.6,253.3 633.6,253.4 635.6,253.4 637.6,253.5 639.6,253.6 641.6,253.7 643.6,253.8 645.6,253.9 647.6,254.0 649.6,254.1 651.6,254.3 653.6,254.5 655.6,254.7 657.6,254.9 659.6,255.1 661.6,255.3"/>
<path d="M275.6,202.5 277.6,201.8 279.6,201.2 281.6,200.6 283.6,199.9 285.6,199.0 287.6,198.1 289.6,197.3 291.6,196.8 293.6,196.4 295.6,195.9 297.6,195.3 299.6,194.7 301.6,194.1 303.6,193.5 305.6,192.6 307.6,191.7 309.6,190.8 311.6,189.7 313.6,188.5 315.6,187.1 317.6,185.9 319.6,184.9 321.6,184.1 323.6,183.2 325.6,182.2 327.6,180.6 329.6,178.7 331.6,176.8 333.6,174.9 335.6,174.1 337.6,173.6 339.6,173.0 341.6,171.9 343.6,170.9 345.6,170.3 347.6,169.0 349.6,166.5 351.6,163.5 353.6,159.8 355.6,154.9 357.6,150.0 359.6,146.3 361.6,144.6 363.6,144.6 365.6,144.9 367.6,145.5 369.6,146.3 371.6,146.9 373.6,146.5 375.6,146.0 377.6,146.0 379.6,146.0 381.6,145.7 383.6,145.0 385.6,144.3 387.6,143.9 389.6,144.2 391.6,144.5 393.6,145.0 395.6,145.8 397.6,146.8 399.6,147.1 401.6,146.8 403.6,145.9 405.6,143.7 407.6,141.0 409.6,138.2 411.6,137.0 413.6,136.8 415.6,136.0 417.6,135.1 419.6,134.2 421.6,132.4 423.6,129.0 425.6,123.3 427.6,116.8 429.6,109.3 431.6,102.2 433.6,97.2 435.6,95.8 437.6,95.7 439.6,95.3 441.6,94.3 443.6,94.9 445.6,95.5 447.6,96.6 449.6,99.4 451.6,103.5 453.6,109.4 455.6,115.2 457.6,120.4 459.6,124.4 461.6,128.0 463.6,130.0 465.6,131.9 467.6,133.5 469.6,134.7 471.6,135.5 473.6,136.9 475.6,139.5 477.6,142.6 479.6,146.4 481.6,150.3 483.6,154.0 485.6,157.1 487.6,160.8 489.6,166.1 491.6,171.6 493.6,176.4 495.6,180.7 497.6,184.4 499.6,187.8 501.6,190.9 503.6,194.0 505.6,196.7 507.6,199.1 509.6,200.7 511.6,202.2 513.6,203.1 515.6,204.1 517.6,205.2 519.6,206.9 521.6,208.8 523.6,210.8 525.6,212.8 527.6,214.6 529.6,216.5 531.6,218.2 533.6,220.0 535.6,221.7 537.6,223.4 539.6,225.0 541.6,226.6 543.6,227.6 545.6,228.6 547.6,229.6 549.6,230.5 551.6,231.5 553.6,232.5 555.6,233.5 557.6,234.6 559.6,235.4 561.6,236.1 563.6,236.8 565.6,237.4 567.6,238.5 569.6,239.6 571.6,240.7 573.6,241.8 575.6,242.4 577.6,242.9 579.6,243.4 581.6,243.9 583.6,244.6 585.6,245.4 587.6,246.1 589.6,246.9 591.6,247.5 593.6,248.2 595.6,248.8 597.6,249.5 599.6,250.0 601.6,250.5 603.6,251.0 605.6,251.5 607.6,251.8 609.6,252.0 611.6,252.2 613.6,252.4 615.6,252.5 617.6,252.6 619.6,252.7 621.6,252.9 623.6,253.0 625.6,253.1 627.6,253.1 629.6,253.2 631.6,253.3 633.6,253.4 635.6,253.4 637.6,253.5 639.6,253.6 641.6,253.7 643.6,253.8 645.6,253.9 647.6,254.0 649.6,254.1 651.6,254.3 653.6,254.5 655.6,254.7 657.6,254.9 659.6,255.1 661.6,255.3"/>
<path d="M275.6,200.5 277.6,199.8 279.6,199.0 281.6,198.3 283.6,197.3 285.6,196.2 287.6,195.3 289.6,194.6 291.6,194.3 293.6,194.1 295.6,193.9 297.6,193.8 299.6,193.7 301.6,193.6 303.6,193.5 305.6,192.8 307.6,191.9 309.6,190.8 311.6,189.7 313.6,188.7 315.6,187.7 317.6,187.0 319.6,186.2 321.6,185.2 323.6,184.1 325.6,182.9 327.6,181.5 329.6,179.9 331.6,178.3 333.6,176.7 335.6,176.0 337.6,175.6 339.6,174.9 341.6,173.5 343.6,172.0 345.6,170.8 347.6,168.9 349.6,165.7 351.6,162.3 353.6,158.4 355.6,153.3 357.6,148.2 359.6,144.2 361.6,142.6 363.6,143.4 365.6,144.9 367.6,146.7 369.6,148.5 371.6,150.0 373.6,150.6 375.6,151.1 377.6,152.0 379.6,152.8 381.6,153.2 383.6,152.9 385.6,152.3 387.6,151.8 389.6,151.7 391.6,151.9 393.6,152.3 395.6,152.8 397.6,153.3 399.6,153.0 401.6,152.7 403.6,152.1 405.6,150.8 407.6,149.5 409.6,148.2 411.6,147.9 413.6,147.7 415.6,146.0 417.6,143.5 419.6,141.3 421.6,139.4 423.6,137.1 425.6,133.7 427.6,129.1 429.6,122.3 431.6,114.8 433.6,108.0 435.6,104.1 437.6,101.9 439.6,100.8 441.6,101.0 443.6,103.9 445.6,106.9 447.6,109.0 449.6,111.0 451.6,113.2 453.6,117.3 455.6,122.1 457.6,127.0 459.6,130.9 461.6,133.9 463.6,135.3 465.6,136.3 467.6,137.5 469.6,138.8 471.6,139.7 473.6,141.2 475.6,143.5 477.6,146.1 479.6,150.0 481.6,153.9 483.6,158.0 485.6,161.5 487.6,165.3 489.6,170.4 491.6,175.1 493.6,179.2 495.6,182.9 497.6,186.2 499.6,189.4 501.6,192.4 503.6,195.4 505.6,198.2 507.6,200.7 509.6,202.5 511.6,204.2 513.6,205.5 515.6,206.5 517.6,207.5 519.6,208.9 521.6,210.4 523.6,211.8 525.6,213.3 527.6,214.7 529.6,216.3 531.6,217.8 533.6,219.4 535.6,221.2 537.6,223.0 539.6,224.6 541.6,226.1 543.6,227.2 545.6,228.2 547.6,229.2 549.6,230.2 551.6,231.3 553.6,232.4 555.6,233.5 557.6,234.6 559.6,235.4 561.6,236.1 563.6,236.8 565.6,237.5 567.6,238.5 569.6,239.6 571.6,240.7 573.6,241.8 575.6,242.4 577.6,242.9 579.6,243.4 581.6,243.9 583.6,244.6 585.6,245.4 587.6,246.1 589.6,246.9 591.6,247.5 593.6,248.2 595.6,248.8 597.6,249.5 599.6,250.0 601.6,250.5 603.6,251.0 605.6,251.5 607.6,251.8 609.6,252.0 611.6,252.2 613.6,252.4 615.6,252.5 617.6,252.6 619.6,252.7 621.6,252.9 623.6,253.0 625.6,253.1 627.6,253.1 629.6,253.2 631.6,253.3 633.6,253.4 635.6,253.4 637.6,253.5 639.6,253.6 641.6,253.7 643.6,253.8 645.6,253.9 647.6,254.0 649.6,254.1 651.6,254.3 653.6,254.5 655.6,254.7 657.6,254.9 659.6,255.1 661.6,255.3"/>
<path d="M275.6,206.1 277.6,205.9 279.6,205.7 281.6,205.6 283.6,205.4 285.6,205.0 287.6,204.6 289.6,204.3 291.6,204.0 293.6,203.8 295.6,203.6 297.6,203.5 299.6,203.4 301.6,203.1 303.6,202.5 305.6,201.7 307.6,200.7 309.6,199.7 311.6,198.7 313.6,197.8 315.6,197.0 317.6,196.3 319.6,195.6 321.6,194.8 323.6,193.7 325.6,192.5 327.6,191.1 329.6,190.0 331.6,189.2 333.6,188.5 335.6,188.4 337.6,188.4 339.6,188.3 341.6,188.1 343.6,187.7 345.6,187.2 347.6,186.8 349.6,185.9 351.6,182.7 353.6,179.4 355.6,175.9 357.6,172.2 359.6,169.5 361.6,167.1 363.6,165.3 365.6,164.1 367.6,163.0 369.6,162.0 371.6,162.2 373.6,162.8 375.6,163.3 377.6,163.8 379.6,164.4 381.6,164.9 383.6,165.4 385.6,165.9 387.6,166.4 389.6,166.5 391.6,166.5 393.6,166.5 395.6,166.5 397.6,166.3 399.6,166.1 401.6,165.9 403.6,165.7 405.6,165.5 407.6,165.7 409.6,165.9 411.6,166.1 413.6,166.3 415.6,166.5 417.6,166.0 419.6,165.4 421.6,164.8 423.6,164.2 425.6,163.7 427.6,158.6 429.6,152.3 431.6,148.8 433.6,146.0 435.6,145.2 437.6,144.9 439.6,144.6 441.6,144.2 443.6,143.9 445.6,143.7 447.6,143.4 449.6,143.2 451.6,144.2 453.6,145.1 455.6,145.9 457.6,146.5 459.6,147.2 461.6,148.3 463.6,149.6 465.6,151.0 467.6,152.6 469.6,155.5 471.6,158.6 473.6,161.7 475.6,164.8 477.6,167.9 479.6,171.1 481.6,174.4 483.6,177.7 485.6,180.6 487.6,183.4 489.6,186.5 491.6,189.4 493.6,191.8 495.6,194.0 497.6,196.1 499.6,198.2 501.6,200.7 503.6,203.4 505.6,206.2 507.6,208.2 509.6,210.1 511.6,212.0 513.6,213.0 515.6,213.7 517.6,214.4 519.6,215.3 521.6,216.3 523.6,217.3 525.6,218.5 527.6,219.7 529.6,220.9 531.6,222.2 533.6,223.6 535.6,225.0 537.6,226.3 539.6,227.6 541.6,229.0 543.6,229.8 545.6,230.6 547.6,231.3 549.6,232.2 551.6,232.9 553.6,233.5 555.6,234.2 557.6,234.8 559.6,235.5 561.6,236.2 563.6,236.9 565.6,237.6 567.6,238.5 569.6,239.6 571.6,240.7 573.6,241.8 575.6,242.4 577.6,242.9 579.6,243.4 581.6,243.9 583.6,244.6 585.6,245.4 587.6,246.1 589.6,246.9 591.6,247.5 593.6,248.2 595.6,248.8 597.6,249.5 599.6,250.0 601.6,250.5 603.6,251.0 605.6,251.5 607.6,251.8 609.6,252.0 611.6,252.2 613.6,252.4 615.6,252.5 617.6,252.6 619.6,252.7 621.6,252.9 623.6,253.0 625.6,253.1 627.6,253.1 629.6,253.2 631.6,253.3 633.6,253.4 635.6,253.4 637.6,253.5 639.6,253.6 641.6,253.7 643.6,253.8 645.6,253.9 647.6,254.0 649.6,254.1 651.6,254.3 653.6,254.5 655.6,254.7 657.6,254.9 659.6,255.1 661.6,255.3"/>
<path d="M275.6,209.5 277.6,209.2 279.6,208.9 281.6,208.6 283.6,208.3 285.6,208.0 287.6,207.7 289.6,207.5 291.6,207.0 293.6,206.5 295.6,206.0 297.6,205.4 299.6,204.9 301.6,204.4 303.6,203.9 305.6,203.4 307.6,202.9 309.6,202.4 311.6,201.6 313.6,200.8 315.6,199.9 317.6,199.1 319.6,198.2 321.6,197.4 323.6,196.6 325.6,195.7 327.6,194.5 329.6,193.3 331.6,192.0 333.6,190.8 335.6,190.0 337.6,189.4 339.6,188.8 341.6,188.2 343.6,187.7 345.6,187.2 347.6,186.8 349.6,186.3 351.6,183.6 353.6,180.3 355.6,176.3 357.6,172.2 359.6,169.5 361.6,167.1 363.6,165.3 365.6,164.1 367.6,163.0 369.6,161.9 371.6,161.6 373.6,161.4 375.6,161.2 377.6,161.1 379.6,161.3 381.6,161.7 383.6,162.3 385.6,163.0 387.6,163.7 389.6,163.8 391.6,163.3 393.6,162.7 395.6,162.0 397.6,161.5 399.6,160.9 401.6,160.4 403.6,159.8 405.6,158.9 407.6,158.4 409.6,158.2 411.6,158.6 413.6,159.2 415.6,159.2 417.6,158.5 419.6,157.9 421.6,157.4 423.6,156.8 425.6,155.7 427.6,150.3 429.6,143.1 431.6,137.6 433.6,133.0 435.6,130.7 437.6,129.2 439.6,127.7 441.6,126.2 443.6,125.9 445.6,125.7 447.6,126.0 449.6,127.4 451.6,130.4 453.6,134.1 455.6,137.6 457.6,140.6 459.6,143.2 461.6,145.7 463.6,147.7 465.6,149.5 467.6,151.2 469.6,154.1 471.6,157.5 473.6,161.4 475.6,165.7 477.6,170.2 479.6,173.6 481.6,176.9 483.6,180.1 485.6,183.0 487.6,185.7 489.6,188.5 491.6,191.0 493.6,193.1 495.6,195.1 497.6,197.1 499.6,199.1 501.6,201.6 503.6,204.3 505.6,207.0 507.6,208.8 509.6,210.5 511.6,212.2 513.6,213.0 515.6,213.7 517.6,214.4 519.6,215.3 521.6,216.3 523.6,217.3 525.6,218.5 527.6,219.7 529.6,220.9 531.6,222.2 533.6,223.6 535.6,225.0 537.6,226.4 539.6,227.8 541.6,229.2 543.6,230.1 545.6,230.8 547.6,231.5 549.6,232.2 551.6,232.8 553.6,233.5 555.6,234.1 557.6,234.8 559.6,235.5 561.6,236.2 563.6,236.9 565.6,237.6 567.6,238.5 569.6,239.6 571.6,240.7 573.6,241.8 575.6,242.4 577.6,242.9 579.6,243.4 581.6,243.9 583.6,244.6 585.6,245.4 587.6,246.1 589.6,246.9 591.6,247.5 593.6,248.2 595.6,248.8 597.6,249.5 599.6,250.0 601.6,250.5 603.6,251.0 605.6,251.5 607.6,251.8 609.6,252.0 611.6,252.2 613.6,252.4 615.6,252.5 617.6,252.6 619.6,252.7 621.6,252.9 623.6,253.0 625.6,253.1 627.6,253.1 629.6,253.2 631.6,253.3 633.6,253.4 635.6,253.4 637.6,253.5 639.6,253.6 641.6,253.7 643.6,253.8 645.6,253.9 647.6,254.0 649.6,254.1 651.6,254.3 653.6,254.5 655.6,254.7 657.6,254.9 659.6,255.1 661.6,255.3"/>
<path d="M275.6,203.3 277.6,202.6 279.6,201.6 281.6,200.6 283.6,199.3 285.6,198.2 287.6,197.4 289.6,196.7 291.6,196.2 293.6,195.7 295.6,195.3 297.6,194.8 299.6,194.4 301.6,193.9 303.6,193.2 305.6,191.9 307.6,190.3 309.6,188.9 311.6,187.6 313.6,186.3 315.6,185.0 317.6,183.8 319.6,182.6 321.6,181.2 323.6,179.8 325.6,178.6 327.6,177.1 329.6,175.7 331.6,174.2 333.6,172.7 335.6,172.0 337.6,171.6 339.6,171.0 341.6,169.7 343.6,168.5 345.6,167.8 347.6,166.7 349.6,164.5 351.6,162.0 353.6,158.8 355.6,154.1 357.6,149.6 359.6,146.2 361.6,145.0 363.6,145.4 365.6,146.0 367.6,146.7 369.6,147.6 371.6,148.4 373.6,148.4 375.6,148.5 377.6,149.0 379.6,149.7 381.6,150.1 383.6,150.2 385.6,150.4 387.6,150.8 389.6,151.7 391.6,152.9 393.6,154.2 395.6,155.5 397.6,156.5 399.6,156.7 401.6,156.7 403.6,156.2 405.6,154.8 407.6,153.2 409.6,151.6 411.6,150.9 413.6,150.2 415.6,148.2 417.6,145.2 419.6,142.5 421.6,140.1 423.6,137.1 425.6,132.7 427.6,127.4 429.6,120.6 431.6,113.9 433.6,109.2 435.6,108.1 437.6,108.4 439.6,108.8 441.6,109.3 443.6,111.7 445.6,114.7 447.6,118.1 449.6,122.1 451.6,126.2 453.6,130.4 455.6,133.7 457.6,136.5 459.6,138.5 461.6,140.2 463.6,141.2 465.6,142.5 467.6,144.0 469.6,146.5 471.6,149.1 473.6,151.7 475.6,154.5 477.6,157.1 479.6,160.2 481.6,163.5 483.6,166.8 485.6,169.5 487.6,172.3 489.6,176.0 491.6,179.6 493.6,182.8 495.6,186.1 497.6,189.2 499.6,192.4 501.6,195.5 503.6,198.6 505.6,201.4 507.6,203.7 509.6,205.4 511.6,207.2 513.6,208.2 515.6,209.0 517.6,209.7 519.6,210.8 521.6,212.0 523.6,213.4 525.6,214.9 527.6,216.5 529.6,218.1 531.6,219.8 533.6,221.4 535.6,223.0 537.6,224.5 539.6,225.9 541.6,227.3 543.6,228.3 545.6,229.2 547.6,230.0 549.6,230.9 551.6,231.8 553.6,232.8 555.6,233.7 557.6,234.6 559.6,235.4 561.6,236.0 563.6,236.7 565.6,237.4 567.6,238.4 569.6,239.5 571.6,240.7 573.6,241.8 575.6,242.4 577.6,242.9 579.6,243.4 581.6,243.9 583.6,244.6 585.6,245.4 587.6,246.1 589.6,246.9 591.6,247.5 593.6,248.2 595.6,248.8 597.6,249.5 599.6,250.0 601.6,250.5 603.6,251.0 605.6,251.5 607.6,251.8 609.6,252.0 611.6,252.2 613.6,252.4 615.6,252.5 617.6,252.6 619.6,252.7 621.6,252.9 623.6,253.0 625.6,253.1 627.6,253.1 629.6,253.2 631.6,253.3 633.6,253.4 635.6,253.4 637.6,253.5 639.6,253.6 641.6,253.7 643.6,253.8 645.6,253.9 647.6,254.0 649.6,254.1 651.6,254.3 653.6,254.5 655.6,254.7 657.6,254.9 659.6,255.1 661.6,255.3"/>
<path d="M275.6,192.8 277.6,191.6 279.6,190.7 281.6,189.8 283.6,188.9 285.6,188.0 287.6,187.1 289.6,186.2 291.6,185.5 293.6,184.9 295.6,184.3 297.6,183.7 299.6,183.0 301.6,182.4 303.6,181.6 305.6,180.2 307.6,178.8 309.6,177.5 311.6,176.1 313.6,174.7 315.6,173.3 317.6,172.0 319.6,170.5 321.6,168.9 323.6,167.3 325.6,165.7 327.6,164.1 329.6,162.5 331.6,160.9 333.6,159.3 335.6,157.6 337.6,155.8 339.6,154.1 341.6,152.2 343.6,150.1 345.6,146.9 347.6,143.8 349.6,140.6 351.6,135.2 353.6,129.3 355.6,123.3 357.6,116.5 359.6,112.9 361.6,111.8 363.6,114.5 365.6,118.2 367.6,122.2 369.6,122.4 371.6,121.6 373.6,120.7 375.6,119.7 377.6,119.3 379.6,120.1 381.6,120.8 383.6,121.1 385.6,120.6 387.6,120.3 389.6,120.1 391.6,120.6 393.6,121.4 395.6,122.2 397.6,123.0 399.6,123.8 401.6,120.8 403.6,116.8 405.6,112.8 407.6,108.8 409.6,104.8 411.6,100.8 413.6,96.8 415.6,93.9 417.6,91.2 419.6,88.5 421.6,86.4 423.6,84.4 425.6,79.7 427.6,74.6 429.6,69.9 431.6,65.3 433.6,61.3 435.6,59.8 437.6,60.5 439.6,62.2 441.6,64.4 443.6,67.6 445.6,71.2 447.6,75.2 449.6,80.0 451.6,85.3 453.6,91.0 455.6,97.3 457.6,103.6 459.6,108.7 461.6,113.2 463.6,115.5 465.6,116.9 467.6,118.3 469.6,119.1 471.6,119.9 473.6,121.4 475.6,124.4 477.6,127.4 479.6,130.9 481.6,134.5 483.6,138.0 485.6,141.2 487.6,144.4 489.6,149.2 491.6,154.4 493.6,159.4 495.6,164.2 497.6,169.0 499.6,173.2 501.6,177.2 503.6,181.2 505.6,184.7 507.6,188.0 509.6,191.3 511.6,193.6 513.6,195.7 515.6,197.9 517.6,199.9 519.6,201.9 521.6,204.0 523.6,206.4 525.6,208.8 527.6,211.2 529.6,213.4 531.6,215.4 533.6,217.2 535.6,219.1 537.6,220.9 539.6,222.7 541.6,224.2 543.6,225.5 545.6,226.7 547.6,227.8 549.6,228.9 551.6,230.1 553.6,231.2 555.6,232.4 557.6,233.5 559.6,234.5 561.6,235.4 563.6,236.3 565.6,237.2 567.6,238.2 569.6,239.3 571.6,240.5 573.6,241.8 575.6,242.4 577.6,242.9 579.6,243.4 581.6,243.9 583.6,244.6 585.6,245.4 587.6,246.1 589.6,246.9 591.6,247.5 593.6,248.2 595.6,248.8 597.6,249.5 599.6,250.0 601.6,250.5 603.6,251.0 605.6,251.5 607.6,251.8 609.6,252.0 611.6,252.2 613.6,252.4 615.6,252.5 617.6,252.6 619.6,252.7 621.6,252.9 623.6,253.0 625.6,253.1 627.6,253.1 629.6,253.2 631.6,253.3 633.6,253.4 635.6,253.4 637.6,253.5 639.6,253.6 641.6,253.7 643.6,253.8 645.6,253.9 647.6,254.0 649.6,254.1 651.6,254.3 653.6,254.5 655.6,254.7 657.6,254.9 659.6,255.1 661.6,255.3"/>
<path d="M275.6,203.9 277.6,203.4 279.6,202.9 281.6,202.4 283.6,201.7 285.6,200.8 287.6,199.9 289.6,199.0 291.6,198.3 293.6,197.9 295.6,197.4 297.6,196.9 299.6,196.5 301.6,196.1 303.6,195.7 305.6,195.2 307.6,194.8 309.6,194.3 311.6,193.5 313.6,192.5 315.6,191.4 317.6,190.4 319.6,189.3 321.6,188.0 323.6,186.7 325.6,185.4 327.6,184.0 329.6,182.7 331.6,181.5 333.6,180.2 335.6,179.3 337.6,178.2 339.6,176.9 341.6,175.2 343.6,174.2 345.6,173.8 347.6,173.0 349.6,170.7 351.6,166.9 353.6,161.9 355.6,155.3 357.6,148.6 359.6,143.0 361.6,140.1 363.6,139.8 365.6,140.1 367.6,140.8 369.6,141.3 371.6,141.2 373.6,140.1 375.6,139.1 377.6,139.0 379.6,139.3 381.6,139.6 383.6,139.6 385.6,139.5 387.6,139.5 389.6,139.9 391.6,140.4 393.6,140.9 395.6,141.3 397.6,141.8 399.6,141.7 401.6,140.5 403.6,139.0 405.6,136.8 407.6,134.4 409.6,131.7 411.6,130.0 413.6,128.8 415.6,127.3 417.6,126.5 419.6,126.4 421.6,126.5 423.6,125.4 425.6,121.6 427.6,116.6 429.6,109.5 431.6,102.1 433.6,96.6 435.6,95.1 437.6,95.5 439.6,95.8 441.6,95.6 443.6,96.9 445.6,98.2 447.6,99.8 449.6,102.7 451.6,106.5 453.6,111.8 455.6,116.8 457.6,121.4 459.6,125.1 461.6,128.4 463.6,130.4 465.6,132.1 467.6,133.6 469.6,134.6 471.6,135.3 473.6,136.7 475.6,139.4 477.6,142.7 479.6,146.9 481.6,151.2 483.6,155.5 485.6,159.1 487.6,163.0 489.6,168.0 491.6,173.0 493.6,177.5 495.6,181.8 497.6,185.6 499.6,189.1 501.6,192.2 503.6,195.1 505.6,197.8 507.6,200.3 509.6,202.4 511.6,204.6 513.6,206.1 515.6,207.4 517.6,208.5 519.6,209.9 521.6,211.4 523.6,212.9 525.6,214.5 527.6,216.2 529.6,217.9 531.6,219.5 533.6,221.1 535.6,222.8 537.6,224.3 539.6,225.8 541.6,227.3 543.6,228.3 545.6,229.2 547.6,230.1 549.6,230.9 551.6,231.9 553.6,232.8 555.6,233.8 557.6,234.8 559.6,235.5 561.6,236.2 563.6,236.8 565.6,237.5 567.6,238.5 569.6,239.6 571.6,240.7 573.6,241.8 575.6,242.4 577.6,242.9 579.6,243.4 581.6,243.9 583.6,244.6 585.6,245.4 587.6,246.1 589.6,246.9 591.6,247.5 593.6,248.2 595.6,248.8 597.6,249.5 599.6,250.0 601.6,250.5 603.6,251.0 605.6,251.5 607.6,251.8 609.6,252.0 611.6,252.2 613.6,252.4 615.6,252.5 617.6,252.6 619.6,252.7 621.6,252.9 623.6,253.0 625.6,253.1 627.6,253.1 629.6,253.2 631.6,253.3 633.6,253.4 635.6,253.4 637.6,253.5 639.6,253.6 641.6,253.7 643.6,253.8 645.6,253.9 647.6,254.0 649.6,254.1 651.6,254.3 653.6,254.5 655.6,254.7 657.6,254.9 659.6,255.1 661.6,255.3"/>
<path d="M275.6,206.9 277.6,206.6 279.6,206.2 281.6,205.9 283.6,205.6 285.6,205.3 287.6,205.0 289.6,204.7 291.6,204.4 293.6,204.1 295.6,203.7 297.6,203.1 299.6,202.4 301.6,201.5 303.6,200.5 305.6,199.3 307.6,198.2 309.6,197.4 311.6,196.5 313.6,195.6 315.6,194.6 317.6,193.3 319.6,192.0 321.6,190.7 323.6,189.5 325.6,188.7 327.6,187.8 329.6,187.2 331.6,186.6 333.6,186.0 335.6,185.8 337.6,185.4 339.6,184.7 341.6,183.6 343.6,182.8 345.6,182.3 347.6,182.0 349.6,181.5 351.6,179.1 353.6,175.8 355.6,171.3 357.6,166.8 359.6,163.9 361.6,161.9 363.6,160.7 365.6,159.9 367.6,159.2 369.6,158.5 371.6,158.7 373.6,158.9 375.6,158.9 377.6,159.1 379.6,159.2 381.6,159.3 383.6,159.3 385.6,159.4 387.6,159.6 389.6,159.9 391.6,160.1 393.6,160.3 395.6,160.6 397.6,160.8 399.6,160.6 401.6,160.4 403.6,160.2 405.6,159.8 407.6,160.0 409.6,160.5 411.6,161.2 413.6,161.8 415.6,162.0 417.6,161.6 419.6,161.0 421.6,160.0 423.6,158.5 425.6,156.5 427.6,150.7 429.6,143.7 431.6,138.8 433.6,134.8 435.6,132.9 437.6,131.7 439.6,130.8 441.6,130.3 443.6,130.9 445.6,131.5 447.6,131.4 449.6,131.3 451.6,131.9 453.6,133.0 455.6,134.1 457.6,135.3 459.6,136.3 461.6,137.4 463.6,138.2 465.6,139.3 467.6,140.5 469.6,141.7 471.6,142.4 473.6,143.3 475.6,145.1 477.6,147.4 479.6,150.9 481.6,154.4 483.6,158.1 485.6,161.3 487.6,164.7 489.6,169.3 491.6,173.7 493.6,177.6 495.6,181.4 497.6,185.0 499.6,188.4 501.6,191.6 503.6,194.7 505.6,197.6 507.6,200.0 509.6,201.8 511.6,203.4 513.6,204.6 515.6,205.9 517.6,207.2 519.6,208.9 521.6,210.6 523.6,212.0 525.6,213.4 527.6,214.9 529.6,216.5 531.6,218.2 533.6,219.9 535.6,221.7 537.6,223.4 539.6,225.0 541.6,226.6 543.6,227.7 545.6,228.7 547.6,229.7 549.6,230.7 551.6,231.7 553.6,232.6 555.6,233.5 557.6,234.5 559.6,235.2 561.6,235.9 563.6,236.6 565.6,237.4 567.6,238.4 569.6,239.5 571.6,240.6 573.6,241.8 575.6,242.4 577.6,242.9 579.6,243.4 581.6,243.9 583.6,244.6 585.6,245.4 587.6,246.1 589.6,246.9 591.6,247.5 593.6,248.2 595.6,248.8 597.6,249.5 599.6,250.0 601.6,250.5 603.6,251.0 605.6,251.5 607.6,251.8 609.6,252.0 611.6,252.2 613.6,252.4 615.6,252.5 617.6,252.6 619.6,252.7 621.6,252.9 623.6,253.0 625.6,253.1 627.6,253.1 629.6,253.2 631.6,253.3 633.6,253.4 635.6,253.4 637.6,253.5 639.6,253.6 641.6,253.7 643.6,253.8 645.6,253.9 647.6,254.0 649.6,254.1 651.6,254.3 653.6,254.5 655.6,254.7 657.6,254.9 659.6,255.1 661.6,255.3"/>
<path d="M275.6,209.5 277.6,209.2 279.6,208.9 281.6,208.6 283.6,208.3 285.6,208.0 287.6,207.7 289.6,207.5 291.6,207.0 293.6,206.5 295.6,206.0 297.6,205.4 299.6,204.9 301.6,204.4 303.6,203.9 305.6,203.4 307.6,202.9 309.6,202.4 311.6,201.6 313.6,200.8 315.6,199.9 317.6,199.1 319.6,198.2 321.6,197.4 323.6,196.6 325.6,195.7 327.6,194.5 329.6,193.3 331.6,192.0 333.6,190.8 335.6,190.0 337.6,189.4 339.6,188.8 341.6,188.2 343.6,187.7 345.6,187.2 347.6,186.8 349.6,186.3 351.6,183.6 353.6,180.3 355.6,176.3 357.6,172.2 359.6,169.5 361.6,167.1 363.6,165.3 365.6,164.1 367.6,163.0 369.6,162.0 371.6,162.2 373.6,162.8 375.6,163.3 377.6,163.8 379.6,164.0 381.6,164.2 383.6,164.6 385.6,165.4 387.6,166.4 389.6,166.5 391.6,166.5 393.6,166.5 395.6,166.5 397.6,166.3 399.6,166.1 401.6,165.9 403.6,165.7 405.6,165.5 407.6,165.7 409.6,165.9 411.6,166.1 413.6,166.3 415.6,166.5 417.6,166.0 419.6,165.4 421.6,164.8 423.6,164.2 425.6,163.7 427.6,158.6 429.6,152.3 431.6,148.8 433.6,146.0 435.6,145.2 437.6,144.9 439.6,144.6 441.6,144.2 443.6,143.9 445.6,143.7 447.6,143.5 449.6,143.7 451.6,144.9 453.6,146.1 455.6,147.3 457.6,148.6 459.6,149.9 461.6,151.2 463.6,152.5 465.6,153.7 467.6,154.7 469.6,157.4 471.6,160.6 473.6,163.9 475.6,167.1 477.6,170.4 479.6,173.6 481.6,176.9 483.6,180.1 485.6,183.0 487.6,185.7 489.6,188.5 491.6,191.0 493.6,193.1 495.6,195.1 497.6,197.1 499.6,199.1 501.6,201.6 503.6,204.3 505.6,207.0 507.6,208.8 509.6,210.5 511.6,212.2 513.6,213.0 515.6,213.7 517.6,214.4 519.6,215.3 521.6,216.3 523.6,217.3 525.6,218.5 527.6,219.7 529.6,220.9 531.6,222.2 533.6,223.6 535.6,225.0 537.6,226.4 539.6,227.8 541.6,229.2 543.6,230.1 545.6,230.9 547.6,231.6 549.6,232.4 551.6,233.0 553.6,233.6 555.6,234.2 557.6,234.8 559.6,235.5 561.6,236.2 563.6,236.9 565.6,237.6 567.6,238.5 569.6,239.6 571.6,240.7 573.6,241.8 575.6,242.4 577.6,242.9 579.6,243.4 581.6,243.9 583.6,244.6 585.6,245.4 587.6,246.1 589.6,246.9 591.6,247.5 593.6,248.2 595.6,248.8 597.6,249.5 599.6,250.0 601.6,250.5 603.6,251.0 605.6,251.5 607.6,251.8 609.6,252.0 611.6,252.2 613.6,252.4 615.6,252.5 617.6,252.6 619.6,252.7 621.6,252.9 623.6,253.0 625.6,253.1 627.6,253.1 629.6,253.2 631.6,253.3 633.6,253.4 635.6,253.4 637.6,253.5 639.6,253.6 641.6,253.7 643.6,253.8 645.6,253.9 647.6,254.0 649.6,254.1 651.6,254.3 653.6,254.5 655.6,254.7 657.6,254.9 659.6,255.1 661.6,255.3"/>
<path d="M275.6,208.8 277.6,208.4 279.6,208.0 281.6,207.5 283.6,206.8 285.6,206.0 287.6,205.1 289.6,204.2 291.6,203.3 293.6,202.5 295.6,201.8 297.6,201.2 299.6,200.5 301.6,199.9 303.6,199.2 305.6,198.4 307.6,197.6 309.6,196.8 311.6,195.8 313.6,194.6 315.6,193.4 317.6,192.2 319.6,190.9 321.6,189.5 323.6,188.0 325.6,186.6 327.6,185.1 329.6,183.8 331.6,182.5 333.6,181.1 335.6,180.2 337.6,179.1 339.6,177.4 341.6,175.2 343.6,173.2 345.6,172.1 347.6,170.8 349.6,168.6 351.6,165.6 353.6,161.7 355.6,156.5 357.6,151.0 359.6,146.5 361.6,144.0 363.6,143.7 365.6,144.1 367.6,145.1 369.6,146.2 371.6,146.9 373.6,146.4 375.6,145.8 377.6,145.8 379.6,146.1 381.6,146.1 383.6,145.5 385.6,144.7 387.6,144.1 389.6,144.1 391.6,144.5 393.6,145.4 395.6,147.0 397.6,149.0 399.6,149.8 401.6,150.1 403.6,149.6 405.6,147.9 407.6,146.1 409.6,144.3 411.6,143.9 413.6,143.9 415.6,142.4 417.6,140.4 419.6,139.1 421.6,137.9 423.6,136.1 425.6,132.8 427.6,128.0 429.6,121.0 431.6,113.7 433.6,108.0 435.6,106.1 437.6,106.2 439.6,107.1 441.6,108.5 443.6,111.3 445.6,113.9 447.6,116.4 449.6,119.8 451.6,123.9 453.6,128.5 455.6,132.1 457.6,135.0 459.6,137.1 461.6,139.0 463.6,140.3 465.6,141.7 467.6,143.0 469.6,144.7 471.6,146.0 473.6,147.9 475.6,150.7 477.6,153.8 479.6,157.2 481.6,160.1 483.6,162.9 485.6,165.4 487.6,168.5 489.6,172.9 491.6,177.1 493.6,180.7 495.6,184.3 497.6,187.8 499.6,191.3 501.6,194.5 503.6,197.6 505.6,200.6 507.6,203.0 509.6,204.8 511.6,206.5 513.6,207.5 515.6,208.3 517.6,209.3 519.6,210.7 521.6,212.2 523.6,213.7 525.6,215.2 527.6,216.9 529.6,218.5 531.6,220.2 533.6,221.8 535.6,223.5 537.6,225.1 539.6,226.6 541.6,228.2 543.6,229.1 545.6,230.0 547.6,230.8 549.6,231.6 551.6,232.4 553.6,233.2 555.6,234.0 557.6,234.8 559.6,235.5 561.6,236.2 563.6,236.8 565.6,237.5 567.6,238.5 569.6,239.6 571.6,240.7 573.6,241.8 575.6,242.4 577.6,242.9 579.6,243.4 581.6,243.9 583.6,244.6 585.6,245.4 587.6,246.1 589.6,246.9 591.6,247.5 593.6,248.2 595.6,248.8 597.6,249.5 599.6,250.0 601.6,250.5 603.6,251.0 605.6,251.5 607.6,251.8 609.6,252.0 611.6,252.2 613.6,252.4 615.6,252.5 617.6,252.6 619.6,252.7 621.6,252.9 623.6,253.0 625.6,253.1 627.6,253.1 629.6,253.2 631.6,253.3 633.6,253.4 635.6,253.4 637.6,253.5 639.6,253.6 641.6,253.7 643.6,253.8 645.6,253.9 647.6,254.0 649.6,254.1 651.6,254.3 653.6,254.5 655.6,254.7 657.6,254.9 659.6,255.1 661.6,255.3"/>
<path d="M275.6,198.4 277.6,197.5 279.6,196.6 281.6,195.8 283.6,195.0 285.6,194.2 287.6,193.5 289.6,192.7 291.6,192.1 293.6,191.5 295.6,190.9 297.6,190.3 299.6,189.7 301.6,189.2 303.6,188.5 305.6,187.5 307.6,186.6 309.6,185.5 311.6,184.5 313.6,183.5 315.6,182.4 317.6,181.5 319.6,180.5 321.6,179.3 323.6,178.0 325.6,176.7 327.6,175.1 329.6,173.3 331.6,171.4 333.6,169.6 335.6,168.4 337.6,167.4 339.6,166.3 341.6,164.7 343.6,163.3 345.6,162.1 347.6,160.4 349.6,157.9 351.6,154.7 353.6,150.8 355.6,145.9 357.6,140.8 359.6,137.1 361.6,135.9 363.6,137.4 365.6,139.4 367.6,141.7 369.6,143.7 371.6,145.0 373.6,144.9 375.6,144.6 377.6,144.8 379.6,144.9 381.6,144.7 383.6,144.1 385.6,143.6 387.6,143.8 389.6,144.7 391.6,145.8 393.6,146.7 395.6,147.4 397.6,147.8 399.6,146.9 401.6,145.2 403.6,143.0 405.6,140.0 407.6,137.7 409.6,135.9 411.6,136.0 413.6,136.5 415.6,135.1 417.6,132.6 419.6,130.2 421.6,128.3 423.6,126.2 425.6,122.8 427.6,118.8 429.6,112.8 431.6,105.9 433.6,100.5 435.6,98.8 437.6,98.5 439.6,98.1 441.6,97.3 443.6,98.3 445.6,99.1 447.6,100.3 449.6,102.8 451.6,106.6 453.6,112.3 455.6,117.7 457.6,122.5 459.6,126.1 461.6,129.3 463.6,131.4 465.6,133.6 467.6,135.8 469.6,137.5 471.6,138.3 473.6,139.3 475.6,141.3 477.6,143.8 479.6,147.4 481.6,151.1 483.6,154.8 485.6,157.9 487.6,161.4 489.6,166.3 491.6,171.3 493.6,176.0 495.6,180.5 497.6,184.6 499.6,188.3 501.6,191.7 503.6,194.9 505.6,197.9 507.6,200.6 509.6,202.5 511.6,204.3 513.6,205.6 515.6,206.9 517.6,208.1 519.6,209.8 521.6,211.4 523.6,212.9 525.6,214.5 527.6,216.1 529.6,217.8 531.6,219.5 533.6,221.2 535.6,222.8 537.6,224.3 539.6,225.8 541.6,227.3 543.6,228.3 545.6,229.2 547.6,230.0 549.6,230.9 551.6,231.8 553.6,232.8 555.6,233.8 557.6,234.8 559.6,235.4 561.6,236.0 563.6,236.7 565.6,237.4 567.6,238.4 569.6,239.5 571.6,240.7 573.6,241.8 575.6,242.4 577.6,242.9 579.6,243.4 581.6,243.9 583.6,244.6 585.6,245.4 587.6,246.1 589.6,246.9 591.6,247.5 593.6,248.2 595.6,248.8 597.6,249.5 599.6,250.0 601.6,250.5 603.6,251.0 605.6,251.5 607.6,251.8 609.6,252.0 611.6,252.2 613.6,252.4 615.6,252.5 617.6,252.6 619.6,252.7 621.6,252.9 623.6,253.0 625.6,253.1 627.6,253.1 629.6,253.2 631.6,253.3 633.6,253.4 635.6,253.4 637.6,253.5 639.6,253.6 641.6,253.7 643.6,253.8 645.6,253.9 647.6,254.0 649.6,254.1 651.6,254.3 653.6,254.5 655.6,254.7 657.6,254.9 659.6,255.1 661.6,255.3"/>
<path d="M275.6,206.2 277.6,206.0 279.6,205.8 281.6,205.5 283.6,205.1 285.6,204.7 287.6,204.5 289.6,204.4 291.6,204.1 293.6,203.6 295.6,203.0 297.6,202.2 299.6,201.5 301.6,200.7 303.6,199.8 305.6,198.8 307.6,197.9 309.6,197.1 311.6,196.2 313.6,195.2 315.6,194.1 317.6,192.9 319.6,191.8 321.6,190.7 323.6,189.6 325.6,188.4 327.6,186.8 329.6,185.1 331.6,183.5 333.6,181.9 335.6,181.1 337.6,180.5 339.6,179.6 341.6,178.3 343.6,177.0 345.6,176.1 347.6,175.0 349.6,173.4 351.6,170.7 353.6,167.3 355.6,162.4 357.6,157.2 359.6,152.9 361.6,149.7 363.6,147.9 365.6,146.7 367.6,146.3 369.6,146.6 371.6,147.0 373.6,146.6 375.6,146.2 377.6,146.1 379.6,145.5 381.6,144.3 383.6,142.6 385.6,141.2 387.6,140.4 389.6,140.8 391.6,141.6 393.6,142.8 395.6,143.8 397.6,144.6 399.6,144.3 401.6,142.8 403.6,140.3 405.6,137.1 407.6,134.4 409.6,132.5 411.6,132.2 413.6,132.2 415.6,130.6 417.6,128.5 419.6,126.7 421.6,124.6 423.6,121.0 425.6,114.6 427.6,107.4 429.6,100.0 431.6,93.3 433.6,88.8 435.6,87.8 437.6,88.5 439.6,89.2 441.6,89.5 443.6,91.0 445.6,92.4 447.6,93.9 449.6,96.7 451.6,100.7 453.6,106.2 455.6,111.9 457.6,117.4 459.6,121.9 461.6,125.9 463.6,128.3 465.6,130.6 467.6,132.7 469.6,134.2 471.6,135.1 473.6,136.7 475.6,139.7 477.6,143.1 479.6,147.6 481.6,152.1 483.6,156.7 485.6,160.8 487.6,165.1 489.6,170.3 491.6,175.0 493.6,179.1 495.6,183.4 497.6,187.5 499.6,191.2 501.6,194.3 503.6,197.1 505.6,199.8 507.6,202.2 509.6,204.1 511.6,206.1 513.6,207.4 515.6,208.5 517.6,209.5 519.6,211.0 521.6,212.6 523.6,214.1 525.6,215.7 527.6,217.2 529.6,218.8 531.6,220.4 533.6,222.0 535.6,223.5 537.6,224.9 539.6,226.4 541.6,227.8 543.6,228.8 545.6,229.6 547.6,230.5 549.6,231.3 551.6,232.1 553.6,233.0 555.6,233.9 557.6,234.8 559.6,235.5 561.6,236.2 563.6,236.8 565.6,237.5 567.6,238.5 569.6,239.6 571.6,240.7 573.6,241.8 575.6,242.4 577.6,242.9 579.6,243.4 581.6,243.9 583.6,244.6 585.6,245.4 587.6,246.1 589.6,246.9 591.6,247.5 593.6,248.2 595.6,248.8 597.6,249.5 599.6,250.0 601.6,250.5 603.6,251.0 605.6,251.5 607.6,251.8 609.6,252.0 611.6,252.2 613.6,252.4 615.6,252.5 617.6,252.6 619.6,252.7 621.6,252.9 623.6,253.0 625.6,253.1 627.6,253.1 629.6,253.2 631.6,253.3 633.6,253.4 635.6,253.4 637.6,253.5 639.6,253.6 641.6,253.7 643.6,253.8 645.6,253.9 647.6,254.0 649.6,254.1 651.6,254.3 653.6,254.5 655.6,254.7 657.6,254.9 659.6,255.1 661.6,255.3"/>
<path d="M275.6,197.4 277.6,196.7 279.6,195.9 281.6,194.9 283.6,193.9 285.6,193.0 287.6,192.2 289.6,191.6 291.6,191.0 293.6,190.4 295.6,189.5 297.6,188.4 299.6,187.3 301.6,186.3 303.6,185.3 305.6,183.8 307.6,182.4 309.6,181.0 311.6,179.7 313.6,178.5 315.6,177.2 317.6,175.9 319.6,174.6 321.6,173.2 323.6,172.0 325.6,170.8 327.6,169.5 329.6,168.0 331.6,166.5 333.6,165.0 335.6,163.9 337.6,162.9 339.6,161.7 341.6,160.1 343.6,158.4 345.6,156.2 347.6,153.7 349.6,150.7 351.6,146.4 353.6,141.7 355.6,136.4 357.6,131.2 359.6,128.3 361.6,127.6 363.6,129.4 365.6,131.5 367.6,133.6 369.6,134.0 371.6,133.6 373.6,132.8 375.6,132.0 377.6,131.8 379.6,132.0 381.6,132.0 383.6,131.5 385.6,130.9 387.6,130.6 389.6,130.8 391.6,131.7 393.6,133.0 395.6,134.3 397.6,135.4 399.6,135.6 401.6,133.2 403.6,129.5 405.6,125.2 407.6,121.1 409.6,117.6 411.6,115.4 413.6,114.0 415.6,112.9 417.6,111.6 419.6,110.1 421.6,108.2 423.6,105.4 425.6,99.9 427.6,94.1 429.6,89.0 431.6,84.7 433.6,81.9 435.6,81.6 437.6,81.9 439.6,81.3 441.6,80.7 443.6,82.1 445.6,84.6 447.6,87.8 449.6,91.9 451.6,96.8 453.6,102.9 455.6,109.4 457.6,115.5 459.6,120.3 461.6,124.2 463.6,126.5 465.6,128.4 467.6,130.1 469.6,131.1 471.6,131.6 473.6,132.7 475.6,135.1 477.6,137.9 479.6,141.5 481.6,145.1 483.6,148.7 485.6,151.6 487.6,154.7 489.6,159.1 491.6,163.6 493.6,167.9 495.6,172.0 497.6,176.1 499.6,179.9 501.6,183.8 503.6,187.8 505.6,191.5 507.6,194.8 509.6,197.6 511.6,199.7 513.6,201.2 515.6,202.6 517.6,204.0 519.6,205.7 521.6,207.6 523.6,209.7 525.6,211.8 527.6,213.9 529.6,215.9 531.6,217.7 533.6,219.5 535.6,221.1 537.6,222.6 539.6,224.1 541.6,225.4 543.6,226.3 545.6,227.3 547.6,228.4 549.6,229.4 551.6,230.6 553.6,231.7 555.6,232.8 557.6,233.9 559.6,234.9 561.6,235.7 563.6,236.5 565.6,237.3 567.6,238.3 569.6,239.4 571.6,240.6 573.6,241.8 575.6,242.4 577.6,242.9 579.6,243.4 581.6,243.9 583.6,244.6 585.6,245.4 587.6,246.1 589.6,246.9 591.6,247.5 593.6,248.2 595.6,248.8 597.6,249.5 599.6,250.0 601.6,250.5 603.6,251.0 605.6,251.5 607.6,251.8 609.6,252.0 611.6,252.2 613.6,252.4 615.6,252.5 617.6,252.6 619.6,252.7 621.6,252.9 623.6,253.0 625.6,253.1 627.6,253.1 629.6,253.2 631.6,253.3 633.6,253.4 635.6,253.4 637.6,253.5 639.6,253.6 641.6,253.7 643.6,253.8 645.6,253.9 647.6,254.0 649.6,254.1 651.6,254.3 653.6,254.5 655.6,254.7 657.6,254.9 659.6,255.1 661.6,255.3"/>
<path d="M275.6,208.9 277.6,208.4 279.6,208.0 281.6,207.6 283.6,207.0 285.6,206.2 287.6,205.1 289.6,203.9 291.6,202.7 293.6,201.7 295.6,200.8 297.6,200.2 299.6,199.8 301.6,199.5 303.6,199.2 305.6,198.7 307.6,198.1 309.6,197.4 311.6,196.4 313.6,195.5 315.6,194.5 317.6,193.7 319.6,192.8 321.6,191.9 323.6,191.0 325.6,190.1 327.6,189.0 329.6,187.9 331.6,186.8 333.6,185.7 335.6,184.9 337.6,183.6 339.6,181.9 341.6,179.8 343.6,178.1 345.6,176.9 347.6,175.8 349.6,174.3 351.6,171.7 353.6,168.6 355.6,164.7 357.6,161.0 359.6,158.9 361.6,157.9 363.6,157.7 365.6,157.8 367.6,157.9 369.6,157.8 371.6,158.4 373.6,159.1 375.6,160.1 377.6,161.6 379.6,163.1 381.6,164.5 383.6,165.4 385.6,165.9 387.6,166.4 389.6,166.5 391.6,166.5 393.6,166.5 395.6,166.5 397.6,166.3 399.6,166.1 401.6,165.9 403.6,165.7 405.6,165.5 407.6,165.7 409.6,165.9 411.6,166.1 413.6,166.3 415.6,166.5 417.6,166.0 419.6,165.4 421.6,164.8 423.6,164.2 425.6,163.7 427.6,158.6 429.6,152.3 431.6,148.8 433.6,146.0 435.6,145.2 437.6,144.9 439.6,144.6 441.6,143.6 443.6,143.2 445.6,143.2 447.6,143.2 449.6,143.7 451.6,144.9 453.6,145.7 455.6,146.0 457.6,146.3 459.6,146.8 461.6,147.6 463.6,148.7 465.6,149.6 467.6,150.5 469.6,152.5 471.6,154.7 473.6,156.9 475.6,159.2 477.6,161.5 479.6,164.4 481.6,167.9 483.6,171.8 485.6,175.2 487.6,178.4 489.6,181.8 491.6,185.1 493.6,188.0 495.6,190.8 497.6,193.4 499.6,195.9 501.6,198.4 503.6,200.9 505.6,203.4 507.6,205.3 509.6,206.7 511.6,208.2 513.6,209.0 515.6,209.8 517.6,210.6 519.6,211.8 521.6,213.2 523.6,214.5 525.6,215.9 527.6,217.3 529.6,218.6 531.6,220.1 533.6,221.7 535.6,223.3 537.6,224.9 539.6,226.4 541.6,227.8 543.6,228.7 545.6,229.4 547.6,230.2 549.6,231.0 551.6,231.9 553.6,232.9 555.6,233.8 557.6,234.8 559.6,235.5 561.6,236.2 563.6,236.8 565.6,237.5 567.6,238.5 569.6,239.6 571.6,240.7 573.6,241.8 575.6,242.4 577.6,242.9 579.6,243.4 581.6,243.9 583.6,244.6 585.6,245.4 587.6,246.1 589.6,246.9 591.6,247.5 593.6,248.2 595.6,248.8 597.6,249.5 599.6,250.0 601.6,250.5 603.6,251.0 605.6,251.5 607.6,251.8 609.6,252.0 611.6,252.2 613.6,252.4 615.6,252.5 617.6,252.6 619.6,252.7 621.6,252.9 623.6,253.0 625.6,253.1 627.6,253.1 629.6,253.2 631.6,253.3 633.6,253.4 635.6,253.4 637.6,253.5 639.6,253.6 641.6,253.7 643.6,253.8 645.6,253.9 647.6,254.0 649.6,254.1 651.6,254.3 653.6,254.5 655.6,254.7 657.6,254.9 659.6,255.1 661.6,255.3"/>
<path d="M275.6,204.5 277.6,203.9 279.6,203.4 281.6,202.9 283.6,202.4 285.6,201.9 287.6,201.6 289.6,201.2 291.6,200.8 293.6,200.3 295.6,199.8 297.6,199.4 299.6,198.9 301.6,198.5 303.6,197.9 305.6,197.1 307.6,195.9 309.6,194.5 311.6,192.8 313.6,191.2 315.6,189.7 317.6,188.5 319.6,187.3 321.6,186.1 323.6,185.0 325.6,183.9 327.6,182.5 329.6,181.1 331.6,179.7 333.6,178.2 335.6,177.4 337.6,176.8 339.6,176.1 341.6,175.2 343.6,174.6 345.6,174.5 347.6,173.8 349.6,172.0 351.6,169.2 353.6,165.8 355.6,161.3 357.6,156.7 359.6,153.2 361.6,150.9 363.6,150.1 365.6,149.9 367.6,150.4 369.6,151.0 371.6,151.6 373.6,151.4 375.6,151.2 377.6,151.6 379.6,152.3 381.6,153.1 383.6,153.9 385.6,155.1 387.6,156.7 389.6,158.4 391.6,159.6 393.6,160.7 395.6,161.7 397.6,162.5 399.6,162.8 401.6,162.7 403.6,162.2 405.6,161.4 407.6,161.2 409.6,161.5 411.6,162.4 413.6,163.2 415.6,163.5 417.6,162.9 419.6,162.4 421.6,161.9 423.6,161.3 425.6,160.2 427.6,154.6 429.6,147.7 431.6,143.1 433.6,139.3 435.6,137.4 437.6,135.3 439.6,132.3 441.6,128.5 443.6,125.7 445.6,124.1 447.6,123.4 449.6,123.9 451.6,125.0 453.6,126.6 455.6,128.3 457.6,130.4 459.6,132.5 461.6,134.8 463.6,136.5 465.6,138.4 467.6,140.6 469.6,143.1 471.6,145.5 473.6,148.6 475.6,152.4 477.6,156.6 479.6,161.4 481.6,165.7 483.6,169.6 485.6,172.6 487.6,175.6 489.6,179.3 491.6,183.0 493.6,186.0 495.6,188.7 497.6,191.2 499.6,193.7 501.6,196.4 503.6,199.1 505.6,201.8 507.6,204.0 509.6,205.9 511.6,207.7 513.6,208.7 515.6,209.7 517.6,210.8 519.6,212.3 521.6,213.8 523.6,215.2 525.6,216.6 527.6,217.9 529.6,219.2 531.6,220.7 533.6,222.2 535.6,223.7 537.6,225.2 539.6,226.6 541.6,228.0 543.6,229.0 545.6,229.8 547.6,230.7 549.6,231.5 551.6,232.3 553.6,233.2 555.6,234.0 557.6,234.8 559.6,235.5 561.6,236.2 563.6,236.8 565.6,237.5 567.6,238.5 569.6,239.6 571.6,240.7 573.6,241.8 575.6,242.4 577.6,242.9 579.6,243.4 581.6,243.9 583.6,244.6 585.6,245.4 587.6,246.1 589.6,246.9 591.6,247.5 593.6,248.2 595.6,248.8 597.6,249.5 599.6,250.0 601.6,250.5 603.6,251.0 605.6,251.5 607.6,251.8 609.6,252.0 611.6,252.2 613.6,252.4 615.6,252.5 617.6,252.6 619.6,252.7 621.6,252.9 623.6,253.0 625.6,253.1 627.6,253.1 629.6,253.2 631.6,253.3 633.6,253.4 635.6,253.4 637.6,253.5 639.6,253.6 641.6,253.7 643.6,253.8 645.6,253.9 647.6,254.0 649.6,254.1 651.6,254.3 653.6,254.5 655.6,254.7 657.6,254.9 659.6,255.1 661.6,255.3"/>
<path d="M275.6,205.2 277.6,204.6 279.6,204.0 281.6,203.4 283.6,202.5 285.6,201.5 287.6,200.3 289.6,199.2 291.6,198.3 293.6,197.7 295.6,197.4 297.6,197.0 299.6,196.5 301.6,196.0 303.6,195.4 305.6,194.6 307.6,193.8 309.6,192.9 311.6,192.0 313.6,191.2 315.6,190.5 317.6,189.9 319.6,189.2 321.6,188.3 323.6,187.3 325.6,186.3 327.6,185.1 329.6,183.9 331.6,182.6 333.6,181.3 335.6,180.5 337.6,180.0 339.6,179.4 341.6,178.6 343.6,178.2 345.6,178.3 347.6,178.2 349.6,177.5 351.6,175.3 353.6,172.1 355.6,167.8 357.6,163.4 359.6,160.3 361.6,158.6 363.6,158.1 365.6,158.3 367.6,158.5 369.6,158.5 371.6,159.3 373.6,160.3 375.6,161.6 377.6,163.2 379.6,164.4 381.6,164.9 383.6,165.4 385.6,165.9 387.6,166.4 389.6,166.5 391.6,166.5 393.6,166.5 395.6,166.5 397.6,166.3 399.6,165.7 401.6,165.0 403.6,164.5 405.6,163.9 407.6,163.5 409.6,163.0 411.6,162.4 413.6,161.9 415.6,161.3 417.6,160.5 419.6,160.0 421.6,159.7 423.6,159.0 425.6,157.5 427.6,151.7 429.6,144.8 431.6,140.5 433.6,138.1 435.6,138.5 437.6,139.6 439.6,140.4 441.6,140.6 443.6,140.9 445.6,140.8 447.6,140.4 449.6,140.1 451.6,140.8 453.6,142.1 455.6,143.7 457.6,145.5 459.6,147.0 461.6,148.3 463.6,149.2 465.6,149.9 467.6,150.6 469.6,152.6 471.6,154.9 473.6,157.4 475.6,160.3 477.6,163.2 479.6,166.3 481.6,169.2 483.6,172.1 485.6,174.8 487.6,177.7 489.6,181.3 491.6,184.9 493.6,188.0 495.6,190.9 497.6,193.5 499.6,195.7 501.6,198.0 503.6,200.4 505.6,202.7 507.6,204.6 509.6,206.2 511.6,208.0 513.6,209.4 515.6,210.6 517.6,211.9 519.6,213.4 521.6,214.7 523.6,215.9 525.6,217.2 527.6,218.4 529.6,219.7 531.6,221.2 533.6,222.7 535.6,224.2 537.6,225.7 539.6,227.1 541.6,228.6 543.6,229.5 545.6,230.3 547.6,231.1 549.6,231.9 551.6,232.6 553.6,233.3 555.6,234.0 557.6,234.8 559.6,235.5 561.6,236.2 563.6,236.8 565.6,237.6 567.6,238.5 569.6,239.6 571.6,240.7 573.6,241.8 575.6,242.4 577.6,242.9 579.6,243.4 581.6,243.9 583.6,244.6 585.6,245.4 587.6,246.1 589.6,246.9 591.6,247.5 593.6,248.2 595.6,248.8 597.6,249.5 599.6,250.0 601.6,250.5 603.6,251.0 605.6,251.5 607.6,251.8 609.6,252.0 611.6,252.2 613.6,252.4 615.6,252.5 617.6,252.6 619.6,252.7 621.6,252.9 623.6,253.0 625.6,253.1 627.6,253.1 629.6,253.2 631.6,253.3 633.6,253.4 635.6,253.4 637.6,253.5 639.6,253.6 641.6,253.7 643.6,253.8 645.6,253.9 647.6,254.0 649.6,254.1 651.6,254.3 653.6,254.5 655.6,254.7 657.6,254.9 659.6,255.1 661.6,255.3"/>
<path d="M275.6,196.0 277.6,195.1 279.6,194.3 281.6,193.6 283.6,193.1 285.6,192.5 287.6,191.9 289.6,191.2 291.6,190.6 293.6,190.1 295.6,189.7 297.6,189.4 299.6,189.2 301.6,189.0 303.6,188.6 305.6,187.7 307.6,186.7 309.6,185.6 311.6,184.7 313.6,183.7 315.6,182.6 317.6,181.6 319.6,180.5 321.6,179.2 323.6,178.0 325.6,176.6 327.6,174.9 329.6,173.1 331.6,171.4 333.6,169.7 335.6,168.6 337.6,167.7 339.6,166.4 341.6,164.3 343.6,162.2 345.6,160.1 347.6,157.5 349.6,154.1 351.6,149.5 353.6,144.2 355.6,138.2 357.6,132.0 359.6,127.7 361.6,125.8 363.6,127.1 365.6,129.6 367.6,132.6 369.6,133.8 371.6,134.2 373.6,133.8 375.6,133.2 377.6,133.2 379.6,133.7 381.6,133.7 383.6,133.3 385.6,133.0 387.6,133.2 389.6,133.9 391.6,134.9 393.6,136.0 395.6,137.0 397.6,138.2 399.6,138.9 401.6,138.0 403.6,136.5 405.6,134.2 407.6,131.6 409.6,128.7 411.6,126.5 413.6,124.5 415.6,122.2 417.6,120.3 419.6,119.0 421.6,118.1 423.6,116.7 425.6,112.9 427.6,108.2 429.6,101.8 431.6,94.8 433.6,89.2 435.6,87.0 437.6,86.6 439.6,86.7 441.6,87.1 443.6,89.2 445.6,91.3 447.6,93.6 449.6,97.0 451.6,101.5 453.6,107.4 455.6,113.4 457.6,119.1 459.6,123.7 461.6,127.7 463.6,130.1 465.6,132.2 467.6,134.1 469.6,135.6 471.6,136.7 473.6,138.4 475.6,141.5 477.6,145.0 479.6,149.4 481.6,153.6 483.6,157.2 485.6,159.8 487.6,162.7 489.6,167.2 491.6,172.1 493.6,176.7 495.6,181.0 497.6,185.0 499.6,188.5 501.6,191.5 503.6,194.2 505.6,196.6 507.6,198.8 509.6,200.7 511.6,202.5 513.6,203.8 515.6,204.9 517.6,206.0 519.6,207.7 521.6,209.4 523.6,211.3 525.6,213.1 527.6,214.8 529.6,216.6 531.6,218.3 533.6,220.2 535.6,222.1 537.6,223.9 539.6,225.7 541.6,227.3 543.6,228.4 545.6,229.2 547.6,230.1 549.6,231.0 551.6,231.9 553.6,232.9 555.6,233.9 557.6,234.8 559.6,235.5 561.6,236.2 563.6,236.8 565.6,237.5 567.6,238.5 569.6,239.6 571.6,240.7 573.6,241.8 575.6,242.4 577.6,242.9 579.6,243.4 581.6,243.9 583.6,244.6 585.6,245.4 587.6,246.1 589.6,246.9 591.6,247.5 593.6,248.2 595.6,248.8 597.6,249.5 599.6,250.0 601.6,250.5 603.6,251.0 605.6,251.5 607.6,251.8 609.6,252.0 611.6,252.2 613.6,252.4 615.6,252.5 617.6,252.6 619.6,252.7 621.6,252.9 623.6,253.0 625.6,253.1 627.6,253.1 629.6,253.2 631.6,253.3 633.6,253.4 635.6,253.4 637.6,253.5 639.6,253.6 641.6,253.7 643.6,253.8 645.6,253.9 647.6,254.0 649.6,254.1 651.6,254.3 653.6,254.5 655.6,254.7 657.6,254.9 659.6,255.1 661.6,255.3"/>
<path d="M275.6,197.3 277.6,196.4 279.6,195.4 281.6,194.6 283.6,193.9 285.6,193.2 287.6,192.5 289.6,191.7 291.6,191.0 293.6,190.3 295.6,189.5 297.6,188.6 299.6,187.8 301.6,187.0 303.6,186.1 305.6,184.7 307.6,183.3 309.6,181.9 311.6,180.6 313.6,179.3 315.6,178.2 317.6,177.2 319.6,176.2 321.6,174.9 323.6,173.3 325.6,171.7 327.6,169.8 329.6,168.1 331.6,166.4 333.6,164.8 335.6,163.4 337.6,162.1 339.6,160.9 341.6,159.6 343.6,158.3 345.6,157.0 347.6,155.7 349.6,153.9 351.6,150.9 353.6,147.1 355.6,142.0 357.6,136.4 359.6,132.5 361.6,131.1 363.6,132.5 365.6,134.6 367.6,137.0 369.6,138.2 371.6,138.9 373.6,138.6 375.6,138.4 377.6,138.9 379.6,139.9 381.6,140.5 383.6,140.7 385.6,141.0 387.6,141.9 389.6,143.7 391.6,145.9 393.6,147.9 395.6,149.5 397.6,150.5 399.6,150.3 401.6,149.7 403.6,148.8 405.6,147.0 407.6,145.3 409.6,143.8 411.6,143.9 413.6,144.5 415.6,143.5 417.6,141.8 419.6,140.5 421.6,139.6 423.6,138.6 425.6,136.9 427.6,134.0 429.6,129.3 431.6,125.5 433.6,123.8 435.6,125.6 437.6,128.5 439.6,130.7 441.6,131.6 443.6,131.5 445.6,130.4 447.6,129.2 449.6,129.3 451.6,131.4 453.6,134.9 455.6,138.5 457.6,141.8 459.6,144.2 461.6,145.9 463.6,147.1 465.6,148.2 467.6,149.5 469.6,152.1 471.6,154.9 473.6,157.7 475.6,160.5 477.6,163.2 479.6,166.0 481.6,169.0 483.6,172.4 485.6,175.6 487.6,178.7 489.6,182.1 491.6,185.1 493.6,187.4 495.6,189.6 497.6,191.7 499.6,194.0 501.6,196.5 503.6,199.1 505.6,201.8 507.6,203.9 509.6,205.6 511.6,207.1 513.6,207.9 515.6,208.6 517.6,209.3 519.6,210.7 521.6,212.2 523.6,213.9 525.6,215.5 527.6,217.1 529.6,218.7 531.6,220.2 533.6,221.7 535.6,223.3 537.6,224.8 539.6,226.2 541.6,227.7 543.6,228.6 545.6,229.4 547.6,230.1 549.6,230.9 551.6,231.9 553.6,232.8 555.6,233.8 557.6,234.8 559.6,235.5 561.6,236.2 563.6,236.8 565.6,237.5 567.6,238.5 569.6,239.6 571.6,240.7 573.6,241.8 575.6,242.4 577.6,242.9 579.6,243.4 581.6,243.9 583.6,244.6 585.6,245.4 587.6,246.1 589.6,246.9 591.6,247.5 593.6,248.2 595.6,248.8 597.6,249.5 599.6,250.0 601.6,250.5 603.6,251.0 605.6,251.5 607.6,251.8 609.6,252.0 611.6,252.2 613.6,252.4 615.6,252.5 617.6,252.6 619.6,252.7 621.6,252.9 623.6,253.0 625.6,253.1 627.6,253.1 629.6,253.2 631.6,253.3 633.6,253.4 635.6,253.4 637.6,253.5 639.6,253.6 641.6,253.7 643.6,253.8 645.6,253.9 647.6,254.0 649.6,254.1 651.6,254.3 653.6,254.5 655.6,254.7 657.6,254.9 659.6,255.1 661.6,255.3"/>
<path d="M275.6,209.5 277.6,209.2 279.6,208.9 281.6,208.6 283.6,208.3 285.6,208.0 287.6,207.7 289.6,207.5 291.6,207.0 293.6,206.5 295.6,206.0 297.6,205.4 299.6,204.9 301.6,204.4 303.6,203.9 305.6,203.4 307.6,202.9 309.6,202.3 311.6,200.7 313.6,199.0 315.6,197.5 317.6,196.0 319.6,194.8 321.6,193.6 323.6,192.4 325.6,191.4 327.6,190.0 329.6,188.6 331.6,187.2 333.6,185.8 335.6,185.1 337.6,184.4 339.6,183.4 341.6,181.9 343.6,180.4 345.6,179.3 347.6,178.1 349.6,176.4 351.6,173.2 353.6,169.2 355.6,164.0 357.6,158.7 359.6,154.9 361.6,152.9 363.6,152.6 365.6,153.1 367.6,153.7 369.6,154.2 371.6,155.2 373.6,156.0 375.6,157.1 377.6,158.7 379.6,160.4 381.6,161.9 383.6,163.3 385.6,164.7 387.6,166.1 389.6,166.5 391.6,166.5 393.6,166.0 395.6,164.8 397.6,163.5 399.6,162.3 401.6,161.6 403.6,160.9 405.6,159.7 407.6,158.5 409.6,157.2 411.6,156.5 413.6,156.2 415.6,155.2 417.6,153.4 419.6,151.5 421.6,149.6 423.6,147.6 425.6,144.6 427.6,139.3 429.6,132.6 431.6,127.0 433.6,122.8 435.6,121.4 437.6,120.7 439.6,119.9 441.6,119.2 443.6,120.1 445.6,121.2 447.6,121.9 449.6,123.2 451.6,125.4 453.6,128.9 455.6,132.3 457.6,135.4 459.6,137.5 461.6,139.3 463.6,140.3 465.6,141.5 467.6,142.8 469.6,144.7 471.6,146.2 473.6,147.8 475.6,149.9 477.6,152.1 479.6,155.1 481.6,158.2 483.6,161.2 485.6,163.8 487.6,166.8 489.6,171.3 491.6,175.8 493.6,179.8 495.6,183.8 497.6,187.4 499.6,190.9 501.6,194.1 503.6,197.1 505.6,199.9 507.6,202.2 509.6,203.9 511.6,205.7 513.6,206.8 515.6,207.8 517.6,208.7 519.6,210.1 521.6,211.7 523.6,213.2 525.6,214.6 527.6,216.1 529.6,217.5 531.6,219.1 533.6,220.7 535.6,222.4 537.6,224.0 539.6,225.5 541.6,226.9 543.6,227.9 545.6,228.7 547.6,229.6 549.6,230.4 551.6,231.5 553.6,232.5 555.6,233.6 557.6,234.6 559.6,235.4 561.6,236.1 563.6,236.8 565.6,237.5 567.6,238.5 569.6,239.6 571.6,240.7 573.6,241.8 575.6,242.4 577.6,242.9 579.6,243.4 581.6,243.9 583.6,244.6 585.6,245.4 587.6,246.1 589.6,246.9 591.6,247.5 593.6,248.2 595.6,248.8 597.6,249.5 599.6,250.0 601.6,250.5 603.6,251.0 605.6,251.5 607.6,251.8 609.6,252.0 611.6,252.2 613.6,252.4 615.6,252.5 617.6,252.6 619.6,252.7 621.6,252.9 623.6,253.0 625.6,253.1 627.6,253.1 629.6,253.2 631.6,253.3 633.6,253.4 635.6,253.4 637.6,253.5 639.6,253.6 641.6,253.7 643.6,253.8 645.6,253.9 647.6,254.0 649.6,254.1 651.6,254.3 653.6,254.5 655.6,254.7 657.6,254.9 659.6,255.1 661.6,255.3"/>
<path d="M275.6,192.9 277.6,192.5 279.6,192.0 281.6,191.2 283.6,190.2 285.6,189.2 287.6,188.2 289.6,187.4 291.6,187.0 293.6,186.7 295.6,186.3 297.6,185.8 299.6,185.1 301.6,184.3 303.6,183.3 305.6,181.9 307.6,180.5 309.6,179.1 311.6,177.8 313.6,176.6 315.6,175.6 317.6,174.7 319.6,173.7 321.6,172.3 323.6,171.0 325.6,169.6 327.6,168.2 329.6,166.9 331.6,165.7 333.6,164.5 335.6,163.5 337.6,162.5 339.6,161.2 341.6,159.5 343.6,157.7 345.6,155.5 347.6,153.2 349.6,150.3 351.6,146.1 353.6,141.3 355.6,135.8 357.6,130.1 359.6,126.8 361.6,125.9 363.6,127.7 365.6,129.8 367.6,131.9 369.6,132.1 371.6,131.6 373.6,130.9 375.6,130.5 377.6,131.1 379.6,132.4 381.6,133.6 383.6,134.2 385.6,134.4 387.6,134.8 389.6,135.6 391.6,136.6 393.6,137.5 395.6,138.0 397.6,138.5 399.6,138.5 401.6,137.1 403.6,135.4 405.6,133.5 407.6,131.9 409.6,130.6 411.6,130.4 413.6,130.6 415.6,129.7 417.6,128.4 419.6,127.8 421.6,127.5 423.6,126.5 425.6,123.2 427.6,118.6 429.6,111.8 431.6,104.4 433.6,98.8 435.6,96.4 437.6,95.1 439.6,93.2 441.6,91.0 443.6,90.7 445.6,90.9 447.6,91.9 449.6,94.8 451.6,98.9 453.6,104.4 455.6,109.9 457.6,114.9 459.6,118.8 461.6,122.3 463.6,124.6 465.6,126.8 467.6,128.9 469.6,130.3 471.6,131.1 473.6,132.4 475.6,134.7 477.6,137.3 479.6,140.9 481.6,144.7 483.6,148.6 485.6,152.4 487.6,156.4 489.6,161.7 491.6,167.1 493.6,172.0 495.6,176.7 497.6,181.1 499.6,185.2 501.6,188.9 503.6,192.5 505.6,195.6 507.6,198.3 509.6,200.3 511.6,201.9 513.6,202.8 515.6,203.7 517.6,204.6 519.6,206.1 521.6,207.8 523.6,209.8 525.6,211.9 527.6,213.8 529.6,215.6 531.6,217.2 533.6,218.7 535.6,220.2 537.6,221.8 539.6,223.5 541.6,225.0 543.6,226.1 545.6,227.0 547.6,227.8 549.6,228.7 551.6,229.7 553.6,230.8 555.6,231.9 557.6,233.0 559.6,234.0 561.6,235.0 563.6,236.0 565.6,237.1 567.6,238.1 569.6,239.3 571.6,240.5 573.6,241.7 575.6,242.4 577.6,242.9 579.6,243.4 581.6,243.9 583.6,244.6 585.6,245.4 587.6,246.1 589.6,246.9 591.6,247.5 593.6,248.2 595.6,248.8 597.6,249.5 599.6,250.0 601.6,250.5 603.6,251.0 605.6,251.5 607.6,251.8 609.6,252.0 611.6,252.2 613.6,252.4 615.6,252.5 617.6,252.6 619.6,252.7 621.6,252.9 623.6,253.0 625.6,253.1 627.6,253.1 629.6,253.2 631.6,253.3 633.6,253.4 635.6,253.4 637.6,253.5 639.6,253.6 641.6,253.7 643.6,253.8 645.6,253.9 647.6,254.0 649.6,254.1 651.6,254.3 653.6,254.5 655.6,254.7 657.6,254.9 659.6,255.1 661.6,255.3"/>
<path d="M275.6,205.2 277.6,204.8 279.6,204.5 281.6,204.3 283.6,204.0 285.6,203.7 287.6,203.1 289.6,202.2 291.6,201.0 293.6,199.7 295.6,198.4 297.6,197.1 299.6,196.1 301.6,195.2 303.6,194.2 305.6,193.0 307.6,191.7 309.6,190.4 311.6,189.4 313.6,188.4 315.6,187.6 317.6,186.8 319.6,185.8 321.6,184.5 323.6,183.1 325.6,181.7 327.6,180.2 329.6,178.7 331.6,177.2 333.6,175.7 335.6,175.0 337.6,174.1 339.6,172.8 341.6,170.4 343.6,168.1 345.6,166.5 347.6,164.4 349.6,161.2 351.6,157.5 353.6,153.1 355.6,147.6 357.6,142.1 359.6,137.8 361.6,135.7 363.6,136.0 365.6,136.7 367.6,137.7 369.6,137.9 371.6,137.3 373.6,136.1 375.6,135.3 377.6,135.8 379.6,137.2 381.6,138.4 383.6,139.1 385.6,139.5 387.6,140.1 389.6,141.2 391.6,142.4 393.6,143.5 395.6,144.6 397.6,145.9 399.6,146.4 401.6,146.3 403.6,145.5 405.6,143.3 407.6,141.0 409.6,138.6 411.6,137.6 413.6,136.6 415.6,134.0 417.6,130.8 419.6,128.0 421.6,125.5 423.6,122.5 425.6,117.5 427.6,111.8 429.6,104.9 431.6,97.8 433.6,92.2 435.6,89.8 437.6,88.6 439.6,87.2 441.6,86.1 443.6,87.2 445.6,89.1 447.6,91.6 449.6,95.3 451.6,99.9 453.6,105.9 455.6,111.8 457.6,117.2 459.6,121.3 461.6,124.8 463.6,126.8 465.6,128.7 467.6,130.5 469.6,131.7 471.6,132.5 473.6,134.1 475.6,137.0 477.6,140.3 479.6,144.3 481.6,148.1 483.6,151.5 485.6,154.4 487.6,157.6 489.6,162.3 491.6,167.0 493.6,171.3 495.6,175.5 497.6,179.5 499.6,183.2 501.6,186.6 503.6,189.9 505.6,192.7 507.6,195.2 509.6,197.4 511.6,199.4 513.6,201.0 515.6,202.6 517.6,204.2 519.6,206.0 521.6,207.8 523.6,209.7 525.6,211.6 527.6,213.5 529.6,215.5 531.6,217.5 533.6,219.5 535.6,221.4 537.6,223.2 539.6,224.8 541.6,226.3 543.6,227.4 545.6,228.3 547.6,229.3 549.6,230.3 551.6,231.3 553.6,232.4 555.6,233.4 557.6,234.4 559.6,235.2 561.6,235.9 563.6,236.7 565.6,237.4 567.6,238.4 569.6,239.5 571.6,240.7 573.6,241.8 575.6,242.4 577.6,242.9 579.6,243.4 581.6,243.9 583.6,244.6 585.6,245.4 587.6,246.1 589.6,246.9 591.6,247.5 593.6,248.2 595.6,248.8 597.6,249.5 599.6,250.0 601.6,250.5 603.6,251.0 605.6,251.5 607.6,251.8 609.6,252.0 611.6,252.2 613.6,252.4 615.6,252.5 617.6,252.6 619.6,252.7 621.6,252.9 623.6,253.0 625.6,253.1 627.6,253.1 629.6,253.2 631.6,253.3 633.6,253.4 635.6,253.4 637.6,253.5 639.6,253.6 641.6,253.7 643.6,253.8 645.6,253.9 647.6,254.0 649.6,254.1 651.6,254.3 653.6,254.5 655.6,254.7 657.6,254.9 659.6,255.1 661.6,255.3"/>
<path d="M275.6,199.7 277.6,199.1 279.6,198.5 281.6,197.8 283.6,196.9 285.6,196.1 287.6,195.3 289.6,194.3 291.6,193.4 293.6,192.4 295.6,191.4 297.6,190.4 299.6,189.6 301.6,188.9 303.6,188.1 305.6,186.9 307.6,185.7 309.6,184.6 311.6,183.6 313.6,182.7 315.6,181.9 317.6,181.1 319.6,180.3 321.6,179.3 323.6,178.3 325.6,177.3 327.6,176.1 329.6,174.8 331.6,173.3 333.6,171.7 335.6,170.8 337.6,170.1 339.6,169.1 341.6,167.5 343.6,166.1 345.6,165.3 347.6,164.1 349.6,161.9 351.6,159.2 353.6,155.7 355.6,150.7 357.6,145.7 359.6,141.7 361.6,139.8 363.6,139.8 365.6,140.3 367.6,141.2 369.6,142.0 371.6,142.0 373.6,140.9 375.6,140.0 377.6,140.4 379.6,141.5 381.6,142.4 383.6,142.3 385.6,141.8 387.6,141.1 389.6,140.9 391.6,141.2 393.6,142.1 395.6,143.5 397.6,145.1 399.6,145.9 401.6,145.9 403.6,145.0 405.6,142.8 407.6,140.4 409.6,138.0 411.6,137.3 413.6,137.1 415.6,135.5 417.6,133.3 419.6,131.2 421.6,129.2 423.6,127.0 425.6,123.8 427.6,120.5 429.6,115.2 431.6,108.4 433.6,102.3 435.6,99.1 437.6,97.3 439.6,96.1 441.6,95.5 443.6,97.2 445.6,99.2 447.6,101.8 449.6,106.1 451.6,111.2 453.6,117.5 455.6,123.2 457.6,128.2 459.6,132.0 461.6,135.1 463.6,137.1 465.6,138.8 467.6,140.4 469.6,142.1 471.6,143.2 473.6,144.5 475.6,146.4 477.6,148.5 479.6,151.1 481.6,153.7 483.6,156.4 485.6,158.9 487.6,162.0 489.6,166.7 491.6,171.5 493.6,175.9 495.6,179.9 497.6,183.5 499.6,186.8 501.6,189.8 503.6,193.1 505.6,196.3 507.6,199.3 509.6,201.6 511.6,203.7 513.6,204.9 515.6,206.0 517.6,207.0 519.6,208.5 521.6,210.2 523.6,212.1 525.6,214.0 527.6,215.7 529.6,217.3 531.6,218.9 533.6,220.4 535.6,221.9 537.6,223.4 539.6,224.9 541.6,226.5 543.6,227.6 545.6,228.6 547.6,229.6 549.6,230.5 551.6,231.5 553.6,232.6 555.6,233.7 557.6,234.7 559.6,235.5 561.6,236.2 563.6,236.8 565.6,237.5 567.6,238.5 569.6,239.6 571.6,240.7 573.6,241.8 575.6,242.4 577.6,242.9 579.6,243.4 581.6,243.9 583.6,244.6 585.6,245.4 587.6,246.1 589.6,246.9 591.6,247.5 593.6,248.2 595.6,248.8 597.6,249.5 599.6,250.0 601.6,250.5 603.6,251.0 605.6,251.5 607.6,251.8 609.6,252.0 611.6,252.2 613.6,252.4 615.6,252.5 617.6,252.6 619.6,252.7 621.6,252.9 623.6,253.0 625.6,253.1 627.6,253.1 629.6,253.2 631.6,253.3 633.6,253.4 635.6,253.4 637.6,253.5 639.6,253.6 641.6,253.7 643.6,253.8 645.6,253.9 647.6,254.0 649.6,254.1 651.6,254.3 653.6,254.5 655.6,254.7 657.6,254.9 659.6,255.1 661.6,255.3"/>
<path d="M275.6,199.9 277.6,198.9 279.6,197.8 281.6,196.7 283.6,195.5 285.6,194.5 287.6,193.6 289.6,192.7 291.6,192.1 293.6,191.4 295.6,190.7 297.6,190.1 299.6,189.7 301.6,189.4 303.6,189.0 305.6,188.1 307.6,187.1 309.6,185.9 311.6,184.8 313.6,183.8 315.6,182.8 317.6,181.9 319.6,180.9 321.6,179.7 323.6,178.7 325.6,177.8 327.6,177.0 329.6,176.1 331.6,175.1 333.6,174.0 335.6,173.2 337.6,172.4 339.6,171.2 341.6,169.4 343.6,167.7 345.6,166.4 347.6,164.4 349.6,161.3 351.6,157.9 353.6,153.9 355.6,148.9 357.6,144.1 359.6,140.6 361.6,139.6 363.6,140.8 365.6,142.7 367.6,144.8 369.6,146.7 371.6,148.1 373.6,148.3 375.6,148.4 377.6,148.8 379.6,148.9 381.6,148.5 383.6,147.7 385.6,147.1 387.6,147.1 389.6,147.9 391.6,148.6 393.6,149.2 395.6,149.8 397.6,150.6 399.6,150.6 401.6,150.5 403.6,149.9 405.6,148.1 407.6,145.8 409.6,142.8 411.6,141.1 413.6,139.7 415.6,137.4 417.6,135.4 419.6,134.4 421.6,133.6 423.6,131.6 425.6,127.0 427.6,121.3 429.6,113.9 431.6,106.5 433.6,101.2 435.6,99.5 437.6,98.8 439.6,97.6 441.6,96.1 443.6,96.8 445.6,97.7 447.6,98.8 449.6,101.0 451.6,104.1 453.6,108.7 455.6,113.7 457.6,118.7 459.6,123.0 461.6,126.7 463.6,128.8 465.6,130.5 467.6,132.0 469.6,133.0 471.6,133.6 473.6,135.0 475.6,137.8 477.6,141.1 479.6,145.4 481.6,149.5 483.6,153.3 485.6,156.3 487.6,159.3 489.6,163.8 491.6,168.6 493.6,173.3 495.6,178.2 497.6,183.0 499.6,187.3 501.6,191.0 503.6,194.3 505.6,197.2 507.6,199.7 509.6,201.6 511.6,203.6 513.6,205.1 515.6,206.3 517.6,207.4 519.6,208.9 521.6,210.4 523.6,211.9 525.6,213.4 527.6,214.9 529.6,216.4 531.6,217.9 533.6,219.5 535.6,221.2 537.6,222.8 539.6,224.4 541.6,225.9 543.6,226.9 545.6,227.9 547.6,228.8 549.6,229.7 551.6,230.8 553.6,231.9 555.6,233.0 557.6,234.1 559.6,235.0 561.6,235.8 563.6,236.6 565.6,237.3 567.6,238.4 569.6,239.5 571.6,240.6 573.6,241.8 575.6,242.4 577.6,242.9 579.6,243.4 581.6,243.9 583.6,244.6 585.6,245.4 587.6,246.1 589.6,246.9 591.6,247.5 593.6,248.2 595.6,248.8 597.6,249.5 599.6,250.0 601.6,250.5 603.6,251.0 605.6,251.5 607.6,251.8 609.6,252.0 611.6,252.2 613.6,252.4 615.6,252.5 617.6,252.6 619.6,252.7 621.6,252.9 623.6,253.0 625.6,253.1 627.6,253.1 629.6,253.2 631.6,253.3 633.6,253.4 635.6,253.4 637.6,253.5 639.6,253.6 641.6,253.7 643.6,253.8 645.6,253.9 647.6,254.0 649.6,254.1 651.6,254.3 653.6,254.5 655.6,254.7 657.6,254.9 659.6,255.1 661.6,255.3"/>
<path d="M275.6,209.5 277.6,209.2 279.6,208.9 281.6,208.6 283.6,208.3 285.6,208.0 287.6,207.7 289.6,207.5 291.6,207.0 293.6,206.5 295.6,206.0 297.6,205.4 299.6,204.9 301.6,204.4 303.6,203.9 305.6,203.4 307.6,202.9 309.6,202.4 311.6,201.6 313.6,200.8 315.6,199.9 317.6,199.1 319.6,198.2 321.6,197.4 323.6,196.6 325.6,195.7 327.6,194.5 329.6,193.3 331.6,192.0 333.6,190.8 335.6,190.0 337.6,189.4 339.6,188.8 341.6,188.2 343.6,187.7 345.6,187.2 347.6,186.8 349.6,186.3 351.6,183.6 353.6,180.3 355.6,176.3 357.6,172.2 359.6,169.5 361.6,167.1 363.6,165.3 365.6,164.1 367.6,163.0 369.6,162.0 371.6,162.2 373.6,162.8 375.6,163.3 377.6,163.8 379.6,164.4 381.6,164.4 383.6,164.0 385.6,163.8 387.6,163.9 389.6,163.7 391.6,163.3 393.6,162.7 395.6,162.2 397.6,162.1 399.6,162.2 401.6,162.5 403.6,162.5 405.6,162.1 407.6,161.8 409.6,161.5 411.6,161.5 413.6,161.3 415.6,160.6 417.6,159.3 419.6,158.2 421.6,157.3 423.6,155.9 425.6,153.5 427.6,147.1 429.6,139.3 431.6,133.4 433.6,128.8 435.6,126.5 437.6,124.4 439.6,121.9 441.6,119.0 443.6,117.3 445.6,115.6 447.6,114.0 449.6,114.0 451.6,115.9 453.6,120.0 455.6,124.6 457.6,129.1 459.6,132.8 461.6,135.9 463.6,137.7 465.6,139.2 467.6,140.9 469.6,142.9 471.6,144.5 473.6,146.4 475.6,149.0 477.6,151.9 479.6,155.6 481.6,159.1 483.6,162.4 485.6,165.1 487.6,168.1 489.6,172.5 491.6,176.7 493.6,180.4 495.6,183.9 497.6,187.0 499.6,190.0 501.6,192.6 503.6,195.4 505.6,198.2 507.6,200.7 509.6,202.6 511.6,204.4 513.6,205.5 515.6,206.4 517.6,207.3 519.6,208.9 521.6,210.6 523.6,212.5 525.6,214.3 527.6,216.0 529.6,217.6 531.6,219.1 533.6,220.5 535.6,222.0 537.6,223.4 539.6,225.0 541.6,226.5 543.6,227.6 545.6,228.7 547.6,229.8 549.6,230.8 551.6,231.8 553.6,232.7 555.6,233.7 557.6,234.7 559.6,235.5 561.6,236.2 563.6,236.8 565.6,237.5 567.6,238.5 569.6,239.6 571.6,240.7 573.6,241.8 575.6,242.4 577.6,242.9 579.6,243.4 581.6,243.9 583.6,244.6 585.6,245.4 587.6,246.1 589.6,246.9 591.6,247.5 593.6,248.2 595.6,248.8 597.6,249.5 599.6,250.0 601.6,250.5 603.6,251.0 605.6,251.5 607.6,251.8 609.6,252.0 611.6,252.2 613.6,252.4 615.6,252.5 617.6,252.6 619.6,252.7 621.6,252.9 623.6,253.0 625.6,253.1 627.6,253.1 629.6,253.2 631.6,253.3 633.6,253.4 635.6,253.4 637.6,253.5 639.6,253.6 641.6,253.7 643.6,253.8 645.6,253.9 647.6,254.0 649.6,254.1 651.6,254.3 653.6,254.5 655.6,254.7 657.6,254.9 659.6,255.1 661.6,255.3"/>
<path d="M275.6,202.6 277.6,202.3 279.6,201.7 281.6,200.9 283.6,199.7 285.6,198.4 287.6,197.2 289.6,196.1 291.6,195.3 293.6,194.8 295.6,194.3 297.6,193.7 299.6,193.1 301.6,192.5 303.6,191.7 305.6,190.4 307.6,189.1 309.6,188.0 311.6,187.0 313.6,186.2 315.6,185.5 317.6,184.7 319.6,183.8 321.6,182.6 323.6,181.2 325.6,180.0 327.6,178.8 329.6,177.8 331.6,176.9 333.6,175.8 335.6,175.0 337.6,173.8 339.6,172.0 341.6,169.5 343.6,167.5 345.6,166.4 347.6,165.0 349.6,162.6 351.6,159.8 353.6,156.1 355.6,150.9 357.6,145.4 359.6,140.8 361.6,138.2 363.6,138.0 365.6,138.6 367.6,139.9 369.6,141.2 371.6,141.9 373.6,141.5 375.6,141.0 377.6,141.3 379.6,142.2 381.6,143.0 383.6,143.2 385.6,143.0 387.6,142.9 389.6,143.2 391.6,143.8 393.6,144.5 395.6,145.2 397.6,145.8 399.6,145.5 401.6,144.6 403.6,143.1 405.6,140.5 407.6,137.8 409.6,135.3 411.6,134.4 413.6,134.2 415.6,133.4 417.6,132.5 419.6,132.1 421.6,131.2 423.6,129.2 425.6,125.3 427.6,121.1 429.6,115.2 431.6,108.9 433.6,104.1 435.6,102.5 437.6,101.9 439.6,101.0 441.6,100.3 443.6,101.7 445.6,103.1 447.6,104.8 449.6,107.9 451.6,112.3 453.6,118.1 455.6,123.1 457.6,127.1 459.6,130.0 461.6,132.7 463.6,134.7 465.6,137.1 467.6,139.6 469.6,142.1 471.6,144.3 473.6,146.8 475.6,150.1 477.6,153.5 479.6,157.6 481.6,161.4 483.6,164.9 485.6,167.8 487.6,171.1 489.6,175.5 491.6,179.9 493.6,183.7 495.6,187.3 497.6,190.5 499.6,193.6 501.6,196.6 503.6,199.7 505.6,202.7 507.6,205.0 509.6,206.7 511.6,208.5 513.6,209.6 515.6,210.6 517.6,211.7 519.6,213.2 521.6,214.6 523.6,215.9 525.6,217.2 527.6,218.5 529.6,219.8 531.6,221.2 533.6,222.7 535.6,224.1 537.6,225.6 539.6,227.0 541.6,228.5 543.6,229.3 545.6,230.0 547.6,230.8 549.6,231.5 551.6,232.3 553.6,233.1 555.6,234.0 557.6,234.8 559.6,235.5 561.6,236.2 563.6,236.8 565.6,237.5 567.6,238.5 569.6,239.6 571.6,240.7 573.6,241.8 575.6,242.4 577.6,242.9 579.6,243.4 581.6,243.9 583.6,244.6 585.6,245.4 587.6,246.1 589.6,246.9 591.6,247.5 593.6,248.2 595.6,248.8 597.6,249.5 599.6,250.0 601.6,250.5 603.6,251.0 605.6,251.5 607.6,251.8 609.6,252.0 611.6,252.2 613.6,252.4 615.6,252.5 617.6,252.6 619.6,252.7 621.6,252.9 623.6,253.0 625.6,253.1 627.6,253.1 629.6,253.2 631.6,253.3 633.6,253.4 635.6,253.4 637.6,253.5 639.6,253.6 641.6,253.7 643.6,253.8 645.6,253.9 647.6,254.0 649.6,254.1 651.6,254.3 653.6,254.5 655.6,254.7 657.6,254.9 659.6,255.1 661.6,255.3"/>
</g>
<path d="M275.6,202.4 C276.7,202.1 279.6,201.3 282,200.4 C284.4,199.5 287.7,197.8 290,197 C292.3,196.2 293.8,196.1 296,195.4 C298.2,194.7 300.7,194.1 303,193 C305.3,191.9 307.3,190.4 310,189 C312.7,187.6 316.3,186.0 319,184.4 C321.7,182.8 323.5,181.5 326,179.6 C328.5,177.7 331.8,174.3 334,173 C336.2,171.7 337.5,172.4 339,171.6 C340.5,170.8 341.7,169.2 343,168.4 C344.3,167.6 345.7,168.1 347,167 C348.3,165.9 349.9,163.6 351,162 C352.1,160.4 352.7,159.3 353.5,157.5 C354.3,155.7 355.1,153.4 356,151 C356.9,148.6 358.0,144.8 359,143 C360.0,141.2 360.8,140.2 362,140 C363.2,139.8 364.5,140.8 366,141.6 C367.5,142.4 369.3,144.7 371,145 C372.7,145.3 374.3,143.6 376,143.6 C377.7,143.6 379.2,144.9 381,145 C382.8,145.1 385.2,144.2 387,144.4 C388.8,144.6 390.2,145.6 392,146.4 C393.8,147.2 396.2,148.7 398,149 C399.8,149.3 401.5,148.8 403,148 C404.5,147.2 405.8,145.2 407,144 C408.2,142.8 408.8,141.5 410,141 C411.2,140.5 412.7,141.7 414,141 C415.3,140.3 416.5,138.2 418,137 C419.5,135.8 421.5,135.8 423,134 C424.5,132.2 426.0,128.5 427,126 C428.0,123.5 428.3,121.3 429,119 C429.7,116.7 430.4,114.3 431,112 C431.6,109.7 431.9,106.7 432.6,105 C433.3,103.3 434.1,102.4 435,101.6 C435.9,100.8 436.9,100.6 438,100 C439.1,99.4 440.4,98.1 441.6,98 C442.8,97.9 443.9,99.0 445,99.6 C446.1,100.2 447.0,100.4 448,101.5 C449.0,102.6 450.0,103.8 451,106 C452.0,108.2 453.0,111.8 454,114.5 C455.0,117.2 455.8,119.9 457,122.5 C458.2,125.1 459.7,128.1 461,130 C462.3,131.9 463.7,132.7 465,134 C466.3,135.3 467.7,137.0 469,138 C470.3,139.0 471.7,138.8 473,140 C474.3,141.2 475.7,142.8 477,145 C478.3,147.2 479.8,150.7 481,153 C482.2,155.3 483.0,157.2 484,159 C485.0,160.8 485.8,161.5 487,164 C488.2,166.5 489.7,171.0 491,174 C492.3,177.0 493.7,179.5 495,182 C496.3,184.5 497.7,186.8 499,189 C500.3,191.2 501.7,193.1 503,195 C504.3,196.9 505.5,198.8 507,200.5 C508.5,202.2 510.2,203.8 512,205 C513.8,206.2 516.0,206.7 518,208 C520.0,209.3 522.0,211.3 524,213 C526.0,214.7 528.0,216.3 530,218 C532.0,219.7 534.0,221.4 536,223 C538.0,224.6 539.7,226.3 542,227.6 C544.3,228.9 547.3,229.8 550,231 C552.7,232.2 555.3,233.9 558,235 C560.7,236.1 563.3,236.4 566,237.6 C568.7,238.8 571.3,240.9 574,242 C576.7,243.1 579.3,243.2 582,244 C584.7,244.8 587.3,246.1 590,247 C592.7,247.9 595.3,248.8 598,249.6 C600.7,250.4 603.3,251.1 606,251.6 C608.7,252.1 611.0,252.2 614,252.4 C617.0,252.6 620.2,252.8 624,253 C627.8,253.2 632.7,253.3 637,253.5 C641.3,253.7 645.7,253.8 650,254.1 C654.3,254.4 660.8,255.3 663,255.5" fill="none" stroke="#558ed5" stroke-width="2.4" stroke-linecap="round" stroke-linejoin="round"/>
<path d="M275.6,196.4 C276.7,196.1 279.6,195.4 282,194.4 C284.4,193.4 287.7,191.6 290,190.6 C292.3,189.6 293.8,189.2 296,188.6 C298.2,188.0 300.7,188.1 303,187 C305.3,185.9 307.3,183.7 310,182 C312.7,180.3 316.3,178.7 319,177 C321.7,175.3 323.5,173.5 326,171.6 C328.5,169.7 331.8,166.9 334,165.6 C336.2,164.3 337.5,165.2 339,164 C340.5,162.8 341.7,159.9 343,158.4 C344.3,156.9 345.8,156.6 347,155 C348.2,153.4 349.2,150.7 350,149 C350.8,147.3 351.0,147.5 352,145 C353.0,142.5 354.8,137.0 356,134 C357.2,131.0 358.0,128.5 359,127 C360.0,125.5 361.1,125.0 362,125 C362.9,125.0 363.6,126.0 364.4,127 C365.2,128.0 365.9,130.0 367,131 C368.1,132.0 369.7,132.5 371,133 C372.3,133.5 373.8,134.0 375,134 C376.2,134.0 377.0,133.0 378,133 C379.0,133.0 379.7,134.2 381,134 C382.3,133.8 384.5,132.2 386,131.6 C387.5,131.0 388.5,130.6 390,130.6 C391.5,130.6 393.3,131.3 395,131.6 C396.7,131.9 398.5,132.9 400,132.6 C401.5,132.3 402.5,131.8 404,130 C405.5,128.2 407.5,123.8 409,122 C410.5,120.2 411.7,120.2 413,119 C414.3,117.8 415.8,116.3 417,115 C418.2,113.7 419.0,112.2 420,111 C421.0,109.8 422.0,109.3 423,108 C424.0,106.7 425.0,105.7 426,103 C427.0,100.3 428.2,95.3 429,92 C429.8,88.7 430.3,85.7 431,83 C431.7,80.3 432.2,77.6 433,76 C433.8,74.4 434.6,74.0 435.6,73.6 C436.6,73.2 437.9,73.3 439,73.4 C440.1,73.5 441.4,73.2 442.4,74 C443.4,74.8 444.1,76.2 445,78 C445.9,79.8 447.0,82.5 448,85 C449.0,87.5 450.0,90.2 451,93 C452.0,95.8 453.0,98.6 454,101.5 C455.0,104.4 456.0,107.8 457,110.5 C458.0,113.2 458.8,115.8 460,118 C461.2,120.2 462.7,122.3 464,124 C465.3,125.7 466.7,127.6 468,128.4 C469.3,129.2 470.4,128.4 471.6,129 C472.8,129.6 473.8,130.3 475,132 C476.2,133.7 477.7,136.5 479,139 C480.3,141.5 481.7,144.8 483,147 C484.3,149.2 485.8,150.6 487,152.4 C488.2,154.2 488.8,155.4 490,158 C491.2,160.6 492.7,164.8 494,168 C495.3,171.2 496.7,174.3 498,177 C499.3,179.7 500.7,181.7 502,184 C503.3,186.3 504.7,188.8 506,191 C507.3,193.2 508.7,195.3 510,197 C511.3,198.7 512.5,199.7 514,201 C515.5,202.3 517.3,203.3 519,204.6 C520.7,205.9 522.2,207.3 524,209 C525.8,210.7 528.0,213.2 530,215 C532.0,216.8 534.0,218.3 536,220 C538.0,221.7 539.7,223.5 542,225 C544.3,226.5 547.3,227.6 550,229 C552.7,230.4 555.3,232.3 558,233.6 C560.7,234.9 563.3,235.6 566,237 C568.7,238.4 571.3,240.8 574,242 C576.7,243.2 579.3,243.2 582,244 C584.7,244.8 587.3,246.1 590,247 C592.7,247.9 595.3,248.8 598,249.6 C600.7,250.4 603.3,251.1 606,251.6 C608.7,252.1 611.0,252.2 614,252.4 C617.0,252.6 620.2,252.8 624,253 C627.8,253.2 632.7,253.3 637,253.5 C641.3,253.7 645.7,253.8 650,254.1 C654.3,254.4 660.8,255.3 663,255.5" fill="none" stroke="#ff0000" stroke-width="3.1" stroke-linecap="round" stroke-linejoin="round"/>
<rect x="275.6" y="16.6" width="392.0" height="244.2" fill="none" stroke="#262626" stroke-width="1.1"/>
<line x1="275.60" y1="260.8" x2="275.60" y2="264.0" stroke="#808080" stroke-width="0.8"/>
<text x="275.2" y="277.9" font-family="Liberation Sans, Arial, sans-serif" font-weight="bold" font-size="11.4" text-anchor="middle">0.1</text>
<line x1="334.60" y1="260.8" x2="334.60" y2="264.0" stroke="#808080" stroke-width="0.8"/>
<text x="334.2" y="277.9" font-family="Liberation Sans, Arial, sans-serif" font-weight="bold" font-size="11.4" text-anchor="middle">0.2</text>
<line x1="393.60" y1="260.8" x2="393.60" y2="264.0" stroke="#808080" stroke-width="0.8"/>
<text x="393.2" y="277.9" font-family="Liberation Sans, Arial, sans-serif" font-weight="bold" font-size="11.4" text-anchor="middle">0.4</text>
<line x1="452.60" y1="260.8" x2="452.60" y2="264.0" stroke="#808080" stroke-width="0.8"/>
<text x="452.2" y="277.9" font-family="Liberation Sans, Arial, sans-serif" font-weight="bold" font-size="11.4" text-anchor="middle">0.8</text>
<line x1="511.60" y1="260.8" x2="511.60" y2="264.0" stroke="#808080" stroke-width="0.8"/>
<text x="511.2" y="277.9" font-family="Liberation Sans, Arial, sans-serif" font-weight="bold" font-size="11.4" text-anchor="middle">1.6</text>
<line x1="570.60" y1="260.8" x2="570.60" y2="264.0" stroke="#808080" stroke-width="0.8"/>
<text x="570.2" y="277.9" font-family="Liberation Sans, Arial, sans-serif" font-weight="bold" font-size="11.4" text-anchor="middle">3.2</text>
<line x1="629.60" y1="260.8" x2="629.60" y2="264.0" stroke="#808080" stroke-width="0.8"/>
<text x="629.2" y="277.9" font-family="Liberation Sans, Arial, sans-serif" font-weight="bold" font-size="11.4" text-anchor="middle">6.4</text>
<text x="266.4" y="264.4" font-family="Liberation Sans, Arial, sans-serif" font-weight="bold" font-size="11.4" text-anchor="end">0</text>
<text x="266.4" y="233.9" font-family="Liberation Sans, Arial, sans-serif" font-weight="bold" font-size="11.4" text-anchor="end">0.2</text>
<text x="266.4" y="203.3" font-family="Liberation Sans, Arial, sans-serif" font-weight="bold" font-size="11.4" text-anchor="end">0.4</text>
<text x="266.4" y="172.8" font-family="Liberation Sans, Arial, sans-serif" font-weight="bold" font-size="11.4" text-anchor="end">0.6</text>
<text x="266.4" y="142.3" font-family="Liberation Sans, Arial, sans-serif" font-weight="bold" font-size="11.4" text-anchor="end">0.8</text>
<text x="266.4" y="111.8" font-family="Liberation Sans, Arial, sans-serif" font-weight="bold" font-size="11.4" text-anchor="end">1</text>
<text x="266.4" y="81.2" font-family="Liberation Sans, Arial, sans-serif" font-weight="bold" font-size="11.4" text-anchor="end">1.2</text>
<text x="266.4" y="50.7" font-family="Liberation Sans, Arial, sans-serif" font-weight="bold" font-size="11.4" text-anchor="end">1.4</text>
<text x="266.4" y="20.2" font-family="Liberation Sans, Arial, sans-serif" font-weight="bold" font-size="11.4" text-anchor="end">1.6</text>
<text x="439" y="297" font-family="Liberation Sans, Arial, sans-serif" font-weight="bold" font-size="12.5" textLength="36.8" lengthAdjust="spacingAndGlyphs">Period</text>
<rect x="232.5" y="57.8" width="15.5" height="150.6" fill="#fff" stroke="#bfbfbf" stroke-width="1"/>
<text transform="translate(243.9,204.8) rotate(-90)" font-family="Liberation Sans, Arial, sans-serif" font-weight="bold" font-size="12.3" textLength="143.8" lengthAdjust="spacingAndGlyphs">Spectral Acceleration (g)</text>
<rect x="304" y="231.6" width="86" height="21.8" fill="#fff"/>
<text x="311.2" y="246" font-family="Liberation Sans, Arial, sans-serif" font-weight="bold" font-size="10.4" textLength="72" lengthAdjust="spacingAndGlyphs">BORING # 313</text>
<rect x="453.3" y="1.7" width="228.5" height="75.7" fill="#fff" stroke="#4a4a4a" stroke-width="0.9"/>
<rect x="452" y="0.95" width="231" height="1.5" fill="#000"/>
<line x1="475.4" y1="14.3" x2="491.9" y2="14.3" stroke="#cdcdcd" stroke-width="1.6" stroke-linecap="round"/>
<line x1="475.8" y1="40.2" x2="491.5" y2="40.2" stroke="#558ed5" stroke-width="2.4" stroke-linecap="round"/>
<line x1="476" y1="66.1" x2="491.4" y2="66.1" stroke="#ff0000" stroke-width="3.1" stroke-linecap="round"/>
<text x="496.2" y="18.3" font-family="Liberation Sans, Arial, sans-serif" font-weight="bold" font-size="11.1" textLength="75" lengthAdjust="spacingAndGlyphs">Site Response</text>
<text x="496" y="44.2" font-family="Liberation Sans, Arial, sans-serif" font-weight="bold" font-size="11.1" textLength="163" lengthAdjust="spacingAndGlyphs">Average Spectrum for 100 MCS</text>
<text x="493.7" y="70.1" font-family="Liberation Sans, Arial, sans-serif" font-weight="bold" font-size="11.1" textLength="141" lengthAdjust="spacingAndGlyphs">10% Exceedance Spectrum</text>
</svg>
</body></html>
